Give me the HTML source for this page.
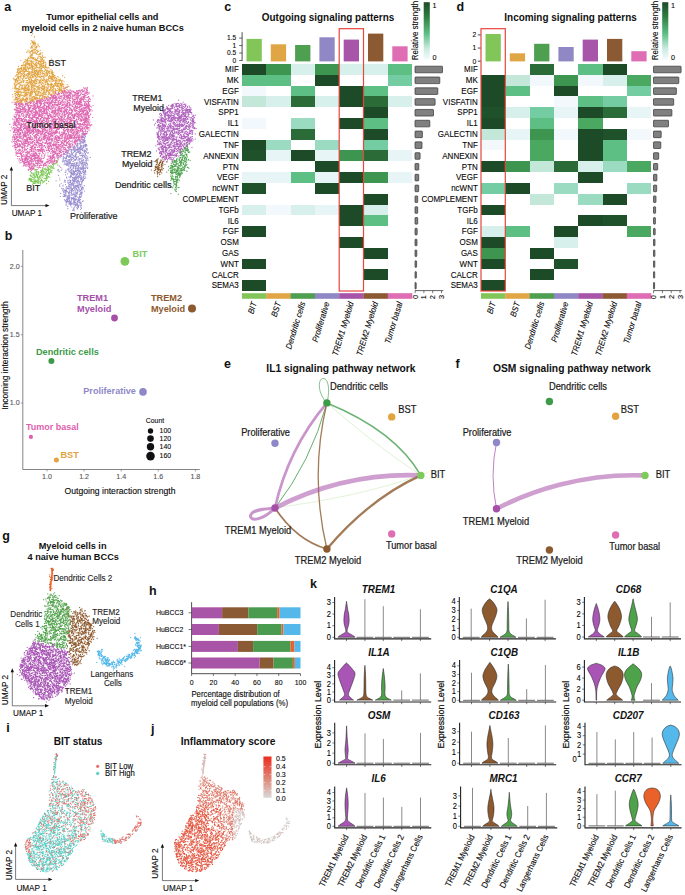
<!DOCTYPE html>
<html><head><meta charset="utf-8"><style>html,body{margin:0;padding:0;background:#fff;}svg{display:block;}text{font-family:"Liberation Sans",sans-serif;}</style></head>
<body><svg width="685" height="895" viewBox="0 0 685 895" font-family='"Liberation Sans", sans-serif'>
<rect width="685" height="895" fill="#fff"/>
<text x="4.2" y="11.2" font-size="12.5" font-weight="bold" fill="#111" transform="translate(4.2 11.2) scale(1 1.08) translate(-4.2 -11.2)">a</text>
<text x="102.3" y="20.5" font-size="9.2" font-weight="bold" text-anchor="middle" fill="#111" transform="translate(102.3 20.5) scale(1 1.08) translate(-102.3 -20.5)">Tumor epithelial cells and</text>
<text x="102.6" y="31.3" font-size="9.2" font-weight="bold" text-anchor="middle" fill="#111" transform="translate(102.6 31.3) scale(1 1.08) translate(-102.6 -31.3)">myeloid cells in 2 naive human BCCs</text>
<path d="M32.5 33.7h0m-.8 1.9h0m2.7 1h0m0 .5h0m-2.8 3.6h0m.4 1.6h0m.3-.2h0m.2-.2h0m.1 1h0m.2-1.6h0m.4 2.1h0m.1-2.3h0m.1 1.4h0m.3 .8h0m.5-1h0m.5-1.3h0m.6 1.5h0m-4.5 1.3h0m.8 2.2h0m.7-.3h0m.9-1.6h0m.5 .3h0m.1 0h0m.1 1.7h0m.2-.3h0m.4 0h0m.2-2.2h0m.6 .8h0m0-.5h0m0-.1h0m.2-.1h0m.2 1.3h0m1 1.4h0m.3 .1h0m1-2.3h0m.1 1.2h0m-7.4 2.5h0m.7-.8h0m.2 .9h0m.6-1.1h0m.2 1.1h0m1.6 1.2h0m1.1-1.5h0m0 .6h0m.3 1.2h0m.4-2.3h0m.3-.5h0m.4 .8h0m0 .4h0m.3-.8h0m.3-.1h0m2.3-.3h0m-12.6 5.7h0m.5-1.5h0m1.6 1.1h0m.1-1.9h0m0 1.4h0m1.7 .2h0m.2-.3h0m.5 .1h0m.1-.9h0m.9 .8h0m.2-1.4h0m.1 .4h0m.3 1.4h0m.2-1.6h0m.5-.3h0m.3-.1h0m.1 2.6h0m.1-2.4h0m.5 0h0m.4 1.7h0m.3 .3h0m.9-1.7h0m.3 0h0m.2 .2h0m.6 1.2h0m.5-1.6h0m.7 1.5h0m1.6-1.3h0m-10.4 2.5h0m.6 .3h0m.6 2.3h0m.2-1h0m.2 .3h0m.8-.9h0m.2 1.4h0m.1-2.1h0m0 .7h0m.5-.2h0m0-.3h0m1.5-.4h0m1.1 .2h0m.9 .6h0m.6 .7h0m.1-1.8h0m.2 0h0m1 2.2h0m.7-.3h0m.7-.8h0m.2 .7h0m.5-.3h0m.1-1.2h0m1.6 2.2h0m.2-2.2h0m-14 4.8h0m.1-.1h0m.1-.3h0m1.4-.8h0m.1-.6h0m.1 .9h0m.5 .3h0m0 .7h0m.6-.5h0m0 .2h0m.5 .7h0m0-2.2h0m.2 1.3h0m.2 .1h0m.6 .5h0m.8 .3h0m.2-.9h0m1.4 .8h0m2.4 .4h0m.3-.3h0m.2-.9h0m.9-.8h0m.2-.5h0m.9 2.1h0m.2-1.8h0m.5 .9h0m.2-.1h0m.4 .2h0m.5 .9h0m.4 .3h0m.2-2.3h0m.1 1.6h0m1.2-.4h0m1.3-.2h0m-24.4 3.4h0m4.6-1.2h0m.6 1.3h0m0-.2h0m0 .7h0m.4-.1h0m.5-.9h0m.2 .5h0m.2-1.3h0m.2 2.1h0m.2-1.5h0m.1-.9h0m.5 1.7h0m.1-2.1h0m1.2 1.9h0m.3-2h0m.8 2.4h0m.6-.7h0m.3 .7h0m0 .3h0m.8-.3h0m.1-2.4h0m.5 .3h0m.6 0h0m.3 2.5h0m0-2.6h0m.8 .7h0m.8 .7h0m.2 .4h0m.3-1.2h0m.1 1.4h0m.4-1h0m.6 .7h0m.1-1.4h0m.2 1.5h0m.4-2h0m.5 2.2h0m1 .1h0m.2 .3h0m1.1-1.6h0m.1 1.8h0m.6-.3h0m.1 .1h0m.1-.9h0m.4-.1h0m.2 1h0m0-2h0m.1 2.1h0m.5-1.9h0m.1 1.6h0m.1-1.7h0m.8 1.3h0m.4-.4h0m7.7-1h0m-28.4 3.7h0m.3-.1h0m.7-1.2h0m.2 .3h0m0-.4h0m1.1 1.7h0m.2 1.1h0m.1 .2h0m.3-1.7h0m.5 .8h0m.3 .4h0m.4-2.1h0m.1 .4h0m0 .2h0m.2 .5h0m0-.3h0m.2-.5h0m0 1.2h0m.6 .2h0m.4 .9h0m.6-.3h0m.1-.8h0m.7-1.4h0m.2 1.9h0m.7-1.9h0m.2 2.2h0m0-.4h0m.1-2h0m.2 1.2h0m.4-.8h0m.4 .7h0m.3 .1h0m.7 .6h0m0-.5h0m.4-.3h0m1.3 1.1h0m.4-.6h0m.4 1.2h0m.1-2h0m.3 .5h0m.1-.8h0m0 0h0m1.1 1.4h0m.2-.2h0m.2-.6h0m.6 .9h0m0-1.7h0m.4 1.8h0m.3 0h0m.1-2.2h0m.9 1.1h0m.4 1.6h0m.3-.8h0m.4 1h0m0-1.6h0m1.1 .7h0m.4 .1h0m.4-1.7h0m.2 .9h0m0 .2h0m.2 .1h0m.1 .1h0m.1-1.5h0m.5 .7h0m.8-.5h0m.6 .9h0m.1 1.5h0m-27.4 2h0m2.5 1h0m.4-1.8h0m.4 1.9h0m.3-2.4h0m.3 .8h0m.4 0h0m.1-.4h0m.1 .5h0m.6-1.2h0m.5 .3h0m.5 2.2h0m.1-1.5h0m.5-1.3h0m.1 .6h0m.2 .4h0m.2 1.4h0m.2-.5h0m.1-1h0m1.3-.9h0m.3 1.8h0m.2 .8h0m.1 .2h0m.5-2.8h0m.4 .5h0m.6 .2h0m.2 .5h0m.1 1.6h0m.1-1.5h0m.9-.1h0m.3-.3h0m.3 1.2h0m.1-1.2h0m.2 1.8h0m.4-2.2h0m.2 1.5h0m.3-1.1h0m0-.1h0m.1 1.9h0m.1-.9h0m0 .3h0m.5 .1h0m.8-.2h0m.1-1.9h0m.1 2.4h0m.2-2.5h0m.6 .8h0m.7 .4h0m.3-.4h0m.4 1.1h0m.2-1.7h0m.2 2.6h0m.1-1.7h0m.4 .1h0m2.1-1h0m.4 1.4h0m0-1.2h0m.1 2.2h0m.1-.3h0m0-.2h0m.5-.7h0m.9 .3h0m0 .4h0m.1-.9h0m.2-.3h0m.8 1.8h0m.3-1.4h0m.1 1.7h0m.2-2.7h0m.3 2.2h0m.2-1.6h0m.4 1h0m.1-.2h0m0 1.2h0m1-1.7h0m.2 .6h0m.1 .7h0m.1 .3h0m0-2.5h0m.2 2h0m0-1.7h0m.1 1.5h0m0 .6h0m.5 .2h0m.2 0h0m1.7-.1h0m-30.9 2h0m.3-.4h0m.7 1.3h0m.3-1.8h0m.2 2h0m.7-.7h0m.3-.9h0m.7-.5h0m.7 1.1h0m.1 .5h0m0-1.4h0m.2 .1h0m.1-.2h0m.3 1h0m.1 .7h0m1.1-2h0m.2 2.1h0m0-2h0m.2-.5h0m.1 1.3h0m.6-.4h0m.1-.2h0m.1 1.3h0m.3-1.3h0m.5 2h0m.1-.9h0m.1-.5h0m.2-.2h0m.1-1.2h0m.1 1.1h0m.7 .6h0m0 .4h0m.7-2.1h0m.1 .3h0m.1-.2h0m.8 .3h0m.1 1.1h0m.1 .2h0m0-.6h0m.2 .9h0m.7-1.2h0m.3-.1h0m0 0h0m.2-.4h0m.3 .7h0m.3-.8h0m1.2 1.8h0m.4-1.7h0m.2 1.6h0m.1-1.1h0m.6 0h0m0 1.3h0m1.2 .6h0m.2-1.6h0m0 .6h0m.3-.9h0m.7-.1h0m.2-.4h0m.9 2h0m.3-2.1h0m1 2.3h0m.1-2.5h0m.5 .2h0m.4-.2h0m.3 2.9h0m.3-.6h0m0-2h0m.9 2.3h0m.1-2h0m.8 .3h0m0 1.8h0m0-.5h0m0-.7h0m.2-1.2h0m.3 1.1h0m.2-.5h0m2.5 0h0m.8 1.1h0m.4-.3h0m.2 .8h0m.2-.3h0m.4-2.1h0m.8 2.2h0m.3-1.9h0m1.7 .2h0m1.9 1.2h0m-34 3.1h0m.5-1.3h0m.2 .2h0m.2 .8h0m.1-1.6h0m.1 2.5h0m.3-.3h0m0 .2h0m.9-.5h0m.1-.6h0m.5 .3h0m.1 .4h0m.4-.7h0m.1-.9h0m.1 2.2h0m.2 .2h0m.9-1.8h0m.2-.1h0m.4-.9h0m.5 .3h0m0 1.9h0m1-1.3h0m.1 .6h0m.6 .8h0m.2-1.6h0m.4 .1h0m1-.5h0m.5-.2h0m.2 .9h0m.6-.2h0m1.2 .8h0m.2-.9h0m0-.2h0m.6 1.6h0m0-.9h0m0 .4h0m.2 .7h0m.6 .5h0m.8-1.7h0m.3 .9h0m.7-1h0m.4 .2h0m0 1.2h0m.2-2.4h0m.4 1.7h0m.8-.3h0m0 0h0m.2-.4h0m0 .6h0m.4-.6h0m0-.5h0m.1 .7h0m.1-.3h0m0-1h0m.3 2.6h0m.2-2.1h0m.1 2.5h0m.2-1h0m.2-.1h0m0 1h0m0-2.8h0m.4 2.7h0m.3-1.9h0m.1-.2h0m.2-.1h0m.3 .6h0m0 1.3h0m.3-.1h0m.4-.2h0m.5-1.8h0m0 1.3h0m0 .2h0m.4 .3h0m.1-1.2h0m.2-.7h0m.8-.3h0m.1 1.4h0m.5-.7h0m.1 1.7h0m.1 .3h0m.1-.7h0m.5 .6h0m0-2.6h0m.2 .1h0m.7 .6h0m.4 .8h0m.1 1h0m.3-2.3h0m1.1 1.2h0m.8-.8h0m.1 0h0m.3 2.2h0m1.1-.9h0m.4 .8h0m0-1.5h0m.2-.7h0m.4 1.2h0m.3-1.5h0m.4 2.6h0m.3-2.1h0m.4 1.5h0m.1-1.6h0m.3 1h0m.1-.9h0m.6 1.9h0m.2-1.8h0m.1 1.9h0m.2-2.2h0m1.2 1.1h0m.3 1.3h0m.3-2.8h0m0 2.2h0m.1-1.2h0m0 1.1h0m0-1.7h0m.7 1.5h0m.1-.3h0m.2 .2h0m-37.9 3.6h0m.9 .1h0m.3-1h0m.2-.4h0m.1 .1h0m1-.1h0m0 1.6h0m.5-2.5h0m.5 2.5h0m.2-.5h0m.1-2h0m.5 .2h0m1.5 2.2h0m0-1h0m.1 1h0m.1 .1h0m.1-.4h0m.1-1.7h0m.1-.5h0m1.2 .6h0m.6 1h0m0 .1h0m.4-1.8h0m.1 2.8h0m.2-.8h0m.3 .5h0m.3-1.4h0m.1-.3h0m1.1 .6h0m.3 .3h0m.2-1.1h0m.3 .8h0m.8 1h0m0-.5h0m.3-1.9h0m.2-.1h0m0 1.4h0m.2-1.1h0m.2 .4h0m.2-.6h0m.2 1.6h0m0-1.6h0m.6 .4h0m.2 .7h0m.9 1.4h0m.3-2.1h0m.2 0h0m.3 .1h0m.2 1.3h0m.1-1.4h0m.6 2h0m.6-1.1h0m.1 1.3h0m.4-1.5h0m.4-.7h0m.5 .8h0m.2-1h0m.3 1.6h0m.1 .3h0m.2-1.4h0m.6 1.3h0m.1 .8h0m.9-1.7h0m.6 .2h0m.2 .4h0m0-1h0m.2 .9h0m.2 .9h0m.2-2.2h0m.1 .1h0m.2 .1h0m0-.3h0m.4 1h0m.2-.2h0m.4-.4h0m0 .6h0m.7 1.6h0m.8-1.6h0m.4 0h0m.9 1.4h0m.1 .1h0m.5-2.4h0m.1 2.4h0m.6 .1h0m0-2.6h0m.6-.2h0m.1 2.5h0m.3-.4h0m.4-1.1h0m.4 .1h0m.6 1.4h0m.1 .1h0m.9-.3h0m0-2h0m.4 1.1h0m.2 .4h0m.3-.5h0m.3-1h0m1.1 2.5h0m.6-1h0m.2-1.8h0m.2 .2h0m.7 2.6h0m.1-.4h0m1.1-2.2h0m.3 1.4h0m.3-1.3h0m0 .8h0m.1 1.3h0m.1-2.5h0m.1 2.7h0m.6-1.6h0m0 1.7h0m.2-2.1h0m.6 1.1h0m.1 1.2h0m.8-.9h0m7.6 .2h0m.1-.2h0m-49.3 2.7h0m.7 .7h0m1.8 .3h0m.6-.8h0m.2 .9h0m.9-1.9h0m.3 .9h0m.2 0h0m.2-1.1h0m0 1.3h0m.5-1.9h0m.1 1.6h0m.1-.2h0m.1-1.3h0m1.1-.3h0m.4 1.2h0m.1 .1h0m1.3 .8h0m.2 .3h0m.3 .5h0m.6-2.9h0m.3 .8h0m0 .9h0m1.1-1.5h0m.2 .1h0m.2-.1h0m.4 1.5h0m.7 .2h0m.4-.2h0m.8-.9h0m1 1h0m.1-1.7h0m.4 2.4h0m.1-1.2h0m.4-.3h0m.5 1.9h0m.2-2.8h0m.1 1.4h0m.3 0h0m.4-.8h0m.2 .9h0m.4 1.4h0m.3-1.4h0m1-.9h0m.5 .6h0m.1-.4h0m.2-.9h0m1.6 2.4h0m.1-2.1h0m.3 2.3h0m.4-2.5h0m.2 1.5h0m.8-.9h0m0 2.2h0m.8-.1h0m.2-.1h0m.5-2.3h0m.8-.1h0m.3 0h0m.8 .6h0m.5 1.7h0m.4-2.1h0m0-.3h0m.3 2.2h0m.9-2.4h0m.5 .2h0m.1 .1h0m.4 2h0m.2 0h0m.2-.3h0m.5-1.1h0m.4 1.6h0m1.6 .4h0m.2-.3h0m1.9-1.9h0m0 .3h0m.3 .4h0m0 1h0m.3-2.4h0m.8 1.5h0m.2 .5h0m.1-1.1h0m.1-.8h0m.4 1h0m.6 .8h0m.2-.6h0m.2-1.3h0m.1 .9h0m.2 .9h0m.4 .4h0m.1-2h0m.1 .5h0m.1 .1h0m.4 1.8h0m0-.6h0m.8-.8h0m1 1h0m.2-1.1h0m.2 1.7h0m.4-2h0m.9 1.5h0m.2-.7h0m.2 .7h0m.8-2.2h0m1.2 .9h0m.7 2h0m.9-.5h0m4.2-1.7h0m-50.3 2.6h0m.8-.2h0m.1 2.4h0m.1-.6h0m.1-.3h0m.2-.9h0m.1 2h0m.5-1.4h0m.1-.8h0m.2-.2h0m.6 2h0m.4-.6h0m0-1h0m.5 .7h0m.8-1.1h0m1.1 2.3h0m.1-2.2h0m0 .3h0m0-.5h0m.3 2.7h0m.9-.3h0m.2-1.2h0m1.3 .1h0m.6-.8h0m.2 2h0m.1-.8h0m.4-.2h0m.2-1.2h0m1.9 .5h0m.9 0h0m.3 1.5h0m.4-1.6h0m.6 1.8h0m.8-2.7h0m.2 1.8h0m.3 .8h0m.1-2.5h0m.1 1.2h0m.1 1.3h0m.7-.9h0m.4 1.1h0m.4-1.4h0m.1-1.3h0m0 .8h0m.1-.7h0m.2 2.2h0m.4-1.1h0m.6-.4h0m.4 .1h0m.3 1.2h0m0 .7h0m.6-1.5h0m.1-.2h0m.3 .8h0m.4 .5h0m.1-2.6h0m0 .7h0m.7 .6h0m.4-.5h0m.5 1.1h0m.4 .7h0m1.1-1.5h0m1.1-.5h0m.2 2.3h0m.1-.7h0m.6-.9h0m.3-.5h0m.5 .4h0m.3 1h0m1.3-1.3h0m0-.6h0m1.1 .8h0m.3 1.2h0m.2-2.2h0m0 1.1h0m1.2 1h0m.4-1.4h0m.1 1.8h0m.5-.5h0m.1-1.3h0m.5 1.1h0m.2 .5h0m.2-.7h0m.3-1.6h0m.6 .4h0m.7 .3h0m.2 .9h0m1 .6h0m1-1.9h0m0-.2h0m.1 .5h0m.8 1.3h0m.2-1.9h0m.8 1.6h0m.2-1.4h0m.5 .6h0m1.2 .4h0m.3 .5h0m.3-.2h0m.1-.5h0m.3 .4h0m.4 1h0m.3-1.7h0m.3 .3h0m.9 1h0m.2-1.9h0m.4 .2h0m.9 1.6h0m.1-1.4h0m0 .5h0m.9-.5h0m.7 .6h0m.3-.1h0m.2 .7h0m.1-.1h0m.1 1.1h0m0-.5h0m1-1.5h0m1.3 1.3h0m-49.9 1.7h0m.3 1.4h0m.1 .3h0m.4-.9h0m.1 1.2h0m.4-1.3h0m.8 1.4h0m.4-1.4h0m.2 .4h0m1-.5h0m0 .1h0m.4-1.1h0m.6 .7h0m0-.2h0m.1-.3h0m.2 .4h0m.7 .7h0m0-.4h0m.6-1.3h0m.2 2.1h0m.1 .7h0m1.1-2.6h0m.3 2.5h0m1-.3h0m2-.7h0m1-1.5h0m.4 2.3h0m.4 .5h0m.2-2.8h0m.3 1.7h0m.3-.4h0m.6 1.5h0m0-2.2h0m.1 1.9h0m1.6-1.8h0m.1 1.1h0m.2-1.1h0m.6-.8h0m.3 2.7h0m0-.7h0m.3-1.5h0m.1-.4h0m.3 2.1h0m.5-1.3h0m.2 1.4h0m.1 .3h0m.2-.5h0m0-1.7h0m.1-.1h0m.1 2.1h0m0-.6h0m1.3 .6h0m0-2h0m.3 1.8h0m.3-1.7h0m.1 1.1h0m.2-1.5h0m.9 .7h0m.7 .3h0m1.9-.8h0m.4 .9h0m.1 1.5h0m1.1-2.3h0m.1-.4h0m.7 1.8h0m.7 .7h0m.1-1.8h0m0-.5h0m.4-.3h0m.1 2.8h0m.8-1.6h0m1.7 1h0m0-1.7h0m.4 1.3h0m.4-1.7h0m1.2 1.4h0m.2-1.1h0m.2 .4h0m.3 1.1h0m.4 .3h0m.1-1.2h0m.3 .8h0m0 .1h0m.2 .3h0m0-.6h0m.3 .5h0m1.2 .3h0m.5-.8h0m.1-.3h0m.2 .6h0m.6-1.2h0m.3 1.1h0m.9 .1h0m1.8-.9h0m.2 0h0m.1 1.5h0m.1-1.1h0m.4 1.2h0m.1-1.1h0m0-1.3h0m.2 1.9h0m.3-1.3h0m.4 .2h0m.2 1.5h0m.5-1.6h0m.2 1.9h0m.4-.7h0m.1-1.6h0m0 .5h0m.2-.2h0m.1 1.5h0m.3-1.1h0m.2-.4h0m.4-.5h0m.1 .4h0m.1 .6h0m.3-.4h0m.4 1.9h0m.2-1.9h0m.4 .9h0m.3 1.1h0m.1-1.7h0m.3 1.1h0m0-.1h0m.7 .5h0m0-1.1h0m.3-.7h0m.2-.1h0m.3 1.4h0m1.1-.5h0m3.4 .5h0m-54.3 3.4h0m1.6-.1h0m.5-1.9h0m0 1.3h0m.1-1.2h0m.3 1.1h0m.2-1.4h0m.1 1.3h0m.5 .9h0m.5 .2h0m1.8 .1h0m.5-1.9h0m0 1.3h0m.4-1.6h0m0 .6h0m.4 .1h0m1.9-1.3h0m0-.1h0m0 .2h0m.1 1.9h0m.2-.2h0m0-.4h0m.2-.3h0m.5 1.6h0m1-.3h0m.6-1.2h0m.1-1.2h0m.3 2.5h0m.1-.7h0m.7 .7h0m0-2.1h0m.2 1.2h0m0 1h0m0-2.4h0m.4 0h0m0 2.6h0m.1-2.1h0m.6 1.9h0m.1-.1h0m.3 .1h0m0-.4h0m1 .2h0m0-1.4h0m.1 .9h0m0-1.6h0m.4 1h0m.2 1.3h0m.1-1.4h0m0 1.6h0m.2-1.9h0m.5-.4h0m1.4 1.7h0m.1-.5h0m.2-.8h0m.1 1.3h0m0-1.2h0m.1-.4h0m.4 1.9h0m.4-2.3h0m.1 1.9h0m0-1.9h0m.3 1.9h0m.1-.3h0m.4-1.6h0m.2 .4h0m.5 2.2h0m.7-.4h0m.1-1.9h0m0 .4h0m.1-.8h0m.2-.2h0m.5 .5h0m1.2 1.6h0m.1-.7h0m.1-.9h0m0 1.4h0m.9-.8h0m.4 .4h0m.1-.9h0m0 1.9h0m.5-1.5h0m.2 1.7h0m.5-.6h0m1.1-.4h0m.6 1.1h0m.3-.5h0m.4-1.2h0m.4 1.4h0m.1-1.3h0m.8-.7h0m.3 0h0m.2 2h0m.1-.1h0m.1-1h0m0-.6h0m.3-.5h0m0 2.1h0m.1 .4h0m.3-2h0m.1 .7h0m0-.8h0m.2 1.3h0m1.5-.4h0m.7 .5h0m.5-1.8h0m0 2.7h0m.8-.7h0m0-1.6h0m1.6-.1h0m.3 1.9h0m0-.5h0m.5 .4h0m.2-1.7h0m0 2.3h0m.3-2.9h0m.2 0h0m.4 .4h0m.2 1h0m0 .8h0m.3-.7h0m.5-.2h0m.1-.1h0m.3-1.1h0m.3 1.6h0m.1-.2h0m.3-1.2h0m.7 0h0m1.8 .4h0m.4-.5h0m.2 .9h0m.5-.8h0m.1 .2h0m.2-.4h0m.1 .9h0m0-.6h0m.8 .5h0m.1 1.3h0m.5-.5h0m.4 .6h0m.5-1.8h0m.9 1.2h0m.3-1.5h0m.2 1.2h0m1.3-.6h0m.1-.2h0m.3 .3h0m.4 .9h0m.3 .9h0m.7 .1h0m1-1h0m.7-.2h0m1.2-.6h0m1-.4h0m-54.2 5.2h0m.3 0h0m.1-2.7h0m.4 .2h0m.4-.2h0m.2 .5h0m.2 1.9h0m.3 .2h0m.5-2.2h0m.1-.4h0m.1-.1h0m.7 0h0m0 2h0m.3-1.7h0m.1 1.6h0m.1 .9h0m.4-2.4h0m.3 .4h0m.5-.1h0m.2 1.7h0m.1-1.5h0m.2 1.9h0m.4-.1h0m.6-1.5h0m.1-1.2h0m.5-.1h0m.3 .4h0m.2-.3h0m.8 .2h0m.8 1.4h0m.1-1.1h0m.1-.5h0m.3 2h0m.1-1h0m0-.5h0m.4 1.3h0m.7-1.7h0m.2 1.6h0m.1-.1h0m.2 .6h0m0 0h0m.5-.6h0m.2 0h0m.1-1.1h0m0 1h0m.1 .2h0m.2-.8h0m.1 .7h0m.4-.3h0m.4 .4h0m.3-.6h0m.2-.2h0m0 .1h0m.4 .7h0m.4-1.3h0m.1 .2h0m.2 .2h0m.2 .5h0m.9 1.1h0m.4 0h0m.2-1.6h0m.6-.4h0m.1 .7h0m0 1.1h0m.1 .2h0m.4 0h0m1.1 .3h0m.3-.2h0m0 .3h0m0-1.8h0m.2-.3h0m.1 1.1h0m.5-.6h0m.3-1.1h0m.2 2.6h0m.3-2.2h0m1 1h0m.1 1.4h0m0-1.2h0m.9-1.5h0m.1 2.2h0m.3-1.4h0m.3-.3h0m.1 2h0m.6 0h0m.1-.1h0m.1-2.6h0m.4 .7h0m.1 .2h0m.4-.5h0m1.5 1h0m.1 .4h0m.5-.3h0m.2-1.4h0m.1 .3h0m.7 .1h0m.3 .3h0m.2-.4h0m0 .3h0m.2 .7h0m0-.5h0m.1 1.6h0m.2-.4h0m.2-1.5h0m.3-.3h0m.2-.1h0m.2 2h0m1.1-1.6h0m.2 1.9h0m0-.6h0m.2-1.6h0m.4 .9h0m.2 1.1h0m.1 .4h0m.6-1.5h0m.3 .9h0m.6 .4h0m.2-.4h0m.6-1h0m0 .9h0m1-1.6h0m.3 .7h0m0 1.4h0m.1-2.3h0m.1 .1h0m.5 2.1h0m.3-.4h0m.7-1.1h0m.4 1.4h0m.6-.8h0m.2-1.6h0m.1 .3h0m.2-.2h0m1.3 1.7h0m0-1h0m.2-.4h0m.3 1.3h0m.8 .3h0m.2-.2h0m.9-1.7h0m.2 2h0m.8-1.3h0m.5 1h0m.2-.7h0m.1 .3h0m.1-1.3h0m.6 1.7h0m.1-.7h0m.3-.3h0m.1 .1h0m.1 1.7h0m.1-.5h0m.2-1.7h0m.7 1.5h0m.3-1.6h0m.1 2.5h0m.8-.3h0m.2-.6h0m.5-1.8h0m.2 0h0m.2 .4h0m1.2 2.1h0m.1-.6h0m1.2-1.1h0m3.1 .6h0m-55 3.6h0m.8-.3h0m0 .5h0m.8-1.5h0m.1 1.8h0m.3-1.7h0m.1-.6h0m.2 2.6h0m.4-2h0m.2-.7h0m.5 1.2h0m.1 1.5h0m.1-1h0m.1 .5h0m.4-1.3h0m.5-.3h0m1.3-.4h0m.2 2.4h0m.3-.7h0m.1-1.3h0m.1 .1h0m.7-.1h0m.8-.3h0m1 .8h0m.2-.7h0m.2-.5h0m0 .6h0m.3 .3h0m.3 1.6h0m.8-1.2h0m.1 .9h0m0-.4h0m.2-1.5h0m.1-.2h0m.2 2.7h0m.6-1h0m.2-1.2h0m.3 .4h0m0 1.9h0m.6-.2h0m.4-2.4h0m.3 .6h0m.2 1h0m1-1.5h0m.3 1.2h0m.2-.8h0m0 1.3h0m0-.3h0m.2 .4h0m.5-1.5h0m.1-.7h0m.1 1.2h0m.4 .4h0m.2 .1h0m0 .2h0m.4 .1h0m0-1.7h0m.1 .5h0m.2-.2h0m0 1.8h0m1.6-2h0m.4 .5h0m.3 .1h0m.4 .3h0m.3 1h0m.1-.8h0m.2 .7h0m.1 .5h0m.1-.3h0m.2-2.1h0m.4 2.3h0m0-2.5h0m1.1 1.3h0m.4 .2h0m.2-.8h0m.2 1h0m.2-1.7h0m1 .5h0m.3-.1h0m.2 .8h0m.7-.7h0m.3 1.9h0m.7-.3h0m.3-.5h0m0 .6h0m1-1.7h0m.2 1.1h0m.4-1.2h0m0 2.2h0m.4-1.9h0m0-.5h0m.7 1h0m.1 .5h0m0 .9h0m.1-.1h0m.7-1.5h0m.5-.4h0m0 2.1h0m2-.6h0m.4 .3h0m0-1.7h0m.4 .4h0m.3 0h0m.1-.3h0m0 .5h0m0 .1h0m.3 .9h0m0-1.7h0m.8 1.9h0m.9 0h0m1.1-2.1h0m.4 2.2h0m.2-1.1h0m0 .5h0m.3-1.9h0m1.4 .1h0m.2 .9h0m.2 1h0m.1-1.4h0m.3-.9h0m.3 1.7h0m0 .1h0m2.5-1.3h0m.5-.3h0m.4-.2h0m0 .4h0m1.5 .9h0m.1-.1h0m.9-1.1h0m1.4 .7h0m1.8 1.1h0m-52.5 1.2h0m.4 2.3h0m2.2-1.6h0m.1 .8h0m0-.3h0m1 1.6h0m.9-2.4h0m.3 .9h0m.1-1.1h0m.7 1.9h0m.2-2.1h0m.6 2.5h0m.3-2.5h0m.1 1.8h0m0-.9h0m.1 1.4h0m.1-1.3h0m0 .9h0m0-.2h0m.1-.3h0m.3 .8h0m.2-1.7h0m.7 .1h0m.9 .4h0m.8-.4h0m.9 .6h0m.2 .5h0m.5 .2h0m.4 0h0m0-1.3h0m.1-.4h0m.4 .9h0m.2-.6h0m.1-.1h0m.6 2.2h0m.2-1.5h0m.3-.6h0m.1 .5h0m.6-.8h0m.5 2.1h0m1.5-1.6h0m.5 .2h0m0-.2h0m.1 1.3h0m.1-2.1h0m.1 1.4h0m.6-.2h0m.4-.2h0m.1-.9h0m.4 1.4h0m.7 1.2h0m.4-.4h0m1-.5h0m.9 .5h0m.3 0h0m.2-1h0m.6-1.2h0m.1 .2h0m0 .2h0m.3 2.3h0m.2-2.1h0m.5 1.8h0m0-2.5h0m.2 0h0m.3 .6h0m.2-.1h0m0 .3h0m.1-.4h0m.3-.3h0m.3 .6h0m.2 0h0m1.1-.1h0m.1 1.9h0m.3-1h0m.6-.5h0m.1 .6h0m.1-1.1h0m.1-.1h0m1.1 .7h0m1.1-.4h0m.1 1.7h0m.2-1.7h0m.4 1.7h0m.6 .6h0m.2-1.1h0m.5 .5h0m.4 0h0m.4-.8h0m1 .9h0m.8-1h0m.8 .9h0m.3-2.2h0m1.9 .6h0m6.1-.7h0m-42.7 5.5h0m.8-.3h0m.5-1h0m.4-1.1h0m.2 .1h0m.1 1.2h0m.1 .9h0m.6-.7h0m.2-1.7h0m.1 .2h0m.2 1.2h0m0 .3h0m.2 .1h0m.5 .3h0m.1 .8h0m.2-1.6h0m0-.2h0m.2-.1h0m1 0h0m.7 1.3h0m.5-.2h0m.4-.7h0m.2 1.5h0m0-1.4h0m1-.9h0m.2 1.4h0m0 .8h0m.4-2.3h0m.1-.5h0m.3 1.7h0m.2-.8h0m.1 1.7h0m.2-1.2h0m0 .1h0m.4 .5h0m0-.2h0m.1 .7h0m1-.1h0m.1-1.1h0m.6 .8h0m0-.2h0m.3 .9h0m.1-2.1h0m.1 .7h0m.3-.4h0m.7 1.2h0m.3-.3h0m.1-.4h0m1.5-.9h0m.1 1.8h0m.5-1.7h0m.4 .5h0m.1-.6h0m.2 2.2h0m.2-.1h0m.1 0h0m.6-.3h0m.1 .2h0m.1-1.3h0m.2-.3h0m0-.8h0m.2 .1h0m.1 1.5h0m0-1.1h0m0 .1h0m.2 1.5h0m.6-.2h0m.7 .4h0m.1-2.5h0m.2 .2h0m.1 1.2h0m0-.6h0m.1 .9h0m.5-.3h0m.1-.5h0m.6 1.2h0m0-1.4h0m.6 .6h0m.3-.8h0m.5 .4h0m.3 .3h0m.3-1h0m.1 1h0m.5-.4h0m.8 .7h0m.7-.9h0m.1 .9h0m1.4-.3h0m.4 .3h0m.1-1h0m.5-.2h0m.6 2.2h0m.3-1.8h0m2.1-.4h0m.1 .1h0m1.4-.4h0m1.3 1.7h0m-33.6 3.1h0m1.6-.3h0m1.2 .2h0m.3-.6h0m.1-.2h0m.2-.7h0m.1 2.1h0m.8-1.6h0m.4 .1h0m.5-.8h0m0 .5h0m.4 1.3h0m.6-1.4h0m.1 1.6h0m.1-1.4h0m.4 1.7h0m.1-.2h0m.2-.3h0m.1-.2h0m.1-.3h0m.5-1.1h0m.2 .4h0m.6 1.9h0m1.9-1.1h0m.2-.8h0m.4-.5h0m.6 2.3h0m.3-1.5h0m.2-.5h0m.1-.2h0m.5 .4h0m.8 1h0m.9 .3h0m.2 .5h0m1-1.2h0m1 .4h0m.1-1.1h0m1.1-.4h0m1.1 .6h0m0-.1h0m.9 .1h0m2 .9h0m.5-1.6h0m1 .5h0m.6 .2h0m-22.5 3.1h0m1.1 .8h0m.2 .3h0m4.9-1h0m6.9-.6h0m-10.1 3.1h0" stroke="#E2A544" stroke-width="1.24" stroke-linecap="round" fill="none"/>
<path d="M65.2 88h0m2-.6h0m16.6 .3h0m2.1 .2h0m1.4-.6h0m-25.8 2.7h0m2.6 0h0m.1 1.1h0m.2 .3h0m.3-.5h0m1.4 .6h0m1.8-1.3h0m.9 .8h0m1.7-.8h0m1.1 1.1h0m.4-.5h0m1.2 .5h0m.3-.3h0m3.2-.5h0m.8 .6h0m.6-.2h0m.5-.3h0m1.1-.4h0m.4 .3h0m0 .8h0m1.1-1.4h0m.8 .5h0m.6-.7h0m.7 1.3h0m.7 0h0m.3-.6h0m0-1.9h0m.7 .4h0m1.2 2.3h0m0-.1h0m.3-1.7h0m.3 .4h0m.5-1.1h0m.1 2h0m-32.9 3.4h0m.2-.3h0m.4-1.9h0m0 0h0m.8 1.1h0m1.7 1h0m.5 .4h0m.2-1.7h0m.3 .8h0m.2 .7h0m.7-.6h0m2-.1h0m.7-.5h0m0-1.3h0m.2 .5h0m.3 .2h0m0-.2h0m.1 .7h0m.1-1h0m.8 1.8h0m.1 .6h0m.3-2.3h0m.6 0h0m.3 .7h0m.9-.7h0m.6 .9h0m.7-.9h0m0 1.3h0m.4-.8h0m1-.5h0m.2 0h0m.1 2.4h0m.2-1.4h0m.2-1h0m.5 2h0m0-1.9h0m.3 .4h0m.1 1.3h0m0-.8h0m.1 .1h0m0-.7h0m.7 1.3h0m.1-1.2h0m.7 1.4h0m1.2-2.1h0m.9 .3h0m.3 .5h0m.5 .3h0m0-.4h0m.1-.5h0m.5 1.1h0m.5-.8h0m.1 .4h0m.4 .9h0m.2-2.1h0m.4 2.4h0m.2-.5h0m.2 .9h0m.2-.5h0m0-.6h0m.1 .5h0m.1-.4h0m.2-1h0m.1 .9h0m.7 .1h0m.4-1.1h0m1.4 2.1h0m.4-2.1h0m.2 1.5h0m.2-.7h0m1.1 1.3h0m.1 0h0m0-2.6h0m.5 .1h0m.4 2.5h0m0-2.7h0m1.3 2.3h0m.4-1.7h0m0 .7h0m.9 .4h0m.4 .2h0m.1-1.3h0m.7-.1h0m0 .7h0m.3 .1h0m.3-.3h0m1 1.2h0m.4-1.1h0m-72.8 4.7h0m26.2-1.3h0m5.5 .8h0m1.4 .6h0m1.7-1.8h0m.4-.8h0m.4 1.5h0m.2 .1h0m0 .9h0m.4-.1h0m.3-1.6h0m.1 .5h0m.2 1.1h0m.4-1.7h0m.2 .9h0m.5-1.1h0m.5 2h0m.6-.7h0m.1-1.1h0m.2 1.1h0m.4-.3h0m.3 .5h0m.2 .2h0m0-.2h0m1-2h0m.1-.1h0m.5 1.2h0m.1 1.4h0m1.2-.6h0m0-1.8h0m.4 1.8h0m.6-.8h0m0 0h0m.1 .5h0m.8-.7h0m.6 .7h0m1-1.2h0m.3 .2h0m.3 2h0m.5-2.9h0m.2 1.3h0m.1 .4h0m.6 1.2h0m.1-2.4h0m0 1.3h0m.4-1.6h0m1 2.2h0m0-1.2h0m.1 .8h0m.1-1.2h0m.1 .6h0m0-.5h0m.1-.6h0m.2-.1h0m.5 .7h0m.1 .9h0m.4 .1h0m0 .7h0m.2-.9h0m.3-1.2h0m.2 2.3h0m.1-2h0m.2 .1h0m.6-.7h0m.3 2.5h0m.1-1.6h0m.1-.6h0m.1 .9h0m.5 .4h0m1.6-.6h0m.3 .6h0m.2-1.6h0m.4 1.3h0m0-1.1h0m0 1h0m1.1-1h0m.2 .9h0m.3-.1h0m.1-1.3h0m.1 3h0m.2-2.7h0m0-.1h0m.8 2.1h0m.5-1.8h0m.2 .3h0m.4 1h0m.5-.5h0m.1 1.7h0m.7-.1h0m0-1.2h0m.2-1.4h0m.6 1h0m.5-.2h0m.2-.1h0m.6-.9h0m.6 2.5h0m.9-.2h0m0 .2h0m1-.3h0m.5 .3h0m.1-.5h0m.1-1.6h0m.2 1.6h0m.6-1.4h0m0 2.2h0m.1-2.2h0m.3 1h0m.9-.8h0m1.4-.8h0m.2 2.8h0m.9-.8h0m.3 .1h0m.1 0h0m4.2-.8h0m-65.7 2.4h0m9.6 1.6h0m.5 .5h0m.4 .1h0m0-.2h0m.7 0h0m1.3 0h0m.4-.9h0m.8 .8h0m1.1-.7h0m.6 .1h0m.1-.5h0m.8 1.2h0m1.1-1.8h0m.4 1.1h0m.1 .9h0m.3-.1h0m.9-2.1h0m.2 0h0m.1 .9h0m.8 1.3h0m.1-1.7h0m1 .4h0m1-.9h0m.3-.2h0m.2 1.5h0m.2-2h0m.1 1.5h0m.1 0h0m.8-1.2h0m0 .1h0m.5 2.3h0m.5-1.5h0m.6 1.3h0m.2-1.4h0m0 1h0m.4-1.2h0m.5-.3h0m0 .1h0m.1-.8h0m.4 .1h0m.4 2.8h0m.2-1.7h0m.4-.8h0m.3 1.5h0m.4-.4h0m.1-.2h0m.1-1.2h0m.1 2.7h0m0-.5h0m.6-.8h0m.8-.6h0m1.1-.7h0m.1 2.4h0m.6-1.6h0m.3 1.6h0m.4-1.6h0m.8-.5h0m.7 1.8h0m0-1.9h0m.8 2.4h0m.6-1.1h0m.7-1.1h0m.3 .8h0m.1-.4h0m0-.5h0m.1-.2h0m1 1.9h0m.8 .2h0m.4-2.1h0m.7 1h0m.2-.3h0m.2-.8h0m.1 1.3h0m.9-1h0m.4 .1h0m.1 2.1h0m.1-.5h0m.5-.9h0m1-.6h0m1.3-.3h0m.4 1.2h0m.3-.8h0m.1 1.6h0m.7 .3h0m.2-.4h0m.2-.1h0m.1-.2h0m0 .1h0m.1-.5h0m.9 .5h0m.5-.5h0m.7-.9h0m.5-.3h0m.1 .6h0m.2 .9h0m.1-1.4h0m.1 2h0m0-1h0m.8-.9h0m1.2 1h0m.2-.2h0m0 .5h0m.9 .8h0m.1-2.2h0m.1 .8h0m.4 1.6h0m.5-.4h0m.2-1.5h0m0 .9h0m.3-.3h0m.5 .5h0m0-.8h0m.6 .5h0m.2 .9h0m.2-2h0m.8 .8h0m.3-.2h0m0-1.3h0m1.2 2h0m.2-2h0m1.5 .1h0m1.1 2.2h0m.3-.8h0m0-.9h0m.2 .7h0m.5-.1h0m.7 .8h0m-78.3 2.8h0m2.9 .6h0m.6 .2h0m.8-1.3h0m2 1.5h0m.5-.5h0m1 .6h0m1.5-2.3h0m.3 2h0m3.8 .2h0m1.3-1.7h0m.4 1.9h0m.1-.4h0m2.1-.9h0m.6 .4h0m.6 .8h0m.1-.4h0m.1-1.5h0m.2 1.6h0m.1 0h0m.1-.8h0m.1 .4h0m1.2-1.9h0m.3 .7h0m.5 1.8h0m0-.8h0m1.3-.3h0m1.7 1.2h0m.2-2.1h0m.2 1.3h0m.2 .6h0m.5-1.3h0m.2-.2h0m0 1.5h0m.1-1.6h0m1.1 1.2h0m0-1.7h0m.1-.1h0m.4 .1h0m0 1.8h0m.1-2.3h0m.1 1.7h0m.4 .9h0m.2-1.6h0m.2 1.1h0m.2-1.6h0m.6 1.3h0m.4-1.3h0m.2 1.9h0m.3-1.9h0m.9 .4h0m.4 1.9h0m1.1-1.1h0m0-1.2h0m1.1 1.5h0m.2-1.8h0m0 2.2h0m.5 .1h0m.5-.9h0m.4 1.1h0m.3 .1h0m.2-1.4h0m.2 1.4h0m.1-.9h0m.2-1.8h0m.6 2h0m.1-1.9h0m.4-.2h0m0 .8h0m.2 1.9h0m.1-.6h0m.8 .1h0m.7-.6h0m.2-1.3h0m0 2.2h0m.5-2h0m.1 2h0m.2-.7h0m.1-1.2h0m.7 0h0m.2 .8h0m.4-.2h0m.7 .5h0m.2 .6h0m0-.4h0m.8-1.7h0m.2 1.7h0m.2-.6h0m.4-1.3h0m.3 2.1h0m1.6-.2h0m0-1.8h0m.6 1h0m.4 .4h0m0 .6h0m0-.2h0m.9-1.9h0m.7 2.5h0m0-.7h0m.6 .1h0m.1-1h0m0 .4h0m.9-.1h0m.4-.6h0m.1-.6h0m.7 1.8h0m.5-.5h0m1.3-.5h0m.1 1.3h0m1.6 .5h0m.1 .1h0m.5-1.6h0m.1 1.6h0m0-2.4h0m.3 .2h0m.2 1.8h0m.3-2.1h0m.2 1.8h0m.9-.3h0m.4 1.1h0m.2-.5h0m.2-2.2h0m.5 .2h0m1.7 2h0m.1-.1h0m0-1.4h0m.2 .6h0m.5-.2h0m1.1-.9h0m.1 2.3h0m.3-1.5h0m.5-.5h0m0 1.6h0m.7 .3h0m.2-.5h0m.5-1.3h0m.3 .5h0m0-.3h0m.2 1.3h0m.1-1.1h0m.3 1.3h0m.2-1.8h0m.9 .8h0m0 .4h0m.2 1h0m.5-2.3h0m.3 .9h0m.1-.4h0m.1 1.4h0m.1-.8h0m.1 .6h0m.1-2.2h0m.5 1h0m.5 1h0m.2-.5h0m0-1h0m.7 1.8h0m1.9-1.4h0m.8 .2h0m.3 .3h0m.7 .3h0m.4-.6h0m.2-.4h0m.5-.3h0m.8 .3h0m.5-.4h0m.1 0h0m0 1.8h0m.3-.1h0m0-1.9h0m.4 2.7h0m.2-2.1h0m0 .3h0m1.1-.2h0m-75.5 3.1h0m1.2-.1h0m.2-.6h0m.4-.2h0m.1 2.1h0m.2-1.2h0m1.5-.4h0m.5 .3h0m.3 1.8h0m.1-1.2h0m0-1.1h0m.7 1.9h0m.5-1.7h0m.4 2.2h0m.2 0h0m.2-1.4h0m.2-1.3h0m0 .9h0m1.4-.7h0m0 .8h0m0 1.1h0m.1-.5h0m.1-.6h0m.2 0h0m.4 .3h0m1.2 1.3h0m.2 .1h0m.4-2h0m.1-.3h0m.2 2.2h0m.1-1.6h0m.1-.2h0m.5-.3h0m.1 .1h0m.1-.6h0m.5 2h0m.4-1.7h0m.4 1h0m.5 1.1h0m.1-.3h0m.8-.6h0m.9-.1h0m.8 .4h0m.9 .1h0m1.1 1h0m.1-2.7h0m.1 1.8h0m.8-1.3h0m.1 .4h0m.2 1.6h0m.5-1h0m.1-.9h0m.5-.9h0m.1 1.9h0m1.3-1.2h0m.2 2h0m.4-.7h0m.5-.2h0m0-1h0m.1 2.2h0m.1-.4h0m1 .3h0m1-.5h0m.3-1.8h0m.2 .9h0m0-.9h0m.2 .1h0m.1 1.5h0m.1-2h0m.6 .5h0m1.2 2.1h0m1 0h0m.1-1.1h0m.2-1.6h0m.1 1.7h0m0-.7h0m.1 .4h0m.1-.9h0m.1-.2h0m.1 1h0m.6 .7h0m.8-.4h0m.7 1.3h0m.6-.3h0m.7-2.2h0m.6 .8h0m0 1.4h0m.1-.6h0m1-1.7h0m0 0h0m.1 1.3h0m.1-.8h0m.9-.6h0m.2 2.3h0m.2-.3h0m.8 .6h0m.5-2h0m.2 1h0m.5-.3h0m.7-.2h0m.1 .2h0m.4-.6h0m.2 .4h0m.5-1.1h0m.3 .4h0m.6 1h0m.3-.2h0m.4 .2h0m.2-.5h0m.3 .5h0m.2 .7h0m.1-1.6h0m.2 .9h0m.7-.2h0m0-1.4h0m.3 .4h0m.6 .5h0m.2 1.9h0m.1-1.9h0m.2-.1h0m.2 1.9h0m.1-2.2h0m.1 0h0m0-.5h0m0 .9h0m.3-.3h0m.7-.6h0m.8 1.9h0m.2-.2h0m.2-1h0m.7-.5h0m.1 1.9h0m.8-1h0m.8-.8h0m.3 2.4h0m.1-.4h0m.8-1.2h0m.3 .9h0m.2 .7h0m.4-1h0m.1-.3h0m.2-.6h0m0 0h0m.4-.6h0m.1 1.8h0m.1-.2h0m.2 1h0m1.2-2.4h0m.2 1.1h0m.1 .5h0m.2-1.1h0m.3-.3h0m.1 .6h0m.8 .4h0m.2 .3h0m.3-.5h0m.9 0h0m.1 1.4h0m.6 .1h0m.1-.4h0m.3-2.1h0m.3 .3h0m.3-.4h0m.4-.1h0m.8 1.2h0m.2 .3h0m.1 .4h0m.1 .7h0m.7-2.6h0m.2 .7h0m.1-.8h0m.5 .7h0m.5 1.8h0m.2-.4h0m.1-2.1h0m.7 .9h0m.5-.8h0m.2 1.1h0m.6-1h0m.4-.4h0m.1 1.1h0m0 0h0m.5 1.2h0m.2-1.3h0m.4 .9h0m0-.8h0m.7 0h0m.4 .8h0m1.6 0h0m.3-.9h0m0 1.1h0m.1-1.9h0m.1 2h0m.1-.8h0m0 .5h0m.3-.1h0m.1-1.6h0m.9 2.3h0m0-1.1h0m.4-.7h0m.3-.7h0m.4 2.7h0m.1-1h0m.5-.6h0m.1 1h0m.2 .9h0m.1-1.7h0m.1 1.1h0m0-.7h0m.2-1.6h0m.1 2.1h0m.1-1.5h0m.2 2.2h0m0-.4h0m.1-.4h0m.5-.3h0m.3-.4h0m.5 1.5h0m2.9-.9h0m-78 3.6h0m.3 .3h0m.5-2.5h0m.6 .9h0m.4 1.5h0m.1-1.7h0m.1 1.2h0m.5-.7h0m.1-.3h0m.9 1h0m.2-.8h0m.1 .6h0m.4-2h0m.5 2.4h0m.1-1h0m.3 .2h0m.2 1.2h0m1.5-2.5h0m.5 1.9h0m.1-1.3h0m.1 1.6h0m.1 .3h0m.1-1.1h0m.1 .7h0m.1-1.8h0m.1 .1h0m.2 1.2h0m.6 0h0m.2 .7h0m.3-1.8h0m.1 1.8h0m.2-2h0m0 1.6h0m.9-.3h0m.6 .9h0m1.8-2.9h0m0 .4h0m.2 2.3h0m.3-1h0m.2-1.2h0m.1 1.4h0m.2-.8h0m.4 1.5h0m.5-.8h0m.1-.9h0m.5-.2h0m.1 0h0m.2 .8h0m.3-1.3h0m1.3 1.9h0m.8-.7h0m.2 .4h0m.4 .6h0m0-.3h0m.3-.9h0m.2-.4h0m.1 2h0m.8-1.1h0m0-1.7h0m.2 2.3h0m.1-2.3h0m.5 1h0m.1 .7h0m.1 .5h0m1-1h0m.3-.6h0m.8 1.2h0m.1-1.1h0m.2 1.3h0m.5 .9h0m.2-1.4h0m0 1.4h0m.3-2.7h0m.4 .6h0m.1 .3h0m.1 .3h0m.4 1.4h0m.5-2.1h0m.1 2.1h0m.4 0h0m.1-.2h0m.3-1.5h0m.8 .7h0m.1-.6h0m.5 1.4h0m.1-.9h0m.4 .1h0m.2 .4h0m.2-.6h0m.2-1.1h0m.2 2h0m.2 .4h0m.9-.5h0m.3-1h0m.3-.8h0m.3 .3h0m0 1.6h0m.2-.4h0m.6-1.6h0m.3 0h0m.1 2.4h0m.4 0h0m.3-1.5h0m.3-1.3h0m.3 1.7h0m0-.9h0m0 0h0m.3 .6h0m0-1.1h0m.1 1.4h0m.9 .8h0m.3-1.1h0m.1 1.2h0m.5-1.2h0m.6-1.1h0m.4 1.6h0m.5-.9h0m.2 .4h0m.2-.1h0m.5-1.2h0m.5 .3h0m.5-.1h0m.1 2h0m.5-.3h0m.6-1.4h0m1.9 1.8h0m.2-1.1h0m.3 1.2h0m.2-.8h0m.1-1.7h0m.4 .6h0m0 1.2h0m.1 .5h0m.1-1.9h0m.5-.4h0m0 2.2h0m.5-.7h0m.5 .2h0m.6 .3h0m.1 .2h0m.2-1.7h0m.2 1h0m.1 0h0m.5-.6h0m.6 .4h0m.6 .4h0m.3 .1h0m.2-.7h0m.1 1.5h0m.4-1.9h0m0-.4h0m.2-.2h0m.2 .1h0m.6 2.2h0m.3-.6h0m.1 1.1h0m0-2.8h0m0 1.6h0m.6 1.2h0m.8-2.1h0m0 1.9h0m.6-1.6h0m1.1-.9h0m.6 1.6h0m0-1.1h0m.1 1.4h0m.1-.4h0m.2-.3h0m.8 .2h0m2.8 0h0m.2-.1h0m.1 .8h0m.2-1.9h0m.1 .7h0m.3-.2h0m.5 1.7h0m.5-1.6h0m.4-.8h0m.2 .6h0m.3 1h0m.4-1.9h0m.3 1.8h0m.4-.6h0m0 .4h0m.8-.8h0m.5 .1h0m.3 2.1h0m.1-.4h0m.2-2.6h0m.1 1.1h0m.2-.5h0m.2-.1h0m.6-.3h0m.5 2h0m.1-2h0m.2 2.8h0m.2-.6h0m.5-.1h0m.5 .1h0m.2-1.8h0m.9 .2h0m.1 .9h0m.2-.4h0m.1 .6h0m.2-.2h0m.2-.4h0m.2 .3h0m.2 .4h0m.5-.9h0m.2 1.3h0m.2-2h0m.3 .7h0m0 .4h0m.9-.7h0m.7 1.1h0m.5 0h0m0-1.3h0m.2-.4h0m.1 .9h0m0 .5h0m.3 .1h0m.2 .9h0m0-1.4h0m.2 1.4h0m.1-.3h0m1.5 .6h0m.6-2.4h0m-77.1 2.7h0m1.5 .8h0m.2 0h0m.1 1h0m.4-1.5h0m.4 2.4h0m.2-2.6h0m.2 .7h0m.2 .6h0m.5 1.2h0m.2-1h0m.1-.7h0m.3 1.9h0m.3-1.6h0m.2 1.2h0m.3-.2h0m.3 .2h0m.3-1.3h0m.2 1.4h0m.2-.7h0m.1 .9h0m.2-2.1h0m.2-.7h0m.1 2.1h0m.1-1.8h0m.5-.3h0m.4 2h0m.5-.6h0m1-.9h0m.1 1.8h0m.4 .4h0m0-.7h0m.4 .4h0m.4 .1h0m0-2.4h0m.1 1h0m.5 .7h0m.3-1.3h0m0-.1h0m.1 1h0m.6-1.2h0m.5 2.3h0m.4-.9h0m.6-1.6h0m0 0h0m.4 .8h0m0 1.7h0m.2-2.3h0m.1 1.2h0m.3-.4h0m.7-1.1h0m0 1.8h0m.2 .3h0m.3-1.1h0m.2 .5h0m0 0h0m.1 0h0m.6 .7h0m.6-1.5h0m.2 1h0m.1 .8h0m.9-1.5h0m.1-1h0m.3 1.6h0m.1 1.4h0m1.6-.8h0m.5-1.8h0m.2 .5h0m.3 .9h0m.2 .4h0m.2-.6h0m.3 1.3h0m.2-1.1h0m.7 .8h0m1-1.4h0m.5-.5h0m.1 1h0m.1-1.1h0m0 1.7h0m.5-1.1h0m.2-.1h0m.5 1h0m.2-1.1h0m.9 .1h0m0 .5h0m.1-.6h0m.9 1h0m.5-.5h0m0 0h0m.2 .9h0m.5-.9h0m.1 0h0m.1-1.5h0m.1 .5h0m.4 1.8h0m.2-.6h0m0-.9h0m.6-.3h0m.8 .3h0m.2-.5h0m.1 1.5h0m0-.2h0m.6 .8h0m.1 0h0m.7-1.8h0m.9 0h0m1.1 1.4h0m2.1-1.3h0m0 1.6h0m.2-.6h0m.1 .7h0m.2-1.7h0m.5 2h0m0-.2h0m.2-.6h0m.4-.6h0m.2-.4h0m.1 .5h0m.4-.6h0m.5 1.3h0m0 .8h0m.5-1.7h0m.4-.2h0m.1 1.8h0m0-2.4h0m.1 1.7h0m.4-1.6h0m1.1-.1h0m.1 .9h0m.2-.6h0m.6 1h0m.2-.9h0m.6-.3h0m.4 1h0m.4-1h0m.6 1.4h0m.2-.3h0m.1-1.1h0m.3 1.2h0m.6-1.2h0m.1 1.9h0m.1-.5h0m1-1.4h0m.6 1.7h0m.2 .5h0m.1-.8h0m.2-.1h0m.7 .9h0m0-1h0m.2-.9h0m1 .8h0m0-.9h0m0-.2h0m.2-.3h0m.1 2.4h0m0-2.5h0m.1 2.4h0m.2-.4h0m.1-.5h0m.4-.8h0m.3 2h0m1.2-1h0m.8 1h0m.1-1.9h0m.3-.4h0m.3 0h0m.8-.2h0m.7 .7h0m0 1.9h0m.1-2.9h0m.1 .2h0m.3 1.3h0m.1 1h0m.1-.9h0m0-.6h0m.4 1.3h0m0-1.1h0m0-.6h0m.1-.1h0m.3 2h0m1-2.3h0m.7 .9h0m.4 .7h0m0-.4h0m.7 .3h0m.3-1h0m.7 .2h0m.3 0h0m.1 1.7h0m1-.8h0m.9 .8h0m.1-2.5h0m.2 2.1h0m.1 .8h0m0-.5h0m.5-1.5h0m.6-.4h0m0 1.3h0m.1-1.9h0m.6 1.9h0m.5-1.5h0m.7 1.7h0m0 .6h0m0-1.7h0m.1 1.3h0m0-1.3h0m.3 .6h0m.5 .3h0m0-1.2h0m.2 2.2h0m.2-.7h0m0-1.8h0m.3-.3h0m.5 .9h0m0 .4h0m.3-.6h0m.9 .4h0m.5-.7h0m.3-.2h0m.1 1.4h0m1 .8h0m0-.5h0m.1-.3h0m0-.4h0m.6 1.7h0m.5-3h0m.1 0h0m.3 1.1h0m.4 .1h0m0 1h0m.3-.8h0m0-1.1h0m.2 1h0m.1-.3h0m1.9 .4h0m-77 3.4h0m.6-1.6h0m.9 2.1h0m.1 0h0m.2-1.8h0m.5 0h0m.2 1.6h0m.4-1.4h0m.8-.7h0m.3 2.2h0m.4 .4h0m.1-2.1h0m1.1-.4h0m.7 2.4h0m0-.5h0m.4-1h0m.4 .2h0m.4 0h0m.1-.7h0m.9 1.2h0m1.8 .7h0m.6-1.8h0m0 .1h0m.3-.2h0m.3 1.7h0m.8 .2h0m.1-.9h0m.3-1.2h0m.7 2.5h0m.1-2h0m.4 2.1h0m.5-.4h0m.1-1.1h0m1.1 .8h0m.2-1.9h0m.5 .4h0m.8 2h0m.2-.3h0m.3-1.4h0m.7 1.3h0m.7-.2h0m.4 .1h0m0-2.1h0m.1 2.1h0m.5 .2h0m0-1h0m.2-.6h0m.2-.5h0m.2 2.5h0m.1-1h0m.3-1.7h0m0 .5h0m.2 1.8h0m0 .4h0m.4-2.2h0m.3-.3h0m.3 .7h0m.5 .2h0m.1 .7h0m.1-1.9h0m.4 2.6h0m.2-1.1h0m.2 1.1h0m.1 .3h0m.1 .1h0m.4-1.1h0m0-.6h0m.2 .6h0m.2 .7h0m.1-2.2h0m.2 1.6h0m1 .4h0m.3-2h0m.2 1.6h0m.1 .5h0m0-2.4h0m.4 .5h0m.1 .4h0m.1-.1h0m.7 1.5h0m0-.5h0m.5-1.2h0m.6 .2h0m.3-.3h0m.7 .5h0m.5-.2h0m0-.5h0m.4 1h0m.1-.1h0m.3-1h0m.6 1.3h0m.1-1.2h0m0 1h0m0-1.2h0m.2 2.2h0m.3-2.1h0m.3 .2h0m.6 2.4h0m.7-1.5h0m.3 1.4h0m.2-2.2h0m.4 1.9h0m0-.2h0m.4-.2h0m.5 0h0m.3-1.9h0m.2 0h0m1.3 .2h0m.3 .3h0m.4 1.6h0m.6-2h0m.1 0h0m.2 0h0m0 1.1h0m.1-.5h0m.7 .3h0m.2 1.5h0m.5-.4h0m.7-1.5h0m.3 1.4h0m.2-1.4h0m0-.4h0m0 .2h0m0 1.1h0m.7-.2h0m.1-.8h0m.4-.6h0m.1 2.4h0m.4-2.3h0m.7 2.4h0m0-1.3h0m.2 .8h0m.1-.7h0m1-.9h0m.9 1.8h0m.6-1.8h0m.5 .8h0m.1 1.2h0m.1-.1h0m0-1.1h0m1.4 1.6h0m.1-1.1h0m.1-1.1h0m.9 1.5h0m.3-.2h0m.6-.8h0m.8-.9h0m.7 2.6h0m0-2.7h0m.1 1h0m.1 1.8h0m.5-1.1h0m.1 1h0m.6-1.4h0m.1-.1h0m.1 .3h0m.4-1.2h0m.1 .3h0m.2-.4h0m0 1.3h0m.2-.1h0m.6-.5h0m.3-.3h0m.5 .9h0m.2 1.2h0m.4-1.1h0m.3 .6h0m.3 0h0m1.1-.7h0m.3-.2h0m0 .2h0m.2 .7h0m.1 0h0m.5-.9h0m.2 1.3h0m.3 0h0m.4-2.4h0m.1 .4h0m0 .6h0m.2-.5h0m.6-.2h0m.1 .5h0m.2 .9h0m.7-.2h0m.4-1.1h0m.2 1.8h0m.5-1.4h0m.3 1.2h0m1-.8h0m0 .5h0m0 .4h0m.4-.8h0m0 1.1h0m.3-1.1h0m.2-.3h0m.1-.7h0m.3 .6h0m.5 .3h0m.1-.4h0m.4 .2h0m.7-.1h0m.3 .7h0m.3 .4h0m0-.7h0m.5 .2h0m.1-.4h0m.7-1.2h0m.2 1.2h0m.1 1.1h0m0-.7h0m.2-1h0m.4 .9h0m.1 .3h0m.2-1.9h0m.4 .2h0m0 .2h0m.1 0h0m.2-.3h0m.2 1.7h0m0-.3h0m0-.6h0m.1 .3h0m.4-1.3h0m.1 2.6h0m0-1.2h0m.4-.7h0m.7 2h0m1.5-1.1h0m0 .6h0m0-.8h0m-76.6 1.9h0m.5 1.1h0m.4-.5h0m.2 .9h0m.4 .2h0m.1-.3h0m.1-.5h0m.2 .3h0m0 .6h0m.4-1.5h0m1.8 2h0m.1 .1h0m.3-2.7h0m.1 2.4h0m.1-1.2h0m.1 1.4h0m.1-1h0m.2-1.5h0m.1 2.6h0m.6-2h0m.2 2.1h0m.2-2.1h0m.9 1.7h0m1.8-1.7h0m.1-.4h0m.2 .4h0m.7-.7h0m.2 2.4h0m.4-.5h0m.7-.4h0m.1-.3h0m.6-.5h0m.5 0h0m0 1h0m.4-1.5h0m1.6 1.7h0m.4-1.6h0m.2 .9h0m.3-1.1h0m0 2.3h0m.4-2.1h0m.3 1.6h0m0 .7h0m.8-.5h0m.7 .5h0m.5-.1h0m.1-.5h0m.4-2h0m.2 .5h0m0 1.9h0m.1-.6h0m.1 0h0m.2-.9h0m0 .7h0m.2 .5h0m0-.3h0m.3 0h0m.5-1.3h0m.3 .1h0m0 1h0m.5-1h0m.4-.2h0m.3 1.6h0m.3 .5h0m.2-.7h0m.5 .8h0m.3-.9h0m.5 1.1h0m.5-.3h0m.1-.7h0m.1 1h0m.2-1.9h0m.4-.3h0m.2 1.9h0m.7-1.8h0m.2-.2h0m.2-.6h0m.1 1h0m.7-.2h0m.7 1h0m.3-1h0m.6 1h0m0-1.8h0m.1 .1h0m0 1.8h0m.3-.2h0m.7 1.2h0m.7-1.3h0m.6 0h0m.2-1.5h0m.3 2.3h0m.8 .1h0m.7 0h0m.6-2.3h0m.4 2.8h0m0-2.6h0m.1 1.5h0m.7-.8h0m.1 1.6h0m.1-.6h0m0-1.5h0m.7 2.3h0m.7-2.9h0m.1 .4h0m.1-.1h0m.2 1.3h0m.4-.6h0m.6 .1h0m.2 .6h0m.1-1.7h0m0 2.7h0m.2-2h0m.2 1.2h0m1.2-.3h0m.2-.8h0m.9 .1h0m.3 1.7h0m.3-.3h0m.4-1.3h0m1.6 0h0m0-1h0m1.2 1.8h0m0-.5h0m.3 1h0m.3-.3h0m.1 .5h0m1.1-1.2h0m.3-.8h0m.7 1h0m.2 1.4h0m.1-1.2h0m.2-.1h0m.2-1.1h0m.5 .9h0m.3 .9h0m1.2 .6h0m.1-2.6h0m.2 .5h0m.5 1.3h0m.8-1.4h0m2 1.5h0m.2-1.6h0m.1-.3h0m0 1.3h0m.4 1.3h0m.2-1.9h0m.1-1h0m.1 1.4h0m.8 .5h0m.5 1.1h0m.3-.3h0m.2-1.4h0m.2 .7h0m1.1 .7h0m0-2.6h0m1.2 .4h0m0 .7h0m0 1.1h0m.5 .2h0m0-1.3h0m.1 .7h0m.7-1.9h0m0 .8h0m.2 1.8h0m0-.8h0m.1 1.2h0m0-2.7h0m0 1.3h0m.2-1.6h0m.1 .7h0m.2-.5h0m1.6 .6h0m.4 0h0m.2 0h0m.4 .1h0m.2 .6h0m.1-.9h0m.2-.1h0m.2 1.3h0m.3 .4h0m.4 .1h0m.2 .3h0m.1-1.9h0m.5 1.7h0m.5 .4h0m.5-1.9h0m.8 1.4h0m.1-1.9h0m.1 2.1h0m.3-1.4h0m.3 .4h0m.1 .2h0m0-.4h0m.5 1.4h0m.8-2h0m.7 1.7h0m.2-1.9h0m.4 1.2h0m.2 1.2h0m.8-.7h0m.1-1.5h0m.2 1.8h0m.2-.2h0m.2-1.9h0m.5 2.6h0m.9-1.7h0m.1 1.5h0m.1-.8h0m.1-1.5h0m.6 .5h0m.1 .9h0m3.5 .1h0m-79.9 1.4h0m1.3 1.9h0m.1-1.3h0m1.7-.7h0m.3 1.9h0m.2 .8h0m.2-1.8h0m.3-1h0m0 1.6h0m.3-1.1h0m.1-.5h0m.2 .9h0m.4 1.7h0m0-.8h0m1 0h0m.1 1h0m.1-2.6h0m.2 .9h0m1.2 1h0m.3-2.1h0m.1 .2h0m.4 2.2h0m.2-1.3h0m0 .6h0m.1-1.7h0m.5 2.5h0m.5-1.7h0m0 .5h0m.1-.3h0m.1-.2h0m.1 1.6h0m.4-2.2h0m.2-.1h0m.9 1.3h0m.3 1.4h0m0-.7h0m.1-1.3h0m.5 .1h0m.3-.6h0m.1 .4h0m.3 1.8h0m.1-1.4h0m0 .8h0m.1 .2h0m.1 .2h0m.4-1.2h0m.6 1.4h0m.4 .2h0m.6-.5h0m.5 .4h0m.1-1.6h0m0 1.7h0m.5-.9h0m.1 .8h0m.4-1.3h0m.5 .5h0m.1-.7h0m.4 1.6h0m.3-.8h0m.3-.3h0m.1-1.7h0m.5 .9h0m.3-.5h0m0 2.2h0m.8-1.5h0m.1 .1h0m.3 .2h0m.1 1.3h0m.4-1h0m.6 .4h0m1.1 .2h0m.4-1.6h0m.3-.3h0m0 1.2h0m.2-1.1h0m.1 2h0m.3-.8h0m.1 .7h0m.1-.5h0m.2 .6h0m1.4-1.5h0m.6 .8h0m.1 1h0m.1-.6h0m.6-.7h0m.2-1.4h0m.1 .9h0m.1-.9h0m.5 0h0m0 2.8h0m.3-.7h0m.2 .2h0m.8 0h0m.2-1h0m.2 0h0m0 .2h0m.7 .4h0m0-.5h0m.2-1.3h0m.4 1.9h0m.2-1.9h0m.2 1.9h0m.4-1.9h0m.6 2.7h0m.6-1.5h0m.1 .1h0m0-1.4h0m.2 2.7h0m0-1.5h0m.3-.8h0m.2 2.3h0m.4-2.6h0m.1 .4h0m.5 1.5h0m.2-1h0m0 .2h0m.5 1.4h0m.4-.1h0m1.2-.6h0m1.2 .5h0m.1-.3h0m.4-1.5h0m.1 1.6h0m.8 0h0m.1-.9h0m.2-1.4h0m.2 .4h0m.2 2.3h0m.2-1.9h0m0-.1h0m.5 1.7h0m.2-1.9h0m.2-.3h0m.2 2h0m.3-1.2h0m.1 0h0m.2 .8h0m.1-.5h0m.1 1h0m.2 .6h0m.2-2.6h0m0 1.5h0m.3-.3h0m.4-.6h0m.4 .1h0m.4-.7h0m.6 2.5h0m.7-.2h0m.1-2h0m.2-.7h0m.3 1h0m.1 .4h0m.7-1.1h0m.3 1.5h0m.1-1.3h0m.3 .4h0m.1 1.3h0m.1-.7h0m.6-.6h0m.3 1.5h0m.4-1h0m.8 1h0m.3-1.9h0m.2 2.4h0m.1-.1h0m0-2h0m.4 .2h0m.4 1.9h0m.5-1.5h0m.8 1.2h0m.2-2h0m.2-.1h0m.3 2.2h0m.3-2.7h0m.3 .3h0m.4 1.5h0m.7-1.4h0m.8 .8h0m.8 1.5h0m.2-1.8h0m.1 .4h0m.2 .3h0m.1-.4h0m.3 .7h0m.4 1h0m.3-2.4h0m.1 1.7h0m.6-.5h0m.6-.1h0m.4 .2h0m.3-1.7h0m.7 1.9h0m1.1-.1h0m.3 .4h0m.6-.7h0m0-.2h0m.3-.5h0m.2-.5h0m.1 2.5h0m0-2.4h0m.7 2.3h0m.2-.3h0m0 .1h0m.5-1.6h0m.3-.6h0m1.3 1.4h0m.5-.7h0m.3 1.5h0m.4-1.4h0m.1 1.6h0m.1-.9h0m.1 .6h0m.3 0h0m.3-1.4h0m.2 1h0m.8-1.9h0m.4 1.6h0m.2-.9h0m.2 .1h0m.4-.3h0m.1 1.9h0m.5 .1h0m.1-1.1h0m.4-.2h0m.1 .4h0m.2-1h0m.1 .8h0m.2 1.2h0m.2-2.4h0m.6 .2h0m0 1.4h0m.1-.8h0m.5 1.7h0m.3-.3h0m0 0h0m.2-1.9h0m.1 2.3h0m.5-1.5h0m1-.1h0m-79.6 4.5h0m3.4-1.5h0m.6 1.1h0m.6-.6h0m.1 .9h0m.1-2.8h0m.1 1.3h0m.1-.6h0m.5 .3h0m.1 1.8h0m.1-1h0m0-1.2h0m1 1h0m.3-1.5h0m.6 .9h0m.9 1.3h0m.1 .3h0m.2-1.8h0m.4 .6h0m.2 1h0m0 .6h0m.3-1.9h0m1.3 .4h0m.2 .8h0m.1-.4h0m.2 1.1h0m.1-.8h0m.5 .4h0m.1 .3h0m.4-2.8h0m0 0h0m.1 2.7h0m.5-2.5h0m.5 1.8h0m.2-1.6h0m0 0h0m.1 2.4h0m.3-2.7h0m.1 .1h0m.3 2.4h0m.6-.5h0m.5-.5h0m.2 .2h0m.2 .3h0m.8-2.1h0m.9 1.4h0m.4-1.5h0m.6 .5h0m.1 2.1h0m.3-1h0m1.3 .3h0m.2-1.2h0m.4 .4h0m1.8-.6h0m.4-.2h0m.1 2.4h0m.2-.6h0m0-1.9h0m.3-.1h0m.4 0h0m.3 .4h0m.1 .9h0m.2 1.2h0m.2-2.4h0m.4 .8h0m.5-.9h0m.3 2.2h0m.2-.7h0m.4-1.3h0m.2 .1h0m.1-.1h0m.2 .8h0m.6-.5h0m.8-.1h0m.2 1.8h0m1 .1h0m.7-1.2h0m.4 1.3h0m.2 .2h0m.2-.2h0m.1-1.5h0m.2 1.2h0m.2-1.7h0m.6-.1h0m.4 1.4h0m0-.1h0m.7-.9h0m.1 .5h0m.6 0h0m.3-.2h0m.7 1.8h0m1.2-2.8h0m0 2.5h0m.1-2.2h0m.8 2.2h0m.3-1.4h0m.4 .4h0m.2-.8h0m1.2 1h0m0 0h0m.8 .3h0m1.1 .7h0m.1-.2h0m.1-2.1h0m.5 2.3h0m.6 .1h0m.1-1.3h0m.2-1.6h0m.4 .9h0m.1-.8h0m.1 1.6h0m.5-.5h0m.2 .8h0m.2 .5h0m.1-2h0m.5 2h0m0-2.2h0m.8 .6h0m0 .3h0m1.1 1.8h0m.2-.7h0m.6-.4h0m.1 .4h0m.2-1.6h0m.5 1.8h0m.1-2.2h0m0 2.2h0m.5-.5h0m.1-1.6h0m.1 1.2h0m.3 .2h0m.1 1h0m1.2-2.4h0m.2 .7h0m.5 .5h0m1.3-1.2h0m.2 0h0m.4 .1h0m.5 .2h0m.1 .6h0m.1-.1h0m.2 1.6h0m.1-2.3h0m.5 2.5h0m.1-1.3h0m1.2 .8h0m.3 .4h0m0-2.3h0m.2-.2h0m.4 1.6h0m.1-.1h0m.1 .5h0m.2-1.7h0m.4 1.6h0m.7-1.2h0m.2 .7h0m.1-1.2h0m.1 .9h0m.1-.8h0m0-.1h0m.1 .6h0m0 .3h0m0 .9h0m.3-2.2h0m.6 1.4h0m.6-1.2h0m.2 .2h0m0-.5h0m.2 2.2h0m2.3-1.7h0m.1 .9h0m.1 .3h0m.9 .6h0m.6 .4h0m1.5-2h0m.5 1.5h0m0-1.1h0m.4 .9h0m.4 .6h0m.4-.6h0m0 .9h0m1.2-1h0m.2 .4h0m.6-.3h0m.1 0h0m1.3 .7h0m.8-.6h0m.6-1.2h0m.6 0h0m0 1.7h0m.7-1.1h0m.2-1h0m.1 1.8h0m.4 .5h0m.1-2.1h0m.6 2.2h0m.2-2.4h0m.2-.2h0m.4 .2h0m.1 .4h0m.1 .6h0m.1-1h0m.3 1.9h0m1.1-2.2h0m.3 .9h0m0 .6h0m.4-.3h0m.3 1.3h0m.6-2.3h0m-78.7 5h0m2.1-1.7h0m1.5-.1h0m1.1 .7h0m.2-.7h0m.3 .8h0m.2-.4h0m0 .4h0m0-.4h0m.4 1.4h0m.1-2.1h0m0 2h0m.8 .3h0m.3 .1h0m.5-2.4h0m1.3 .4h0m0-.2h0m.1 2.2h0m.2-1.6h0m.1 1.2h0m0-1.2h0m.3 0h0m.6-.1h0m0 1.6h0m.3-1.1h0m.5-1.4h0m.5 2.4h0m.9-1.1h0m.2 .4h0m.1-.5h0m0-.4h0m.2-.8h0m0 .1h0m.1 .9h0m0-1.2h0m.2 2.6h0m1.1-1.9h0m.1 .7h0m.1-1h0m.1 1.6h0m.9 .4h0m.2-.9h0m.8-1h0m.2 1.9h0m.3-1.8h0m.7 1.2h0m0-.5h0m.3 1.6h0m.4-.3h0m.1-.7h0m1.4 .4h0m.3 .4h0m.7-2.2h0m0 .2h0m.1-.6h0m1.3 1.2h0m.4-.4h0m0 1.4h0m.5 0h0m.3-1.1h0m0-.5h0m0 2.1h0m.2-2.7h0m.5 .3h0m1.8 .4h0m.5 .1h0m0 1.7h0m.2-2.3h0m.1 1.8h0m.3-.1h0m.9 .1h0m0-.6h0m.2 .9h0m0-.6h0m0-1.4h0m.3 2.2h0m.5 .3h0m.1-.4h0m.4-.7h0m.4 .7h0m.4-1.5h0m.3-.5h0m.2 1.4h0m0-1.4h0m1.2 1.9h0m.7 0h0m.2-1.7h0m.1 1.6h0m.3-.9h0m1.1 1.6h0m.3-.3h0m.9 .2h0m.8-2h0m0 1.4h0m.4 0h0m.2-1.5h0m.2 .7h0m.2-1.4h0m.4 .1h0m.3 .7h0m.6 1h0m.1-1.9h0m.3 2.5h0m.4 0h0m0-.8h0m.2 1.1h0m.5-.8h0m.2-.2h0m.3 .7h0m0-2h0m.3 .1h0m0-.6h0m.3 0h0m.3 .6h0m.4 2.1h0m.4-2.4h0m.3 1h0m0-1.1h0m.5 .8h0m0 1.4h0m.6 .4h0m0-1.8h0m.2 1h0m.4-1.1h0m.2-.8h0m.3 .4h0m2 2.1h0m0-2.3h0m.3 1.9h0m.5-1.7h0m0 .1h0m.1-.2h0m.2 1.9h0m.6-1.7h0m.2 1.7h0m0 .4h0m.5-2.6h0m.7 2.9h0m.1-.9h0m.3 .2h0m.1-.7h0m.4 .2h0m.4-1.1h0m.5 2.1h0m0 0h0m1.3-2.6h0m.1 .9h0m.4-.1h0m.6-.6h0m1.3 .3h0m.6-.2h0m.3 1.5h0m.1-.4h0m.1 .8h0m0-1.5h0m.6 1.2h0m.2 .4h0m.4 .4h0m0-.3h0m.7-.9h0m.6-.8h0m.1 1.4h0m.3-1.8h0m1.5 2.3h0m.2-.2h0m.3-.2h0m.7-.6h0m0-1.2h0m.5 .8h0m.4 .4h0m.1 .2h0m.5-.6h0m.4 1.4h0m.1-1.4h0m.2 .5h0m.2 .7h0m0 0h0m.5 .1h0m.1-2.4h0m.7 2.4h0m1.3 .2h0m.1 0h0m.2-1.1h0m.9 1.1h0m0-2.3h0m.1 0h0m.2 .8h0m.1 1.2h0m.4-2.2h0m.7-.1h0m.1 1.7h0m.8 .4h0m.4-2.3h0m.2 2.3h0m.4-2.1h0m.6 0h0m.2 .8h0m.3 1.9h0m.9-1.6h0m.1 1.1h0m.2-.6h0m.6 .7h0m.6-1h0m.2-1.2h0m.3 .9h0m.1-1h0m0 1.7h0m.3 .8h0m.8-2.3h0m.4 .1h0m.5-.5h0m.6 1.2h0m.5-.1h0m.7-1h0m.9 .2h0m-79.8 4.1h0m.9-.9h0m.7-.5h0m.5 .4h0m0-.2h0m0 1.9h0m.8 0h0m.2-.9h0m.1-.7h0m.1 2.1h0m.9-.2h0m.2-1.3h0m.8 1.1h0m0-2h0m.1 1.8h0m.2 .5h0m.4-.5h0m.9-.7h0m.1 .4h0m0 .9h0m0-1.4h0m.1 .5h0m.2 .2h0m.1-.6h0m.4-1.2h0m0 1.7h0m.1-.5h0m.6-.9h0m.1 .6h0m.4-.7h0m.1 2.5h0m0-1.1h0m.6 .1h0m1.7-.8h0m.1 0h0m.2 .8h0m.4 .7h0m.1-1.7h0m.4-.4h0m.5 .3h0m.3-.6h0m.4 .7h0m.1 .1h0m.3 1.6h0m.1-.6h0m.1-1.3h0m.1 2.1h0m.3-1h0m.1 .7h0m.1 .4h0m0-2.7h0m.1 1.1h0m.1 .2h0m.1-1.1h0m.7 .9h0m.2 1.1h0m.6 .2h0m.2-2.1h0m.2 1h0m0-.5h0m.2-.8h0m0 .3h0m.6 1.8h0m0 .4h0m.1-1.4h0m.1-.7h0m.5 .6h0m.5 1.4h0m1-.6h0m.2 .4h0m.4-1.3h0m.6-.3h0m.1 2h0m.1-1.2h0m.1 1.3h0m.1-.7h0m.9-.6h0m0-1.5h0m.6 1.2h0m.2-1h0m.1 2.6h0m.1-2h0m.2 .7h0m.1 1.2h0m0-1.2h0m1.1 1.2h0m.1-.6h0m.4-1.9h0m.1-.1h0m.3 2.6h0m.3-1h0m0 .5h0m.6-.1h0m2.2-1.2h0m.7 .2h0m.4 1.1h0m0-1h0m.1 .8h0m.6 .1h0m.2-1h0m.7 .6h0m.4 .8h0m.3-1.9h0m.2 1h0m.3-.3h0m.1 .2h0m.4 .6h0m.3-.6h0m.1-1.6h0m.1 2.9h0m.9-2.6h0m.4-.1h0m.4 2.1h0m1.5-.2h0m.1-1.4h0m.2 1.4h0m.7-1.3h0m.5-.5h0m.2 1.4h0m0-.7h0m.9-.4h0m0 .2h0m.1 1h0m.1 .3h0m0 .2h0m.3 .2h0m.7-2h0m.4 0h0m.1 .4h0m.3 0h0m.2-.5h0m.2 .7h0m.8 .1h0m.1-1.1h0m.6 .2h0m.8 .3h0m0 2h0m.3-.7h0m.2-1.4h0m0-.4h0m.5 1.3h0m.1 .5h0m.4-.9h0m.3 0h0m0 1.1h0m1-.6h0m.1-1h0m.1 .2h0m2.1 .1h0m.5-.8h0m.9 0h0m.2 1.8h0m.4 .5h0m.1 .5h0m.2-.3h0m.2-2h0m.1-.1h0m.1 .8h0m.8-1.1h0m.9 2.1h0m.8-.3h0m.5-.2h0m.1 .9h0m.5-1.6h0m0 .7h0m.5 .7h0m0-.8h0m.6 .6h0m1.5 .6h0m.2-.6h0m.1-.4h0m.4-.5h0m.2-1.2h0m0 .7h0m.4 1.9h0m.1-1.7h0m.1 1.7h0m0-.7h0m.3-.6h0m.3 1.5h0m.2-.9h0m.1-1.9h0m.4 2h0m.1 .6h0m.2-.2h0m1.1-1.1h0m.7 .2h0m.2 .2h0m.1 0h0m0 .8h0m.8-.9h0m.2-1.1h0m.1-.5h0m.1 1.3h0m0 .4h0m.1-.2h0m.2 .9h0m.6 .1h0m.4-2.3h0m.5 2.3h0m.4-1.8h0m.4 .2h0m.8 .2h0m.1 1.5h0m.3-1.2h0m0 .4h0m.4-.3h0m.4 .4h0m.4-1.2h0m0 .1h0m.1 1.9h0m0-.3h0m.6-1.1h0m.2-.7h0m.1 2.1h0m.2-1.5h0m.3 0h0m1.2-.4h0m.1-.1h0m.3 1.1h0m1.4-1.2h0m.1-.5h0m.1 .4h0m.3 .7h0m.3-1h0m0 .4h0m.2 .7h0m.7 .3h0m.3-1.4h0m.1-.2h0m.8 2.7h0m.5-2.4h0m-79.5 2.7h0m3 1.9h0m.3-1h0m.5 .6h0m0-.7h0m.1-.5h0m0 1.7h0m.7-2h0m.2 .3h0m.6 1.7h0m0-.1h0m.9-.2h0m.5-.7h0m.1-.9h0m.2 2.3h0m.6-2.3h0m.1 0h0m.2 .7h0m.4-.7h0m.1 .9h0m0 .8h0m.2-1.2h0m.1 2.1h0m.1-1.3h0m1.1-1.5h0m.1 2.2h0m.3 .7h0m1.3-2.2h0m0 1.4h0m.1-1.4h0m.1 1.4h0m.1 .3h0m.1-1.4h0m.1-.6h0m.3 1.7h0m.1 .4h0m0-.1h0m1.3-.2h0m.6-1.4h0m.4 .7h0m0-.9h0m.1 .2h0m.1 1.6h0m0-.8h0m.2 1.3h0m.5-.2h0m0 0h0m.5-.4h0m.2 0h0m.2-1.3h0m.2 1.7h0m.1-1.5h0m.1 1.2h0m.4-1.9h0m.4 1.3h0m.4-1.7h0m.1 .6h0m.2 .7h0m.3-1.3h0m.2 0h0m.3 2.8h0m0-1.4h0m0-.7h0m.1 .5h0m.2 .6h0m.1-1.7h0m.3 2.3h0m.4-.6h0m.9-1.2h0m0 1.4h0m.6-1.8h0m0 .6h0m.2-.1h0m.6 .5h0m0 1.6h0m.4-2.4h0m0 .8h0m.2 1.4h0m0 0h0m.2-.1h0m.3-.6h0m.1-.7h0m1.4 .4h0m.1-1.2h0m.6 1.1h0m.4-.6h0m.2 1.8h0m0-1.4h0m.1 1.5h0m.9-1.3h0m.1-1.3h0m.3 1h0m0 1h0m.1 .6h0m.5-2h0m.1-.8h0m.4 .3h0m0 2.3h0m.2-2.4h0m.2 2.4h0m.1-.7h0m.1-.9h0m.6-.2h0m.2 .8h0m0-1h0m1.1 .4h0m.1 1.7h0m.3-2.5h0m0 .7h0m0-.5h0m.1 .9h0m.3-1.4h0m0 1.9h0m.3-.5h0m.7-.4h0m1 1.7h0m.3-2.1h0m.2 1.3h0m1-.1h0m.2-1.5h0m.3 1.8h0m.1-1.4h0m.6-.7h0m.1 2.7h0m0-2.1h0m.3 1.8h0m.9-.4h0m.4 .5h0m0-2.1h0m.2 .5h0m.6 .2h0m.6 1.7h0m.1-.1h0m.1-2h0m.6 1.5h0m0-.2h0m.1-1.7h0m.9 1.1h0m0 1.5h0m.8-.6h0m.2 .4h0m.2-1.3h0m.3-1.3h0m.6 2h0m.3-.2h0m.3-.7h0m.1 .9h0m.3-1h0m0 .9h0m0-1.4h0m.1 0h0m.2-.4h0m.1 2.7h0m.3-1.2h0m.1-.5h0m.2 1.1h0m.1-.5h0m.4-1.2h0m.4 .8h0m.6 1h0m1.3 .6h0m.2-1.6h0m0 1.2h0m2.3-1.1h0m.1 .8h0m.1-.8h0m1.3 .7h0m.2-1.7h0m0 2.3h0m.6-2.7h0m0 1.8h0m.3 .9h0m.1-2.6h0m.2 1.5h0m.1 .7h0m0-1h0m.1-.4h0m.5-.9h0m1 2.9h0m.9-1.9h0m.3-1.1h0m.3 .3h0m.2-.1h0m.1 1.8h0m.1 .5h0m0-.8h0m.2 .6h0m1.3-1.6h0m.1 .1h0m.3 .8h0m0-1.4h0m.2 1.3h0m.9 .5h0m.2-.8h0m.3 .4h0m.4 1.2h0m.5-2.3h0m.8 1.6h0m.1-.4h0m0 1.1h0m.8-2.3h0m0 .1h0m.1 1.1h0m.2-.2h0m1.1 .1h0m.1 .1h0m.3-.9h0m0 2h0m.1-.1h0m.6-1.3h0m.4 0h0m.1-.9h0m0 2.2h0m.1-.9h0m.2-.8h0m.4 1.9h0m.6-2.8h0m.1 .6h0m.3 1.5h0m.6-1.7h0m.9-.1h0m.4 .6h0m1.1 1.9h0m.2-2.1h0m.7 0h0m.1 1.6h0m0-.6h0m.8 1h0m.3-1.8h0m1.4 .1h0m.1-.1h0m0-.8h0m1 2.8h0m.6-1.7h0m.2-.4h0m.1 .5h0m-73.9 3h0m.1 1.2h0m1.1-1.5h0m.7-.5h0m.1 1.7h0m.3-1.5h0m.3 1.9h0m1 .2h0m.1-2.2h0m.4 .7h0m.5 .1h0m.6-.2h0m.4 1h0m.1 .3h0m.1-1.9h0m0 .3h0m.1-.7h0m.2 .3h0m.1 2.1h0m.1-.4h0m.4-1.5h0m0-.7h0m.9 1.4h0m1.6 .8h0m.2 .1h0m.1-.8h0m.4-.9h0m0 .9h0m.1 .8h0m.3 .1h0m.2-1h0m.1-.6h0m0 .9h0m0 1h0m.3-2.2h0m.1 1.9h0m.3-1.2h0m.2-1h0m.1 2h0m.2-.8h0m.1 .4h0m.2-.7h0m0 1.7h0m.6-.8h0m1-2.1h0m.1 1.1h0m.4 .6h0m.6 .1h0m.4-.9h0m0 .1h0m.1 .2h0m1.4 .9h0m.5-2h0m1.6 1h0m1.1 1.2h0m1.2 .1h0m.5-1.2h0m.2 .5h0m.1 .4h0m.8-1.2h0m.1 1.8h0m.7-1.7h0m.2 .7h0m.1 0h0m.6-1.2h0m.1-.3h0m.6 2h0m1.8-1.5h0m.4 1.1h0m.1 .7h0m.1-1.6h0m.3-.7h0m1-.2h0m.4 1h0m0 1.5h0m1.2-1.1h0m0-1h0m.2 2.1h0m.6-.6h0m0 .2h0m.2-1.9h0m0 .9h0m.3 1.8h0m.3-.7h0m.7-.5h0m.4 .7h0m0-.3h0m1.4-2h0m0 2.5h0m0-2.2h0m.1 1.2h0m.7-.9h0m.4-.5h0m.4 2.6h0m0-1.7h0m.7 1.4h0m0-1.3h0m.1 1.1h0m.1-2h0m.3 2.4h0m.1-.4h0m.4-.2h0m.2-.5h0m0-.5h0m.2-.8h0m.2 2.3h0m.2-1.3h0m.4 1h0m.1 .4h0m.2-.7h0m1.1-1.1h0m.7-.9h0m.1 .3h0m.1 2.7h0m.1-.1h0m.6-.3h0m.7-.6h0m1.1 .7h0m.3-.1h0m.7 .4h0m1.2-1.5h0m.8 .5h0m.1-.7h0m.1 1h0m.2-1.3h0m.1-.4h0m.9 1.9h0m0-1.5h0m.1 1.2h0m.1 .8h0m.4-.6h0m.2-.5h0m.1-1.5h0m.2 .5h0m.3-.5h0m.6-.2h0m1 2.8h0m.1-.9h0m.1-.9h0m.2-.7h0m.1 .3h0m.1 2h0m.3-1.7h0m.2 1.6h0m.6-2.5h0m.4 1.4h0m1 .6h0m.2-.7h0m.1-1h0m1.1 .7h0m.2 1h0m.2 .5h0m.7-.1h0m.1-1.4h0m.1 .8h0m.7-.7h0m.1 1.1h0m1-.3h0m.4-2h0m.1 .7h0m.2-.7h0m.3 1.3h0m0-.3h0m.7 1.3h0m.1 .3h0m.2-.5h0m.1 .6h0m.3-2.4h0m.4 .4h0m0 .1h0m.4 1.1h0m.6-.6h0m.4-1.2h0m.9 2h0m0-1.6h0m.8 1.9h0m.8-1.5h0m0 .8h0m0 .6h0m0-1.2h0m.8 1.4h0m1.1-1.1h0m.5 1h0m.9-1.7h0m.5 2h0m.2-2.7h0m.2 .4h0m0 .4h0m0-.9h0m.2 1.4h0m.6-.1h0m.3-1.2h0m.2 1.1h0m.5 .2h0m.2-1.3h0m.2 0h0m.1 1.1h0m.7-1.1h0m.6 0h0m-74.3 3.2h0m.1 1.1h0m1.2-.4h0m.2-.6h0m.3-.1h0m.3 .3h0m0 1.6h0m.1-.7h0m.6 1.2h0m.5-.5h0m.2-.2h0m.1-1.4h0m.3-.4h0m.4 1.1h0m.2-.5h0m0 .5h0m.1 1.7h0m.5-2.3h0m.6 2.1h0m.3-2.2h0m.2-.2h0m.7 1.3h0m.5-.8h0m0 .4h0m.1-.9h0m.1-.2h0m.2 0h0m.7-.1h0m0 1.5h0m.1 .4h0m1.4 .4h0m.2-.9h0m.2-.6h0m.3 .7h0m.3-.1h0m.1-1.4h0m.7-.1h0m.8 2.8h0m.1-2.4h0m.9-.2h0m.3 2.7h0m.1-1.6h0m.4 .7h0m.4-.2h0m.1 .7h0m0-.1h0m.3-1.5h0m.3-.6h0m.5 .5h0m.4 .7h0m.4 1.2h0m.1-2.1h0m0 1.2h0m.4-.2h0m0 .1h0m.3 .1h0m.1-1.1h0m.1 1.7h0m0-2.1h0m.7 0h0m.9 2.6h0m0-.7h0m.1-1.1h0m.9 1.4h0m1.3-2.4h0m.2 .7h0m.2 1.5h0m.1-.2h0m.2-1.9h0m.9 1.2h0m0-.5h0m.3-.2h0m.1 .6h0m0 1.4h0m.7-1.7h0m1.2 1.4h0m.5-.2h0m.5-.6h0m0-.8h0m.2 .1h0m.1 1.6h0m.2-1.8h0m.4-.2h0m1.4 1h0m.1 .4h0m.2 .7h0m.2-1h0m1.2-1h0m.2 2.3h0m.3-.6h0m0-.9h0m.2-.1h0m0 .3h0m0-1.4h0m.5 1.6h0m.3-1.5h0m.2 1h0m.1 0h0m.1-.3h0m.1-.6h0m.3 1.8h0m1.2-1.1h0m.2 .1h0m.2 1.1h0m.1 .2h0m.2-1.7h0m0 1.6h0m.2-1h0m.4 1.2h0m.1-.5h0m.1 .1h0m.5-1.5h0m.2 1.5h0m.2-.1h0m.1-.3h0m.1-.2h0m.1-.5h0m.2 1.8h0m.1-.3h0m.3-2.4h0m.2 2.5h0m.8-1h0m.2 1.3h0m.9-1.1h0m1.6-.5h0m1.1 .2h0m.2 .5h0m.1 .1h0m.4-1.4h0m.3 2.1h0m.1-1.3h0m.1 .4h0m0-1.3h0m.1 .2h0m.3 .3h0m.2 .5h0m1.1-.2h0m0-.7h0m.2 .5h0m.2-.8h0m.2 .9h0m.1-.6h0m.1 1.1h0m.2 .4h0m.2-.7h0m.1 1.2h0m.2-1.6h0m.2 .4h0m0-1.3h0m.3 1.5h0m0-1.1h0m.8 1.6h0m.4-.1h0m.9-1.6h0m0 1.6h0m.3-.8h0m0-1h0m1.9 .5h0m.2 .6h0m.5 .6h0m.1-.8h0m.5-.3h0m.5 1.1h0m.1 .6h0m.3-.8h0m.1 1h0m.7-1.8h0m.2-.9h0m.1 1.5h0m.1 .6h0m.1-1.8h0m.1-.4h0m.1 2.6h0m.4-1.2h0m.4 1h0m.4-.8h0m.1-1.1h0m.1 .9h0m.3-.2h0m.1-.7h0m.2 .2h0m.3 .5h0m0-.5h0m0 1.1h0m.2-.9h0m.1-.9h0m.5 .1h0m.1 1.9h0m.4-1.1h0m.1 1h0m.1-.8h0m.3-.6h0m.6 .1h0m.4 1.4h0m.1 .3h0m.5-1h0m.7-.6h0m.1 .8h0m.1-1h0m.2 .1h0m.3 .9h0m.3-.9h0m.2 .3h0m.5 1.5h0m.5-.8h0m.1-1.4h0m.1 .8h0m.9-.4h0m.5 .4h0m.1 1.8h0m.3-1.3h0m.3-1.3h0m0 1.5h0m0 .9h0m.6-1.5h0m.1 1.5h0m0-1.7h0m.7 .2h0m1-1.1h0m.3 1.2h0m.1 .4h0m.3-.9h0m.3-.3h0m.3 .1h0m0 .4h0m.8-.1h0m.2-.4h0m-71.6 4.8h0m.4 .2h0m.4-2.2h0m1 1.8h0m.5-2.1h0m.3 1.4h0m.6 .6h0m.1-1.9h0m.9 1.8h0m.7 .7h0m0-1.1h0m.2 1.3h0m.1-1.8h0m.5 0h0m.7-.7h0m.1 1h0m.1 .5h0m.1-.7h0m1 .9h0m.4-.1h0m0-.8h0m.2 .9h0m.1-.7h0m.7 .6h0m.9 .8h0m.2-2.3h0m.1 .1h0m1.1 1h0m.1-.1h0m.1 1.1h0m.8-2.4h0m.3 2h0m.1-1.9h0m0 .1h0m.5 .5h0m.1 1.7h0m.1-.3h0m.1-.4h0m0-1.5h0m.4 2.3h0m.2-.8h0m0-.7h0m0 .6h0m.6-1.2h0m.3 1.8h0m.2-1.3h0m.4-.8h0m0 1.9h0m.2-.8h0m.4 1.5h0m.5-.1h0m.2-.2h0m.1-2.5h0m.9 1.8h0m.1 .7h0m.3-2.3h0m.5 2.5h0m.5-.1h0m.1-2.4h0m.3 0h0m.3 .3h0m.7 1.4h0m.9 .3h0m.1-.6h0m0 0h0m.8 1.4h0m.2-2.1h0m1.4 1.5h0m.2 .3h0m.1-2h0m.7 2.2h0m.1-1.2h0m.3 1.3h0m.1-.5h0m0-1.1h0m.3-1h0m.1 .7h0m.6-1.1h0m.1 2.6h0m.1-2.5h0m.6 1.1h0m.3 0h0m.8 .4h0m.3-.9h0m.5 .1h0m.1 .1h0m.1-.5h0m.6-.3h0m.8 1.5h0m1.7-1.2h0m1.3 2.5h0m.3-1.8h0m0 0h0m.1 1.3h0m.1-1.3h0m.2 1.5h0m.1-2h0m.2 1.4h0m.1-.1h0m.2-1.6h0m1.2-.1h0m.1 .4h0m.6 .6h0m.1 .3h0m.5-1.2h0m.6 2.7h0m.9-.7h0m.2-2.1h0m.2 .9h0m.1-.9h0m.8 1.2h0m.3-1.3h0m1.1 1.5h0m.6-1.5h0m.1 1.4h0m.7 .8h0m.9-.5h0m.6-.9h0m0-.6h0m.1-.2h0m.7 .4h0m.1 1.1h0m.6-.4h0m0 1.7h0m.4-1.7h0m1.4-.3h0m1 1.3h0m.5 .7h0m.2-.6h0m.4 .3h0m.3-1.7h0m.6 1.4h0m.7-1.6h0m.7 1.1h0m.1-1.2h0m0-.2h0m0 .1h0m.1 1h0m0 .6h0m.1-1.6h0m.4 1.2h0m.3-.7h0m.4 .6h0m.1 .4h0m.3-1.2h0m0 1.7h0m.1-1.8h0m.7 2h0m.2-.2h0m1.3-.5h0m0 0h0m.2-.5h0m.4-1.4h0m.1 .7h0m.6 .5h0m.9 .5h0m1.3 0h0m.1-.4h0m.1 0h0m.2 .2h0m1.8 .2h0m.1-1.5h0m.2 2.4h0m0-.5h0m.8-1.3h0m.1 1h0m.3 .5h0m.1-1.9h0m.1 2h0m.1-1.4h0m0-.2h0m.7 1h0m.2 .3h0m.3-1.9h0m.1 1.3h0m.3-1.4h0m.3 .4h0m.1-.1h0m.1 0h0m.2-.3h0m1 1.2h0m.3-.2h0m.4 .4h0m0-1.4h0m.8 1.2h0m.4-1.3h0m0 2h0m-67 3.8h0m.4-2.5h0m.2 .2h0m.1 .3h0m.5 .9h0m.1 0h0m.3-.4h0m0 .6h0m.1 .7h0m.3-2.4h0m.7 1.7h0m.7 .7h0m.1-1.4h0m.2-.5h0m1.4 .4h0m0 .7h0m.1 .2h0m.3 .8h0m.4-.1h0m.2-.2h0m.5-.8h0m.6-1.3h0m.3 .3h0m.2-.1h0m.2 .9h0m.3-.3h0m.1 1.1h0m1.1-1h0m.1 .6h0m.2-1.3h0m.5 1h0m.2-1.1h0m.7 .1h0m.2 .5h0m1.1-.3h0m1.2-.4h0m.2 2h0m0-.9h0m.3-1.4h0m.4 1.9h0m.3-.8h0m.2 .6h0m.2-.4h0m.3 .1h0m0 .4h0m.5 1h0m.7-2.2h0m.1-.5h0m.7 .4h0m.6 .1h0m.3-.7h0m.3 2.6h0m.4-.4h0m1.2-.5h0m.2-1h0m.6 .5h0m.1 1.2h0m.5-.7h0m.4 .8h0m.2-.3h0m.6-1.1h0m.6-1.2h0m.9 .3h0m0-.1h0m.2 .2h0m.1 1h0m.1 .6h0m.1 .8h0m.2-1.9h0m.5 0h0m.6 1.8h0m.3 .1h0m.1-1.9h0m.5 .5h0m0 1.3h0m.2-1.9h0m.5 1.9h0m0-.9h0m.3 .5h0m.2-2.1h0m1.4-.1h0m.6 2.8h0m.3-1.8h0m.6-.7h0m0 .2h0m.5 .2h0m.5-.4h0m.7 1.7h0m.4-1.2h0m.5-.7h0m.1 1.3h0m0-.8h0m1-.1h0m.2 0h0m.1 .9h0m.3-1.3h0m.3 2.5h0m.1 .2h0m.1-2.3h0m.4 1.1h0m.1-1.4h0m.6 .4h0m1 1.4h0m.7-.1h0m.5-.3h0m.1 .3h0m.2-1.7h0m.3 1.6h0m0-1.4h0m.1 2.4h0m.8-.8h0m.3 .5h0m.1-1h0m.1 .9h0m.5-.4h0m0-.9h0m.3-1.2h0m.4 1.5h0m.3 .4h0m.6-1.7h0m1 1.7h0m.3-1.8h0m.3 2.7h0m.6 .1h0m.1-.1h0m.2-.3h0m0-.3h0m.5 .1h0m.1 .1h0m.6-1.3h0m.4 .4h0m.1-.9h0m.3 .2h0m.2 2h0m0 .1h0m0-2.3h0m.7-.4h0m.4 2.3h0m.1-1.7h0m.2 .8h0m.5 .9h0m.1-.6h0m.2-1.8h0m.5 2.7h0m1.2-.7h0m.2-1.1h0m.1 1.8h0m.2-2.7h0m.1 2.8h0m.8-2.3h0m.1 .2h0m.3-.6h0m.7 1.5h0m.3 .4h0m.4-1.5h0m0 1.5h0m.6-.5h0m.4 .6h0m.8-1.4h0m1.1 1.5h0m.2 0h0m0-.2h0m.2-.6h0m.2 1h0m.2-2.3h0m1.4 .2h0m.6-.1h0m.1 1.2h0m.2-.7h0m0 .9h0m1.5 0h0m.6-.3h0m2.3-.7h0m.3 .1h0m-67.2 2.9h0m1.9-.7h0m0 2.2h0m.2-.8h0m.1-.6h0m.6 1.1h0m.5 .4h0m.2-.3h0m.8-1h0m.2 .6h0m.7-.9h0m.6 .7h0m0-.5h0m.1-.8h0m.4 1h0m.2 .2h0m.5-.3h0m.6-.6h0m.8 .6h0m.3 .8h0m.8 .7h0m0-.8h0m.5-.4h0m0 0h0m1 .8h0m.1-1.9h0m.1 2.2h0m.5-1.1h0m.4-1.2h0m0 2.9h0m.3-2.8h0m.9 .6h0m1.5 2.1h0m0-2.8h0m.1 1h0m2.3 .9h0m.4-.1h0m.7-1.3h0m.2 1.6h0m.7-.8h0m.2-.7h0m.2 .6h0m.2 1.4h0m.4-1.7h0m.4-.7h0m.9 2.1h0m.1-.9h0m.4 1.5h0m.3-1.7h0m.1 .5h0m.3 .2h0m1.3-2h0m.4 1.8h0m.1-.3h0m1.6-.8h0m0 .7h0m.2 .4h0m.6-1.4h0m1.2 2.4h0m0-1.2h0m.3 .3h0m.5-1.5h0m.3 0h0m.1-.3h0m.1 .1h0m.5 1.6h0m.4-1.2h0m.4-.1h0m1.4 .2h0m.4 1.2h0m1.7-1.4h0m.6 1.3h0m.3-.6h0m.1 1.4h0m0-.9h0m.2-1h0m.2-.7h0m.8 2.8h0m0-1.3h0m.2-.7h0m.4 .5h0m.8-1h0m.2 .8h0m.2 1.9h0m.3-2.5h0m.3 1.1h0m.2-1.5h0m.3 2.9h0m.1-.1h0m.9-2.7h0m.1 0h0m.4 1.3h0m.2 1.4h0m.6 .1h0m.1-3h0m.6 .4h0m.7 1.2h0m.4 .7h0m0-2h0m.6 1.4h0m0-.4h0m.6-.7h0m.1 1.5h0m.4-.1h0m0-.3h0m.3 1.2h0m.1-2.2h0m.5 2h0m.2-2.1h0m.5 2h0m.3-2.1h0m.8 .8h0m.8 .1h0m0-.1h0m.1 1.2h0m.5-2.4h0m.2 1.5h0m.5-1.2h0m.2 .2h0m.4 1.2h0m1.2 .1h0m.4 .1h0m.7-1.8h0m.9 0h0m1 1.9h0m.5-.9h0m.5 .3h0m.1 1.1h0m.3 .2h0m0-1.3h0m.1 .1h0m.1-.4h0m.2-.9h0m.4 1.6h0m.6 .1h0m.1-.8h0m0-.7h0m.3 .8h0m1.1-1.3h0m.9 1.5h0m.7 1h0m.9-2.1h0m3.4 2.5h0m-62.5 1.2h0m.5 .3h0m.1-.7h0m1.6 1.3h0m1.4 .4h0m0-1.2h0m1 .7h0m0-1.2h0m.1 .8h0m.9 0h0m1.4-1.1h0m.2 1.8h0m1.7-.8h0m.1-.3h0m.7 1h0m.4-1.1h0m1.1 .2h0m.4 .3h0m.2 1.3h0m.4-2.8h0m1.7 3h0m.6-1.8h0m.1 .2h0m.8-.2h0m.3 1.3h0m.4-2.3h0m.1 1.1h0m.1 1.5h0m.1-.6h0m.1-1.6h0m.4 .6h0m1 1.5h0m.3-2.2h0m.5 .9h0m1.2-.8h0m.2 .7h0m.7 .3h0m1 1h0m.1-1.5h0m.7-.1h0m0 .1h0m.5 .6h0m.2 0h0m.3-.9h0m.1 1.7h0m.7-.2h0m0-.8h0m0 .1h0m.3-.7h0m.7 .9h0m.4-1.4h0m0 1.1h0m.7-.6h0m0 .6h0m.1 .9h0m0-2.2h0m.1 2.8h0m.3-1.3h0m.1-1.1h0m.3 1.8h0m.2-1.7h0m.9 0h0m.1 1.8h0m.2-.9h0m.4 .9h0m.1 .3h0m1.5-2.5h0m.3 1.7h0m.3 .2h0m.4-.3h0m1.2-.9h0m.1 .8h0m0-1.5h0m.5 0h0m.2-.2h0m.1 2.2h0m.3-.3h0m.1 .8h0m0 .2h0m1.1-2h0m0 .3h0m.5-.9h0m.7 .5h0m.5 1.1h0m.4 0h0m.2 .3h0m.8 .6h0m.2-2.9h0m.3 1.6h0m.6-1.2h0m.7 2.4h0m.1-.2h0m.4-2h0m.3 0h0m.2 1.7h0m0-1.1h0m1.1-.9h0m.1 2h0m1-.9h0m.4-.3h0m.5 1.6h0m.4 .2h0m.1-1.3h0m.2-1.3h0m.7 1h0m.4 .7h0m1.3 .9h0m.3-1.7h0m.7-1.1h0m.7 1h0m.9-.9h0m.1 .7h0m.2 1.6h0m.1-.5h0m.5-.7h0m.4 1.1h0m.1-.8h0m1 .2h0m.9-.2h0m.5-.4h0m5.7-.9h0m-58.9 3.6h0m.2 1.1h0m0-1.9h0m.6 2h0m.3-.4h0m.1 .6h0m.1-.9h0m.3 0h0m0 .1h0m1.1 .5h0m.1-1.7h0m.3 1.4h0m.3 .4h0m.6 .1h0m.1-.7h0m.5 .9h0m.1-1.1h0m.1 1.5h0m.2 0h0m.1-2.6h0m.1 0h0m.1 1.7h0m.6 .3h0m.9-1.3h0m.2-.5h0m.7 .1h0m.2-.5h0m1.8 2.5h0m0-1.6h0m.6 .1h0m.8-.6h0m.3 1.3h0m.5 .9h0m.1-2.2h0m.2 1.3h0m.5-.7h0m.1-.4h0m.4 .4h0m.2-.6h0m.4 1.8h0m.4 .7h0m.7-2.7h0m.6-.2h0m.3 2h0m0 .4h0m.2 .1h0m.9-2.2h0m.2 2.5h0m.2-1.2h0m.8 1.1h0m.2-2.6h0m0 2.8h0m.6-.9h0m0-.2h0m.4-1.3h0m.1 1.7h0m.2-1.2h0m0 .1h0m.8 1.4h0m.1-.5h0m.1 .5h0m0-1h0m1.8-1.5h0m.4 1.7h0m0-.2h0m.4 .2h0m.7 .3h0m.6-1.8h0m2.1 .5h0m.1 .7h0m1 .6h0m2.1-.5h0m2.2-.3h0m2.5 .5h0m1.2-1.6h0m.3 1.9h0m.3-1.7h0m.1 1h0m1 1.6h0m.2-2.7h0m.1 1h0m.1-.8h0m.4-.4h0m.6 .4h0m.1 1.8h0m.2-1.2h0m.6 .3h0m.2 .9h0m.1-.3h0m0-.9h0m1.3 1.9h0m0-1h0m.2 .3h0m0 .5h0m.7-1h0m.9-1.5h0m0 1.7h0m.4-.2h0m.4 .8h0m.4-1.5h0m.3-.9h0m.8 .9h0m.2 1.6h0m1.1-2.4h0m.5 2.7h0m.2-2.8h0m.2 1.6h0m.3 .2h0m1.2-1.7h0m.2 .5h0m.6 .3h0m.8-.3h0m1.8-.2h0m.5 1.6h0m-53.1 1.4h0m.3 .1h0m1.3 1.3h0m1.3 0h0m.4 .1h0m2-1.8h0m.1 0h0m.1 .8h0m.1 1.6h0m.1-1.1h0m.2 .5h0m.9-.6h0m0 .8h0m1-2h0m.2 1.4h0m1.1 0h0m0-.2h0m.3 1h0m.9-1h0m.2-1.2h0m.2 .6h0m.1 2h0m.3-.9h0m.3 .2h0m.1-1.4h0m.2 1.7h0m.2-.5h0m.5 .1h0m.2 0h0m.7 .5h0m0 .1h0m.3-.9h0m1.2-.8h0m.1 .5h0m0 1.4h0m.1-1.4h0m.7-.2h0m.4 1.2h0m.7-1.5h0m.1 .9h0m.5-.4h0m0-.8h0m.1 1.2h0m.2 .2h0m.1-1h0m.5 .5h0m.3-.3h0m.1-.8h0m.2 2.1h0m.2-1.1h0m0-.6h0m.2 1.5h0m.5 .7h0m.4-.2h0m0-2.4h0m0 1.1h0m1-1.5h0m.1 2.8h0m.1-2h0m0 2h0m.6-1.4h0m.3 .1h0m.3 .9h0m.2-1.4h0m0 1.6h0m.1-.8h0m.5-1.5h0m0 1.2h0m2.4 .2h0m.2-1.3h0m2.2 1.2h0m.1 1.3h0m.4-1.9h0m.3-.8h0m3 .5h0m.4 1.5h0m1.3-.6h0m.4 .1h0m.2 .3h0m.5-.6h0m0 .1h0m.2 1.2h0m.7-.2h0m.6-.5h0m.1-1.2h0m0 1.7h0m.3-1.6h0m.3 1h0m.6-.8h0m.2-.9h0m.4 2.3h0m.2-.5h0m.1-1.9h0m2.3 .2h0m.1 1.3h0m0 .9h0m.6-1.7h0m.2 1.8h0m.5-1.7h0m.1 2.1h0m.2-2.3h0m.1 1.9h0m.2 .1h0m0-.3h0m1-1h0m.8-.6h0m.2 .2h0m.9-.3h0m-43.9 3.4h0m1.6 .6h0m.1-.3h0m1.2 1.6h0m.4-1.1h0m.1 .9h0m.2-2.3h0m.6 .3h0m.3 .3h0m.2 .4h0m0 .2h0m.2 .6h0m1.2-.6h0m.1-.4h0m.9-.7h0m0 1.2h0m.1 .9h0m.2-1.1h0m.4 1.4h0m.2-2.3h0m0-.6h0m0 2.1h0m.1-1.8h0m0 0h0m.4 2.2h0m.1-1h0m.3-.6h0m.7 .3h0m.1 .8h0m.4-.7h0m.2-.1h0m.4 .4h0m0-.3h0m.6-1.3h0m.3 0h0m.5 2.8h0m.3-1.7h0m.4 1.6h0m.2-1.9h0m.4 2h0m0-.5h0m.2-2h0m.1 1.5h0m.2-1.1h0m.7 .7h0m.4 .5h0m.9-1.2h0m.5-.5h0m.3 1.3h0m.1 .7h0m.3-1.1h0m.1 1.7h0m.5-2.1h0m.3 .5h0m.8-.3h0m.4 1.9h0m0-.1h0m.3-.4h0m.5-1.4h0m.2-.5h0m.1 2.1h0m.6-.2h0m.4-.4h0m.1-1.3h0m0 2.1h0m.4-1.7h0m.6-1h0m.3 2.2h0m.5 .3h0m.2-.8h0m0-.9h0m1.1-.1h0m1.4 .2h0m3.5 1h0m.8 .5h0m.2-1.2h0m1 1.2h0m.8-1.4h0m.1-.8h0m.1 .1h0m.1-.2h0m.3 .9h0m.1-1.1h0m.1 2.6h0m.1 .2h0m.3-1h0m.6-.4h0m.3 1.4h0m0-2.5h0m.1-.3h0m.4 1.3h0m.4-.8h0m.5-.3h0m.1 .1h0m.7 2.4h0m.2-.9h0m.1-1.5h0m.6 2.6h0m.5-2.4h0m1.9 .6h0m1.1 .4h0m-39.6 1.9h0m1 1.9h0m1.2-.3h0m1.3-2h0m.1 1.2h0m.4-.5h0m.5 .4h0m.2 1.2h0m0-.5h0m0 .5h0m.2 0h0m0-1h0m.2 1h0m0-1.6h0m.5 1.2h0m.4-1.8h0m.6 1.8h0m.7-.6h0m.2 .5h0m.1 .5h0m.6-.8h0m.1-1.1h0m.1-.4h0m.2 1.1h0m.6-.1h0m0 1.2h0m.5-1.3h0m.1 .8h0m.1-.3h0m0 1.1h0m.4 .4h0m.4-1.6h0m1-.7h0m.2 1.9h0m.1-1.6h0m.2-.6h0m0 .6h0m.6 1.2h0m.3 .7h0m.2-2.2h0m.7-.5h0m.1 .5h0m0 .2h0m.3 0h0m1.9-.3h0m.2 2.2h0m.3-2.3h0m.1 1.2h0m.5 1.2h0m.8-.5h0m.1 .5h0m.3-2.6h0m.1 1h0m.1 1.7h0m.4-1.6h0m.1 .2h0m.5 .6h0m0-1.7h0m.2 2h0m.2-2.3h0m.1 2.7h0m.2 0h0m.2-2.2h0m.3-.2h0m.4 1.1h0m.1-.8h0m.3-.5h0m.7 .5h0m.2 1.1h0m.2-.9h0m.1 0h0m.1-.2h0m.2 1.7h0m.1-.1h0m.2-.4h0m.3-1.3h0m1.6 1.9h0m.8 .4h0m.3-.3h0m.5-.7h0m.6-.7h0m.3-.1h0m.5 1.4h0m.1-1.2h0m0-.1h0m.7-.1h0m0-.4h0m.4 1.8h0m.7 .3h0m.1-.4h0m.1-2.2h0m.5 .5h0m.7 1.1h0m0-1.6h0m.1 2h0m.5-1.4h0m.4 1.7h0m.7-1.9h0m.3 1.3h0m.1-1.1h0m.1 1.7h0m.2 .1h0m.1 .1h0m.2 .1h0m.4-2.4h0m.2 1.1h0m.1-1.5h0m.2 1.1h0m.5-.8h0m.1 2.6h0m.9-1.3h0m.4-1h0m.2-.4h0m.3 1.7h0m.2-.3h0m.4-.7h0m-34.1 4.5h0m.6-2.4h0m.2 .7h0m.1 1h0m.8-1.5h0m.4 1.6h0m.2-.2h0m.4 1.2h0m.1-1.7h0m0 1.7h0m1-1.5h0m.7 .4h0m.4-1.5h0m.1 2.7h0m.4-2.1h0m.3-.1h0m.3 .6h0m.1-1.2h0m.2 2.5h0m.2-2.2h0m.1 1.1h0m.2 .5h0m.5-1.4h0m.1 .2h0m1-.6h0m.1 2.1h0m.2 .4h0m0-.3h0m.2-1.9h0m1 1.7h0m.3-2h0m.1 .8h0m.8 1.3h0m.2-1.2h0m.4 1.9h0m0 0h0m.7-1.1h0m1.5 .4h0m0-1h0m.1 .2h0m.1 .6h0m.4-1.4h0m.2 0h0m1.3 1.3h0m0 .2h0m.7-.5h0m.6 .1h0m.2-1.5h0m.3 .2h0m.6 1.5h0m1.5-.2h0m.2-.1h0m.1-.8h0m.5 .9h0m.4-1.7h0m.3 0h0m.4 .8h0m.1 .6h0m.1 .6h0m.8-.3h0m.3-.4h0m1.7 .3h0m2.6 .6h0m2.9-2h0m-25.2 5.6h0m.8-2.5h0m.3 .5h0m.4 .9h0m0 .9h0m0-1.5h0m.1 1.7h0m0-.9h0m.5 .8h0m.1-1h0m.3 .2h0m.4-1.6h0m.1 1h0m.2 .4h0m0-.4h0m.5 .3h0m.2 1.1h0m.4-2.7h0m.3 1.5h0m.2-.3h0m0 .9h0m.1-1.6h0m.1 2h0m.3-.6h0m.4-.4h0m3-.6h0m1.4 .4h0m.7-1.1h0m.1 .5h0m1.4 .3h0m1.9 .2h0m1.1-1h0m3.6 .1h0m13.5 .4h0m-32.4 2.9h0m2.8 .2h0m.5-.5h0m4.2 .3h0m1.2-.5h0m3.8 1h0m7.3-.9h0m-16.3 3.8h0" stroke="#DE68B2" stroke-width="1.24" stroke-linecap="round" fill="none"/>
<path d="M85.7 132.9h0m-3.5 3.4h0m.4-1.3h0m.1-1.3h0m.1 .8h0m1.6 .9h0m-2.3 3.7h0m.2 .1h0m.7 .1h0m.4-1.9h0m.5-.6h0m.3 .4h0m0 1.7h0m.5-.5h0m0-.8h0m.8-1h0m-9.3 4.8h0m3.1-.7h0m1.7 1h0m.8 0h0m0 .2h0m.8-2h0m0 2.5h0m0-2.9h0m.5 3h0m.1-1.8h0m0-.4h0m.1 2h0m.1-.4h0m.4-1.5h0m.1 1.5h0m.3-2.2h0m.4 1.8h0m0-.4h0m.1-.6h0m.2 1.8h0m.4-1.3h0m.1-.2h0m-8.3 2.4h0m.6 1.9h0m.2-1.3h0m.3 0h0m1.6 0h0m.5 .8h0m.4 .9h0m0-2.6h0m1.3 .2h0m1.4 .7h0m1.3 1h0m.4-.2h0m0 .1h0m0 .1h0m.1 .4h0m.1-1.1h0m.3 1.3h0m.1-1h0m.5 1h0m.1-.2h0m.3-.7h0m-18 3.6h0m3.3-1.1h0m1.4 1.5h0m.2-1.3h0m0-.2h0m.1 .6h0m.3-.9h0m.5 .2h0m.5 1.6h0m0-2h0m.3 1.4h0m.1-.3h0m1.3-2.1h0m.2 1.1h0m.1-1h0m.8 2.1h0m0-1.8h0m.2 1.5h0m.5 .6h0m.5 .5h0m.5-.1h0m.2-.9h0m.6-1.2h0m0 1.5h0m.3 .2h0m.3-1.9h0m.3 2.1h0m0-.9h0m.1-.8h0m0-.2h0m.1-.5h0m0 .4h0m.1 2.1h0m.4-2.6h0m.6 2.5h0m.6-.6h0m.2-1.4h0m0-.4h0m.1 .6h0m.1 1.3h0m.5-2h0m.3 1.3h0m1.2-.6h0m.5 1.8h0m.1-2.6h0m.4 0h0m.5 .3h0m-23.3 5.5h0m4.8-.7h0m.2-.3h0m1.7-1.2h0m.7 .4h0m.4 1.1h0m.1-1.2h0m.3 1.1h0m.3-1.1h0m1.1 .5h0m.1-1.5h0m.2 .2h0m.3 .2h0m.4 .8h0m.2 1.2h0m.1 .2h0m.3-.2h0m.2 .4h0m0 .1h0m.3-.4h0m.4-1.1h0m.2 .6h0m.5-1.2h0m.4 .2h0m.3 .7h0m.1-.1h0m.4-.5h0m.3 .3h0m.1 1.3h0m.1-1h0m.2-1h0m.8 .1h0m.3-.3h0m.4 1.7h0m.2-.3h0m.2 1.1h0m.2-1.9h0m.4 0h0m0 .1h0m.3-.5h0m1.1 .2h0m.2 .5h0m0 .7h0m.2-.6h0m1 0h0m.8 .2h0m.3 1.1h0m.8-1h0m.5 1h0m.5-1.7h0m.5-1h0m.5 1.2h0m-22.9 3.8h0m0 .8h0m.6 0h0m1.3-.3h0m.7-.2h0m.2-1.9h0m.1 .9h0m.6-.8h0m.1-.3h0m1.7 2.2h0m.1-.5h0m1-1.8h0m.6 1.5h0m.1-.9h0m.8 1.5h0m.7-1h0m.8-.9h0m1.4 2.1h0m.5-.8h0m.2 .8h0m.1 .5h0m.5-2.2h0m1-.1h0m0-.3h0m.8 0h0m0 .4h0m.1-.1h0m.4-.5h0m.3 1.6h0m.7 .1h0m0-.2h0m.2 .2h0m.1-1.1h0m0 1.3h0m.4-.7h0m1.1 .1h0m1.2 .7h0m1-2h0m.5 .9h0m.7 1.4h0m.3-.7h0m.4-1.6h0m.8 .6h0m1.2 1.2h0m.3-1.1h0m-28.2 3.9h0m1.3 .1h0m2-.1h0m.3-.2h0m1.4 1.2h0m1.4-.4h0m.1-1.1h0m.2 .2h0m.9-.7h0m.1 1h0m.1-.8h0m.1 .7h0m.2 0h0m.1-.4h0m.1 1.3h0m.7 0h0m.4-.6h0m0-1h0m.5 1.6h0m.4-2.1h0m.2 1.5h0m.2-.5h0m.5 1.2h0m.2-2.3h0m.5-.1h0m.1 2.5h0m.7-2.4h0m0 2.6h0m.2-.4h0m.9-1.5h0m.3 1.3h0m.1-.1h0m1.1-.5h0m0-.8h0m.1 1.2h0m.3-1.5h0m.3 1.2h0m.2 1h0m.6 .1h0m1.2-.3h0m.1-.3h0m0-.4h0m1.6-1.5h0m.7 .6h0m1.2-.3h0m0 0h0m.6 .4h0m.2 .8h0m.3-.2h0m.4-1.4h0m.3 .5h0m.6 2h0m.6-1h0m.2-.8h0m.3 1.1h0m.3-2.1h0m1.2 1.2h0m1.1 1.1h0m2.6 .5h0m-30.2 .3h0m3 1.9h0m.1-.8h0m0-1h0m.5 .3h0m.3 .4h0m1.4 .2h0m.5 1.5h0m.5-2.4h0m.1 .9h0m1.5 1.2h0m.1-.2h0m1.1 .7h0m.1-.7h0m.3-.1h0m1.3 .1h0m.1-1.3h0m.4 .8h0m0 .2h0m1.5-.1h0m.4-1.2h0m.4 .3h0m.8 2.1h0m.3-1.2h0m.2 .2h0m.6 .1h0m0 .7h0m.5-.9h0m.3-.7h0m1.5 1.1h0m.2 .3h0m.8-1.4h0m.1 1.3h0m.4-.1h0m.1-1.2h0m.4-.4h0m.7 .7h0m1.2-.1h0m.2-1h0m.3 .1h0m1.2 1.5h0m.2 .4h0m.1 0h0m1.9-1.4h0m0-.3h0m.2-.7h0m.2 .5h0m.1 2h0m.1-1.1h0m1.2-.3h0m.4 .3h0m.1 1.6h0m-25.3 .4h0m.1 1.1h0m.4-.6h0m0-.8h0m1.4 1.4h0m.1-.9h0m0 .8h0m.3 1.5h0m0-2.8h0m1.1 .2h0m.6 1.1h0m.5-.9h0m.1 .6h0m0 1.3h0m1.1 0h0m.3-1.7h0m.1-.1h0m.2 1.2h0m.1-1.4h0m.4 1.9h0m.1-.1h0m.2-.6h0m.4 .4h0m.2 .1h0m.2-1.4h0m.8-.7h0m1.4 2.8h0m.1-1.8h0m.5-.3h0m1 1.9h0m.1 .2h0m1.6-.8h0m0 .6h0m.4 .3h0m.7-1.2h0m0 1.3h0m0-1.3h0m1.4 .8h0m.8-1.3h0m.4 1.5h0m.5-1.2h0m.3-.2h0m.4 1h0m.4-2h0m.1 0h0m.2 .3h0m.2 2.2h0m.3-2.8h0m.1 1.5h0m.5 1h0m.1-.1h0m.1-2.1h0m.7 1.9h0m.2-.7h0m.1 .4h0m.2 .6h0m0-.1h0m.8 .4h0m0-.8h0m.6-1.8h0m.6 .1h0m0 1.2h0m.2 1.3h0m.2-.4h0m-21.2 1h0m.7 .9h0m0-.4h0m.3 .6h0m.5 .5h0m0-1.8h0m.3 .3h0m.4-.3h0m.1 1.1h0m1.1-.2h0m.1 .8h0m.4-1.6h0m.4-.1h0m.7-.1h0m.2 2h0m.4-.3h0m.5-1.5h0m.1 1.9h0m0-.7h0m.1-1.4h0m.4 2.2h0m.2-2.1h0m.4 1.4h0m.2 .3h0m.1 .3h0m.3-1.9h0m.1 2.5h0m.2-.9h0m.3-1.3h0m.4 1.4h0m.1-1.3h0m.4 1.9h0m.9-.5h0m.3-1h0m.2-.8h0m0 2.3h0m.3-1.3h0m.1 1.2h0m.4-.9h0m.2-.1h0m.2 .3h0m.9 .7h0m.2-1h0m.8 .1h0m.2 .1h0m1.6-1.5h0m.3-.2h0m.1 1.6h0m.6-1h0m.3-.3h0m.6 1.9h0m.3 .6h0m0-1.8h0m.5 1h0m.8-1.2h0m.4 .4h0m.5-.1h0m.3 .5h0m0 1.1h0m.2 0h0m1.3-2.4h0m.1 1.1h0m-19.8 4.2h0m.6 .1h0m.3-.4h0m.3-2.1h0m.9 2.1h0m.5-.7h0m.1-.9h0m.2 .4h0m.6-.6h0m.6 2h0m1.2-.9h0m.3-.3h0m.1 .7h0m.5-1.5h0m1.4 1h0m.1 .8h0m.1-2.3h0m.2 1.9h0m.2-1.2h0m0 .2h0m1.2 1h0m0 .6h0m.8-1.2h0m.3 1.4h0m.2 .3h0m.2-2.9h0m.1 2h0m.2-1.2h0m.1 .2h0m0 0h0m.4 .5h0m.8 1.2h0m.2-1.4h0m.2 .4h0m.5-1.3h0m.3 2.3h0m.3-.8h0m.1 .7h0m.3 .1h0m.1-2h0m.1 1.1h0m0-.2h0m0 .1h0m.1 .7h0m.5-2.4h0m.1 .2h0m.4 1.4h0m.1 .7h0m.3-1.9h0m.5 1.5h0m.5-.6h0m.6 1.1h0m.3-.7h0m.6-.8h0m1.4 .9h0m.2-1.3h0m-21.9 3.1h0m2.3-.1h0m.4 .9h0m1 .2h0m1.3-.1h0m0-.4h0m0 1.2h0m0-1.9h0m.6-.2h0m.1 2.3h0m.1-2.4h0m.6 .3h0m.7 1.4h0m.2-.2h0m.2-.9h0m.3 1h0m0 .8h0m.7 0h0m.6-.9h0m.5 .3h0m0-.7h0m.1-.7h0m.3 1.3h0m.1 .2h0m.7-1h0m0 .6h0m.9-.8h0m.8 1.1h0m.2 .5h0m.2-1.6h0m0 .9h0m.2 .5h0m.2-.5h0m.2-.2h0m.3-.4h0m.2 .5h0m.3 .4h0m.3 .4h0m.1-.7h0m.2 1.2h0m1.6-1.3h0m.1 .1h0m.4 .2h0m.5 1h0m.1-2.5h0m0 .3h0m.3 2h0m.3-1.5h0m.2 1.7h0m.4-1.5h0m.1 .3h0m.3 1.2h0m.5-1.9h0m.1 1.1h0m-18 2.1h0m2.4-1.2h0m.6 2.8h0m0-2.8h0m.1 2.8h0m.2-2.4h0m.2-.1h0m0-.3h0m.1 1.8h0m.1-.9h0m.1-.5h0m.2-.2h0m.7 .3h0m0 1.5h0m.4-.8h0m.1 .8h0m.4-.7h0m.1 1.2h0m.2-1.9h0m0 .5h0m.1 .6h0m.1 .4h0m.6-.2h0m.2-1.7h0m.2 .3h0m.2 .4h0m1 .5h0m.2 .3h0m.4 .1h0m.6-.7h0m.1-.1h0m.1-.9h0m.1 1.6h0m1.3-.5h0m.2-.5h0m.4-.2h0m.4 2.1h0m0-.5h0m.2-.8h0m.8 1.4h0m.2-2.4h0m.3 .5h0m.7-.4h0m1.7 1h0m0 1h0m.4-.2h0m.1-2h0m.6 .5h0m.9 1.2h0m-16.8 2.3h0m1.1 .3h0m.1 .6h0m.5-1.3h0m.4 .4h0m.2-.3h0m.3-.4h0m.9 1.2h0m.4 .3h0m1.2-.2h0m.8 0h0m.3 .2h0m.2-1.7h0m0 .2h0m.7 1.3h0m.1-1.3h0m.2 1.8h0m.3-2.4h0m.3 1.6h0m.3 .3h0m.5-.9h0m.3 1.8h0m0-2.3h0m0 .8h0m.4 1h0m.2-1.9h0m.3 .5h0m.4 1h0m.3-1.3h0m1 2h0m.1-1.1h0m.1 .5h0m.2-.7h0m0 1.6h0m.1-.4h0m.1-2.2h0m.1 2.2h0m.6-1h0m.9 1.1h0m.1 0h0m.6-1.8h0m.2 1.2h0m.8 .9h0m.5-2.2h0m.8 1.7h0m-17.9 2.5h0m1.5-.5h0m.9 .7h0m.2 .3h0m0 .5h0m.1-1h0m.1 .1h0m1.4 .3h0m.3-1.7h0m.6 1.1h0m.2 .5h0m.1-2h0m.1 2.6h0m0 .2h0m.5-2.6h0m.3 1.8h0m.2-.7h0m.2-1.3h0m.1 .5h0m0 1.4h0m0-1.5h0m.2 .7h0m.1-.9h0m.4 1.8h0m0 .2h0m.5-1.6h0m0-.2h0m0 2h0m.3-2.5h0m.4 .5h0m.2 2.1h0m.7 .1h0m.2-.6h0m.5-1.7h0m.2 1.4h0m1.9 .7h0m.4-2.1h0m.2 .7h0m.8-.5h0m.2 1.8h0m.2-.2h0m.3-.5h0m.2-.5h0m0 .4h0m.1 .5h0m.2 .4h0m.5-1h0m.2-1.1h0m-15.9 3.1h0m.5 1.2h0m.7-1.2h0m.4 .5h0m.5 1.6h0m.6-2.3h0m.1 .8h0m.7 1.1h0m.7-.7h0m.1 .8h0m.5-.4h0m.3-1h0m.7 1.4h0m.5-1.1h0m.5-1.3h0m0 1.6h0m.5-.1h0m1.6-1.2h0m.1 .7h0m.3-.1h0m.1 1.3h0m.3-1.2h0m1.3-.7h0m.1 1.8h0m.2 .7h0m.1-.5h0m.1-2.2h0m.1 .2h0m0 .9h0m.5 1.5h0m.1 .1h0m1.6-2.1h0m.3 1.7h0m0-.5h0m.4-1.6h0m-16.6 2.8h0m.8 2h0m.5 .3h0m1.7-.3h0m.2-1.4h0m.1-.1h0m.3-.5h0m.4 .2h0m.1 1.6h0m.4-1.7h0m.8 .4h0m.2 1.6h0m.1-.9h0m.9-1h0m.2-.2h0m.7 1h0m.7 1.3h0m0-1.9h0m.1 .2h0m.2-.2h0m.6 1.9h0m.2 .3h0m.1-.9h0m.2-.5h0m.1 0h0m.6-.2h0m0 1.6h0m.3-1.8h0m.1 1.5h0m.6-1.2h0m.6 1h0m.2-1.7h0m.3 .7h0m.2 .5h0m0 1.2h0m.1-.6h0m0 .3h0m.3-1.8h0m.6-.2h0m.3-.3h0m.6 2.2h0m.3-.7h0m.1-.1h0m.4-1.5h0m.1 .2h0m1 2.5h0m.1-1.3h0m.6 1.3h0m1.7-1.7h0m-22.5 2.7h0m1.5 .2h0m1.4 1.7h0m.2-.5h0m.2 .3h0m.3 .3h0m.2-2.4h0m.8 2.3h0m.1-.5h0m.3-1h0m.7-.3h0m0-.5h0m.9 .4h0m.4 0h0m.3 1.3h0m0-1.7h0m.9-.1h0m.6 2.2h0m.2-2.5h0m0 .5h0m.1 .2h0m.6 1.6h0m0-1.6h0m.4 .1h0m.1 1.3h0m.1-.2h0m.1-.8h0m.2 .3h0m.1 .9h0m.7-1.4h0m.5-.6h0m.3 2.6h0m.7-2.5h0m0 1.5h0m.3-1.6h0m.1 .1h0m.9 1.8h0m.1-1.3h0m.4 .1h0m.1 0h0m.5 1.1h0m.3 .3h0m.5 .2h0m.4-.2h0m.3-2h0m.2-.4h0m.1 .8h0m.6 1.4h0m.4 .1h0m1.3-.9h0m.4-.8h0m.2 1.7h0m.6-1.1h0m.7-1.2h0m.2 1.3h0m-22.6 4.5h0m1.9-2.9h0m1 1.6h0m.3 .2h0m.3-1.7h0m1 1.7h0m0-.5h0m0-.5h0m.1 1.6h0m.2-1.1h0m0 1.1h0m.3 .5h0m.4-2.2h0m.4-.6h0m.3 1.5h0m.5-.5h0m1 1.1h0m.1 0h0m.2 .6h0m.5-.1h0m.1-1.6h0m.2-.5h0m.1 1.3h0m1.3-1.9h0m0 0h0m.1 1.7h0m.6 1h0m.1-2.2h0m.1 .7h0m1.4-.8h0m.9 1.7h0m1.2-1.4h0m.5 1.5h0m.2 .4h0m.2 .4h0m.4 0h0m.4-1.6h0m.1 1.2h0m.2-.6h0m.4 0h0m0-1.7h0m1.4 .8h0m1.1-.7h0m.3 2h0m0-2.3h0m.1 0h0m.6 1.6h0m0 .6h0m.6-.8h0m.2-.1h0m.2 .7h0m2.3-1.6h0m-24.1 5.5h0m2.7-.2h0m.6-2.2h0m.3 2h0m.5-.1h0m.1-.8h0m.1-.6h0m.5 1.8h0m0-1.4h0m.7-1.1h0m.1 1.5h0m1.8 .4h0m0-.3h0m.6 .1h0m.6-.5h0m.1-1.1h0m.1 .8h0m0 .3h0m.1 .7h0m1.7-1.6h0m.1 1.4h0m.1-1.5h0m1.2 .8h0m.5-.8h0m.8 .5h0m.1-.8h0m.2 1.1h0m.5-.4h0m.1 .4h0m.1-.3h0m.1 .5h0m.1 1h0m.3-.3h0m.3-1.9h0m.6-.2h0m.1 1.6h0m0 1.1h0m.2-1.1h0m1-1.4h0m1.9 .9h0m.2-.7h0m.2 2.1h0m.8-2.4h0m.6 .9h0m.3 1.1h0m.6-2.1h0m-17 3h0m1.5 2.7h0m.4-2.6h0m.1 2.4h0m.3-1.3h0m.3-1h0m.2 1.2h0m.5 1.1h0m.3-1.6h0m.3-.8h0m.1 1.9h0m.2-.9h0m.1 1h0m.1-1.7h0m.2-.1h0m0 1.2h0m.1-1.3h0m.2 .2h0m0 .2h0m1.5 1h0m0-.3h0m.3-.3h0m.2 1.4h0m.2-.7h0m.1-.6h0m.8 .3h0m.3 .3h0m.5-1.4h0m0 1.2h0m.1 .7h0m.9-.5h0m.3-1.7h0m0 2.7h0m.1-1.6h0m.9 1.5h0m.3-.4h0m1-1.8h0m1.1 2.1h0m.1-1.4h0m.3 .3h0m.1 .2h0m.3-1.5h0m.2 2.4h0m.1-1.9h0m.5 0h0m.3 .3h0m.6-.9h0m-16.5 3h0m.7 1.1h0m.5-.2h0m.4 .3h0m.1 1.2h0m.7-1.3h0m0 1.4h0m.1-.5h0m.5-2h0m.4 1.4h0m0-.4h0m.4 1.4h0m0-.3h0m.1-.3h0m.1 .3h0m.9-.8h0m.1-.6h0m.3-.3h0m0 2.3h0m.1-.7h0m.4 .5h0m.6-.8h0m.4-.3h0m.1-1.3h0m1.9 .1h0m.4 1.4h0m.4 .6h0m0-1.8h0m.3 1.9h0m.3-1.3h0m.1 1.4h0m0-.2h0m.4 .5h0m.1-2.8h0m.3 .4h0m.1 2.2h0m0-2.7h0m1.4 .6h0m.2-.2h0m.1 1.6h0m.8-.4h0m.1-.4h0m.3-.4h0m.2-.1h0m.1 2h0m0-.1h0m.6-.3h0m.1-1.3h0m1-.9h0m.1 2.4h0m1.9-.5h0m.6-.7h0m-17.3 4.1h0m.5-2h0m0 1.9h0m2.5-.8h0m.3-.7h0m.4 .7h0m.5-1.4h0m.1 1h0m.1 1h0m.5-1.9h0m.1 1.4h0m.6-.8h0m.1 .8h0m.2-.6h0m.2-.7h0m.3 1.1h0m0-.4h0m1.4 0h0m0-.9h0m.2 2.3h0m0-2.3h0m.1 2h0m.1-.2h0m.9-1.5h0m0 1.3h0m.5 0h0m0 1.3h0m.3-.3h0m.8-1h0m.2-.2h0m.1 .3h0m0-.8h0m.2 1.6h0m0-2.6h0m.1 1.1h0m.3-.8h0m0 2.4h0m.1 .1h0m.3 0h0m.1-.5h0m1.2-2.1h0m.1 2.3h0m.8-2h0m.1 2.1h0m.2-2.1h0m0 .2h0m.7 0h0m.1 .7h0m-13.5 2.5h0m3-.7h0m1.1 1.3h0m2.1 1h0m.4-.4h0m.7-1.1h0m1.8 1.2h0m.2-2h0m.1 2.3h0m.7-1.3h0m.5 0h0m.2 .9h0m0-1.4h0m2 .6h0m.6 .3h0m.3-1.6h0m.1 2.8h0m-13.7 .4h0m4.7 1.4h0m.6 .1h0m.5-1.3h0m.3 .2h0m.3 1.5h0m3.3-2h0m.1 .3h0m3.1 .4h0m.6 3.3h0" stroke="#9A8FD0" stroke-width="1.24" stroke-linecap="round" fill="none"/>
<path d="M59.4 166.2h0m4.7-1.5h0m-2.1 4.4h0m-4.1 1h0m.5-.5h0m.5 2.1h0m.4-.6h0m1.9-.8h0m3.9 2h0m.9-.4h0m-7.6 3.5h0m7.2-.6h0m-5.8 3.2h0m6.7-.8h0m.4 .8h0m-10.8 2.8h0m3.8-.8h0m4.7 .2h0m.6 .4h0m-4 2.9h0m3.1-1.6h0m1.2 .1h0m-5.7 2.8h0m0 1.4h0m3.1-.1h0m.2-1h0m-.1 4.2h0m.3 2h0" stroke="#9A8FD0" stroke-width="1.20" stroke-linecap="round" fill="none"/>
<path d="M57.9 160h0m.1-.2h0m-1.4 3.2h0m.2-2.3h0m.2 2.4h0m-21.8 2.6h0m14.4 .5h0m.4-.2h0m1.7 .2h0m.9-1.8h0m.8 1.3h0m.3-1.5h0m.6-.3h0m.8 0h0m2.7 1.3h0m-22.9 4.2h0m2.2-.1h0m5.9-.6h0m1.3 .2h0m.2 0h0m.5 .4h0m.7-1.1h0m.8 1.1h0m1.3-1.3h0m.2-.4h0m.2 1.5h0m.1-2.2h0m.3 1.7h0m.3 .4h0m.4 .2h0m1-1.5h0m.7 1.1h0m.4-2.1h0m.6 1h0m.6 0h0m.5 .8h0m.2-1.6h0m.7 1.8h0m-23.4 2.9h0m.6 .8h0m3.8-1.6h0m.8-1.2h0m.1 2.8h0m.2 0h0m.7-1h0m.5 .8h0m1-.7h0m.6 .7h0m1.6-.1h0m.9-.4h0m.3-1.7h0m.4 .7h0m.2-1.1h0m0 1.3h0m.5 1h0m.1-1.5h0m.8 .9h0m.3-.1h0m1.9-1.2h0m0 2.1h0m.4-1.1h0m.2 1h0m1.1-1.6h0m.1 0h0m.2-.8h0m.5 2.4h0m0-1.7h0m.2-.4h0m.1 1.7h0m.1 .9h0m1.2-.3h0m.1-2.3h0m.1 2.5h0m.6-1.3h0m.1 .1h0m.5-.1h0m.1-.1h0m.5-.7h0m5.6-.3h0m-27.4 5.2h0m.1 0h0m.7 .1h0m1.2-2.2h0m.8 2.1h0m.3-.8h0m.7-1h0m.1 1.5h0m0-2h0m.1 1.4h0m1.7 .2h0m.1-1.4h0m.7 .8h0m.2 1h0m1.4-1.3h0m.1 .8h0m.2-.2h0m.2-1.5h0m1.6 2.4h0m0 .3h0m.8-2.5h0m.2 1.4h0m.2-.3h0m.1-.1h0m.3 1.5h0m.3-.6h0m0-2h0m.6 1.6h0m.2 .1h0m.8-.6h0m0-1h0m.3-.3h0m.1 1.5h0m1.2-1h0m.1 0h0m1.2 .9h0m.2 1.1h0m.1-1.8h0m.4 1.3h0m.7-1.1h0m.7-.2h0m.2-.6h0m.3 1.6h0m0 0h0m.2-.2h0m2.2-1.5h0m-22.1 5.7h0m.4 0h0m.4-2.3h0m1.1 .6h0m.7 .6h0m.7 .2h0m1.3-1.3h0m0 1.1h0m.1-1.2h0m0 1h0m1-.8h0m.3 1.1h0m.8-1.8h0m.5 1.6h0m.3-.7h0m.2 1.2h0m0-1h0m.1-.9h0m.7 1.4h0m.4 .9h0m.7-.2h0m.2-1.7h0m0 .5h0m.1 .8h0m.3-1.5h0m.3 .2h0m.2 2h0m1.3-2h0m.6 1.4h0m.8-1.7h0m.8 2.5h0m1.2-2.8h0m.5 .2h0m.1 2.8h0m.1-.5h0m0 .3h0m.1-2.3h0m.4 1.5h0m.2-.5h0m.1-.9h0m.2 0h0m.5-.5h0m.3 1.7h0m.6-1h0m.7 .6h0m.3 .3h0m-20.4 3h0m.2-1.7h0m.1 1.2h0m.8-.5h0m.2 1.6h0m.1-1.2h0m.7 1.5h0m0-.4h0m.1-1.8h0m.3 1.3h0m.1-1.4h0m.2 2.6h0m.1-1.9h0m.4 2h0m.8-2.2h0m.1 1.8h0m.8-2.4h0m.5 1.9h0m.4 .6h0m.1-2.1h0m.1 .1h0m.4 1.4h0m.4 .5h0m.1 .3h0m.2-.1h0m.1-1h0m1.1 1.2h0m.3-1.4h0m.2 .3h0m.2-1.6h0m.1 .4h0m0-.1h0m.3 1.7h0m.3 .4h0m.6-1.6h0m1 1.5h0m.6-.3h0m.4-.4h0m.1-1.4h0m.1 .8h0m.2-.3h0m.5 .9h0m.3 .6h0m1.3 .4h0m1.3-2.9h0m0 1.9h0m.8-1.5h0m.7 1.4h0m.2-1.4h0m.4-.3h0m1.3 2.8h0m-15.9 2.9h0m.5-1.9h0m.2 .9h0m.4 .3h0m.6-1.7h0m.1 0h0m.1-.2h0m0 1.7h0m.9-1.4h0m.3 1.2h0m1.2-1h0m.6-.4h0m.5 1.1h0m.1-.3h0m.2 .8h0m.9-1.5h0m.9 1.6h0m.2-1.5h0m.2 2h0m.1-1.2h0m2 0h0m.6-.6h0m1.2-.6h0m2.2 2.1h0m-9 2.9h0" stroke="#78C850" stroke-width="1.24" stroke-linecap="round" fill="none"/>
<path d="M178.7 100.2h0m-3.7 3.1h0m2.7 0h0m.7 .2h0m1.8-.2h0m3-1.2h0m-16.4 4.2h0m1.9-.9h0m2.1 .8h0m.5-.8h0m.1 1.1h0m.3 0h0m.4-1.9h0m.1 1.7h0m.3-2h0m0 1.3h0m.2-.4h0m.3-1h0m.1 1.9h0m.1-1.3h0m0 0h0m.5 1h0m2.1-1.4h0m0 .7h0m.7 1.2h0m.1-1.1h0m0-.9h0m0-.4h0m.1-.4h0m1.1 2.9h0m.4-1.2h0m.8 1h0m.4 0h0m.2-1.5h0m0 1.8h0m.5-1h0m0 0h0m.3 0h0m.8-.4h0m.3-.2h0m.3-1.3h0m0 1.1h0m.1-.8h0m.1 2.5h0m.3-.5h0m1.5-1.5h0m1.1 .1h0m.2-.6h0m.2 2h0m.1 .1h0m.2 .4h0m.2-.8h0m.2-.4h0m3.1 .6h0m-27 2.6h0m1.7-.9h0m1.5 1.7h0m1.3-.5h0m.1-.8h0m.8 .3h0m.1 1.2h0m0-2.1h0m.3 1.3h0m.2 .7h0m.3-.3h0m.3-.3h0m1.2-.1h0m0 .3h0m.2 .6h0m.4-1h0m1 .3h0m.1-.8h0m.8-.6h0m.3 .3h0m.1 .7h0m1.7-.8h0m.2 1.5h0m.5-2.6h0m.8 2.9h0m.4-2.7h0m.4-.1h0m.5 .4h0m.1 1.5h0m.6 .3h0m.1 .5h0m.6-.3h0m.5-2h0m.3 .3h0m.8 .3h0m1.2-.4h0m.1 1.8h0m.3 .1h0m.2-1.2h0m.3-.4h0m.5 1.4h0m.6-2.2h0m.1 1.9h0m.7-1.6h0m.6 .5h0m1.2 .9h0m0 .2h0m.1 0h0m1 .6h0m.2-1.7h0m.2-1h0m1.5 2.8h0m.1-.1h0m.2-2.1h0m1.2 .8h0m.3 .2h0m.2 1.4h0m-30.6 .7h0m2.5 1.7h0m.1-.6h0m.8-.8h0m.1 .9h0m.6-1.6h0m.1 2.2h0m.2-2.3h0m0 0h0m.5 1h0m.7 1.6h0m1.2-.4h0m.3-.6h0m0 .2h0m.9-1.4h0m.1 1.4h0m.5-1.5h0m.3 2.4h0m0-2.2h0m.3 .4h0m.3 .9h0m.6-.3h0m.1-.9h0m.2 1.4h0m.1 .5h0m.3 .2h0m.4-.2h0m0 .2h0m1-.9h0m1.7 .4h0m.7-1.7h0m.1 .3h0m.2 1h0m.3 .5h0m0-1.9h0m.6 .6h0m.2-.9h0m.3 1.5h0m0-.8h0m.1 .5h0m.2-.9h0m0 .8h0m.1-1.1h0m.7 1.7h0m.5 .3h0m.2 .4h0m.6-2.1h0m0 .2h0m.1 .5h0m.2 1.6h0m.1-1h0m.5-1h0m1.2 2.1h0m.6-.6h0m.2-1.8h0m.4 .3h0m0 .1h0m.2 .7h0m1 1.1h0m.1-1.8h0m1-.7h0m.1-.1h0m.4 .1h0m.2 .9h0m0 1.3h0m.4-.3h0m.4-1.9h0m0 .8h0m.2-.5h0m.3 2.4h0m.2-1.7h0m.4 .5h0m.1-.4h0m.1-.8h0m.2 2.3h0m.1-2.8h0m.2 .7h0m.1-.7h0m.5 2h0m.2-1.9h0m.3 2h0m.3-.7h0m.1-.3h0m.2-.1h0m.1-.9h0m.2 .8h0m0 1.1h0m.3-.7h0m.4-.9h0m.2 2.3h0m.7 .2h0m-32.2 1.7h0m.9-.8h0m.3 2.1h0m.8-1.3h0m.1 .3h0m.4 .8h0m1.5-2.6h0m0 .6h0m0 0h0m.6 1.5h0m.2-.1h0m0 .3h0m.4-1.7h0m.1 1.6h0m.1-1h0m.3-.3h0m.1-.6h0m.2 .8h0m.1 .5h0m.1 1h0m.2-2.2h0m.4-.1h0m.6 .9h0m0 1.5h0m.5-2.5h0m.1-.3h0m.1 2.7h0m.1-.2h0m.5-.5h0m.7-.6h0m.2 1.4h0m1.1-1.7h0m.9 1.2h0m.1-.4h0m0 .8h0m.1-.8h0m.2-1.6h0m.6 .1h0m.4-.1h0m.5 2.6h0m.8-2.2h0m.3 1.9h0m.1-1.2h0m.4 .1h0m1.2-1.5h0m.1 1.4h0m.1-.4h0m.2 .1h0m.5 .5h0m.5-.1h0m.1-.6h0m0-.4h0m.3 2h0m.3-1.6h0m.5 1.6h0m.2-1.5h0m.2 1.6h0m.1-2h0m.1 2.1h0m0-2.7h0m.1 1.4h0m.1 .6h0m2.1 .1h0m.8-.3h0m.5-1.4h0m.5 .7h0m.1-.3h0m.1-.9h0m.4 2.1h0m.2-.1h0m.3-1.2h0m.5 1.7h0m0-2.2h0m.5 .3h0m0 2.3h0m.6-2.1h0m0 1.3h0m.2-.6h0m.8-1.4h0m.7 0h0m.6 .4h0m.1 1.6h0m.3-.6h0m.1 .6h0m.1-1.8h0m.4 1.8h0m1-2h0m1.3 .2h0m.5 1.4h0m1.7 1.1h0m1.6-.1h0m-36 1.8h0m1.8 .3h0m.1 .6h0m.1-1.7h0m.7 2.2h0m.6-.9h0m0 .4h0m1.4 .2h0m.7-1.7h0m.1-.4h0m.3 1.7h0m.1-.2h0m.2-1.1h0m.2 .6h0m1.1 1.5h0m1.2-2.4h0m.2-.3h0m.1 2.1h0m0-2.4h0m.2 .6h0m.3 1.2h0m.3-1.4h0m0 1.3h0m.1 .3h0m0-1.7h0m.2 1.7h0m.3 0h0m.2-.4h0m0 .7h0m.2-2.3h0m.5 .7h0m.4 .2h0m.5 1.3h0m.4 .8h0m.5-1.1h0m.1-1.7h0m.7 1.8h0m.1 .6h0m.4-.5h0m0-2h0m.3 1.3h0m.1-.2h0m.1 0h0m.1-.5h0m.6 1.9h0m.3-1.1h0m.2 0h0m.3 .9h0m.3 .3h0m.1-.1h0m.6-.1h0m.3-.4h0m.2 .1h0m.4-2.1h0m.6 2.5h0m.4-.6h0m.1-.5h0m.3 1.5h0m.1-1.8h0m.1-.3h0m.1 1.2h0m.2-1.1h0m.1 .1h0m.1 .2h0m0-.7h0m0 .7h0m0 .4h0m.1 1.1h0m.1-1.4h0m.1 1.4h0m.5-.1h0m0 0h0m.2-2h0m.3-.7h0m.1 1.8h0m.1-1.8h0m.1 1.9h0m.1 .7h0m0-2.1h0m.5 1h0m.1-1.2h0m.3 .7h0m.5-.7h0m1 1.1h0m.4 1.5h0m.1-2.8h0m.4 .8h0m.7 0h0m.2-.1h0m.2 2h0m.2-1.9h0m.2 .6h0m.2 .4h0m.1-.9h0m.1 .6h0m.4 .2h0m.8-1h0m.6-.4h0m.8 1.1h0m.1 .6h0m1.8 0h0m.5-.3h0m1.2-.7h0m.1-.5h0m1.1 1.9h0m0-1.2h0m.7 .8h0m-41.1 2.3h0m4.2 .8h0m.1-.8h0m.4-.4h0m.6 .2h0m.2 .7h0m1-.4h0m.4 0h0m.5-.9h0m.1 2.4h0m.2-.8h0m.1-1.8h0m.1 .4h0m.7 .6h0m.1 1h0m.2-.6h0m.1-.1h0m.2 1.1h0m.1-.8h0m.4 .8h0m.2-2.4h0m.8 1.3h0m.1 .5h0m0-.9h0m.1-.1h0m.1 .2h0m.1-.2h0m.1 .1h0m.5-.1h0m.3 1.2h0m0 .3h0m.2-2h0m.1 0h0m.3 .3h0m.2-.1h0m.1 .1h0m0-.7h0m1.2 1.9h0m.5-1.9h0m.2 2.3h0m0-1h0m0-.1h0m.3-.9h0m.6-.2h0m.2 2.1h0m0-.2h0m.6-.1h0m0 .5h0m.4 0h0m.5-1.6h0m.1-1.1h0m.2 1.5h0m.1 .7h0m.1-.8h0m.1-.2h0m0 1.5h0m.1-.4h0m.2-2.3h0m.2 .3h0m.3 .8h0m.1 .8h0m0-1.3h0m.7 1.2h0m.3-1.2h0m.3-.3h0m.2 .1h0m1 .6h0m.2-.8h0m0 2h0m.1-.8h0m.7 .8h0m1.4-.4h0m.1-1.7h0m.5 .5h0m0 .7h0m.5-.4h0m.2-.8h0m.1 1.7h0m0-.7h0m.5 .2h0m.3 1.3h0m.7-2.4h0m.1 2.3h0m.3-1h0m0 .8h0m.2-.1h0m.5 0h0m.2-1.7h0m0 1h0m1.2-1.2h0m.2 1.2h0m.2 1.2h0m.2-2.2h0m.2 2.2h0m0-2.4h0m.1 .6h0m.5 .8h0m.1-1.3h0m0 0h0m.1 .6h0m0 1.6h0m.5-.8h0m.1-1.6h0m.4 1.8h0m.1-.5h0m.3-.9h0m.3 .3h0m0 2.1h0m.7-.3h0m.5-2.7h0m.1 1h0m.3-1h0m.6 .6h0m2.1-.1h0m.3 1.1h0m1.4-1.5h0m0 1.9h0m0 .8h0m.2-2.2h0m.2 2.3h0m0-2h0m.5 .6h0m.1 .4h0m0-1.8h0m.1 1h0m.1 1.6h0m.2-1.9h0m.3 1.4h0m.4 .3h0m-38.6 2.3h0m1.6-1.6h0m.7 .8h0m.7 1.8h0m.5-2.7h0m.6 1h0m.8 .3h0m.1 .6h0m1.2-1.9h0m.2 1.7h0m.2-.1h0m.1-.3h0m.3 1.5h0m.2-.2h0m1 0h0m.4-2.6h0m.1 .6h0m1.2 .5h0m.2-.1h0m.4 1.5h0m.1-2.3h0m.3 2.2h0m.1 0h0m2.1 .3h0m.6-.5h0m.7-2.1h0m.8 2.5h0m0-.8h0m.5-1.6h0m.1 .1h0m1.6 .9h0m.4-.9h0m.1 1.9h0m.2-.1h0m.4 .6h0m.1-1.7h0m.2 .6h0m.2 1.3h0m.1-2.2h0m1.1 1.4h0m1-1.6h0m.6-.2h0m.4 2.3h0m.5 0h0m.9-2.5h0m.4 2.5h0m.3-.7h0m.4-1.1h0m.3-.4h0m1 2h0m.1 0h0m.8-2h0m.1 2.2h0m1-2.2h0m.7 1.9h0m.4-1.6h0m.3 1.8h0m.9-1.8h0m.5 1h0m.5-1.7h0m.7 1.9h0m.1-.6h0m.9-.5h0m.2-.8h0m1.4 1.7h0m.1 1.1h0m.3-.9h0m0-1h0m1.3 .5h0m.2 .7h0m.4 .2h0m.6-1.9h0m.1 .8h0m.6 1.4h0m.2-2.2h0m.6 .9h0m.7-.2h0m-40.6 2.2h0m3.3 .5h0m.2-.4h0m.1 .9h0m.1-.4h0m.6 .8h0m.3-1.6h0m.1 2.3h0m0-1.2h0m.6 .9h0m.3-.6h0m.1 .2h0m.3 0h0m.4-.7h0m.3 1.9h0m.1-1.5h0m.9 .2h0m.1 1.3h0m.1-2h0m.9 .8h0m.2 .1h0m0-.8h0m.6-1.1h0m.1 1.2h0m0-.4h0m.1-.7h0m.3 1.6h0m.2-.8h0m0 .5h0m.4-.3h0m.2 .1h0m.3 1h0m.1-.5h0m.2 .8h0m1.6-.8h0m.5 1.3h0m.7-1.3h0m.9-.8h0m.1 .9h0m.2 .2h0m.4-.4h0m.1 .2h0m0 1.2h0m.6-1.1h0m0-1.4h0m.1 .5h0m1.3 .8h0m.4 0h0m.4 .7h0m0-.6h0m1.6 .6h0m0-1.6h0m.5 .7h0m.4-.9h0m1.1 1.2h0m0-1.8h0m0 1.1h0m.1-.5h0m.2 1.2h0m.3-.4h0m.4 .1h0m.2-1.3h0m.5 1.4h0m0 .2h0m.8-1.8h0m.1 1.3h0m.2 1.1h0m.1-1.1h0m0 1.4h0m.2-.1h0m.2-1.9h0m.5-.7h0m.6 .1h0m.1 1.2h0m0 .5h0m0-.4h0m.5 .4h0m.1-1.1h0m.4 .8h0m.6-.7h0m.8 .7h0m.2-1.3h0m.4-.2h0m.9 2.7h0m.4-1.1h0m.3 .7h0m.1-.3h0m0-.4h0m.1-.7h0m.3 .6h0m0 .1h0m0 .9h0m.4-1.8h0m.2 1.1h0m.2-.3h0m1.2 .3h0m.3-1.8h0m.2 1.1h0m.8 .7h0m.1-1.1h0m.5 1.6h0m1.4-1.1h0m.5 1.4h0m.2-2h0m.9 1.3h0m.2-.6h0m-36.6 2h0m.4-.1h0m1.4 .1h0m.3 1.1h0m.8-.9h0m0 1.2h0m.1 .4h0m.1-.1h0m0 .3h0m1.3-1.2h0m.1 .4h0m.8 .5h0m.1-.1h0m.1 .3h0m0-2h0m0 1.4h0m.1-.1h0m.2-1.3h0m.4 .8h0m.5 1.8h0m.4-2h0m.2-.7h0m.1 1.5h0m1.9-.4h0m.8-.5h0m.3-.2h0m.1 2.4h0m.2-1.2h0m.1-.1h0m.8-1.6h0m0 1.1h0m.2 1.7h0m1.2-1.4h0m.1-1.4h0m0 1.2h0m.9-1.1h0m.1 2.6h0m.6-2.2h0m.4 .6h0m.5 .1h0m.6-1.2h0m0 2.2h0m.1-1h0m0-1.1h0m0 2.1h0m.3-.4h0m0-1h0m.7 1.8h0m0-.6h0m.3 .1h0m.2-1h0m.9 .6h0m.4-.9h0m.4 .4h0m.2 0h0m.2 .8h0m.2-1.5h0m0 0h0m.1-.3h0m.3 .2h0m.2 1.6h0m.4-.9h0m0 1.3h0m.9-1.4h0m.4 1.8h0m.3-1.8h0m2.1 1.1h0m.1-.3h0m.1 .6h0m.3 0h0m1.3-.3h0m0-.7h0m.1-1h0m.8 1.7h0m.2-1.7h0m.4 .8h0m.1 .7h0m.1-1.4h0m1.3 .3h0m1 1.1h0m.4-.1h0m.7-1.8h0m.3 1.4h0m.5-1.1h0m.2 .2h0m.1 2h0m1.2 0h0m0 .2h0m.2 0h0m.3 .1h0m1.4 .1h0m0-2.5h0m.1 0h0m.7 .1h0m.2-.1h0m.7-.5h0m.1 1.2h0m.2-.5h0m1.3 .3h0m-39.4 4.3h0m.6 .3h0m1.1-.9h0m.1-.3h0m.1 .2h0m.1-.9h0m.4-.1h0m1.3-.5h0m.2 1.2h0m0 .9h0m.6-.9h0m.4-1h0m.1 .1h0m.5-.1h0m.8 .7h0m.2 1.8h0m1.1-1.1h0m.2 .4h0m.1-1.6h0m.2 .7h0m.2 .7h0m.1-.3h0m.9-.8h0m.3 1.4h0m.1-.4h0m.2-1.2h0m1.4 .8h0m0-.4h0m1-1h0m.3 .6h0m.4-.2h0m.1 .3h0m.1-.2h0m0 0h0m.5 2.1h0m0-.5h0m.8-1.5h0m.3 .3h0m.1 .5h0m.2 .1h0m.1-.1h0m.3-.6h0m.1-.7h0m0 .2h0m.1 2h0m.1-.5h0m1.1 1.1h0m.6-1.8h0m.3 .9h0m.8-.5h0m.9 .2h0m.2 .7h0m.1-1.1h0m1 .2h0m.5 .6h0m.1-.6h0m.4 .6h0m.4-1.3h0m0-.6h0m.2 .7h0m.6 1.5h0m.4-2.4h0m.4 2.2h0m.6-1.7h0m.5 1.2h0m.1-1.2h0m.2 .1h0m.7-.6h0m.1 1h0m0-.7h0m.1 .6h0m0 .2h0m0 1.1h0m1.8-.7h0m.3 1.2h0m.4-1.4h0m.5-.5h0m.8-.1h0m.5 1.5h0m.8-.7h0m1.5 .1h0m.4 1h0m0-1.9h0m0 2.2h0m.3-.3h0m.5-1.5h0m1.2 .2h0m.2 .9h0m0-1.9h0m.6 1.2h0m-35.6 2.4h0m.5 1.3h0m.4 .3h0m.1-2.3h0m0 1h0m.2-.8h0m0 1.8h0m.1-1.4h0m.6 2.1h0m1.3-.8h0m.3-1.5h0m0 .4h0m.9 1.8h0m.3-2.6h0m.5 2.3h0m.8-1.4h0m.4-.2h0m.4 .6h0m.2-.7h0m.3 .9h0m.2-1.3h0m.1 1.2h0m1.1 .2h0m.1 .6h0m.1 .6h0m.3-1.1h0m0-1.6h0m0 1.3h0m.5-1.1h0m.2 1.1h0m0-.8h0m.7 0h0m1.8 .5h0m.3-.9h0m0 1.7h0m.2-1.1h0m.1-.3h0m.6-.3h0m.1 0h0m.1 2.3h0m.3-.8h0m.7-.4h0m0-.3h0m0 1.2h0m.2-.7h0m0 .9h0m.7-2.2h0m.1 1.8h0m.1-1.7h0m.2 2h0m.1 .4h0m.5-1.3h0m.2 0h0m.3 .7h0m.7-2.1h0m2.7-.1h0m.4 1.1h0m0-.3h0m.2-.2h0m.3 .2h0m.8-.9h0m.4 2.4h0m.6-1.1h0m.5-.3h0m.2 .5h0m.3 .8h0m1.7 .7h0m.2-1.7h0m0-.4h0m.5 1.8h0m.3-.5h0m.4-2h0m.2 2.5h0m1.2-2.4h0m.1 2.5h0m.4-2.4h0m0 2.4h0m.3 .2h0m.1-2.1h0m.4 1.9h0m.4-2.1h0m.3 1h0m.3-.2h0m.2 .9h0m.1-.4h0m.1-1.7h0m.4 .3h0m.1-.5h0m1.5 0h0m1.5 .8h0m.1 0h0m0-.3h0m.1-.4h0m3 .2h0m-37.9 3.5h0m.1-.4h0m.4 .2h0m.3-.4h0m.2 1.3h0m0-.1h0m.4-.6h0m.1 1.6h0m.2-.4h0m.4-1.9h0m.7 2.1h0m.7-1.3h0m1 1.4h0m0-1.1h0m.7-.6h0m.3 1h0m.2-1.6h0m.3 1.2h0m.1-1h0m.7 .8h0m.1 .7h0m.1-1.6h0m.1 .7h0m0-.6h0m.5 2.7h0m0-1.8h0m.5-1.1h0m0 2.2h0m.7-2.1h0m.1 1.5h0m.4 0h0m.1 .7h0m.1-1h0m.1-.5h0m.2 .3h0m0 .5h0m.1 .6h0m.2-.8h0m.2 .8h0m.1-.7h0m.3 .7h0m.1-1.6h0m.6 1.8h0m0-2.3h0m.2 1.6h0m.2 0h0m.2 .6h0m.4-1.5h0m.2-.5h0m.3 1.6h0m.6 .9h0m.7-1.7h0m.6 1.4h0m.1-.4h0m.2-1.9h0m.9 2.2h0m.1-1.1h0m.4 1.5h0m.4-2.7h0m.1 2.1h0m.5 .6h0m.8-2.4h0m.5 2h0m.1-1h0m.7-1.1h0m0-.4h0m0 0h0m2.1 1.3h0m.3-.3h0m.1-.1h0m1.2 .6h0m.3-.9h0m.1 1.4h0m.3-.9h0m.1 .2h0m.5-1.1h0m0 2.4h0m.6-.4h0m.2-.6h0m.9 .6h0m.5-1.5h0m.8 .5h0m0 .6h0m.1-1.1h0m.1 .5h0m0-.7h0m.4 .7h0m1.3-.7h0m.3-.3h0m0-.1h0m.1 2.3h0m.6 .3h0m.1-1.4h0m.3 .6h0m.4-.6h0m.2 .9h0m.2 0h0m.3 .5h0m.4-.7h0m.2-.6h0m.1 .7h0m0-.7h0m.4-.3h0m.5-.9h0m.9 1.5h0m.4 .1h0m.1-1.7h0m3 2.4h0m-37.8 1.9h0m0 .5h0m.2 .4h0m1.4 .6h0m0-2.5h0m.8-.3h0m.3 1.8h0m1.6-1.8h0m.4 1.1h0m.7-.3h0m0 1.6h0m.3-1.9h0m.1 2.2h0m.3-2.7h0m.4 2.1h0m.6-.9h0m.1-.6h0m0 1.4h0m.3-.8h0m0-.1h0m.2-.8h0m.1 .9h0m.6-.6h0m1-.6h0m.1 1h0m.3-.2h0m.3-.6h0m0 .3h0m.1 2.2h0m.1-2.3h0m.3 2.1h0m.8-1.2h0m2.2 .9h0m.4 .3h0m.6-1h0m0-.7h0m.1-.7h0m.2 .9h0m.2 0h0m1 0h0m0-1h0m.2 2.6h0m.1-2.2h0m1.7-.2h0m.6 1.7h0m.2-1.9h0m.1 2.9h0m.1-1h0m0-1.1h0m.3-.3h0m.7 1.6h0m.4-1.6h0m.1 .9h0m.8-.6h0m.3 1.5h0m.2 .2h0m.6-1.3h0m0-.7h0m.6 1.1h0m1.5 .9h0m.2-1.1h0m1.2-.3h0m.5-.5h0m.1 .6h0m.3 0h0m.1 .2h0m.5 .2h0m1-.8h0m.1-.4h0m.2 2.5h0m.2-2.9h0m.1 .6h0m.1-.3h0m.3 0h0m.2 2.4h0m.1-1.4h0m.5-.3h0m0 1.4h0m.7-1.2h0m.2-.9h0m.5 .3h0m0 1.8h0m.2-.6h0m0 .5h0m.6-1.7h0m0 1.9h0m.3-2.1h0m.2 1.9h0m.4-2h0m.1 1h0m.1-1.1h0m.2 0h0m.7 1.1h0m1-1.1h0m-35.8 4.3h0m.6 .6h0m.8-.8h0m.1-1.4h0m.2 1h0m.2 0h0m.3 1.2h0m.4 0h0m.2-1h0m.5 .2h0m.3-1.3h0m.5 1.2h0m.3 .9h0m.6 .6h0m.7 .1h0m.1-2.6h0m.3 .9h0m.8 0h0m.4 0h0m.1-.2h0m.5 .2h0m.2 .7h0m.3 0h0m.7-1.2h0m.1-.2h0m.3-.4h0m0 0h0m.6 .2h0m.1 2.7h0m.2-2.9h0m.2 .3h0m.2 1.8h0m.1-1.9h0m.4 2.2h0m.9-.2h0m.2-.7h0m1 .1h0m.2-1.3h0m0-.3h0m0 1.7h0m.1 .5h0m.1-.1h0m.6-1.9h0m1.1 .5h0m1.1 1.8h0m.2-.1h0m.2-.7h0m.1-1.7h0m.1 1.5h0m.1-1.1h0m.5-.4h0m.7 2.1h0m.3 0h0m.1-.4h0m0-1.5h0m.3 .4h0m.7 .5h0m0 1.4h0m0-2h0m.1 1.4h0m.2 .1h0m.1-1.3h0m.5 1.3h0m.1-.2h0m.3-.1h0m.1-.2h0m.6-.2h0m.5 1h0m.7 .1h0m0-2.1h0m.1 .9h0m.1-.9h0m.1 1.3h0m0-.9h0m.4 .9h0m.2-1.3h0m.2 1h0m.7 1.6h0m.3-.4h0m.3-.4h0m1.1-1.2h0m.2 .6h0m.5 0h0m.2-.5h0m.1-.5h0m.1 1.5h0m1.1 .7h0m.4-2.8h0m.2 0h0m.1 .6h0m0 .6h0m.5 1.3h0m.5-.2h0m1.1-1.5h0m.7 .2h0m0 .5h0m-33.7 1.8h0m2.2 2.3h0m.9 .4h0m1-1.1h0m.1 0h0m1.1-1h0m.1 1.5h0m.6-1.2h0m.1 .6h0m.5-1.2h0m.5 .6h0m.1 1.6h0m.6-.7h0m.6-.1h0m0-1.2h0m.1-.2h0m.6 1h0m.1-.2h0m0 .5h0m.3-.6h0m0-.2h0m.2 .2h0m0 1.4h0m.2-2.6h0m.7 2h0m.3 .1h0m.3 .8h0m.1-.5h0m1.2-.7h0m.1-1.7h0m.3 0h0m.4 .7h0m.1 1h0m.3-.2h0m0-.2h0m.3 .5h0m.3-1.6h0m.7 1.2h0m.6 .1h0m.1 .6h0m1.2-2.1h0m.2 1.3h0m.3-.6h0m.5-.1h0m.4 .2h0m.1 1.8h0m.3-2.2h0m.4 .3h0m.1 1.2h0m.7 .5h0m.1-1.9h0m1.1 .1h0m1 .2h0m.3 .7h0m.1 1.2h0m.6-.6h0m0-1.1h0m.5 0h0m.3-.8h0m.2 .3h0m.3-.3h0m.6 1.1h0m.5-.5h0m.3 1.7h0m1.6-1.7h0m.3 .5h0m.3-1.2h0m.4 1.9h0m.3 .9h0m.4-.9h0m.1-.3h0m.8 .6h0m.4-2.3h0m0 0h0m.1 .7h0m.3-.3h0m.6 .7h0m.1-.7h0m4.6 1.6h0m-35.5 3.3h0m2.4-1.2h0m.4 .4h0m.3-.5h0m1.7 1.7h0m.4-1.7h0m.3-1.1h0m.1 .4h0m.4 2.1h0m.1-1.6h0m.1 1.7h0m0 .2h0m.5-1.1h0m.2 .8h0m.4-1.7h0m1.5 1.1h0m.3-.5h0m.2-.5h0m.2 1.8h0m.6-1.4h0m.1 .2h0m.1 .3h0m.1 .1h0m.3-1.1h0m1.6-.8h0m.2 2h0m.6-.4h0m.8-.6h0m1.1 .1h0m.3 .8h0m.3 .6h0m.2-.2h0m.1-.3h0m.3 .5h0m.2-1.7h0m.2 1.1h0m1 .6h0m.1-1.7h0m.3 .9h0m.2 .9h0m.4-2.6h0m0 1.5h0m1.3-.5h0m.1-.4h0m.2 2.3h0m.1 0h0m.5-.6h0m.4-2.2h0m.1 1.7h0m.2-1.6h0m.9 2.6h0m0-1.7h0m.1 1.5h0m0-2.1h0m.9 .9h0m.3-.5h0m.1-.6h0m.1 2.3h0m.1-1.4h0m.3 1.3h0m.3-2.3h0m.2-.2h0m.5 .3h0m.6 .2h0m.4 .9h0m1.9-1.4h0m1.5 .1h0m-26.7 5h0m.2-1.2h0m.6-.8h0m.4 1.8h0m0-.4h0m.1 .2h0m.5-.2h0m.1-.5h0m0-.3h0m.1 .6h0m.1 1.2h0m.2-2.2h0m0 1.2h0m.1 .4h0m.3 .9h0m.9-2.6h0m.2-.2h0m.3 .8h0m.3 1.5h0m.1-1.8h0m1.1 1.1h0m0-1.4h0m.4 2.3h0m.5-2.3h0m.3-.1h0m.5 .8h0m.4 2h0m.2-1.4h0m.6 .9h0m.6-.4h0m.2-.4h0m.1 .7h0m.1-2.2h0m.1 2.7h0m.5-.9h0m.3 .3h0m.1 .6h0m.3-1.8h0m.1 .9h0m.2 .1h0m.2 0h0m0 0h0m.1-1.5h0m.1-.4h0m0 .8h0m.3-.6h0m.7 1.9h0m.4-.5h0m.2-.4h0m.4-.5h0m.1-.8h0m.2 1.2h0m.7-.3h0m.2-.9h0m.8 0h0m.9 2h0m.7 .8h0m.3-2.6h0m.6 1.7h0m1.5-1.3h0m.1-.1h0m1 .5h0m.1 .5h0m.2 .1h0m.1 .4h0m.1-.1h0m.1-.9h0m.2-.6h0m.2 .8h0m1-1h0m-21.8 4.7h0m.2-1h0m.4-.1h0m.4-.8h0m1.6 1.6h0m.2 .9h0m0-.1h0m.4 .4h0m0-.1h0m.3-.8h0m.1 0h0m.2 .5h0m.8-.6h0m.1-.1h0m0 .2h0m.7-1.2h0m.9 .5h0m.2 1.3h0m1.1-1.4h0m.7-.2h0m.3 1.2h0m.1-.5h0m.1-1.3h0m.2 2.5h0m.2-.2h0m.3-1.9h0m0-.6h0m.1 1h0m.3 1.5h0m.1-2h0m.1 2.4h0m.3-2.9h0m.1 .1h0m.1 .8h0m.9-.9h0m.2 1h0m.1-.4h0m.6-.2h0m.7 .4h0m.9-.7h0m.3 .2h0m.2 2.2h0m.2-1.7h0m.4 .2h0m.1-.5h0m.5 .3h0m.3 1.1h0m.2-.8h0m.5-.3h0m1.7 .7h0m.4-.2h0m-17.1 1.8h0m.6 0h0m.1 .4h0m1.3-.4h0m.6 1.2h0m.4 1.1h0m.6-.6h0m0-1.6h0m.1-.1h0m.7 .8h0m.1-.9h0m0 .1h0m.8 1.8h0m.2 .5h0m.7-2h0m0 .6h0m.9-.1h0m.9 .6h0m1.1-.9h0m.1 1.2h0m.9 .9h0m0-2.8h0m.5 2.2h0m1-1.5h0m0 1.7h0m6.5-2.1h0m-17 3.7h0m.7-.3h0m3.1 .8h0m6.2 .8h0" stroke="#B062BE" stroke-width="1.24" stroke-linecap="round" fill="none"/>
<path d="M166.5 156.1h0m-10.5 4.3h0m.4-.3h0m.6-.5h0m.2 .4h0m.8-1h0m.1-.4h0m2.9 1.3h0m.3 .4h0m1.7-.5h0m-8.9 1.7h0m1.5-.3h0m.8 .9h0m.8-1.3h0m.1 2.3h0m.3-1.3h0m.1 1.2h0m1.9 .4h0m.1-.9h0m.5-1.5h0m.1 1.3h0m.1 .3h0m.1-.8h0m.1 .5h0m.7-.3h0m.8 1.5h0m0-.5h0m.4-.3h0m.1-.9h0m.1 1.6h0m.2-1.5h0m4-.2h0m-11.6 4.7h0m.8-1.6h0m.3-.2h0m.1-.3h0m1.3 .5h0m1 1.1h0m0-1.3h0m.2-.3h0m.6 1h0m1.6-.5h0m.1 .3h0m0-.4h0m.1 1.8h0m.3-2.3h0m.2 1.7h0m.4-.8h0m.8-.1h0m1.9-.5h0m-9.9 3.6h0m.3-1.4h0m.2 2.6h0m0-2h0m.3 0h0m.4-.5h0m.4 .9h0m.1-.9h0m.1 1h0m.2 1.4h0m.1-1.3h0m.2 .8h0m0-.6h0m.3 1.4h0m0-2.9h0m.1 2.3h0m.3 .2h0m.1-1.3h0m.2-.7h0m.2 2.3h0m0-2.5h0m.2 1.8h0m.5 .5h0m.5-1.6h0m1.4-1.1h0m.2 3h0m.4-.6h0m.1-1.2h0m.1-.5h0m1.5 1.3h0m-12.1 1.5h0m2.9 .7h0m.8-.3h0m2 1h0m.2 .4h0m.2-.6h0m.9-.7h0m.3 2h0m.9-.4h0m.2-2h0m.6 1.8h0m.1-.8h0m.1-1.5h0m0 1.8h0m.2-1.2h0m1.9-.2h0m4.1 2h0m-12.2 .9h0m2.6-.1h0m.2 .7h0m.1 1.3h0m.5-1.8h0m1.7 1.2h0m.1 .4h0m1.9-1.7h0m-4 3.7h0" stroke="#8B5A2B" stroke-width="1.24" stroke-linecap="round" fill="none"/>
<path d="M186.5 143.8h0m1.2 .7h0m-2.3 2.5h0m1.6-.6h0m.4 1.6h0m.6-.2h0m-7.7 3.3h0m1.3 .2h0m1.1-1.4h0m.5 1.5h0m.7-.6h0m.2-1.6h0m0 1.7h0m1.1-2.4h0m.1 0h0m.1 1.3h0m.3 .8h0m.2-.3h0m.5-.5h0m.4 .8h0m0-1h0m.2 .1h0m.3-1.1h0m0 2h0m.1-1.2h0m.6 1.9h0m.1-.9h0m.4-.5h0m-8.8 2.7h0m1.1 .2h0m.1 1.6h0m1.3-.6h0m.3-.3h0m.6-1.7h0m1.8 .6h0m.3 .1h0m0 1.5h0m.3-1.9h0m.7 2.2h0m.2-.2h0m0 .1h0m.5 .1h0m1.4-2h0m.6 .1h0m.8-.5h0m-9.3 3.5h0m1.4-.7h0m0 2.4h0m.1-1.8h0m.3 .1h0m.8 .9h0m.5-.9h0m.7 1.6h0m0-.4h0m.1-1.4h0m1.3 1.9h0m.9-1.4h0m0-.5h0m.3 0h0m.6 1.7h0m-13 3.5h0m2.2-.7h0m.1-.8h0m1.2-.8h0m.3 1.9h0m1.2-.8h0m.2 1.2h0m0-.4h0m.4-2.1h0m.5-.2h0m1 1.6h0m.2 1h0m.3-1.5h0m.3 .9h0m.1-.8h0m.3-1.3h0m.3 2.7h0m1 0h0m.1-2.3h0m.4 .8h0m.1 1.2h0m.1-1.6h0m.9-.5h0m.1-.2h0m.2 2.2h0m.1-2.2h0m.4 1.5h0m0-.9h0m.4 1.8h0m1.5 0h0m.3-.7h0m-16.6 2.5h0m.4 .4h0m.5-1h0m1.4-.1h0m0 .9h0m.5-.5h0m.2 .9h0m.7-1.8h0m.1 1.1h0m.6-1.2h0m.4 1.9h0m0 .6h0m.3-1.7h0m2.3 1.2h0m.1-.3h0m.5-1.1h0m.1 .5h0m.1-.4h0m.1 1.4h0m.6-.1h0m0-.5h0m.3-1.2h0m.1-.4h0m.1 2.4h0m.3-1.3h0m.2 1.1h0m.1-.2h0m1.2 .7h0m.7-.6h0m.3-1h0m1.1-.3h0m.5 1.7h0m0-1.6h0m.4 1.2h0m.2-.6h0m3.8-1.5h0m-19.3 4.9h0m.4-1.8h0m.5 1.7h0m.8 1h0m.2-.4h0m.4-2.3h0m.3 .8h0m.7 1.9h0m.5-1.2h0m.1-.6h0m.3 .8h0m.1 1.1h0m0-2.1h0m0 .1h0m.3 1.5h0m.7-2.3h0m.1 1.5h0m.1-1h0m.5 2.4h0m1-2.2h0m0-.8h0m.3 .3h0m.5 1.6h0m1 .2h0m.4 0h0m.2-.4h0m.2-1.2h0m.3-.2h0m.4 .9h0m.2 .4h0m.8 1.1h0m1.1-2.3h0m.3 .5h0m.1-.5h0m.6 2.4h0m.2-.5h0m.5-.6h0m.7-1.1h0m.2 1.6h0m.2-.7h0m.9-.4h0m-18.3 2.1h0m1.2 2h0m.7-.5h0m.1-1h0m.6 0h0m.1 1.6h0m.4-2.2h0m.4 .5h0m.7 2h0m0-1.2h0m.1 1.2h0m.1-2h0m0-.2h0m.9-.2h0m.9 1.8h0m.6 .5h0m1.6-1h0m.5 .3h0m.1-.6h0m0 .1h0m.2-.3h0m.2-.8h0m0 2.7h0m.5-.8h0m0-1.3h0m.3 .2h0m.9 1.2h0m.3-2.1h0m.6 2.2h0m.9-.4h0m.2 .8h0m.1 .2h0m.3 0h0m.6-1.7h0m.2 .3h0m.8 1.4h0m.2 0h0m0-2.3h0m0 .5h0m.4 .8h0m.6-1.8h0m.3 .4h0m.1 0h0m1.9 .4h0m.6-.1h0m1 .9h0m-20.5 2h0m2.2 2.2h0m0-.5h0m.2-1.5h0m.5 .7h0m.3 1.3h0m.1-1.9h0m.7-.4h0m.1 2.1h0m0-2.2h0m.2 1.1h0m.9-1.4h0m.1 2.6h0m.5-.2h0m.4-1.4h0m.2-.9h0m0-.1h0m.9 2.7h0m.2-1.3h0m.3 .6h0m.2-1.7h0m.3 2.1h0m.1-1.6h0m.3 1h0m0 0h0m.1-.6h0m.1-1.2h0m.4 .3h0m.1 1.6h0m.2-1.2h0m1.1 .7h0m.9-.8h0m.2 1.8h0m.2-2h0m.2 1.8h0m.8-1.5h0m.5-.3h0m0 1.8h0m.7-1.5h0m1.1-.7h0m.3 .6h0m.7 0h0m2 .9h0m.4-.2h0m-16.1 3h0m.6-.5h0m.1-.8h0m.4 .3h0m.7 .7h0m.1-.3h0m2-.8h0m.9 .9h0m.3 1.1h0m.7-.1h0m.3-1.3h0m.8 .8h0m.1 1.3h0m0-1.4h0m.1-.7h0m.4 1.1h0m.1-1.6h0m.4 .9h0m0 1.4h0m.1 .1h0m.1-.6h0m.3-1.4h0m.1 1.3h0m.1 1.1h0m.4-.4h0m.5-.4h0m0-1.1h0m1 .4h0m0-1.2h0m.3 .1h0m.3 .5h0m-11.8 2.7h0m1 1.5h0m.3 .2h0m0 .6h0m.1-2.2h0m0 1.9h0m.5-2.6h0m.3 2.8h0m.4-2h0m0 1.9h0m2.4-1.9h0m.2 .2h0m0 1.2h0m.4 .2h0m.4-1.3h0m.7 .1h0m.5-.8h0m0 1.9h0m.1-.2h0m2-.3h0m.1-1h0m0-.4h0m.2 .9h0m.2-1h0m-9.3 4.5h0m.4-1.4h0m.2-.1h0m.4 .5h0m.7-.5h0m.7 2h0m.1-1.4h0m.4 .5h0m.1-.5h0m.8 2.1h0m.4-2.5h0m.2 .6h0m.4 1.9h0m.3-1.7h0m.6 .7h0m.1-.8h0m.1 .6h0m.4-1.1h0m.4 1.4h0m.1-.9h0m1.2-.6h0m.3 1.5h0m-5.3 1.3h0m0 .4h0m.1 1.1h0m0-1.6h0m.2 2.3h0m.4-2.5h0m1.3 2.1h0m.4-1.9h0m.1 .5h0m0 2h0m.2-1.2h0m0-1.6h0m.1 1.7h0m1.1-1h0m-6.1 4.7h0m1.8-1.1h0m1.7-1.1h0m.8 1.7h0m.4-1h0m.2 .8h0m.3-1.1h0m2.2 2.2h0m-6.4 .4h0m2.1 1.5h0m.8-1.5h0m.6 1.7h0m.1-1.5h0m0-.1h0m1.8-.1h0m-2.9 2.9h0m.4 .4h0m.8 .6h0m-5.5 2h0m7.4 .6h0" stroke="#4EA450" stroke-width="1.24" stroke-linecap="round" fill="none"/>
<text x="48.5" y="66.2" font-size="9" fill="#1a1a1a" transform="translate(48.5 66.2) scale(1 1.08) translate(-48.5 -66.2)" stroke="#1a1a1a" stroke-width="0.2">BST</text>
<text x="26.3" y="127.6" font-size="8.9" fill="#1a1a1a" transform="translate(26.3 127.6) scale(1 1.08) translate(-26.3 -127.6)" stroke="#1a1a1a" stroke-width="0.2">Tumor basal</text>
<text x="26.3" y="191.5" font-size="9" fill="#1a1a1a" transform="translate(26.3 191.5) scale(1 1.08) translate(-26.3 -191.5)" stroke="#1a1a1a" stroke-width="0.2">BIT</text>
<text x="70.0" y="219.2" font-size="9" fill="#1a1a1a" transform="translate(70.0 219.2) scale(1 1.08) translate(-70.0 -219.2)" stroke="#1a1a1a" stroke-width="0.2">Proliferative</text>
<text x="147.3" y="101.0" font-size="8.9" text-anchor="middle" fill="#1a1a1a" transform="translate(147.3 101.0) scale(1 1.08) translate(-147.3 -101.0)" stroke="#1a1a1a" stroke-width="0.2">TREM1</text>
<text x="148.6" y="111.2" font-size="8.9" text-anchor="middle" fill="#1a1a1a" transform="translate(148.6 111.2) scale(1 1.08) translate(-148.6 -111.2)" stroke="#1a1a1a" stroke-width="0.2">Myeloid</text>
<text x="136.3" y="157.0" font-size="8.9" text-anchor="middle" fill="#1a1a1a" transform="translate(136.3 157.0) scale(1 1.08) translate(-136.3 -157.0)" stroke="#1a1a1a" stroke-width="0.2">TREM2</text>
<text x="137.2" y="167.2" font-size="8.9" text-anchor="middle" fill="#1a1a1a" transform="translate(137.2 167.2) scale(1 1.08) translate(-137.2 -167.2)" stroke="#1a1a1a" stroke-width="0.2">Myeloid</text>
<text x="114.9" y="187.7" font-size="9.1" fill="#1a1a1a" transform="translate(114.9 187.7) scale(1 1.08) translate(-114.9 -187.7)" stroke="#1a1a1a" stroke-width="0.2">Dendritic cells</text>
<path d="M11.4 205.6V169.5M11.4 205.6H46.5" stroke="#222" stroke-width="0.6" fill="none"/>
<path d="M9.7 170.5L11.4 166.5L13.1 170.5Z M45.5 203.9L49.5 205.6L45.5 207.3Z" fill="#111"/>
<text x="11.7" y="216.5" font-size="8.2" transform="translate(11.7 216.5) scale(1 1.08) translate(-11.7 -216.5)" stroke="#222" stroke-width="0.1">UMAP 1</text>
<text x="7.2" y="189.8" font-size="8.2" text-anchor="middle" transform="rotate(-90 7.2 189.8) translate(7.2 189.8) scale(1 1.08) translate(-7.2 -189.8)" stroke="#222" stroke-width="0.1">UMAP 2</text>
<text x="4.8" y="240.2" font-size="12.5" font-weight="bold" fill="#111" transform="translate(4.8 240.2) scale(1 1.08) translate(-4.8 -240.2)">b</text>
<path d="M22.8 250V469.5H199.8" stroke="#666" stroke-width="0.8" fill="none"/>
<line x1="47.00" y1="469.50" x2="47.00" y2="471.50" stroke="#666" stroke-width="0.6"/>
<text x="47.0" y="479.3" font-size="7.1" text-anchor="middle" fill="#555" transform="translate(47.0 479.3) scale(1 1.08) translate(-47.0 -479.3)" stroke="#555" stroke-width="0.1">1.0</text>
<line x1="84.10" y1="469.50" x2="84.10" y2="471.50" stroke="#666" stroke-width="0.6"/>
<text x="84.1" y="479.3" font-size="7.1" text-anchor="middle" fill="#555" transform="translate(84.1 479.3) scale(1 1.08) translate(-84.1 -479.3)" stroke="#555" stroke-width="0.1">1.2</text>
<line x1="121.20" y1="469.50" x2="121.20" y2="471.50" stroke="#666" stroke-width="0.6"/>
<text x="121.2" y="479.3" font-size="7.1" text-anchor="middle" fill="#555" transform="translate(121.2 479.3) scale(1 1.08) translate(-121.2 -479.3)" stroke="#555" stroke-width="0.1">1.4</text>
<line x1="158.30" y1="469.50" x2="158.30" y2="471.50" stroke="#666" stroke-width="0.6"/>
<text x="158.3" y="479.3" font-size="7.1" text-anchor="middle" fill="#555" transform="translate(158.3 479.3) scale(1 1.08) translate(-158.3 -479.3)" stroke="#555" stroke-width="0.1">1.6</text>
<line x1="195.40" y1="469.50" x2="195.40" y2="471.50" stroke="#666" stroke-width="0.6"/>
<text x="195.4" y="479.3" font-size="7.1" text-anchor="middle" fill="#555" transform="translate(195.4 479.3) scale(1 1.08) translate(-195.4 -479.3)" stroke="#555" stroke-width="0.1">1.8</text>
<line x1="20.80" y1="403.00" x2="22.80" y2="403.00" stroke="#666" stroke-width="0.6"/>
<text x="19.6" y="405.5" font-size="7.1" text-anchor="end" fill="#555" transform="translate(19.6 405.5) scale(1 1.08) translate(-19.6 -405.5)" stroke="#555" stroke-width="0.1">1.0</text>
<line x1="20.80" y1="334.70" x2="22.80" y2="334.70" stroke="#666" stroke-width="0.6"/>
<text x="19.6" y="337.2" font-size="7.1" text-anchor="end" fill="#555" transform="translate(19.6 337.2) scale(1 1.08) translate(-19.6 -337.2)" stroke="#555" stroke-width="0.1">1.5</text>
<line x1="20.80" y1="266.40" x2="22.80" y2="266.40" stroke="#666" stroke-width="0.6"/>
<text x="19.6" y="268.9" font-size="7.1" text-anchor="end" fill="#555" transform="translate(19.6 268.9) scale(1 1.08) translate(-19.6 -268.9)" stroke="#555" stroke-width="0.1">2.0</text>
<text x="120.0" y="493.6" font-size="8.65" text-anchor="middle" transform="translate(120.0 493.6) scale(1 1.08) translate(-120.0 -493.6)" stroke="#222" stroke-width="0.1">Outgoing interaction strength</text>
<text x="8.3" y="355.6" font-size="8.45" text-anchor="middle" transform="rotate(-90 8.3 355.6) translate(8.3 355.6) scale(1 1.08) translate(-8.3 -355.6)" stroke="#222" stroke-width="0.1">Incoming interaction strength</text>
<circle cx="124.9" cy="261.3" r="4.4" fill="#7DC95A"/>
<circle cx="114.5" cy="318" r="3.4" fill="#A550A8"/>
<circle cx="192" cy="308.6" r="4.0" fill="#8C5A2E"/>
<circle cx="51.4" cy="361" r="3.0" fill="#3E9A48"/>
<circle cx="143" cy="391.9" r="3.8" fill="#8F88C8"/>
<circle cx="30.9" cy="436.9" r="2.1" fill="#DE5FAE"/>
<circle cx="56.4" cy="460" r="2.5" fill="#E3A33E"/>
<text x="132.6" y="256.8" font-size="9.2" font-weight="bold" fill="#7DC95A" transform="translate(132.6 256.8) scale(1 1.08) translate(-132.6 -256.8)">BIT</text>
<text x="92.5" y="301.2" font-size="9.2" font-weight="bold" text-anchor="middle" fill="#A550A8" transform="translate(92.5 301.2) scale(1 1.08) translate(-92.5 -301.2)">TREM1</text>
<text x="94.2" y="311.7" font-size="9.2" font-weight="bold" text-anchor="middle" fill="#A550A8" transform="translate(94.2 311.7) scale(1 1.08) translate(-94.2 -311.7)">Myeloid</text>
<text x="166.5" y="300.8" font-size="9.2" font-weight="bold" text-anchor="middle" fill="#8C5A2E" transform="translate(166.5 300.8) scale(1 1.08) translate(-166.5 -300.8)">TREM2</text>
<text x="168.0" y="311.7" font-size="9.2" font-weight="bold" text-anchor="middle" fill="#8C5A2E" transform="translate(168.0 311.7) scale(1 1.08) translate(-168.0 -311.7)">Myeloid</text>
<text x="36.0" y="354.7" font-size="9.2" font-weight="bold" fill="#3E9A48" transform="translate(36.0 354.7) scale(1 1.08) translate(-36.0 -354.7)">Dendritic cells</text>
<text x="83.3" y="394.2" font-size="9.1" font-weight="bold" fill="#8F88C8" transform="translate(83.3 394.2) scale(1 1.08) translate(-83.3 -394.2)">Proliferative</text>
<text x="26.0" y="430.5" font-size="9.0" font-weight="bold" fill="#DE5FAE" transform="translate(26.0 430.5) scale(1 1.08) translate(-26.0 -430.5)">Tumor basal</text>
<text x="60.4" y="458.0" font-size="9.2" font-weight="bold" fill="#E3A33E" transform="translate(60.4 458.0) scale(1 1.08) translate(-60.4 -458.0)">BST</text>
<text x="145.8" y="422.6" font-size="6.9" transform="translate(145.8 422.6) scale(1 1.08) translate(-145.8 -422.6)" stroke="#222" stroke-width="0.1">Count</text>
<circle cx="150.5" cy="431" r="2.7" fill="#111"/>
<text x="159.6" y="433.4" font-size="6.9" transform="translate(159.6 433.4) scale(1 1.08) translate(-159.6 -433.4)" stroke="#222" stroke-width="0.1">100</text>
<circle cx="150.5" cy="438.6" r="3.3" fill="#111"/>
<text x="159.6" y="441.0" font-size="6.9" transform="translate(159.6 441.0) scale(1 1.08) translate(-159.6 -441.0)" stroke="#222" stroke-width="0.1">120</text>
<circle cx="150.5" cy="446.8" r="3.7" fill="#111"/>
<text x="159.6" y="449.2" font-size="6.9" transform="translate(159.6 449.2) scale(1 1.08) translate(-159.6 -449.2)" stroke="#222" stroke-width="0.1">140</text>
<circle cx="150.5" cy="456.1" r="4.3" fill="#111"/>
<text x="159.6" y="458.5" font-size="6.9" transform="translate(159.6 458.5) scale(1 1.08) translate(-159.6 -458.5)" stroke="#222" stroke-width="0.1">160</text>
<text x="224.2" y="11.0" font-size="12.5" font-weight="bold" fill="#111" transform="translate(224.2 11.0) scale(1 1.08) translate(-224.2 -11.0)">c</text>
<text x="261.8" y="21.4" font-size="9.95" font-weight="bold" fill="#111" transform="translate(261.8 21.4) scale(1 1.08) translate(-261.8 -21.4)">Outgoing signaling patterns</text>
<rect x="242.00" y="64.00" width="24.30" height="10.81" fill="#1D4B27" shape-rendering="crispEdges"/>
<rect x="266.30" y="64.00" width="24.30" height="10.81" fill="#3D9550" shape-rendering="crispEdges"/>
<rect x="290.60" y="64.00" width="24.30" height="10.81" fill="#D8F0EB" shape-rendering="crispEdges"/>
<rect x="314.90" y="64.00" width="24.30" height="10.81" fill="#3D9550" shape-rendering="crispEdges"/>
<rect x="339.20" y="64.00" width="24.30" height="10.81" fill="#D8F0EB" shape-rendering="crispEdges"/>
<rect x="363.50" y="64.00" width="24.30" height="10.81" fill="#D8F0EB" shape-rendering="crispEdges"/>
<rect x="387.80" y="64.00" width="24.30" height="10.81" fill="#5EBF85" shape-rendering="crispEdges"/>
<rect x="242.00" y="74.81" width="24.30" height="10.81" fill="#5EBF85" shape-rendering="crispEdges"/>
<rect x="266.30" y="74.81" width="24.30" height="10.81" fill="#5EBF85" shape-rendering="crispEdges"/>
<rect x="314.90" y="74.81" width="24.30" height="10.81" fill="#1D4B27" shape-rendering="crispEdges"/>
<rect x="387.80" y="74.81" width="24.30" height="10.81" fill="#74CDA2" shape-rendering="crispEdges"/>
<rect x="242.00" y="85.62" width="24.30" height="10.81" fill="#F2F8FC" shape-rendering="crispEdges"/>
<rect x="290.60" y="85.62" width="24.30" height="10.81" fill="#5EBF85" shape-rendering="crispEdges"/>
<rect x="339.20" y="85.62" width="24.30" height="10.81" fill="#1D4B27" shape-rendering="crispEdges"/>
<rect x="363.50" y="85.62" width="24.30" height="10.81" fill="#5EBF85" shape-rendering="crispEdges"/>
<rect x="242.00" y="96.43" width="24.30" height="10.81" fill="#C3E8DA" shape-rendering="crispEdges"/>
<rect x="266.30" y="96.43" width="24.30" height="10.81" fill="#D8F0EB" shape-rendering="crispEdges"/>
<rect x="290.60" y="96.43" width="24.30" height="10.81" fill="#2B6B38" shape-rendering="crispEdges"/>
<rect x="314.90" y="96.43" width="24.30" height="10.81" fill="#D8F0EB" shape-rendering="crispEdges"/>
<rect x="339.20" y="96.43" width="24.30" height="10.81" fill="#1D4B27" shape-rendering="crispEdges"/>
<rect x="363.50" y="96.43" width="24.30" height="10.81" fill="#2B6B38" shape-rendering="crispEdges"/>
<rect x="387.80" y="96.43" width="24.30" height="10.81" fill="#D8F0EB" shape-rendering="crispEdges"/>
<rect x="363.50" y="107.24" width="24.30" height="10.81" fill="#1D4B27" shape-rendering="crispEdges"/>
<rect x="242.00" y="118.05" width="24.30" height="10.81" fill="#F2F8FC" shape-rendering="crispEdges"/>
<rect x="290.60" y="118.05" width="24.30" height="10.81" fill="#9ADBC2" shape-rendering="crispEdges"/>
<rect x="339.20" y="118.05" width="24.30" height="10.81" fill="#1D4B27" shape-rendering="crispEdges"/>
<rect x="363.50" y="118.05" width="24.30" height="10.81" fill="#5EBF85" shape-rendering="crispEdges"/>
<rect x="290.60" y="128.86" width="24.30" height="10.81" fill="#2B6B38" shape-rendering="crispEdges"/>
<rect x="363.50" y="128.86" width="24.30" height="10.81" fill="#1D4B27" shape-rendering="crispEdges"/>
<rect x="242.00" y="139.67" width="24.30" height="10.81" fill="#1D4B27" shape-rendering="crispEdges"/>
<rect x="266.30" y="139.67" width="24.30" height="10.81" fill="#9ADBC2" shape-rendering="crispEdges"/>
<rect x="314.90" y="139.67" width="24.30" height="10.81" fill="#9ADBC2" shape-rendering="crispEdges"/>
<rect x="363.50" y="139.67" width="24.30" height="10.81" fill="#74CDA2" shape-rendering="crispEdges"/>
<rect x="242.00" y="150.48" width="24.30" height="10.81" fill="#1F522B" shape-rendering="crispEdges"/>
<rect x="266.30" y="150.48" width="24.30" height="10.81" fill="#E8F5F6" shape-rendering="crispEdges"/>
<rect x="290.60" y="150.48" width="24.30" height="10.81" fill="#1D4B27" shape-rendering="crispEdges"/>
<rect x="314.90" y="150.48" width="24.30" height="10.81" fill="#E8F5F6" shape-rendering="crispEdges"/>
<rect x="339.20" y="150.48" width="24.30" height="10.81" fill="#3D9550" shape-rendering="crispEdges"/>
<rect x="363.50" y="150.48" width="24.30" height="10.81" fill="#2B6B38" shape-rendering="crispEdges"/>
<rect x="387.80" y="150.48" width="24.30" height="10.81" fill="#E8F5F6" shape-rendering="crispEdges"/>
<rect x="314.90" y="161.29" width="24.30" height="10.81" fill="#1D4B27" shape-rendering="crispEdges"/>
<rect x="242.00" y="172.10" width="24.30" height="10.81" fill="#E8F5F6" shape-rendering="crispEdges"/>
<rect x="266.30" y="172.10" width="24.30" height="10.81" fill="#E8F5F6" shape-rendering="crispEdges"/>
<rect x="290.60" y="172.10" width="24.30" height="10.81" fill="#5EBF85" shape-rendering="crispEdges"/>
<rect x="314.90" y="172.10" width="24.30" height="10.81" fill="#E8F5F6" shape-rendering="crispEdges"/>
<rect x="339.20" y="172.10" width="24.30" height="10.81" fill="#1D4B27" shape-rendering="crispEdges"/>
<rect x="363.50" y="172.10" width="24.30" height="10.81" fill="#3D9550" shape-rendering="crispEdges"/>
<rect x="387.80" y="172.10" width="24.30" height="10.81" fill="#E8F5F6" shape-rendering="crispEdges"/>
<rect x="242.00" y="182.90" width="24.30" height="10.81" fill="#1F522B" shape-rendering="crispEdges"/>
<rect x="314.90" y="182.90" width="24.30" height="10.81" fill="#1D4B27" shape-rendering="crispEdges"/>
<rect x="363.50" y="193.71" width="24.30" height="10.81" fill="#1D4B27" shape-rendering="crispEdges"/>
<rect x="242.00" y="204.52" width="24.30" height="10.81" fill="#D8F0EB" shape-rendering="crispEdges"/>
<rect x="266.30" y="204.52" width="24.30" height="10.81" fill="#F2F8FC" shape-rendering="crispEdges"/>
<rect x="290.60" y="204.52" width="24.30" height="10.81" fill="#D8F0EB" shape-rendering="crispEdges"/>
<rect x="314.90" y="204.52" width="24.30" height="10.81" fill="#E8F5F6" shape-rendering="crispEdges"/>
<rect x="339.20" y="204.52" width="24.30" height="10.81" fill="#1D4B27" shape-rendering="crispEdges"/>
<rect x="363.50" y="204.52" width="24.30" height="10.81" fill="#D8F0EB" shape-rendering="crispEdges"/>
<rect x="339.20" y="215.33" width="24.30" height="10.81" fill="#1D4B27" shape-rendering="crispEdges"/>
<rect x="363.50" y="215.33" width="24.30" height="10.81" fill="#5EBF85" shape-rendering="crispEdges"/>
<rect x="242.00" y="226.14" width="24.30" height="10.81" fill="#1D4B27" shape-rendering="crispEdges"/>
<rect x="339.20" y="236.95" width="24.30" height="10.81" fill="#1D4B27" shape-rendering="crispEdges"/>
<rect x="363.50" y="247.76" width="24.30" height="10.81" fill="#1D4B27" shape-rendering="crispEdges"/>
<rect x="242.00" y="258.57" width="24.30" height="10.81" fill="#1D4B27" shape-rendering="crispEdges"/>
<rect x="363.50" y="269.38" width="24.30" height="10.81" fill="#1D4B27" shape-rendering="crispEdges"/>
<rect x="242.00" y="280.19" width="24.30" height="10.81" fill="#1D4B27" shape-rendering="crispEdges"/>
<text x="238.8" y="72.3" font-size="8" text-anchor="end" transform="translate(238.8 72.3) scale(1 1.08) translate(-238.8 -72.3)" stroke="#222" stroke-width="0.1">MIF</text>
<text x="238.8" y="83.1" font-size="8" text-anchor="end" transform="translate(238.8 83.1) scale(1 1.08) translate(-238.8 -83.1)" stroke="#222" stroke-width="0.1">MK</text>
<text x="238.8" y="93.9" font-size="8" text-anchor="end" transform="translate(238.8 93.9) scale(1 1.08) translate(-238.8 -93.9)" stroke="#222" stroke-width="0.1">EGF</text>
<text x="238.8" y="104.7" font-size="8" text-anchor="end" transform="translate(238.8 104.7) scale(1 1.08) translate(-238.8 -104.7)" stroke="#222" stroke-width="0.1">VISFATIN</text>
<text x="238.8" y="115.5" font-size="8" text-anchor="end" transform="translate(238.8 115.5) scale(1 1.08) translate(-238.8 -115.5)" stroke="#222" stroke-width="0.1">SPP1</text>
<text x="238.8" y="126.4" font-size="8" text-anchor="end" transform="translate(238.8 126.4) scale(1 1.08) translate(-238.8 -126.4)" stroke="#222" stroke-width="0.1">IL1</text>
<text x="238.8" y="137.2" font-size="8" text-anchor="end" transform="translate(238.8 137.2) scale(1 1.08) translate(-238.8 -137.2)" stroke="#222" stroke-width="0.1">GALECTIN</text>
<text x="238.8" y="148.0" font-size="8" text-anchor="end" transform="translate(238.8 148.0) scale(1 1.08) translate(-238.8 -148.0)" stroke="#222" stroke-width="0.1">TNF</text>
<text x="238.8" y="158.8" font-size="8" text-anchor="end" transform="translate(238.8 158.8) scale(1 1.08) translate(-238.8 -158.8)" stroke="#222" stroke-width="0.1">ANNEXIN</text>
<text x="238.8" y="169.6" font-size="8" text-anchor="end" transform="translate(238.8 169.6) scale(1 1.08) translate(-238.8 -169.6)" stroke="#222" stroke-width="0.1">PTN</text>
<text x="238.8" y="180.4" font-size="8" text-anchor="end" transform="translate(238.8 180.4) scale(1 1.08) translate(-238.8 -180.4)" stroke="#222" stroke-width="0.1">VEGF</text>
<text x="238.8" y="191.2" font-size="8" text-anchor="end" transform="translate(238.8 191.2) scale(1 1.08) translate(-238.8 -191.2)" stroke="#222" stroke-width="0.1">ncWNT</text>
<text x="238.8" y="202.0" font-size="8" text-anchor="end" transform="translate(238.8 202.0) scale(1 1.08) translate(-238.8 -202.0)" stroke="#222" stroke-width="0.1">COMPLEMENT</text>
<text x="238.8" y="212.8" font-size="8" text-anchor="end" transform="translate(238.8 212.8) scale(1 1.08) translate(-238.8 -212.8)" stroke="#222" stroke-width="0.1">TGFb</text>
<text x="238.8" y="223.6" font-size="8" text-anchor="end" transform="translate(238.8 223.6) scale(1 1.08) translate(-238.8 -223.6)" stroke="#222" stroke-width="0.1">IL6</text>
<text x="238.8" y="234.4" font-size="8" text-anchor="end" transform="translate(238.8 234.4) scale(1 1.08) translate(-238.8 -234.4)" stroke="#222" stroke-width="0.1">FGF</text>
<text x="238.8" y="245.3" font-size="8" text-anchor="end" transform="translate(238.8 245.3) scale(1 1.08) translate(-238.8 -245.3)" stroke="#222" stroke-width="0.1">OSM</text>
<text x="238.8" y="256.1" font-size="8" text-anchor="end" transform="translate(238.8 256.1) scale(1 1.08) translate(-238.8 -256.1)" stroke="#222" stroke-width="0.1">GAS</text>
<text x="238.8" y="266.9" font-size="8" text-anchor="end" transform="translate(238.8 266.9) scale(1 1.08) translate(-238.8 -266.9)" stroke="#222" stroke-width="0.1">WNT</text>
<text x="238.8" y="277.7" font-size="8" text-anchor="end" transform="translate(238.8 277.7) scale(1 1.08) translate(-238.8 -277.7)" stroke="#222" stroke-width="0.1">CALCR</text>
<text x="238.8" y="288.5" font-size="8" text-anchor="end" transform="translate(238.8 288.5) scale(1 1.08) translate(-238.8 -288.5)" stroke="#222" stroke-width="0.1">SEMA3</text>
<rect x="242.00" y="293.20" width="24.50" height="5.60" fill="#82C65A"/>
<rect x="266.30" y="293.20" width="24.50" height="5.60" fill="#E0A545"/>
<rect x="290.60" y="293.20" width="24.50" height="5.60" fill="#4E9F50"/>
<rect x="314.90" y="293.20" width="24.50" height="5.60" fill="#9088C4"/>
<rect x="339.20" y="293.20" width="24.50" height="5.60" fill="#A655A8"/>
<rect x="363.50" y="293.20" width="24.50" height="5.60" fill="#8C5A32"/>
<rect x="387.80" y="293.20" width="24.50" height="5.60" fill="#DE6DB4"/>
<text x="256.8" y="302.8" font-size="7.9" font-style="italic" text-anchor="end" transform="rotate(-73 256.8 302.8) translate(256.8 302.8) scale(1 1.08) translate(-256.8 -302.8)" stroke="#222" stroke-width="0.1">BIT</text>
<text x="281.1" y="302.8" font-size="7.9" font-style="italic" text-anchor="end" transform="rotate(-73 281.1 302.8) translate(281.1 302.8) scale(1 1.08) translate(-281.1 -302.8)" stroke="#222" stroke-width="0.1">BST</text>
<text x="305.4" y="302.8" font-size="7.9" font-style="italic" text-anchor="end" transform="rotate(-73 305.4 302.8) translate(305.4 302.8) scale(1 1.08) translate(-305.4 -302.8)" stroke="#222" stroke-width="0.1">Dendritic cells</text>
<text x="329.6" y="302.8" font-size="7.9" font-style="italic" text-anchor="end" transform="rotate(-73 329.6 302.8) translate(329.6 302.8) scale(1 1.08) translate(-329.6 -302.8)" stroke="#222" stroke-width="0.1">Proliferative</text>
<text x="353.9" y="302.8" font-size="7.9" font-style="italic" text-anchor="end" transform="rotate(-73 353.9 302.8) translate(353.9 302.8) scale(1 1.08) translate(-353.9 -302.8)" stroke="#222" stroke-width="0.1">TREM1 Myeloid</text>
<text x="378.2" y="302.8" font-size="7.9" font-style="italic" text-anchor="end" transform="rotate(-73 378.2 302.8) translate(378.2 302.8) scale(1 1.08) translate(-378.2 -302.8)" stroke="#222" stroke-width="0.1">TREM2 Myeloid</text>
<text x="402.6" y="302.8" font-size="7.9" font-style="italic" text-anchor="end" transform="rotate(-73 402.6 302.8) translate(402.6 302.8) scale(1 1.08) translate(-402.6 -302.8)" stroke="#222" stroke-width="0.1">Tumor basal</text>
<rect x="246.50" y="38.90" width="15.30" height="22.50" fill="#82C65A"/>
<rect x="270.80" y="44.30" width="15.30" height="17.10" fill="#E0A545"/>
<rect x="295.10" y="45.00" width="15.30" height="16.40" fill="#4E9F50"/>
<rect x="319.40" y="37.30" width="15.30" height="24.10" fill="#9088C4"/>
<rect x="343.70" y="39.60" width="15.30" height="21.80" fill="#A655A8"/>
<rect x="368.00" y="33.60" width="15.30" height="27.80" fill="#8C5A32"/>
<rect x="392.30" y="46.30" width="15.30" height="15.10" fill="#DE6DB4"/>
<rect x="415.00" y="66.20" width="27.50" height="6.61" fill="#808080" stroke="#333" stroke-width="0.7" rx="0.6"/>
<rect x="415.00" y="77.01" width="24.80" height="6.61" fill="#808080" stroke="#333" stroke-width="0.7" rx="0.6"/>
<rect x="415.00" y="87.82" width="22.80" height="6.61" fill="#808080" stroke="#333" stroke-width="0.7" rx="0.6"/>
<rect x="415.00" y="98.63" width="20.10" height="6.61" fill="#808080" stroke="#333" stroke-width="0.7" rx="0.6"/>
<rect x="415.00" y="109.44" width="18.50" height="6.61" fill="#808080" stroke="#333" stroke-width="0.7" rx="0.6"/>
<rect x="415.00" y="120.25" width="14.80" height="6.61" fill="#808080" stroke="#333" stroke-width="0.7" rx="0.6"/>
<rect x="415.00" y="131.06" width="7.40" height="6.61" fill="#808080" stroke="#333" stroke-width="0.7" rx="0.6"/>
<rect x="415.00" y="141.87" width="7.00" height="6.61" fill="#808080" stroke="#333" stroke-width="0.7" rx="0.6"/>
<rect x="415.00" y="152.68" width="5.10" height="6.61" fill="#808080" stroke="#333" stroke-width="0.7" rx="0.6"/>
<rect x="415.00" y="163.49" width="3.80" height="6.61" fill="#808080" stroke="#333" stroke-width="0.7" rx="0.6"/>
<rect x="415.00" y="174.30" width="3.70" height="6.61" fill="#808080" stroke="#333" stroke-width="0.7" rx="0.6"/>
<rect x="415.00" y="185.10" width="3.70" height="6.61" fill="#808080" stroke="#333" stroke-width="0.7" rx="0.6"/>
<rect x="415.00" y="195.91" width="2.70" height="6.61" fill="#808080" stroke="#333" stroke-width="0.7" rx="0.6"/>
<rect x="415.00" y="206.72" width="2.70" height="6.61" fill="#808080" stroke="#333" stroke-width="0.7" rx="0.6"/>
<rect x="415.00" y="217.53" width="2.70" height="6.61" fill="#808080" stroke="#333" stroke-width="0.7" rx="0.6"/>
<rect x="415.00" y="228.34" width="2.20" height="6.61" fill="#808080" stroke="#333" stroke-width="0.7" rx="0.6"/>
<rect x="415.00" y="239.15" width="2.00" height="6.61" fill="#808080" stroke="#333" stroke-width="0.7" rx="0.6"/>
<rect x="415.00" y="249.96" width="1.80" height="6.61" fill="#808080" stroke="#333" stroke-width="0.7" rx="0.6"/>
<rect x="415.00" y="260.77" width="1.60" height="6.61" fill="#808080" stroke="#333" stroke-width="0.7" rx="0.6"/>
<rect x="415.00" y="271.58" width="1.40" height="6.61" fill="#808080" stroke="#333" stroke-width="0.7" rx="0.6"/>
<rect x="415.00" y="282.39" width="1.20" height="6.61" fill="#808080" stroke="#333" stroke-width="0.7" rx="0.6"/>
<line x1="415.00" y1="290.60" x2="443.30" y2="290.60" stroke="#222" stroke-width="0.7"/>
<line x1="415.10" y1="290.60" x2="415.10" y2="293.20" stroke="#222" stroke-width="0.6"/>
<text x="417.7" y="295.0" font-size="7.4" text-anchor="end" transform="rotate(-90 417.7 295.0) translate(417.7 295.0) scale(1 1.08) translate(-417.7 -295.0)" stroke="#222" stroke-width="0.1">0</text>
<line x1="423.90" y1="290.60" x2="423.90" y2="293.20" stroke="#222" stroke-width="0.6"/>
<text x="426.5" y="295.0" font-size="7.4" text-anchor="end" transform="rotate(-90 426.5 295.0) translate(426.5 295.0) scale(1 1.08) translate(-426.5 -295.0)" stroke="#222" stroke-width="0.1">1</text>
<line x1="432.70" y1="290.60" x2="432.70" y2="293.20" stroke="#222" stroke-width="0.6"/>
<text x="435.3" y="295.0" font-size="7.4" text-anchor="end" transform="rotate(-90 435.3 295.0) translate(435.3 295.0) scale(1 1.08) translate(-435.3 -295.0)" stroke="#222" stroke-width="0.1">2</text>
<line x1="441.50" y1="290.60" x2="441.50" y2="293.20" stroke="#222" stroke-width="0.6"/>
<text x="444.1" y="295.0" font-size="7.4" text-anchor="end" transform="rotate(-90 444.1 295.0) translate(444.1 295.0) scale(1 1.08) translate(-444.1 -295.0)" stroke="#222" stroke-width="0.1">3</text>
<rect x="339.20" y="28.7" width="24.30" height="262.30" fill="none" stroke="#E8453C" stroke-width="1.2"/>
<text x="456.5" y="11.0" font-size="12.5" font-weight="bold" fill="#111" transform="translate(456.5 11.0) scale(1 1.08) translate(-456.5 -11.0)">d</text>
<text x="504.3" y="21.4" font-size="9.95" font-weight="bold" fill="#111" transform="translate(504.3 21.4) scale(1 1.08) translate(-504.3 -21.4)">Incoming signaling patterns</text>
<rect x="529.60" y="64.00" width="24.30" height="10.81" fill="#2B6B38" shape-rendering="crispEdges"/>
<rect x="578.20" y="64.00" width="24.30" height="10.81" fill="#5EBF85" shape-rendering="crispEdges"/>
<rect x="602.50" y="64.00" width="24.30" height="10.81" fill="#1D4B27" shape-rendering="crispEdges"/>
<rect x="481.00" y="74.81" width="24.30" height="10.81" fill="#1D4B27" shape-rendering="crispEdges"/>
<rect x="505.30" y="74.81" width="24.30" height="10.81" fill="#C3E8DA" shape-rendering="crispEdges"/>
<rect x="529.60" y="74.81" width="24.30" height="10.81" fill="#F2F8FC" shape-rendering="crispEdges"/>
<rect x="553.90" y="74.81" width="24.30" height="10.81" fill="#3D9550" shape-rendering="crispEdges"/>
<rect x="578.20" y="74.81" width="24.30" height="10.81" fill="#F2F8FC" shape-rendering="crispEdges"/>
<rect x="602.50" y="74.81" width="24.30" height="10.81" fill="#D8F0EB" shape-rendering="crispEdges"/>
<rect x="626.80" y="74.81" width="24.30" height="10.81" fill="#4AA860" shape-rendering="crispEdges"/>
<rect x="481.00" y="85.62" width="24.30" height="10.81" fill="#1D4B27" shape-rendering="crispEdges"/>
<rect x="505.30" y="85.62" width="24.30" height="10.81" fill="#5EBF85" shape-rendering="crispEdges"/>
<rect x="553.90" y="85.62" width="24.30" height="10.81" fill="#1D4B27" shape-rendering="crispEdges"/>
<rect x="626.80" y="85.62" width="24.30" height="10.81" fill="#74CDA2" shape-rendering="crispEdges"/>
<rect x="481.00" y="96.43" width="24.30" height="10.81" fill="#1D4B27" shape-rendering="crispEdges"/>
<rect x="553.90" y="96.43" width="24.30" height="10.81" fill="#F2F8FC" shape-rendering="crispEdges"/>
<rect x="578.20" y="96.43" width="24.30" height="10.81" fill="#5EBF85" shape-rendering="crispEdges"/>
<rect x="602.50" y="96.43" width="24.30" height="10.81" fill="#74CDA2" shape-rendering="crispEdges"/>
<rect x="481.00" y="107.24" width="24.30" height="10.81" fill="#1F522B" shape-rendering="crispEdges"/>
<rect x="505.30" y="107.24" width="24.30" height="10.81" fill="#D8F0EB" shape-rendering="crispEdges"/>
<rect x="529.60" y="107.24" width="24.30" height="10.81" fill="#74CDA2" shape-rendering="crispEdges"/>
<rect x="553.90" y="107.24" width="24.30" height="10.81" fill="#E8F5F6" shape-rendering="crispEdges"/>
<rect x="578.20" y="107.24" width="24.30" height="10.81" fill="#1D4B27" shape-rendering="crispEdges"/>
<rect x="602.50" y="107.24" width="24.30" height="10.81" fill="#2B6B38" shape-rendering="crispEdges"/>
<rect x="626.80" y="107.24" width="24.30" height="10.81" fill="#E8F5F6" shape-rendering="crispEdges"/>
<rect x="481.00" y="118.05" width="24.30" height="10.81" fill="#1D4B27" shape-rendering="crispEdges"/>
<rect x="529.60" y="118.05" width="24.30" height="10.81" fill="#5EBF85" shape-rendering="crispEdges"/>
<rect x="578.20" y="118.05" width="24.30" height="10.81" fill="#4AA860" shape-rendering="crispEdges"/>
<rect x="481.00" y="128.86" width="24.30" height="10.81" fill="#C3E8DA" shape-rendering="crispEdges"/>
<rect x="505.30" y="128.86" width="24.30" height="10.81" fill="#E8F5F6" shape-rendering="crispEdges"/>
<rect x="529.60" y="128.86" width="24.30" height="10.81" fill="#3D9550" shape-rendering="crispEdges"/>
<rect x="553.90" y="128.86" width="24.30" height="10.81" fill="#F2F8FC" shape-rendering="crispEdges"/>
<rect x="578.20" y="128.86" width="24.30" height="10.81" fill="#1D4B27" shape-rendering="crispEdges"/>
<rect x="602.50" y="128.86" width="24.30" height="10.81" fill="#1F522B" shape-rendering="crispEdges"/>
<rect x="626.80" y="128.86" width="24.30" height="10.81" fill="#F2F8FC" shape-rendering="crispEdges"/>
<rect x="481.00" y="139.67" width="24.30" height="10.81" fill="#F2F8FC" shape-rendering="crispEdges"/>
<rect x="529.60" y="139.67" width="24.30" height="10.81" fill="#4AA860" shape-rendering="crispEdges"/>
<rect x="578.20" y="139.67" width="24.30" height="10.81" fill="#1D4B27" shape-rendering="crispEdges"/>
<rect x="602.50" y="139.67" width="24.30" height="10.81" fill="#5EBF85" shape-rendering="crispEdges"/>
<rect x="529.60" y="150.48" width="24.30" height="10.81" fill="#4AA860" shape-rendering="crispEdges"/>
<rect x="578.20" y="150.48" width="24.30" height="10.81" fill="#1D4B27" shape-rendering="crispEdges"/>
<rect x="602.50" y="150.48" width="24.30" height="10.81" fill="#5EBF85" shape-rendering="crispEdges"/>
<rect x="481.00" y="161.29" width="24.30" height="10.81" fill="#1D4B27" shape-rendering="crispEdges"/>
<rect x="505.30" y="161.29" width="24.30" height="10.81" fill="#3D9550" shape-rendering="crispEdges"/>
<rect x="529.60" y="161.29" width="24.30" height="10.81" fill="#C3E8DA" shape-rendering="crispEdges"/>
<rect x="553.90" y="161.29" width="24.30" height="10.81" fill="#2B6B38" shape-rendering="crispEdges"/>
<rect x="578.20" y="161.29" width="24.30" height="10.81" fill="#D8F0EB" shape-rendering="crispEdges"/>
<rect x="602.50" y="161.29" width="24.30" height="10.81" fill="#9ADBC2" shape-rendering="crispEdges"/>
<rect x="626.80" y="161.29" width="24.30" height="10.81" fill="#4AA860" shape-rendering="crispEdges"/>
<rect x="578.20" y="172.10" width="24.30" height="10.81" fill="#1D4B27" shape-rendering="crispEdges"/>
<rect x="481.00" y="182.90" width="24.30" height="10.81" fill="#74CDA2" shape-rendering="crispEdges"/>
<rect x="505.30" y="182.90" width="24.30" height="10.81" fill="#1D4B27" shape-rendering="crispEdges"/>
<rect x="553.90" y="182.90" width="24.30" height="10.81" fill="#9ADBC2" shape-rendering="crispEdges"/>
<rect x="626.80" y="182.90" width="24.30" height="10.81" fill="#9ADBC2" shape-rendering="crispEdges"/>
<rect x="529.60" y="193.71" width="24.30" height="10.81" fill="#C3E8DA" shape-rendering="crispEdges"/>
<rect x="578.20" y="193.71" width="24.30" height="10.81" fill="#9ADBC2" shape-rendering="crispEdges"/>
<rect x="602.50" y="193.71" width="24.30" height="10.81" fill="#1D4B27" shape-rendering="crispEdges"/>
<rect x="481.00" y="204.52" width="24.30" height="10.81" fill="#1D4B27" shape-rendering="crispEdges"/>
<rect x="578.20" y="215.33" width="24.30" height="10.81" fill="#1D4B27" shape-rendering="crispEdges"/>
<rect x="602.50" y="215.33" width="24.30" height="10.81" fill="#1F522B" shape-rendering="crispEdges"/>
<rect x="481.00" y="226.14" width="24.30" height="10.81" fill="#D8F0EB" shape-rendering="crispEdges"/>
<rect x="505.30" y="226.14" width="24.30" height="10.81" fill="#5EBF85" shape-rendering="crispEdges"/>
<rect x="553.90" y="226.14" width="24.30" height="10.81" fill="#1D4B27" shape-rendering="crispEdges"/>
<rect x="626.80" y="226.14" width="24.30" height="10.81" fill="#4AA860" shape-rendering="crispEdges"/>
<rect x="481.00" y="236.95" width="24.30" height="10.81" fill="#1D4B27" shape-rendering="crispEdges"/>
<rect x="553.90" y="236.95" width="24.30" height="10.81" fill="#D8F0EB" shape-rendering="crispEdges"/>
<rect x="481.00" y="247.76" width="24.30" height="10.81" fill="#3D9550" shape-rendering="crispEdges"/>
<rect x="529.60" y="247.76" width="24.30" height="10.81" fill="#1D4B27" shape-rendering="crispEdges"/>
<rect x="481.00" y="258.57" width="24.30" height="10.81" fill="#1D4B27" shape-rendering="crispEdges"/>
<rect x="553.90" y="258.57" width="24.30" height="10.81" fill="#1F522B" shape-rendering="crispEdges"/>
<rect x="529.60" y="269.38" width="24.30" height="10.81" fill="#1D4B27" shape-rendering="crispEdges"/>
<rect x="481.00" y="280.19" width="24.30" height="10.81" fill="#1D4B27" shape-rendering="crispEdges"/>
<text x="477.8" y="72.3" font-size="8" text-anchor="end" transform="translate(477.8 72.3) scale(1 1.08) translate(-477.8 -72.3)" stroke="#222" stroke-width="0.1">MIF</text>
<text x="477.8" y="83.1" font-size="8" text-anchor="end" transform="translate(477.8 83.1) scale(1 1.08) translate(-477.8 -83.1)" stroke="#222" stroke-width="0.1">MK</text>
<text x="477.8" y="93.9" font-size="8" text-anchor="end" transform="translate(477.8 93.9) scale(1 1.08) translate(-477.8 -93.9)" stroke="#222" stroke-width="0.1">EGF</text>
<text x="477.8" y="104.7" font-size="8" text-anchor="end" transform="translate(477.8 104.7) scale(1 1.08) translate(-477.8 -104.7)" stroke="#222" stroke-width="0.1">VISFATIN</text>
<text x="477.8" y="115.5" font-size="8" text-anchor="end" transform="translate(477.8 115.5) scale(1 1.08) translate(-477.8 -115.5)" stroke="#222" stroke-width="0.1">SPP1</text>
<text x="477.8" y="126.4" font-size="8" text-anchor="end" transform="translate(477.8 126.4) scale(1 1.08) translate(-477.8 -126.4)" stroke="#222" stroke-width="0.1">IL1</text>
<text x="477.8" y="137.2" font-size="8" text-anchor="end" transform="translate(477.8 137.2) scale(1 1.08) translate(-477.8 -137.2)" stroke="#222" stroke-width="0.1">GALECTIN</text>
<text x="477.8" y="148.0" font-size="8" text-anchor="end" transform="translate(477.8 148.0) scale(1 1.08) translate(-477.8 -148.0)" stroke="#222" stroke-width="0.1">TNF</text>
<text x="477.8" y="158.8" font-size="8" text-anchor="end" transform="translate(477.8 158.8) scale(1 1.08) translate(-477.8 -158.8)" stroke="#222" stroke-width="0.1">ANNEXIN</text>
<text x="477.8" y="169.6" font-size="8" text-anchor="end" transform="translate(477.8 169.6) scale(1 1.08) translate(-477.8 -169.6)" stroke="#222" stroke-width="0.1">PTN</text>
<text x="477.8" y="180.4" font-size="8" text-anchor="end" transform="translate(477.8 180.4) scale(1 1.08) translate(-477.8 -180.4)" stroke="#222" stroke-width="0.1">VEGF</text>
<text x="477.8" y="191.2" font-size="8" text-anchor="end" transform="translate(477.8 191.2) scale(1 1.08) translate(-477.8 -191.2)" stroke="#222" stroke-width="0.1">ncWNT</text>
<text x="477.8" y="202.0" font-size="8" text-anchor="end" transform="translate(477.8 202.0) scale(1 1.08) translate(-477.8 -202.0)" stroke="#222" stroke-width="0.1">COMPLEMENT</text>
<text x="477.8" y="212.8" font-size="8" text-anchor="end" transform="translate(477.8 212.8) scale(1 1.08) translate(-477.8 -212.8)" stroke="#222" stroke-width="0.1">TGFb</text>
<text x="477.8" y="223.6" font-size="8" text-anchor="end" transform="translate(477.8 223.6) scale(1 1.08) translate(-477.8 -223.6)" stroke="#222" stroke-width="0.1">IL6</text>
<text x="477.8" y="234.4" font-size="8" text-anchor="end" transform="translate(477.8 234.4) scale(1 1.08) translate(-477.8 -234.4)" stroke="#222" stroke-width="0.1">FGF</text>
<text x="477.8" y="245.3" font-size="8" text-anchor="end" transform="translate(477.8 245.3) scale(1 1.08) translate(-477.8 -245.3)" stroke="#222" stroke-width="0.1">OSM</text>
<text x="477.8" y="256.1" font-size="8" text-anchor="end" transform="translate(477.8 256.1) scale(1 1.08) translate(-477.8 -256.1)" stroke="#222" stroke-width="0.1">GAS</text>
<text x="477.8" y="266.9" font-size="8" text-anchor="end" transform="translate(477.8 266.9) scale(1 1.08) translate(-477.8 -266.9)" stroke="#222" stroke-width="0.1">WNT</text>
<text x="477.8" y="277.7" font-size="8" text-anchor="end" transform="translate(477.8 277.7) scale(1 1.08) translate(-477.8 -277.7)" stroke="#222" stroke-width="0.1">CALCR</text>
<text x="477.8" y="288.5" font-size="8" text-anchor="end" transform="translate(477.8 288.5) scale(1 1.08) translate(-477.8 -288.5)" stroke="#222" stroke-width="0.1">SEMA3</text>
<rect x="481.00" y="293.20" width="24.50" height="5.60" fill="#82C65A"/>
<rect x="505.30" y="293.20" width="24.50" height="5.60" fill="#E0A545"/>
<rect x="529.60" y="293.20" width="24.50" height="5.60" fill="#4E9F50"/>
<rect x="553.90" y="293.20" width="24.50" height="5.60" fill="#9088C4"/>
<rect x="578.20" y="293.20" width="24.50" height="5.60" fill="#A655A8"/>
<rect x="602.50" y="293.20" width="24.50" height="5.60" fill="#8C5A32"/>
<rect x="626.80" y="293.20" width="24.50" height="5.60" fill="#DE6DB4"/>
<text x="495.8" y="302.8" font-size="7.9" font-style="italic" text-anchor="end" transform="rotate(-73 495.8 302.8) translate(495.8 302.8) scale(1 1.08) translate(-495.8 -302.8)" stroke="#222" stroke-width="0.1">BIT</text>
<text x="520.1" y="302.8" font-size="7.9" font-style="italic" text-anchor="end" transform="rotate(-73 520.1 302.8) translate(520.1 302.8) scale(1 1.08) translate(-520.1 -302.8)" stroke="#222" stroke-width="0.1">BST</text>
<text x="544.4" y="302.8" font-size="7.9" font-style="italic" text-anchor="end" transform="rotate(-73 544.4 302.8) translate(544.4 302.8) scale(1 1.08) translate(-544.4 -302.8)" stroke="#222" stroke-width="0.1">Dendritic cells</text>
<text x="568.6" y="302.8" font-size="7.9" font-style="italic" text-anchor="end" transform="rotate(-73 568.6 302.8) translate(568.6 302.8) scale(1 1.08) translate(-568.6 -302.8)" stroke="#222" stroke-width="0.1">Proliferative</text>
<text x="593.0" y="302.8" font-size="7.9" font-style="italic" text-anchor="end" transform="rotate(-73 593.0 302.8) translate(593.0 302.8) scale(1 1.08) translate(-593.0 -302.8)" stroke="#222" stroke-width="0.1">TREM1 Myeloid</text>
<text x="617.2" y="302.8" font-size="7.9" font-style="italic" text-anchor="end" transform="rotate(-73 617.2 302.8) translate(617.2 302.8) scale(1 1.08) translate(-617.2 -302.8)" stroke="#222" stroke-width="0.1">TREM2 Myeloid</text>
<text x="641.5" y="302.8" font-size="7.9" font-style="italic" text-anchor="end" transform="rotate(-73 641.5 302.8) translate(641.5 302.8) scale(1 1.08) translate(-641.5 -302.8)" stroke="#222" stroke-width="0.1">Tumor basal</text>
<rect x="485.50" y="34.00" width="15.30" height="27.40" fill="#82C65A"/>
<rect x="509.80" y="53.30" width="15.30" height="8.10" fill="#E0A545"/>
<rect x="534.10" y="43.80" width="15.30" height="17.60" fill="#4E9F50"/>
<rect x="558.40" y="47.00" width="15.30" height="14.40" fill="#9088C4"/>
<rect x="582.70" y="39.60" width="15.30" height="21.80" fill="#A655A8"/>
<rect x="607.00" y="38.90" width="15.30" height="22.50" fill="#8C5A32"/>
<rect x="631.30" y="51.20" width="15.30" height="10.20" fill="#DE6DB4"/>
<rect x="653.50" y="66.20" width="27.60" height="6.61" fill="#808080" stroke="#333" stroke-width="0.7" rx="0.6"/>
<rect x="653.50" y="77.01" width="25.30" height="6.61" fill="#808080" stroke="#333" stroke-width="0.7" rx="0.6"/>
<rect x="653.50" y="87.82" width="22.90" height="6.61" fill="#808080" stroke="#333" stroke-width="0.7" rx="0.6"/>
<rect x="653.50" y="98.63" width="20.20" height="6.61" fill="#808080" stroke="#333" stroke-width="0.7" rx="0.6"/>
<rect x="653.50" y="109.44" width="18.40" height="6.61" fill="#808080" stroke="#333" stroke-width="0.7" rx="0.6"/>
<rect x="653.50" y="120.25" width="15.00" height="6.61" fill="#808080" stroke="#333" stroke-width="0.7" rx="0.6"/>
<rect x="653.50" y="131.06" width="7.70" height="6.61" fill="#808080" stroke="#333" stroke-width="0.7" rx="0.6"/>
<rect x="653.50" y="141.87" width="7.30" height="6.61" fill="#808080" stroke="#333" stroke-width="0.7" rx="0.6"/>
<rect x="653.50" y="152.68" width="5.20" height="6.61" fill="#808080" stroke="#333" stroke-width="0.7" rx="0.6"/>
<rect x="653.50" y="163.49" width="4.20" height="6.61" fill="#808080" stroke="#333" stroke-width="0.7" rx="0.6"/>
<rect x="653.50" y="174.30" width="3.40" height="6.61" fill="#808080" stroke="#333" stroke-width="0.7" rx="0.6"/>
<rect x="653.50" y="185.10" width="3.20" height="6.61" fill="#808080" stroke="#333" stroke-width="0.7" rx="0.6"/>
<rect x="653.50" y="195.91" width="2.50" height="6.61" fill="#808080" stroke="#333" stroke-width="0.7" rx="0.6"/>
<rect x="653.50" y="206.72" width="2.10" height="6.61" fill="#808080" stroke="#333" stroke-width="0.7" rx="0.6"/>
<rect x="653.50" y="217.53" width="1.90" height="6.61" fill="#808080" stroke="#333" stroke-width="0.7" rx="0.6"/>
<rect x="653.50" y="228.34" width="1.70" height="6.61" fill="#808080" stroke="#333" stroke-width="0.7" rx="0.6"/>
<rect x="653.50" y="239.15" width="1.50" height="6.61" fill="#808080" stroke="#333" stroke-width="0.7" rx="0.6"/>
<rect x="653.50" y="249.96" width="1.40" height="6.61" fill="#808080" stroke="#333" stroke-width="0.7" rx="0.6"/>
<rect x="653.50" y="260.77" width="1.30" height="6.61" fill="#808080" stroke="#333" stroke-width="0.7" rx="0.6"/>
<rect x="653.50" y="271.58" width="1.20" height="6.61" fill="#808080" stroke="#333" stroke-width="0.7" rx="0.6"/>
<rect x="653.50" y="282.39" width="1.10" height="6.61" fill="#808080" stroke="#333" stroke-width="0.7" rx="0.6"/>
<line x1="653.50" y1="290.60" x2="681.80" y2="290.60" stroke="#222" stroke-width="0.7"/>
<line x1="653.60" y1="290.60" x2="653.60" y2="293.20" stroke="#222" stroke-width="0.6"/>
<text x="656.2" y="295.0" font-size="7.4" text-anchor="end" transform="rotate(-90 656.2 295.0) translate(656.2 295.0) scale(1 1.08) translate(-656.2 -295.0)" stroke="#222" stroke-width="0.1">0</text>
<line x1="662.40" y1="290.60" x2="662.40" y2="293.20" stroke="#222" stroke-width="0.6"/>
<text x="665.0" y="295.0" font-size="7.4" text-anchor="end" transform="rotate(-90 665.0 295.0) translate(665.0 295.0) scale(1 1.08) translate(-665.0 -295.0)" stroke="#222" stroke-width="0.1">1</text>
<line x1="671.20" y1="290.60" x2="671.20" y2="293.20" stroke="#222" stroke-width="0.6"/>
<text x="673.8" y="295.0" font-size="7.4" text-anchor="end" transform="rotate(-90 673.8 295.0) translate(673.8 295.0) scale(1 1.08) translate(-673.8 -295.0)" stroke="#222" stroke-width="0.1">2</text>
<line x1="680.00" y1="290.60" x2="680.00" y2="293.20" stroke="#222" stroke-width="0.6"/>
<text x="682.6" y="295.0" font-size="7.4" text-anchor="end" transform="rotate(-90 682.6 295.0) translate(682.6 295.0) scale(1 1.08) translate(-682.6 -295.0)" stroke="#222" stroke-width="0.1">3</text>
<rect x="481.00" y="28.7" width="24.30" height="262.30" fill="none" stroke="#E8453C" stroke-width="1.2"/>
<path d="M242.1 32.2V60.9" stroke="#222" stroke-width="0.8"/>
<line x1="239.20" y1="38.11" x2="242.10" y2="38.11" stroke="#222" stroke-width="0.7"/>
<text x="236.2" y="40.4" font-size="6.6" text-anchor="end" transform="translate(236.2 40.4) scale(1 1.08) translate(-236.2 -40.4)" stroke="#222" stroke-width="0.1">1.5</text>
<line x1="239.20" y1="45.57" x2="242.10" y2="45.57" stroke="#222" stroke-width="0.7"/>
<text x="236.2" y="47.9" font-size="6.6" text-anchor="end" transform="translate(236.2 47.9) scale(1 1.08) translate(-236.2 -47.9)" stroke="#222" stroke-width="0.1">1</text>
<line x1="239.20" y1="53.03" x2="242.10" y2="53.03" stroke="#222" stroke-width="0.7"/>
<text x="236.2" y="55.3" font-size="6.6" text-anchor="end" transform="translate(236.2 55.3) scale(1 1.08) translate(-236.2 -55.3)" stroke="#222" stroke-width="0.1">0.5</text>
<line x1="239.20" y1="60.50" x2="242.10" y2="60.50" stroke="#222" stroke-width="0.7"/>
<text x="236.2" y="62.8" font-size="6.6" text-anchor="end" transform="translate(236.2 62.8) scale(1 1.08) translate(-236.2 -62.8)" stroke="#222" stroke-width="0.1">0</text>
<line x1="477.80" y1="34.90" x2="480.60" y2="34.90" stroke="#333" stroke-width="0.9"/>
<text x="476.3" y="37.3" font-size="6.7" text-anchor="end" transform="translate(476.3 37.3) scale(1 1.08) translate(-476.3 -37.3)" stroke="#222" stroke-width="0.1">2</text>
<line x1="477.80" y1="48.05" x2="480.60" y2="48.05" stroke="#333" stroke-width="0.9"/>
<text x="476.3" y="50.5" font-size="6.7" text-anchor="end" transform="translate(476.3 50.5) scale(1 1.08) translate(-476.3 -50.5)" stroke="#222" stroke-width="0.1">1</text>
<line x1="477.80" y1="61.20" x2="480.60" y2="61.20" stroke="#333" stroke-width="0.9"/>
<text x="476.3" y="63.6" font-size="6.7" text-anchor="end" transform="translate(476.3 63.6) scale(1 1.08) translate(-476.3 -63.6)" stroke="#222" stroke-width="0.1">0</text>
<defs><linearGradient id="gg" x1="0" y1="0" x2="0" y2="1"><stop offset="0" stop-color="#1D4B27"/><stop offset="0.25" stop-color="#2E7D40"/><stop offset="0.55" stop-color="#5EBF85"/><stop offset="0.8" stop-color="#C8EADF"/><stop offset="1" stop-color="#F7FBFF"/></linearGradient><linearGradient id="rg" x1="0" y1="0" x2="0" y2="1"><stop offset="0" stop-color="#EC2C20"/><stop offset="0.5" stop-color="#E08070"/><stop offset="1" stop-color="#D9D9D9"/></linearGradient></defs>
<rect x="423.70" y="2.20" width="6.10" height="57.60" fill="url(#gg)"/>
<text x="432.5" y="8.4" font-size="7.2" transform="translate(432.5 8.4) scale(1 1.08) translate(-432.5 -8.4)" stroke="#222" stroke-width="0.1">1</text>
<text x="432.5" y="59.6" font-size="7.2" transform="translate(432.5 59.6) scale(1 1.08) translate(-432.5 -59.6)" stroke="#222" stroke-width="0.1">0</text>
<text x="418.5" y="30.5" font-size="7.9" text-anchor="middle" transform="rotate(-90 418.5 30.5) translate(418.5 30.5) scale(1 1.08) translate(-418.5 -30.5)" stroke="#222" stroke-width="0.1">Relative strength</text>
<rect x="662.20" y="2.20" width="6.10" height="57.60" fill="url(#gg)"/>
<text x="671.0" y="8.4" font-size="7.2" transform="translate(671.0 8.4) scale(1 1.08) translate(-671.0 -8.4)" stroke="#222" stroke-width="0.1">1</text>
<text x="671.0" y="59.6" font-size="7.2" transform="translate(671.0 59.6) scale(1 1.08) translate(-671.0 -59.6)" stroke="#222" stroke-width="0.1">0</text>
<text x="658.1" y="30.5" font-size="7.9" text-anchor="middle" transform="rotate(-90 658.1 30.5) translate(658.1 30.5) scale(1 1.08) translate(-658.1 -30.5)" stroke="#222" stroke-width="0.1">Relative strength</text>
<text x="224.0" y="367.8" font-size="12.5" font-weight="bold" fill="#111" transform="translate(224.0 367.8) scale(1 1.08) translate(-224.0 -367.8)">e</text>
<text x="266.3" y="371.9" font-size="10.3" font-weight="bold" fill="#111" transform="translate(266.3 371.9) scale(1 1.08) translate(-266.3 -371.9)">IL1 signaling pathway network</text>
<text x="455.6" y="367.8" font-size="12.5" font-weight="bold" fill="#111" transform="translate(455.6 367.8) scale(1 1.08) translate(-455.6 -367.8)">f</text>
<text x="493.0" y="372.0" font-size="10.3" font-weight="bold" fill="#111" transform="translate(493.0 372.0) scale(1 1.08) translate(-493.0 -372.0)">OSM signaling pathway network</text>
<path d="M326.9 402.9 Q375 445 420.8 475.4" stroke="#7DC95A" stroke-width="0.5" stroke-opacity="0.5" fill="none" stroke-linecap="round"/>
<path d="M420.8 475.4 Q358 497 275 508" stroke="#7DC95A" stroke-width="0.5" stroke-opacity="0.45" fill="none" stroke-linecap="round"/>
<path d="M326.9 402.9 Q395.5 430.9 420.8 475.4" stroke="#3E9A48" stroke-width="1.6" stroke-opacity="0.75" fill="none" stroke-linecap="round"/>
<path d="M326.9 402.9 Q311 462 275 508" stroke="#3E9A48" stroke-width="1.0" stroke-opacity="0.8" fill="none" stroke-linecap="round"/>
<path d="M275 508 Q288 449 326.9 402.9" stroke="#A550A8" stroke-width="2.7" stroke-opacity="0.6" fill="none" stroke-linecap="round"/>
<path d="M326.9 402.9 Q309.5 476 326.9 549" stroke="#8C5A2E" stroke-width="1.3" stroke-opacity="0.8" fill="none" stroke-linecap="round"/>
<path d="M275 508 Q296 540 326.9 549" stroke="#8C5A2E" stroke-width="1.7" stroke-opacity="0.8" fill="none" stroke-linecap="round"/>
<path d="M420.8 475.4 Q369 499 326.9 549" stroke="#8C5A2E" stroke-width="2.3" stroke-opacity="0.8" fill="none" stroke-linecap="round"/>
<path d="M275 508 C310 490 360 473 420.8 475.4" stroke="#A550A8" stroke-width="4.6" stroke-opacity="0.55" fill="none" stroke-linecap="round"/>
<path d="M275 508 C266 509 252 509 250.5 515.5 C249.5 521.5 262 521 275 508" stroke="#A550A8" stroke-width="3.0" stroke-opacity="0.6" fill="none" stroke-linecap="round"/>
<path d="M326.9 402.9 C317 393 318 378.5 323 378.4 C329 378.3 330 392 326.9 402.9" stroke="#3E9A48" stroke-width="0.9" stroke-opacity="0.7" fill="none" stroke-linecap="round"/>
<path d="M420.8 475.4 C432 468 447 472 444 477 C441 481 430 479 420.8 475.4" stroke="#7DC95A" stroke-width="0.4" stroke-opacity="0.35" fill="none" stroke-linecap="round"/>
<path d="M496.5 442.5 Q489.5 475.6 496.5 508.7" stroke="#A550A8" stroke-width="0.9" stroke-opacity="0.8" fill="none" stroke-linecap="round"/>
<path d="M496.5 508.7 C531 491 583 473 645 475.4" stroke="#A550A8" stroke-width="4.6" stroke-opacity="0.55" fill="none" stroke-linecap="round"/>
<circle cx="326.9" cy="402.9" r="3.7" fill="#3E9A48"/>
<circle cx="549.4" cy="401.5" r="3.7" fill="#3E9A48"/>
<circle cx="391.7" cy="416.9" r="3.7" fill="#E3A33E"/>
<circle cx="615.6" cy="416.2" r="3.7" fill="#E3A33E"/>
<circle cx="275" cy="443.2" r="3.7" fill="#8F88C8"/>
<circle cx="496.5" cy="442.5" r="3.7" fill="#8F88C8"/>
<circle cx="420.8" cy="475.4" r="3.7" fill="#7DC95A"/>
<circle cx="645" cy="475.4" r="3.7" fill="#7DC95A"/>
<circle cx="275" cy="508" r="3.7" fill="#A550A8"/>
<circle cx="496.5" cy="508.7" r="3.7" fill="#A550A8"/>
<circle cx="391.7" cy="533.9" r="3.7" fill="#DE6DB4"/>
<circle cx="615.6" cy="535" r="3.7" fill="#DE6DB4"/>
<circle cx="326.9" cy="549" r="3.7" fill="#8C5A2E"/>
<circle cx="549.4" cy="550" r="3.7" fill="#8C5A2E"/>
<text x="329.9" y="390.3" font-size="9.35" fill="#1a1a1a" transform="translate(329.9 390.3) scale(1 1.08) translate(-329.9 -390.3)" stroke="#1a1a1a" stroke-width="0.2">Dendritic cells</text>
<text x="398.2" y="413.0" font-size="9.35" fill="#1a1a1a" transform="translate(398.2 413.0) scale(1 1.08) translate(-398.2 -413.0)" stroke="#1a1a1a" stroke-width="0.2">BST</text>
<text x="241.2" y="436.3" font-size="9.25" fill="#1a1a1a" transform="translate(241.2 436.3) scale(1 1.08) translate(-241.2 -436.3)" stroke="#1a1a1a" stroke-width="0.2">Proliferative</text>
<text x="430.8" y="478.4" font-size="9.35" fill="#1a1a1a" transform="translate(430.8 478.4) scale(1 1.08) translate(-430.8 -478.4)" stroke="#1a1a1a" stroke-width="0.2">BIT</text>
<text x="224.8" y="534.5" font-size="9.35" fill="#1a1a1a" transform="translate(224.8 534.5) scale(1 1.08) translate(-224.8 -534.5)" stroke="#1a1a1a" stroke-width="0.2">TREM1 Myeloid</text>
<text x="385.9" y="548.9" font-size="9.25" fill="#1a1a1a" transform="translate(385.9 548.9) scale(1 1.08) translate(-385.9 -548.9)" stroke="#1a1a1a" stroke-width="0.2">Tumor basal</text>
<text x="294.8" y="564.2" font-size="9.35" fill="#1a1a1a" transform="translate(294.8 564.2) scale(1 1.08) translate(-294.8 -564.2)" stroke="#1a1a1a" stroke-width="0.2">TREM2 Myeloid</text>
<text x="548.9" y="390.3" font-size="9.35" fill="#1a1a1a" transform="translate(548.9 390.3) scale(1 1.08) translate(-548.9 -390.3)" stroke="#1a1a1a" stroke-width="0.2">Dendritic cells</text>
<text x="620.7" y="413.0" font-size="9.35" fill="#1a1a1a" transform="translate(620.7 413.0) scale(1 1.08) translate(-620.7 -413.0)" stroke="#1a1a1a" stroke-width="0.2">BST</text>
<text x="462.7" y="436.3" font-size="9.25" fill="#1a1a1a" transform="translate(462.7 436.3) scale(1 1.08) translate(-462.7 -436.3)" stroke="#1a1a1a" stroke-width="0.2">Proliferative</text>
<text x="655.8" y="478.4" font-size="9.35" fill="#1a1a1a" transform="translate(655.8 478.4) scale(1 1.08) translate(-655.8 -478.4)" stroke="#1a1a1a" stroke-width="0.2">BIT</text>
<text x="462.7" y="524.7" font-size="9.35" fill="#1a1a1a" transform="translate(462.7 524.7) scale(1 1.08) translate(-462.7 -524.7)" stroke="#1a1a1a" stroke-width="0.2">TREM1 Myeloid</text>
<text x="609.2" y="549.6" font-size="9.25" fill="#1a1a1a" transform="translate(609.2 549.6) scale(1 1.08) translate(-609.2 -549.6)" stroke="#1a1a1a" stroke-width="0.2">Tumor basal</text>
<text x="516.3" y="564.2" font-size="9.35" fill="#1a1a1a" transform="translate(516.3 564.2) scale(1 1.08) translate(-516.3 -564.2)" stroke="#1a1a1a" stroke-width="0.2">TREM2 Myeloid</text>
<text x="2.3" y="540.0" font-size="12.5" font-weight="bold" fill="#111" transform="translate(2.3 540.0) scale(1 1.08) translate(-2.3 -540.0)">g</text>
<text x="72.6" y="548.9" font-size="9.2" font-weight="bold" text-anchor="middle" fill="#111" transform="translate(72.6 548.9) scale(1 1.08) translate(-72.6 -548.9)">Myeloid cells in</text>
<text x="73.2" y="560.1" font-size="9.2" font-weight="bold" text-anchor="middle" fill="#111" transform="translate(73.2 560.1) scale(1 1.08) translate(-73.2 -560.1)">4 naive human BCCs</text>
<path d="M52.4 568.6L52 575L50.9 583L50.3 590.5" stroke="#E8632A" stroke-width="1.6" fill="none" stroke-linecap="round"/>
<path d="M51 568.4h0m.8-.2h0m-.3 1.8h0m.2 .7h0m.1-1.7h0m.1 .3h0m.2 1.8h0m.6-1.5h0m.2 .8h0m.5-1.1h0m0 .8h0m-1.3 1.7h0m.7 1.9h0m-3.2 2.8h0m.2-1.6h0m.5 2.4h0m.4 .1h0m1.6 0h0m.9-1.6h0m-2.9 3.6h0m.9 .2h0m.4-1.1h0m.2-.8h0m.3 1.6h0m.2 .6h0m.1-1.2h0m-2.3 3h0m.1 1.3h0m.3-1h0m-1 2.4h0m.3-.4h0m.2 .8h0m.4-1h0m.1 2.5h0m.2-2.1h0m-.9 3.5h0m0-.8h0m.2 .9h0m.8-.9h0m0 2h0m1.3-.4h0" stroke="#E8632A" stroke-width="1.10" stroke-linecap="round" fill="none"/>
<path d="M47.8 593.9h0m2 1.2h0m.8-1.1h0m.3 1.5h0m.5-.7h0m2.1-.9h0m1.2-1.1h0m1 2.6h0m-8.2 2.9h0m.2-.6h0m.5 .3h0m.5-.7h0m.3-.7h0m.2 .2h0m0 1.4h0m.8-.7h0m.4-.3h0m2.3-.1h0m0-1.5h0m.3 2.2h0m.1 .7h0m.2-1.4h0m.4-.3h0m.1 .1h0m.7-1h0m.4 1.1h0m.5 .3h0m1.2-.2h0m.8 1.1h0m.7 .1h0m1.1-2.6h0m-15.5 4h0m2.2-.8h0m.3 2.1h0m3.1-1.9h0m.2 .3h0m.1 1.1h0m.4 .3h0m.7 .5h0m1-1.7h0m.4 .1h0m.3 .1h0m.7-.5h0m.1 1.8h0m.1-1.7h0m.2 .7h0m.3 .7h0m.6-.5h0m.8-.7h0m.7 1.1h0m.5-.9h0m.6 .2h0m.8 .4h0m.1 1h0m.6-1h0m.2 .8h0m1.7-1h0m1.3 .3h0m.4 .4h0m-14.3 2.2h0m.1 1.1h0m.1-1.2h0m.1 .5h0m.1-.6h0m0-1.1h0m.2 .6h0m1.5 .1h0m.3-.8h0m.4 .7h0m0-.7h0m.1 1.6h0m.1-1.5h0m.5 .6h0m.3-.8h0m.4 .6h0m.2 .2h0m.1-.8h0m.2 1.2h0m.4 .3h0m.1-.6h0m.8 1.6h0m.1-1.2h0m.1-1h0m.5 .8h0m2.3 .9h0m.1-.4h0m.1-.5h0m1-.5h0m.6 1.7h0m.2 .3h0m.7-2.6h0m0 2.6h0m.2-.6h0m0 .8h0m.2-1.7h0m1.3-.9h0m.7 2.3h0m.4-.3h0m0 .2h0m1.2-1h0m1.1 1.2h0m.1-1h0m.2 .7h0m.3 .1h0m.5 0h0m.5-.7h0m.2 1.1h0m.2-.5h0m.3 .3h0m-22.3 1.7h0m.8 .3h0m1.5 0h0m1.3-.3h0m.8 1.3h0m.7-1.8h0m.5-.3h0m1.5 .3h0m.1-.5h0m.1 .4h0m.7 1h0m0-1.8h0m.1 .9h0m.5-.2h0m.5 1.1h0m1.2-.4h0m.1 1.4h0m.3-2h0m.2 1.6h0m.9 .3h0m.3-.7h0m.2-1.2h0m.1 2h0m1.4-.9h0m.1-.6h0m1.7-.4h0m.2 1.4h0m.6 .3h0m0-2h0m.8 1.6h0m.2-.2h0m.8-1h0m.8-.7h0m0 1.8h0m1.3-1h0m.4-.5h0m1.1 .2h0m.4 1.7h0m.5 .2h0m0-.1h0m.2 .3h0m.1-.1h0m.1-.8h0m1.1 .2h0m0 .8h0m.4-.1h0m-22.3 1.6h0m1 .1h0m0 1.4h0m.9-2h0m.2 .6h0m1 .1h0m.4-1h0m.1 1.1h0m.5-1.7h0m.8 1.8h0m1 .2h0m.2 .5h0m1.2-2.1h0m1.7 1h0m1.3-1.3h0m0 2.2h0m.1-1.2h0m.1 .1h0m.4-.4h0m.4 1.3h0m.4 .6h0m1.5-.8h0m.8 .6h0m1-1.1h0m.3-1h0m0 .3h0m0 1.4h0m.3-.5h0m.4-.4h0m.3-.7h0m.1 1.3h0m.2 .7h0m.2 .1h0m.1-1.4h0m.9 1.4h0m.7-.9h0m1-1h0m0-.1h0m0 1.7h0m1.1-1.8h0m.2 1.2h0m.4-1.3h0m.3 .7h0m.5-.2h0m1.1 1.3h0m-25.3 2h0m.4-.2h0m.2-.1h0m.3 .1h0m1.5-.2h0m.1-.1h0m.2 2.1h0m.2-1.4h0m.6-.9h0m.1-.2h0m0 1.3h0m1.9-.8h0m0 1.1h0m1-.9h0m.1 .9h0m2-1.1h0m.3 1h0m.2-1h0m.2-.3h0m1 1.8h0m.9-1h0m0 1.6h0m.5-1.8h0m.1-1.1h0m.7 2.7h0m.2-1.2h0m.8 0h0m.7-.8h0m.1 .8h0m.5 .9h0m.8 .3h0m0-1.4h0m.1-.5h0m.4 .9h0m0-1.7h0m.6 .7h0m0 1.5h0m.5-1.6h0m.1-.2h0m.5 .9h0m1.1 0h0m.2 .3h0m.1 .5h0m1.1-1.9h0m.8 1h0m.3-.1h0m.3 .3h0m.4 1.3h0m.7-.5h0m.1-1.9h0m.2 .8h0m.1-.5h0m.7 2.2h0m0-1.8h0m.2-.9h0m.2 1.9h0m2.3-1h0m-26.5 4.9h0m.1-1.4h0m.9-1.5h0m.2 1.6h0m.3-.6h0m.7 1.5h0m.1 .3h0m.3-.2h0m.7-.3h0m.4-.4h0m.4-1h0m1.2-.7h0m.1 2.1h0m.3 .5h0m.3-2.3h0m.3 1.5h0m.3-.2h0m.3 .2h0m.2-.3h0m.5-1.1h0m.2 .1h0m.1 .5h0m0 0h0m.9-.2h0m.5-.6h0m.5 1.6h0m.1-1.7h0m.2-.3h0m.1 1.6h0m.3-1.3h0m1.2-.1h0m.1 2.6h0m0-.3h0m.4-2.2h0m.6 2h0m.1-1.1h0m.6 1.2h0m0 .2h0m.3-.8h0m.3 1h0m.1-2.1h0m.1-.7h0m.4 2.1h0m0-1.8h0m.3 .6h0m.1-.6h0m.2 .2h0m.2 .2h0m.7-.2h0m1.4 2.2h0m.1-.8h0m.2 .9h0m.1-.2h0m.5-1.3h0m.6 .6h0m.2-1.4h0m.3-.1h0m.1 1.8h0m.3-.3h0m.3-.8h0m.2-.5h0m0-.1h0m.5-.3h0m1.2 .9h0m.1 .1h0m.2-1.3h0m.6 2.9h0m.4-.7h0m0-1.9h0m0 .9h0m.4 1.7h0m.2-1.9h0m0 .9h0m.7 .7h0m-25.2 3.2h0m.3-1.1h0m1.4 .7h0m.2 .3h0m.6-2h0m.1 .9h0m1.2-1h0m.8 1.6h0m.7-1.8h0m0 1.3h0m1 .9h0m.2 .3h0m.9-2.4h0m.1 2.2h0m.2-2.5h0m.2 1.2h0m.4 1.2h0m.2-.7h0m.2 .4h0m.6-1.8h0m.6 1.3h0m1.4 .8h0m.2-1.8h0m1.1-.7h0m.2 2h0m.4-1.5h0m.2 1h0m.4 .2h0m.7-.1h0m0-.2h0m.2-1.1h0m1.2 2.5h0m.5-2.3h0m.4 1.7h0m.1 .6h0m.6-1.4h0m.2 .4h0m.1 .1h0m.1-1.9h0m.5 1.1h0m.7 1.2h0m1-2.2h0m.8 1.6h0m.2-1.3h0m.2 .6h0m.5-1h0m.1 1.2h0m.8 1.2h0m.3-.3h0m.7-1.1h0m0-.9h0m1.1 2.6h0m-23.8 2.1h0m.2-1.6h0m.4 2.4h0m0 .1h0m.5-2h0m.5 .3h0m.3 1.3h0m.5-1.1h0m.5 .2h0m0 .7h0m.2-.4h0m.1-.7h0m.4 .2h0m.3 1.2h0m.7-.7h0m.4-.1h0m.3-1.3h0m.2 .6h0m.7-.8h0m.4 2.4h0m.2-.8h0m.4-.7h0m.3-1h0m.2 1.8h0m.2-.4h0m.1-.7h0m.6 .5h0m.3 .9h0m.8-1.4h0m.2-.1h0m0 1.6h0m.4 .2h0m.1-.3h0m0 .6h0m0-2.1h0m.1 0h0m1-.1h0m.7 1.5h0m.3-.1h0m1.2-1.1h0m.2 .1h0m.3-.7h0m.4 .4h0m.5 1.5h0m.3-2h0m.1 .9h0m.5 1.3h0m1.1 .4h0m.7-1.2h0m0-1.2h0m.1 .1h0m0 1.6h0m0-.8h0m.3 .6h0m.2 .6h0m.1 .5h0m.8-2.1h0m.5-.6h0m.1 .8h0m0 1.4h0m0 .2h0m.5-2.1h0m.1 .4h0m.9-.3h0m.2 1.8h0m.7-1h0m.2 .6h0m.8-1.2h0m.3-.3h0m.8-.5h0m.5 1.8h0m-25.8 2h0m.3 2.1h0m1.2-2.6h0m.2 .5h0m.2 1.9h0m1.8-1.6h0m.2-1.1h0m.1 1.2h0m.2 .7h0m0 .4h0m.9-.2h0m.1-.6h0m.3-1.3h0m.5 1.6h0m.5-.1h0m.5-1h0m.2 .5h0m.1 .3h0m.1-.3h0m.1 1.5h0m.3-1.8h0m.1 1.6h0m.8-1.3h0m.1 0h0m.8-.6h0m.1 .7h0m.5 1.1h0m0-.9h0m.1 .7h0m.3-.3h0m.4-2h0m1 .9h0m0 1.3h0m.2 .5h0m.8-1h0m1.1-.9h0m.4 .3h0m.2 .5h0m.1-.2h0m.5-.1h0m.1-.4h0m.2 1.7h0m.5-2.3h0m.4 2.2h0m1-2h0m0-.1h0m.4 2.2h0m1.1-1.7h0m.4-.4h0m.2 .4h0m.6 1.4h0m.9-.5h0m.6 .4h0m0 .4h0m.1-1.2h0m.2-1h0m.8 1.1h0m.2 1.5h0m1.3-.7h0m.1-1.4h0m.1 .7h0m.4 .7h0m.6-1.7h0m.4 .2h0m-29.6 4.3h0m1.3-.9h0m.6-.3h0m.4-.1h0m.6 .5h0m.4-.2h0m.3 1.8h0m.4-1.5h0m.4 1.6h0m.5-2.9h0m.4 .3h0m.5 0h0m.1 2h0m.4-.6h0m2 .1h0m.1 .3h0m1-2h0m.1 .1h0m.3 1.6h0m1.1 .5h0m.5-.8h0m.3-.9h0m.1 2h0m.1 0h0m.2-2.2h0m.3 1.7h0m.3-.8h0m.6 1.1h0m.4-.9h0m.7 1h0m.5-1.5h0m.6 .5h0m.1 .1h0m1.7 .8h0m.1-1.2h0m.1 .4h0m1.1 0h0m.2 .3h0m0 .8h0m.4-1.9h0m.3-.3h0m.4 2.3h0m.3-2h0m.1 2.1h0m.3-2.3h0m.6 2.1h0m2.7-2.4h0m.1 .5h0m.5 .7h0m1.4 .9h0m.2 .2h0m.9-2.3h0m.4 .4h0m.4 1.9h0m.2-.6h0m-31 3.8h0m4.4-2.5h0m3.1 1.5h0m0-1.3h0m.5-.5h0m0 .5h0m.1 1.3h0m.6-1.7h0m.2 .5h0m0 2.2h0m.3-.9h0m3 .2h0m1 .2h0m.1-1.5h0m.7 1h0m.9-.5h0m.2 .1h0m.5 .1h0m.3-1.3h0m.2 .2h0m.1 1h0m.7 1.3h0m.3-1.8h0m0 1.5h0m.2-1.3h0m.1 1.1h0m.1-1.7h0m.2 1.2h0m.3-.5h0m.5 1.5h0m0-1.3h0m.1 .3h0m.6 .2h0m.6-1.2h0m.1 .6h0m.8 .5h0m.6-.8h0m1.2-.4h0m1.1 1.8h0m.1-2.1h0m.3 .1h0m.3 2.5h0m.3-2.7h0m.3 1.1h0m.5-1.3h0m.2 2.6h0m.5-1.5h0m.4-.9h0m.5 2h0m.6-.9h0m.3-1h0m1.1 2.2h0m.6 .2h0m.8-2.6h0m.2 1.2h0m1.5-.4h0m-30.8 4.6h0m.2-.9h0m.4 1h0m2 .2h0m1.5-2.9h0m.3 1.1h0m1.1 .1h0m.7-.6h0m0 1.5h0m0 .7h0m.1-1.7h0m.7 0h0m.2 1.3h0m1.1-.9h0m.1 .9h0m.6-1.9h0m1 2h0m.2-2.4h0m.6 1.7h0m.1-.6h0m.5 .3h0m.7 .3h0m1.8 1.2h0m.3-1.9h0m.2 1.2h0m.5-1.4h0m.2-.1h0m.4 1.5h0m.2-1.8h0m0 .2h0m.5 1.7h0m.1-2h0m.5 2.6h0m.4-.1h0m1-1h0m0-.1h0m2.2-1.6h0m.1 2.1h0m.6-.5h0m.3-.2h0m.6 1h0m.5-.9h0m.5 .6h0m1.2-.2h0m.3-2h0m.2 1.2h0m.2-.2h0m.4-.1h0m.2 .9h0m.4-.2h0m.7-1.2h0m.2 2h0m.2-1.5h0m0-.6h0m.8 2h0m.1-.2h0m.2-1.4h0m1.3 .1h0m.9-.3h0m-34 2.5h0m1.8 1.6h0m.3-1h0m.9 1.7h0m.7-.5h0m.3 .1h0m1-.7h0m.2-.7h0m.3 1.5h0m.5-1.8h0m.2 .6h0m.2 1.3h0m.8 .6h0m.6-2.5h0m.9 1.8h0m1 .1h0m.2-1.8h0m.2 .4h0m1.4 .1h0m.2 1.6h0m0-1.3h0m3.2 .6h0m.6 .6h0m1.3 .4h0m.1-1.5h0m.3 .2h0m.4 .1h0m.3-.5h0m.1 1.3h0m.7-1.3h0m.5 .4h0m.2-1.4h0m.3 2h0m.8-1.1h0m.1 .9h0m.2 .6h0m.8-2.1h0m.7 .5h0m.1-.6h0m1.4 .5h0m0 0h0m1.4 2.1h0m.3-.6h0m.5-.2h0m1.4 .9h0m.1-1.3h0m.4-.6h0m.1 1.3h0m.8-.3h0m.2-1.1h0m.2 1.2h0m.7-.3h0m-30.5 3.8h0m1.1-2.5h0m2 .8h0m0-.1h0m.1-.8h0m.6 .9h0m.2 1.2h0m.1 .8h0m.8-2.2h0m.1-.3h0m.2 .4h0m.3 1h0m.8-1.8h0m.3 1.3h0m.5-1h0m.1 2h0m.4-1.6h0m0 0h0m1.2 .3h0m.5 1.1h0m.3 .4h0m.2 .3h0m.2-2.7h0m.5 .9h0m0 1.2h0m.1-.6h0m0 .8h0m.8-1.6h0m0 1h0m0-1.6h0m1.6 1.3h0m0 1.2h0m0-1.5h0m.8 .6h0m.9 .6h0m.4-.8h0m.3-.2h0m0 1.4h0m.5-2.2h0m.3-.4h0m0 .3h0m.5 2h0m0-.6h0m.6-.9h0m.1-.6h0m.9 .1h0m.6-.1h0m.4 1.7h0m.4-2h0m0-.2h0m.2 2.4h0m.2-2.3h0m.4 1.6h0m.4-.3h0m1.9 .7h0m.3-1.6h0m1 1.5h0m.4 .9h0m.6-1.2h0m0-.7h0m.3-.3h0m.3-.3h0m.5 1.1h0m.2 .7h0m0-1.3h0m.3 .1h0m1.1 1.2h0m.9-.5h0m.2 .5h0m.2 .7h0m.2 .1h0m.1-2.9h0m.2 2.8h0m0-2.6h0m.7 1.6h0m.3 .8h0m0-2.7h0m.6 .9h0m.7 1.6h0m.1-.1h0m-29.2 1h0m1.6-.1h0m.6 .7h0m1.7-.5h0m.3 .4h0m1.6 .2h0m.2-.9h0m1.3 0h0m0 .9h0m.2 1.1h0m.2-.1h0m1.6-1.7h0m.1 1.5h0m.2 .8h0m1.6-.3h0m1.3-.1h0m.3 .6h0m.6-1.1h0m3.7 1.2h0m1.7-.5h0m.1-2.2h0m.2 2.4h0m.7-.4h0m0 .5h0m.2-.1h0m.6-2.3h0m.4 .2h0m.7 2.3h0m2.5-.8h0m.8-1h0m.7 1.1h0m.7-2h0m.6 0h0m.2 1.8h0m2.7-1.6h0m.1 .3h0m2.3 2h0m-33.4 1.7h0m4.1 .3h0m1.3-1.7h0m9.6 .1h0m.7 .4h0m.9 2.1h0m.2-1.9h0m.5 .9h0m.6-1.1h0m.1 1.3h0m1.3-.4h0m.5 1.3h0m.1-1.2h0m.5-.4h0m.2 1.6h0m.6-1.1h0m.2-.5h0m1.2-.3h0m.1 1.6h0m.3 .6h0m.6-.2h0m.1-1.4h0m.1-.5h0m1 .1h0m.3 .1h0m.9-.2h0m.1 1.7h0m0-2.3h0m.2 1.8h0m.1-.3h0m.2 .2h0m.4 .3h0m.3-.1h0m.1-2.1h0m.2 .1h0m1.8 1.6h0m.4-.6h0m.1-1h0m1 2h0m-10.8 1.9h0m.9-.9h0m.4 1.3h0m2-.3h0m1.1 1.3h0m.5-1.5h0m.1-.4h0m1.1 .1h0m.2 .5h0m1.2-.2h0m1.1-.6h0m1.4 1.4h0m3.4-.1h0" stroke="#52A34C" stroke-width="1.24" stroke-linecap="round" fill="none"/>
<path d="M66.4 609.1h0m3.5 .5h0m9.7-2h0m1 1.7h0m1.3-.1h0m0-.4h0m-9.1 4.5h0m.9-1.5h0m.6 1.1h0m0-1.3h0m1.3 .4h0m.1 1.2h0m0-2.4h0m.6 1.2h0m1.4 .6h0m.3 .3h0m1.4 .2h0m0 .2h0m.3-.5h0m.4-.7h0m.1-1.5h0m.5 2.5h0m.2-.1h0m.9-2.3h0m.2 .3h0m.2 .6h0m1.3 1.6h0m1.1-2.2h0m.6-.3h0m-18.2 4.2h0m3.6 1.1h0m.2 0h0m.4 .2h0m1.1-.1h0m1.4-.1h0m.6 .2h0m1-1.6h0m.8 1.4h0m.6-.4h0m.3 .9h0m0-2.3h0m.2 1.4h0m.3-1.7h0m.6 .7h0m2-.3h0m.7 .7h0m1-.2h0m.1 1.5h0m.1-1.4h0m.2 .4h0m.1-.9h0m.6 1.2h0m0-1.8h0m.8 2.2h0m.2 .2h0m1.1-2.6h0m0 .2h0m.3 1.8h0m.5-1.8h0m.4 2.4h0m.3-.9h0m1.5 1h0m1.3-.2h0m-20 .7h0m1.7 .9h0m.2-.9h0m.8 1.1h0m.2 .3h0m.9 1.2h0m.1-.6h0m.1-2h0m.2 1.6h0m0-1.7h0m.5 2h0m0-.6h0m.1 .5h0m.7 .6h0m1.7-.2h0m.2-.5h0m.3-1.4h0m.1 .6h0m.9 .5h0m.3 .3h0m.1-1.4h0m.1-.4h0m.7 2.8h0m1.2-2.4h0m.1 .3h0m.3 .9h0m.4 .1h0m.2 .2h0m.6-.2h0m.1 .5h0m.2-.1h0m1-2.1h0m.1 .2h0m.5 .8h0m.8 1.1h0m.2-.1h0m.3-.6h0m.4 .3h0m.6 .9h0m.3 0h0m.8-2.2h0m-17 5.3h0m.1-2.3h0m.8 1.2h0m.3-.2h0m.5 .8h0m.4-2.1h0m.1 .1h0m.1 1.4h0m1-.1h0m.4 0h0m0-.5h0m.1-.6h0m3.3 1.5h0m0-1.7h0m.2 2.3h0m.1-1.6h0m.1 .3h0m1.1-.3h0m.2 .9h0m.3-.7h0m.7 .3h0m0-1h0m0 1.9h0m.3-1.8h0m.6 2h0m.4-2.4h0m.6 .7h0m0-1h0m.3 2.3h0m.7-1.6h0m.3 .2h0m1.1 2.1h0m.2-.4h0m.1-1.8h0m.7 1.4h0m.6 .3h0m1 .2h0m.4-1.7h0m0 0h0m.2 1.7h0m.4-.2h0m.3-2.1h0m0 .7h0m.6 1.8h0m-18.5 2.1h0m2.1-1.5h0m.3 1.1h0m.3 1.3h0m.4-2.3h0m.8 2.1h0m.2-2.5h0m.8 2.6h0m.1-1.4h0m.1 .4h0m.3 .8h0m.1-.7h0m.2-.6h0m.3-1.2h0m1.7 .4h0m.2 1h0m.1-.8h0m.2 .6h0m2.4-.5h0m1 1.9h0m.2-.4h0m0 .6h0m.5-.5h0m.2-1.1h0m.1 1.3h0m1-1.3h0m.1-.4h0m.2-.2h0m.1 .6h0m.4 1.2h0m.1-.8h0m.6-1.6h0m.4 1h0m.5 .2h0m.3 1.1h0m.4-.3h0m.4-.3h0m.1-1.3h0m.4 1.7h0m.2 0h0m.2-1.5h0m0-.4h0m.1 .8h0m.1-.1h0m.1-.2h0m.1-.8h0m.5 .5h0m.4 .9h0m.1 1h0m.3-.6h0m.1-.8h0m.4 1.1h0m.7 .8h0m.2-.8h0m.4 .7h0m.2-1.8h0m-21.4 4.5h0m.8-2.1h0m.6 .1h0m.1 1.5h0m.2-1.4h0m0 1.3h0m.7 1h0m.8-1.2h0m.7-.7h0m.5-.1h0m.3 1.3h0m.4-1.1h0m.6 .8h0m.4-1.2h0m.1 .9h0m1.2 .9h0m.4-2.1h0m0-.4h0m.9 3h0m.8-1.9h0m.9 1.1h0m.2-1.6h0m.2-.2h0m.4 2h0m1.5 .5h0m.1-.1h0m.3-1.9h0m.7-.6h0m.8 2.3h0m.2-.2h0m.3-2h0m.1 .6h0m.1 .7h0m3-1.3h0m.3 1.5h0m.3 .9h0m.2 .1h0m.3-2h0m.3 1.1h0m.1-1.3h0m.1-.7h0m.6 2.3h0m.1-2.1h0m2.4 1h0m-25.7 4.5h0m1-.4h0m.7 .7h0m.1-.2h0m.2-.8h0m.4 .5h0m.7 0h0m.4-2.4h0m.3 2h0m.7 .7h0m.3 .1h0m0-1.7h0m0 1.5h0m1.2-1.5h0m.8 .5h0m.3-.7h0m.3 .5h0m.9 .4h0m.6-1.2h0m.3 .3h0m2.1 1.4h0m.2-1.5h0m.1 1.1h0m.3-1.8h0m1.2 1h0m.1-1h0m0 .9h0m.3-.9h0m.2 2.6h0m.9-.3h0m1.3-1.9h0m.2-.3h0m0 2.5h0m.8-.6h0m.2-1.9h0m0 2h0m.2-1.4h0m.5 .8h0m.4-1.4h0m0 1.6h0m.1-1.8h0m.7 1.2h0m.5-.5h0m.3-.6h0m.7 .3h0m.2 1.3h0m.7 0h0m.6-1.6h0m.3 .1h0m0 1.7h0m.5-1.4h0m1.6 2.3h0m.1-.5h0m0-2.2h0m1.3 1.6h0m.4 .7h0m.4-.4h0m-27 2.7h0m1.1 .5h0m.2-.2h0m2.5-.9h0m.1-.5h0m.5 1.2h0m.3-.8h0m1.2 .8h0m.2 .8h0m0-1h0m.1-.4h0m1.2-1.1h0m1.2 1.2h0m1.7-.5h0m.1 .6h0m.4-.3h0m.6 .7h0m.1 .3h0m.9-1.4h0m0 .4h0m.2-.6h0m.7 1.6h0m.6 .2h0m.2 .1h0m.6 .2h0m0-2.6h0m0 .7h0m.6 .8h0m.3 .9h0m.1-1.5h0m.1 .5h0m.5-.3h0m.4 1h0m.1-.4h0m.3-1.3h0m.8 .1h0m.1 .3h0m.2-.6h0m.2 1.8h0m.8-1.4h0m1.7 2h0m.2-2h0m0 .9h0m.2-1.1h0m2 2.3h0m.1-1.3h0m.4 1.2h0m.1-.1h0m.1-1.3h0m.8-1.2h0m.4 2.2h0m.2 .1h0m.1-1.8h0m.2 .8h0m1.6-.6h0m-26.7 3.6h0m.5 1.1h0m.2-1.9h0m.1 1.4h0m.6-.4h0m.2-1.6h0m0 .8h0m0 1.9h0m.7-.1h0m.3-.5h0m1.3-1.4h0m.8 .3h0m1.2 .8h0m1 .2h0m1.1 .4h0m.1-1.4h0m.9-.2h0m1.2-.1h0m.4-.7h0m.2 1.2h0m.2 1.6h0m.8 .1h0m.3-.4h0m.9-2.2h0m.3 0h0m2 2.2h0m1.2 .4h0m.4-1.2h0m.4 .6h0m.3-1.7h0m.4 1.3h0m2.5 .5h0m.2 0h0m.2-.1h0m.2-.6h0m.6-1.7h0m.5 2.7h0m.1-2.5h0m.1 .9h0m0 1.1h0m.9-.8h0m.2-1.3h0m.1 .9h0m.5 1.6h0m.7-.9h0m1.1 .6h0m-23.9 1.8h0m.2-1.1h0m0 1.5h0m0 1.5h0m.5-2h0m.9 .6h0m0-.3h0m.5-.2h0m0 1.7h0m.6-.9h0m1.4-1.6h0m.3 .2h0m.3 1.5h0m.4-1.5h0m.4-.2h0m.1 1.1h0m.8-1.2h0m0 .7h0m.3 .4h0m.9 1.6h0m.7-1.6h0m0 1.4h0m1.1-.3h0m.9-.4h0m.8 .2h0m.1 .1h0m.2-1.6h0m.4-.4h0m.1 1.4h0m.4-.9h0m.8 .4h0m.4 1h0m1.1-1.6h0m.8 .6h0m.1-1h0m.9 1.8h0m.7-1.8h0m.2 2.6h0m0-2.5h0m.3 1.2h0m.1-.8h0m.5 1.4h0m.2-1.1h0m.2 1h0m.1-.3h0m.2-.2h0m.1-.2h0m.6-.4h0m1.6 .8h0m.3 .5h0m1.2-1.6h0m.8 1.2h0m3.4-1h0m-28.3 2.4h0m.3 2.5h0m.4-.8h0m.5-1.7h0m.2 2.6h0m.2-1.1h0m.1 1.3h0m.5-.6h0m.4-.9h0m.3 .2h0m1-.8h0m.1 1.9h0m.1-1.7h0m0 .8h0m.8 .7h0m.2-2.6h0m.9 1.9h0m.8 .4h0m.5 .2h0m1.1-1.5h0m.7 .3h0m.4 .8h0m0 .5h0m.4-2.4h0m1.2 .3h0m.1 .6h0m.3 1.7h0m.2-1.1h0m.6-1.6h0m.3 2h0m.1-.8h0m0-.4h0m.5 .6h0m.6 .3h0m1.8 1.2h0m.5-.7h0m.1-.9h0m0-.7h0m2 1.4h0m.1 .2h0m.7-.5h0m.1 0h0m.2 1h0m.4-1h0m.2-1.1h0m.2-.2h0m.1 2.1h0m.3-2.1h0m1.4 .4h0m.1 0h0m.5 .8h0m-19.8 3h0m.1 1h0m1.1-.9h0m.9-.6h0m.1-.1h0m.4 .3h0m.1-.5h0m.2 .3h0m.1-1h0m.4 1.3h0m.2-1.2h0m.2 .1h0m.3 2.4h0m0-1.1h0m.2 1h0m.3-2.5h0m.3 2.1h0m.5-1.2h0m1 1h0m.2-.7h0m.5 .3h0m.1-1.5h0m.3 1.7h0m.5-1.4h0m.2-.4h0m.5 .3h0m1.5 1.8h0m1 .6h0m.1 0h0m.1-2.6h0m.1 2.2h0m.1-2.1h0m.3 2.1h0m.8-2.4h0m1.1 1.2h0m.9-.1h0m.5-.8h0m.9 .7h0m.9 1.4h0m.3-1.7h0m.3 .7h0m.2-.2h0m.3-1.1h0m-22.1 3.1h0m2.5 2.2h0m.2 .5h0m.7-1h0m.8 1h0m.2 .1h0m1-1h0m.2-.8h0m.3-.2h0m.1 1.5h0m1-1.8h0m.5 .3h0m.1-.1h0m1.3-.8h0m.1 2.3h0m0 .2h0m.9-.5h0m1.4 .5h0m.4-.7h0m.8-.8h0m1.8-.8h0m.1 1.1h0m.2-.5h0m.1 .6h0m.1 1.2h0m.2-2.5h0m.6 .6h0m.5-.5h0m.3 1.4h0m.8-1h0m.7 1.8h0m1.7 .1h0m.2-2.1h0m.7 1h0m-19.2 3.8h0m.8 .5h0m.1-1.2h0m.1-.4h0m.5-.1h0m1.5-1h0m0 .8h0m.8 .6h0m.7 .4h0m.2-1.9h0m.1 2h0m.1-.4h0m.4-.3h0m1.3-.9h0m.1 2.3h0m.2-2.1h0m0 1.6h0m.3-1.2h0m.6 .3h0m.1-.5h0m.4-.4h0m.8 1.3h0m.7-.2h0m.4 .9h0m.1-1.1h0m.5 .9h0m.2 .7h0m.6-.9h0m.6 .5h0m.7-.9h0m.2-1h0m0-.5h0m.1 .4h0m0 .6h0m.2-.3h0m.4-.4h0m.2-.4h0m.2 .1h0m.2 .1h0m.2 .3h0m.1 1.3h0m.3-.7h0m1.1 1.5h0m.1 .1h0m.2 0h0m.1-2.1h0m.1-.4h0m1.1 .8h0m.2 1.8h0m2.5-1.6h0m-20.3 3.8h0m.7 .1h0m.7-.8h0m.6-.1h0m2.3 1.7h0m.3-1.1h0m.9 .9h0m1.6-1.8h0m.3 1.5h0m.2-.6h0m1.6 .5h0m.2 .2h0m.1 .2h0m.7-.2h0m1 .5h0m.4-1.1h0m1.6-1.7h0m.4 1.5h0m1.4-1.4h0m2.1 0h0m.9 1.2h0m-16 2.1h0m1 1.4h0m.6-.9h0m0-.2h0m1-.3h0m.2 1.9h0m.1-2.1h0m.1 .1h0m.9 2.3h0m1-1.1h0m1.3 1.1h0m1-1.5h0m.4 .3h0m0 1.1h0m1.1-1.7h0m.8 .2h0m.1 0h0m1.1-.2h0m.1 .6h0m.1-1.1h0m.4 .3h0m.7 .3h0m.9-.8h0m.4-.1h0m-13.3 5.7h0m.5-.3h0m1-1.4h0m0 .4h0m.2-1h0m1.4 1.9h0m.1-1.4h0m.4 1.5h0m.1-1.5h0m.6 .6h0m0-.7h0m.6 0h0m.2 .1h0m.3 1.6h0m.2 .1h0m.9-2.6h0m.3 2.3h0m.2-.5h0m.2-.3h0m.2 .8h0m2.1-.3h0m.8-1.5h0m.3-.1h0m-9.2 2.9h0m.6 1.5h0m.4-.8h0m.6 0h0m.2 1.3h0m.4-1.5h0m.8-.5h0m.6 .3h0m0 .8h0m1-1.5h0m.1 .7h0m.3 2.1h0m.2-2.4h0m.3 1.9h0m1-.1h0m.1-.8h0m.8-1.1h0m.6 .1h0m.7 1.6h0m-8.7 1.2h0m2.3 .1h0m.9-.3h0m.3 0h0m.7 .6h0m.5-.5h0m.3 .3h0" stroke="#8E5A2E" stroke-width="1.24" stroke-linecap="round" fill="none"/>
<path d="M35.1 639.4h0m-2.5 4h0m.6-2.3h0m.5 2.2h0m0-.9h0m1.1 .5h0m.2-.2h0m.3 .6h0m.1-1.5h0m2.5 .3h0m.9-.2h0m.1 1.5h0m2.9-2.2h0m.4 2.1h0m-11.1 2.8h0m.9-.2h0m.6-1.1h0m1 1.6h0m.1-2.3h0m.1 1h0m0 .5h0m.2-1.8h0m.2 .7h0m0 .8h0m.3-1h0m.2 .2h0m.2 1.5h0m.7-2.3h0m.7 2.3h0m.9-2.3h0m.4 .4h0m.1-.5h0m.7 0h0m0 1.2h0m.7 0h0m0-.1h0m.3 .5h0m0-.9h0m.4 1.4h0m.6 .6h0m.3-2.4h0m.2 1.9h0m.3-1.8h0m.3 .9h0m.9 .9h0m.2-.6h0m.9-1.3h0m0-.2h0m.2 2.4h0m.1 .4h0m.2-.3h0m1.2 .1h0m.4-1.1h0m.2 .6h0m.3-1.2h0m1.6 1.8h0m.6-2.4h0m.3-.2h0m.9 2.4h0m.3 .3h0m2.2-1h0m.3-.3h0m.3-1h0m.3 2.2h0m.1-2h0m4.5-.3h0m-30.3 3.2h0m1.6 1.9h0m.5-.8h0m.8 .1h0m.1-.3h0m.5-.4h0m0 1.5h0m.7-1.4h0m.2 .5h0m.5-.6h0m.2 .9h0m0 .7h0m0-1.1h0m.1-.4h0m.3 .4h0m.5-.9h0m.7 .1h0m.3 .9h0m0 .2h0m.3-1.6h0m.2 1h0m.1 .6h0m.9-1.2h0m0 1.2h0m.1 .7h0m.1-2.6h0m.1 1.1h0m0 1.5h0m.1-2.2h0m.3 2.1h0m.5-.7h0m.4 .7h0m.1 .3h0m.5-1.8h0m.1-.6h0m.6 1.1h0m.6-.6h0m.4 1.2h0m.4-1.5h0m0-.5h0m.3 .6h0m.2 1.5h0m0-.6h0m1.7-1.4h0m.3 2.5h0m.1-2h0m.6-.6h0m1 .6h0m.1 .1h0m.1-.2h0m0 .8h0m1.1 0h0m0-1.6h0m.1 2.5h0m.6-2.4h0m.2 1.4h0m.8-1.5h0m.3 .9h0m.6-.3h0m.4-.3h0m.7 0h0m0 0h0m0 2.7h0m0-.1h0m0 0h0m.2-2.2h0m.1 .7h0m.3 1.5h0m1.1-.5h0m.1-2.4h0m.1 .5h0m0 2.1h0m1.2-2.5h0m.3 .2h0m.5 2.5h0m.1-1.5h0m.4-1.1h0m.6 2.2h0m.6 .1h0m2.1 .4h0m.1-.1h0m.5-.6h0m3.6-.2h0m2.8 .3h0m-39.6 3.7h0m1.5-1.7h0m.8-.3h0m.8 1.8h0m.3-.5h0m.2-.9h0m1.3 .9h0m.3 .1h0m.2-1h0m.3-.8h0m0-.1h0m.1-.2h0m.1 .7h0m.3 .4h0m.6 1.3h0m0-1.6h0m.1 1.2h0m.5-1.1h0m.7-.4h0m0 1.6h0m.1 0h0m.6 .4h0m.8-1.8h0m.3 .6h0m.8-.3h0m.2 .7h0m.3 .6h0m.1-2h0m.2 1.5h0m.2-.1h0m.7-.2h0m.1-1.7h0m.3 2.8h0m.8 0h0m.7-.1h0m1-2.2h0m1-.1h0m.2 .2h0m.1 2.3h0m0-.6h0m.1-1.3h0m.1 1.4h0m.4 .1h0m.3-1.2h0m.5-.4h0m.1 .8h0m0-1.4h0m.6-.1h0m.1 1h0m0 1.2h0m.7 .3h0m0-1.8h0m.2 .3h0m.1 1.3h0m.6-.8h0m0-1h0m.4 .2h0m.8 1.6h0m.1-.7h0m.3-1.3h0m.3 .9h0m.3-1h0m.1 1.8h0m.3-1.7h0m.1 2.3h0m1.1-1.4h0m.3-.8h0m.5-.2h0m.9 1.9h0m.6-1.5h0m.5-.2h0m.4 .8h0m.5-.3h0m0 1.3h0m.6 .2h0m.1-.1h0m.2-.8h0m.1-1.4h0m.4 2h0m1.6-1.3h0m0 .1h0m.2-.9h0m.1 .5h0m0 .8h0m.8 .3h0m.5-1.8h0m.1 .9h0m.7 1.5h0m.6 0h0m.1-2.4h0m.4-.1h0m.1 1.7h0m.7-.1h0m.1 .4h0m.5 .4h0m.6-.3h0m.1 .1h0m.5 .3h0m.1-2.2h0m.2 1.2h0m.8 .2h0m0-.9h0m.5 1.6h0m.9 .3h0m.9-.5h0m.2-1.6h0m.4 .9h0m1.8 .6h0m.9 .1h0m-43.8 2.4h0m.4-1.5h0m.5 2.9h0m1.9-.4h0m.1-1.7h0m.2 1h0m.6-1.7h0m0 .1h0m.6 1.3h0m.1 .6h0m.3-.2h0m0-.6h0m.2-.1h0m.4-.4h0m.3 .5h0m.1 .3h0m1-1h0m.3 1.8h0m0-2.3h0m.1 2.3h0m.2-.2h0m.2-2.2h0m.8 2.2h0m.3-2h0m.1-.2h0m.2 0h0m.4 .1h0m0 .7h0m0 1.6h0m.1-.2h0m0-1.1h0m.6-.5h0m0 .4h0m.4-.7h0m0 2.6h0m.2-.9h0m.3-.6h0m.6 .6h0m.5-1h0m.1 1.1h0m.4-1.4h0m.7 1.1h0m.4-.9h0m.1 .6h0m.1-1.3h0m.6 0h0m.7 .2h0m0 1.6h0m.6-1.3h0m1.6 .7h0m.4-1.1h0m.1 1.6h0m.3 .4h0m.5-1h0m.9-.4h0m.1-.3h0m.2-.3h0m.1 1.2h0m0-.8h0m.5 .2h0m.5 1.2h0m.5 .3h0m.2-1.8h0m.2 1.5h0m.4 .6h0m0 .1h0m.3-1.3h0m.2 .6h0m.4-1h0m.7 1.7h0m.2-.9h0m.2-.4h0m.1-.5h0m0-.5h0m0 .1h0m0 .1h0m.1-.7h0m.1 0h0m.2 .7h0m.1-.7h0m0 1.9h0m.2 .4h0m.1-1h0m.5 .3h0m.2 .6h0m.4-1.6h0m.1 1.9h0m.5-2.4h0m1.3 2.1h0m0-.7h0m.8 .2h0m.1 1.1h0m.8 0h0m.3-.2h0m.8-.6h0m0 .7h0m.4-.1h0m.1-1h0m0 1.1h0m.1-.9h0m.1-.2h0m0-1.1h0m0-.3h0m.5 .1h0m1.1 2.2h0m.2-2.5h0m.8 2h0m.2-1.7h0m.2 .2h0m0 .5h0m1.2-.5h0m.1 .3h0m.2 1.7h0m.1-1.4h0m.2-.6h0m.3 2.3h0m1.5-1.4h0m.1-1.5h0m.1 1.6h0m.9 .2h0m.6-1.7h0m.2 2.2h0m.4-.9h0m.2-1h0m0 1.6h0m.1-.4h0m.4-.8h0m.1 1.5h0m.1-.2h0m.1-1.3h0m.6 2.1h0m0-1.1h0m.1 .2h0m.1-1.2h0m.2-.5h0m.1 .3h0m.9-.4h0m-46.6 5.4h0m2.1 .2h0m.6-.1h0m1.2-.1h0m.2-.7h0m0-.3h0m.5 .6h0m1.3-1.1h0m.6-.1h0m.3 1.1h0m.2-1.2h0m.6 1.2h0m.1 .3h0m.2-.8h0m.2-.3h0m.6 .3h0m.1 1.3h0m.5 0h0m0-2.7h0m.3 .5h0m.3 .8h0m.2 .6h0m2.6-.2h0m.7-1.8h0m.3 2.8h0m.4-1h0m.2 .9h0m0-.2h0m.2-.7h0m0-.3h0m.5 .8h0m0 .1h0m.2-1.1h0m.5-.4h0m0 1.7h0m.6-2.4h0m.8 .2h0m.1 1.1h0m.5-.7h0m.1-.3h0m.2 .4h0m.1 2h0m.2-2.8h0m0 .3h0m0 2.4h0m.4-1.8h0m.1 1.8h0m0-1.4h0m.1 .1h0m.7-.2h0m.2 .2h0m0 .5h0m.3-1.3h0m.1 1.4h0m.9-.1h0m.3-1.8h0m.1 2.5h0m.7-.3h0m.3-.4h0m.4-.3h0m0 .8h0m1.7-.4h0m.5 .8h0m.4-1.2h0m.6-.1h0m.4 .3h0m.1-1.2h0m.8 1.5h0m.5 .6h0m.5-2.5h0m.2 .6h0m0 1.1h0m.7-1.2h0m.6 1.8h0m1.2-1.6h0m0 .8h0m0-1h0m.2 .2h0m.4-.3h0m.3-.5h0m.5 .6h0m.2-.5h0m.8-.2h0m.5 2.3h0m.7 .3h0m.4-1.1h0m0-1.2h0m1-.3h0m1.4 2.6h0m.1-.2h0m.3-1.7h0m.8-.6h0m.4 1.6h0m0-.3h0m.2-1.1h0m0 2.5h0m.1-2.2h0m.1 .4h0m.2 .5h0m.2 .4h0m.3-1.9h0m.4 1.5h0m.1 .6h0m.2 .6h0m1.1-2.6h0m.1 .4h0m.2 .9h0m.2 .1h0m.3 0h0m0 .9h0m.1-2.3h0m.3 .1h0m.4 .2h0m.3 1.1h0m.1-.2h0m.8 .5h0m0 .2h0m2.5-.3h0m1.1 .2h0m-47.8 3h0m.7-.6h0m.4 .7h0m.3-1.6h0m.2 1h0m0 .2h0m.6-.8h0m0 1.3h0m.2-.3h0m.1-.5h0m.3 .2h0m.6-.5h0m.4 .2h0m1.5-.9h0m.1 .7h0m0 1.5h0m.2-1.7h0m.7 2h0m0-.7h0m.2-2.1h0m1 2.2h0m0-1.3h0m.1 1h0m.1-1h0m.2 .2h0m.4 .2h0m1.1-.8h0m.4-.1h0m.2 2h0m.1-.5h0m.5-.1h0m.1 .5h0m.7 0h0m.3-.3h0m.1-.4h0m.8-1.6h0m0 1.4h0m0 1h0m.1 .1h0m.2-2.3h0m.3 .3h0m.3 1.3h0m0-.5h0m.5-.4h0m.9 1.6h0m.7-1.7h0m0-.1h0m.5 1.1h0m.5-.1h0m.2-1.1h0m.1 1.9h0m.1-1.6h0m.5 1.2h0m.4 0h0m.1-1h0m.2 0h0m.1 .9h0m2.8-1h0m.5-1.1h0m.2 2.1h0m.1-1.4h0m.3-.3h0m.7 .9h0m.1 .9h0m.1-.1h0m0-1.5h0m.2 1.4h0m0 .6h0m.4-1.3h0m.1-.8h0m0 2h0m.2-2.6h0m0 .2h0m.4 1.1h0m.4-1.1h0m.1 2h0m.1 .2h0m.9-1.3h0m1-.7h0m0 .2h0m1.1 .6h0m.3 1h0m.8-.2h0m.2-.9h0m.4-.5h0m.3 2.2h0m.2-.2h0m.2-.9h0m.1-.6h0m.1-.1h0m.7-.7h0m.3 1.2h0m.2 .7h0m.3-1.8h0m.1 .8h0m.2 .9h0m.4 .3h0m.6 .5h0m0 0h0m.1-.5h0m.3-2.2h0m.1 2.5h0m.2-2.4h0m.2 2.2h0m.1-.7h0m.3-1.5h0m.4 2.5h0m.4-1.2h0m.1-.2h0m.8-.4h0m.1-.9h0m.2 1.7h0m.2 .3h0m0-1.1h0m.3 1.3h0m0-.2h0m.3-1.5h0m1.1 2.2h0m.4-.6h0m.4-.8h0m.6 .7h0m.5-1.5h0m.1 1.6h0m1.4-1.6h0m.1 2.2h0m.4-1.1h0m.4-.3h0m1.3-1.2h0m.1 1.3h0m.6 1.2h0m.2-2.6h0m.2 2.6h0m0-.7h0m.5-1.9h0m.5 .8h0m.1 1.3h0m.7 .5h0m.1 .2h0m1.8-2.8h0m2.5 2.7h0m-53 2.8h0m1.2 .3h0m.3-2.4h0m.4 2.4h0m.1-2h0m.3-.6h0m.7 1.4h0m.2-1.6h0m.2 .1h0m.5 .4h0m.1 1.9h0m.3-.5h0m.2-1.8h0m.6 1.1h0m.3 .2h0m.5 .4h0m1.5-1.6h0m1-.2h0m.2 2.5h0m.4-.5h0m.1 .6h0m0-.7h0m.7-.2h0m.4-.4h0m0-.7h0m.2 2.1h0m.1-1h0m.4 .8h0m1.5-1.5h0m.8 .3h0m.9 .6h0m0-1.6h0m.6 2.2h0m.4 .1h0m.2-2.4h0m1.1 1.2h0m.9 1.4h0m.5-2.2h0m.4 .1h0m0 1.3h0m1.2-.8h0m0-.3h0m.6 1.4h0m.1-1.8h0m.1-.1h0m.2 .6h0m.3 .3h0m.1-1.3h0m.1 2.2h0m.1 .3h0m.2-.6h0m1.5-.6h0m.8 1.4h0m.1-.3h0m0-.2h0m.1-1.7h0m.2-.6h0m.6 1.5h0m.4-.4h0m.2 1.2h0m.1-.4h0m.2-.3h0m.6-.2h0m.1 .9h0m.3-.2h0m.2-2h0m0 1.8h0m0-1.7h0m.1 1.2h0m.4-.5h0m0 1.3h0m.3 .1h0m.8 .6h0m.4-1.1h0m.5-1.2h0m0 1.9h0m.3-1h0m0 .9h0m.3-.1h0m.4-1.3h0m.8-.6h0m0 1h0m0 1.4h0m0-.3h0m.4-1.6h0m.3 .8h0m.5-.4h0m.5 .4h0m.3-.7h0m.2-.2h0m.5 1.2h0m0-1.2h0m.4 2.1h0m.1-.8h0m.1-1.8h0m.6 .8h0m.6 1.6h0m.1-2.6h0m.3 2.1h0m1.4-1.6h0m.7 1.6h0m1.1-1h0m.2-.7h0m.1 .4h0m.3-.4h0m.1 2.4h0m.6-2.6h0m.2 1.8h0m.1-1.8h0m.1 2.1h0m.6-2.2h0m.1 .1h0m.3 1.9h0m.7-.6h0m1.1 .7h0m.1-.8h0m0 1.4h0m.1-1.7h0m.1 1.4h0m.5-1.3h0m.1 .6h0m.6-.1h0m.7-1.2h0m.6-.4h0m.1 1.4h0m.1 1.2h0m1.6 .2h0m.1-.2h0m.2-2.4h0m.5 1.1h0m.3-.3h0m.2-.3h0m.3 1.8h0m-50 2.1h0m0 0h0m.4-1.1h0m.3 1.8h0m.6-1.4h0m.5 1.3h0m.1 .4h0m.2-2.1h0m.2 1h0m.3 .1h0m.1 1h0m.3-1.9h0m0 .8h0m.1 .4h0m.7-1.4h0m0 .1h0m.4-.2h0m.5 2h0m.6 .3h0m0-.5h0m0-2.3h0m.8 2.9h0m.2-2.2h0m.2 2h0m.4-1.4h0m.1-1.1h0m0 .7h0m.1 .1h0m.1 1.3h0m.1 0h0m0 .3h0m.4 0h0m.4-.8h0m.5-.6h0m.5 1.3h0m.9 .4h0m.6-2.8h0m.1 1.5h0m.1 1.2h0m0-.6h0m.6 .4h0m.3-.2h0m.2-1.2h0m.1 1.1h0m.4-2.2h0m.1 2.6h0m.4-2.7h0m.1 2h0m0-1.6h0m.2 .3h0m0 2.1h0m.6-.4h0m.7-1.7h0m.3 1.8h0m.3-1.6h0m.4 1.5h0m.6-1.5h0m.6 1h0m.5-1.5h0m.7 2.4h0m.3-1.1h0m.1-1.4h0m.8 1.3h0m0-.9h0m.1 .7h0m1.8 .3h0m.7 .8h0m.1-.2h0m.1-2.2h0m.4 .5h0m.2 2.2h0m.6-1.5h0m.3 0h0m.2 .9h0m.2-1.4h0m1.3 2h0m2.1-2h0m.1-.6h0m.3-.3h0m.4 2.2h0m.4-.7h0m.2 .5h0m.6 .5h0m.2-1.9h0m.2 1.2h0m.7-1.5h0m.1-.2h0m.2 1.9h0m0 .7h0m.1-.2h0m.4 0h0m.1-1.5h0m0 1.7h0m1.2-1.3h0m0-.7h0m.1-.1h0m.1-.1h0m.1 .2h0m.1 2h0m.1-.6h0m0-.4h0m.1 1.2h0m.2-1h0m.2-.1h0m.3-.7h0m.3 1.3h0m0-1.8h0m0-.5h0m.5 2.5h0m0-.8h0m0 .7h0m0-1.1h0m0 1h0m.2-1.7h0m.4 1.7h0m.1-1.9h0m.8 2.4h0m.2-1h0m.6 0h0m1.4-.5h0m.3 .6h0m.1-.1h0m.6 .4h0m.1-2.1h0m.1 1.5h0m.1 .6h0m.9-1.4h0m.9 .9h0m.4 .1h0m.6-.6h0m.9-.2h0m.1 .9h0m.3 .5h0m.1-2.2h0m.2 .7h0m.5 .2h0m0 .8h0m.2-.2h0m1.1-.2h0m.3 1.4h0m.3-1h0m.7-1.7h0m.6 .5h0m.2-.7h0m.2-.1h0m.6 .3h0m.6 1.6h0m.3 .4h0m.1-1.9h0m.3-.4h0m.7 2h0m.2 .7h0m-51.2 2.5h0m1.2-1.3h0m.2-.5h0m.3-.2h0m.7 1.8h0m.7 .6h0m.7-.8h0m.3 0h0m.4 .8h0m.2-.1h0m.3-1.5h0m.9 1.7h0m.7-.5h0m.2-.5h0m.3-.3h0m.4 0h0m.3 1.5h0m.3-2.3h0m.2 2.3h0m.1-1.9h0m.3 1.2h0m.1-1.2h0m0 1.5h0m.1-1.4h0m.3 1.2h0m.1-1.8h0m0 2.2h0m.1 .3h0m.4-1.5h0m0-.6h0m.3 1.8h0m.3-2.3h0m.3 .9h0m.7 .8h0m.5-1.2h0m.1-.8h0m.3 2.8h0m1.4-.7h0m.2 .7h0m.5-1.8h0m.5 1.8h0m.2-2.3h0m.3 .1h0m1 .2h0m.3-.1h0m.2 .2h0m.1 .2h0m.3-.8h0m.1 2.2h0m.2 0h0m0-2.5h0m.6 1.8h0m.1-1h0m.1 1.7h0m.4-1.9h0m0 1h0m.3 .7h0m.3-1.4h0m.1-.8h0m.8 1.9h0m.6-1.1h0m.3-.2h0m.4 1.6h0m.2 .4h0m.1-1.6h0m.3 .7h0m.6 1h0m.2-2.3h0m0 2.1h0m.3 .1h0m.5-.4h0m.2-1.1h0m.4 1.1h0m0-2.2h0m.1 2.6h0m.7-.4h0m0-1.2h0m.2-.5h0m.7 2h0m.5-1.3h0m.1 .2h0m.1 .7h0m1 .6h0m.3-.6h0m.3 .5h0m0 0h0m.1-2.5h0m.5 .8h0m.2-.8h0m.7 .8h0m.2 .9h0m.5-.3h0m.7-1.3h0m.1 2h0m.2-.7h0m1.1-1.2h0m.2-.1h0m.5 2.5h0m.1-2.7h0m.3 .6h0m.1 .4h0m.3 1.5h0m0-2h0m.3-.2h0m.2 2.1h0m.2-.3h0m.1-2.1h0m.2 2.3h0m.3-.1h0m.3 .5h0m0-2.3h0m.1-.1h0m.2 .3h0m.2 1h0m.2-.4h0m.4 1h0m.8-1.2h0m.2-.8h0m.8 2h0m0-2.3h0m1 1.3h0m.7 1.5h0m.8-1.2h0m.1 .3h0m.2-1.6h0m0 1.5h0m.4 .4h0m.6-.1h0m.3-1.4h0m.4 0h0m.1 .4h0m.2 1.4h0m1.1 .1h0m.9-2.1h0m.1 2.3h0m.2-.2h0m.1-2.1h0m.2 1.9h0m.1 .3h0m.2-2.2h0m.4 .7h0m.7 1h0m0-1.8h0m.1 1.1h0m0-.6h0m.1 .4h0m.3-1.3h0m0 2.9h0m.2-2.1h0m.1 .6h0m.2-.2h0m.7-.7h0m0 1.5h0m.5 0h0m.1-2h0m.4 2.2h0m.2-2h0m.6 .5h0m.3 .5h0m.2 .9h0m.4-.2h0m-51.3 3h0m.2-2h0m.2 .6h0m1.1 2.1h0m.5 .2h0m.3-2.4h0m0 1.4h0m.5-1.1h0m.1 .6h0m.5-.8h0m.9 .9h0m.1 .1h0m.2 1.2h0m0-2.1h0m.3 1.8h0m.6-2h0m.6 .7h0m.1 .9h0m.3-2h0m1.1 2h0m.1-.3h0m.1 .9h0m.2-.3h0m.1-.8h0m.6-.3h0m.1 1.2h0m.2-1h0m.6 1.1h0m.6-2.2h0m.9 2.5h0m.3-.3h0m1.3-.8h0m1.3-.3h0m.8-.1h0m.1-.3h0m.5 1.2h0m.5-.9h0m.8 .4h0m.2-1.7h0m.1 2.8h0m.5 0h0m.2-1.6h0m.2 .1h0m.1-1.1h0m1.3 .9h0m.3 1.3h0m.5-2.3h0m.2-.2h0m.5 2.8h0m.1-2.5h0m.8 .4h0m.5 1.1h0m.2 1.1h0m.4-1.2h0m.2-1.4h0m0 1.8h0m0-1h0m.8-.4h0m.1-.4h0m.1 1.8h0m0 .9h0m.6-.5h0m.3-1.9h0m.3 1.6h0m.1-.8h0m.1 .3h0m.3 .8h0m.2-.9h0m.5 0h0m0-1.6h0m1.4 2.2h0m.8-1.9h0m0 .9h0m.9 1.6h0m.2-.2h0m.7-.6h0m.3 1h0m.3-.8h0m.1 0h0m.8-.7h0m.7 .9h0m.4-1.9h0m0-.5h0m.1 1.3h0m0-1.1h0m.1 2.3h0m.6-1.9h0m.3 .3h0m.2 .4h0m.4-.1h0m0-.7h0m.1-.1h0m.2 2.6h0m0-1.3h0m.1-1.4h0m.3 2.3h0m.4-2.3h0m1.2 2.5h0m.1-.2h0m.3 .4h0m.3-.9h0m.1 .6h0m2.1-.6h0m0-1h0m.3-.6h0m.4 .7h0m.5 .9h0m1 .4h0m.2-1.2h0m0 1.6h0m.1-1h0m1.3-.2h0m.1-.2h0m.3-.9h0m.8 1h0m.2 1.3h0m.6-1.4h0m.2 .6h0m.2-.8h0m.7-1.1h0m.6 2h0m.3-1.1h0m.2 1.6h0m.3-2h0m.9 .1h0m.5 .1h0m.1 2h0m.8-2.8h0m.9 1.4h0m2.8 1.2h0m-57 1.1h0m2.5 1.4h0m2-1.4h0m.2 .6h0m.7-1.1h0m.4 2h0m.4-2.2h0m0 1.4h0m.9 0h0m.1-1h0m.3 1.4h0m.4-.9h0m.1 .7h0m.3 .3h0m.1 .7h0m.2 .3h0m.1-1.7h0m0-.1h0m.3 1.7h0m.3-2.2h0m.2 .8h0m.8 .3h0m.6 .5h0m.9-.9h0m.3 .1h0m.2-.9h0m0 .8h0m.5 .2h0m0-.5h0m.1 .9h0m.1-.3h0m1.2 .2h0m.7-1.7h0m.6 2.4h0m.6 .1h0m.5-1.9h0m.7 .5h0m.5-.4h0m.2-.9h0m.2 2.4h0m.2-.9h0m.1-.4h0m.3 1.5h0m.6 .1h0m.3-2.7h0m.4 .5h0m.2 2.4h0m1.3-.2h0m.4-2.5h0m.1 2.1h0m1.4-1.3h0m.1 .2h0m.3 .3h0m0 .6h0m1.4 0h0m.2 .3h0m1.4-.6h0m.1 .3h0m.4 .2h0m.9-.5h0m0 .2h0m.9-1.5h0m0 .1h0m.2-.4h0m.3 .4h0m.2 1.6h0m.4 .1h0m.3-1h0m1.3 .4h0m0-.3h0m.4 .6h0m.4-1.1h0m.1 .8h0m.2-.8h0m.2 2.1h0m.3-2.4h0m.3 .8h0m.4 .3h0m.9 1h0m1.3-1.3h0m.3-1.1h0m0-.1h0m.4 1.9h0m1.1 .4h0m.2-1.8h0m.4-.7h0m.2 1.6h0m.1 1.3h0m.3-.6h0m.6-.3h0m.1-.2h0m.1 .8h0m.1-.7h0m.2-.3h0m.2 .3h0m1.6 .4h0m.1-.9h0m.3 .3h0m.1-.9h0m0-.1h0m.9 1.9h0m.1-.8h0m0 1.1h0m.3-.1h0m.2-2.3h0m.1 2.5h0m.6-2.8h0m.3 2.1h0m.1-.5h0m.3-1.1h0m.3 .5h0m.1 .3h0m.6 .6h0m.3-1.6h0m1 .6h0m.3 1.6h0m.1-1.2h0m.1 0h0m.1 1.1h0m.4-.9h0m.2 .8h0m.1-.5h0m0-.7h0m.1 .9h0m.1 .8h0m.1-3h0m0 1.5h0m1-.5h0m.4 .2h0m.5-.4h0m.3 .6h0m.7-.8h0m.1 1.4h0m.7 .3h0m.2-.7h0m.6-1h0m.5-.3h0m-50.6 5.2h0m2.1-1.1h0m.6-1.2h0m.9 .2h0m.4 2.2h0m.1-.9h0m.1-1.3h0m.4 1.8h0m0-.5h0m.2 .5h0m.1-.6h0m.1-1.5h0m.1 .3h0m.5-.2h0m.2 2.3h0m.2-1.9h0m0 1.5h0m.7 .4h0m.2-1.7h0m.2-.5h0m0 1.9h0m0-.8h0m.2 .7h0m.1-.7h0m.3 1.3h0m.3-2.3h0m.4 2.3h0m.7-2.7h0m.2 2h0m.4-.3h0m.4-.3h0m.1 1.6h0m.3-2.4h0m.1 1.2h0m1 .5h0m0-1.1h0m.5 0h0m.3 0h0m.1-1h0m0 1.3h0m.4-.3h0m.5 1.4h0m.5 .3h0m.2-2.2h0m.1 .1h0m.5 .8h0m.1-.9h0m.2-.7h0m.3 2.1h0m0 .8h0m.9-2.3h0m.8 2h0m.6-2.2h0m.4 0h0m0 2.4h0m.6-1.6h0m0-.5h0m.1 .6h0m.4-1h0m.3 1.5h0m0-.9h0m.6 1.8h0m.1-1.2h0m.7 .1h0m.2-.4h0m.4 .9h0m.8 .7h0m.9-.7h0m0 .3h0m.2-.1h0m.5-.2h0m.1-.9h0m.7 1.1h0m.3-1.4h0m.2 .1h0m.1 .1h0m.4 .7h0m.1-1h0m.2 1.1h0m.1-1.9h0m.3 2.1h0m.1 .4h0m.6-1.7h0m.5 .5h0m.4-1.1h0m.3 1.5h0m1.2 .2h0m.6-1.2h0m.7 .8h0m.2-1.1h0m.3 .8h0m0 .9h0m.4-.5h0m.5-.4h0m.8 .5h0m0-.1h0m.2-1.4h0m.4 1.3h0m.5-1.2h0m.1 .3h0m.3 1.6h0m.1-1.7h0m.2-.3h0m.1 2.5h0m0-1.9h0m.2 1.8h0m1.2 0h0m0-1.3h0m.1 .7h0m.2-1.5h0m1 1.7h0m0 .4h0m.2-2h0m.1 .5h0m.2 .1h0m0 1.4h0m.6-.6h0m.8-.5h0m.1 .7h0m.1-1.5h0m.2 .9h0m.2-1.1h0m.7 .9h0m.3-.7h0m0 .1h0m.6-.3h0m.4-.1h0m.3 2.5h0m.3-1.1h0m.3 .5h0m.2-.9h0m.3-.1h0m.2 .6h0m.5 .3h0m.7 .8h0m.2-.1h0m.6-.7h0m.6 .5h0m.2-1.3h0m.2 .3h0m.4 .5h0m.3-1.7h0m0 1.4h0m.2-1.8h0m1.3 2.8h0m0-1.6h0m-48.1 1.8h0m2.8 .9h0m2-.1h0m.1 1.4h0m.2-1.2h0m0 .9h0m.6 .5h0m.7-1.3h0m.5-.8h0m.2 .9h0m.1 .5h0m.1-1.2h0m.7 .7h0m0 .5h0m.1 .2h0m0-1.7h0m.9 1.4h0m.3-.9h0m.1 1.2h0m.1 .5h0m.6 .4h0m.5-.2h0m0-2.7h0m.1 2.3h0m.2-.4h0m.2 .8h0m1.1-.6h0m.1-1.2h0m.1 1.5h0m.5-.3h0m.2-1.5h0m.7 1.9h0m0-.9h0m.1 .6h0m.1 .4h0m.4-2.4h0m.3 1.5h0m.9 .2h0m.2 .4h0m.2-1.9h0m.1 .9h0m.4-.5h0m.6 1.1h0m.2-1h0m1.9 .5h0m.2 1.5h0m0-1.6h0m.3-.9h0m1.3 1.7h0m.7-1.3h0m.5 .6h0m.2 .4h0m.1 .1h0m.4-1.7h0m.2 1.9h0m.6-.8h0m0-.2h0m.4 1.3h0m.3-2.2h0m.9 .1h0m.5 0h0m.6-.2h0m1 1.2h0m.6 .6h0m0-.7h0m.4-.7h0m.3 .4h0m.4-.9h0m.3 1.9h0m.3 1h0m1.3-.4h0m.8-1.4h0m.5-.3h0m.1-.4h0m.2 1.6h0m.1-1.4h0m.7 1.9h0m.4-2.5h0m.2 1h0m.2 1h0m.3-.6h0m.2 .7h0m.4 .7h0m0-1.1h0m.9 .3h0m.3 .9h0m.6-2.4h0m.3 .8h0m.2 .6h0m.3-1.6h0m.2 1.6h0m.1-.8h0m.1 1.5h0m.3-1.1h0m.6-1.3h0m.2 1.3h0m.6 .1h0m.1-.5h0m.4 .7h0m.2-.8h0m.3 .9h0m.7-.7h0m.2 1.3h0m.2-.7h0m.1-1.4h0m.2 1.7h0m.3 .3h0m.8-.5h0m.2-1.7h0m.2 1.7h0m.2-.1h0m.3-1.7h0m.3 1.7h0m.2-.6h0m0 1.4h0m.3 .4h0m.1-.9h0m0-1.6h0m.5 0h0m.2 0h0m.6 .1h0m.3 .4h0m0 1h0m.6-.4h0m-41.3 2.8h0m1.9-1.2h0m0 .4h0m.2 0h0m.5 2.2h0m.1-2.1h0m0 1.8h0m.1-2.4h0m.2 .1h0m.3 1.5h0m.2-1.4h0m0-.1h0m.6 2.1h0m1.4 .1h0m0-1.1h0m.6-.6h0m0 .5h0m.3-.1h0m.4 1h0m.2 .6h0m0-1.3h0m.4 .1h0m.1 .4h0m0-.9h0m0 1.5h0m.1-.5h0m.1-.1h0m0-1.7h0m1.2 2.7h0m.1-.9h0m0-1.4h0m.6-.5h0m.4 2.7h0m.2-.1h0m.1-1.3h0m.2-.4h0m0-.3h0m.1 .4h0m.8 1.1h0m.3 .6h0m.2-.8h0m.6-1.1h0m0 .5h0m.1-1.2h0m.3 2.8h0m.1-2.5h0m.3 1.8h0m.1-.1h0m.4-2.1h0m.7 .5h0m.9 1.7h0m.2-1.9h0m0 1.6h0m.1 .7h0m.3-.4h0m.1-.6h0m.1 1h0m.5-2.6h0m.4 1.9h0m.3-.9h0m0-.7h0m1.5 1.1h0m.2 1.2h0m.2-1.7h0m.1-.8h0m.1 .3h0m.1 1.4h0m.1-.1h0m.1-.3h0m.1-.2h0m.2 1.5h0m.5-2.4h0m0 .9h0m.1-.9h0m1.8 1.6h0m0 .1h0m1.6-.5h0m0-1.1h0m.5 .7h0m.4 .3h0m.7 .9h0m.3-1.4h0m.8 .9h0m.2 1h0m1.3-1.8h0m0 1.6h0m.3-.1h0m.1-1.9h0m.3 .4h0m.9 1.8h0m.3-.4h0m.1-1.4h0m.3-.2h0m.1 1.7h0m.4-1.7h0m.4 .1h0m.1-.1h0m.1-.1h0m0 0h0m.2-.1h0m2.3-.5h0m1.2 1.4h0m.1-.3h0m.6 1.7h0m.1-2.9h0m.1 1.9h0m.1-.7h0m.3 .2h0m.6-.6h0m.3-.9h0m1.2 2.1h0m1.1-1.5h0m2.2 .8h0m-41.5 3.4h0m.7-1.1h0m.7 2.3h0m.2-2.4h0m.2-.1h0m.4 1.8h0m0 0h0m.7 .2h0m.3-.9h0m.1-.2h0m.2-.6h0m.3 2.1h0m1.3-2.9h0m.4 2.1h0m0-1.3h0m.1-.8h0m.6 .4h0m.2 1.2h0m0-1.6h0m2 1.2h0m0 .8h0m.1-.7h0m.1 .1h0m0-.4h0m0 1.7h0m.2-.2h0m.1-2.2h0m.8 .7h0m.2 .7h0m.9-1.1h0m0-.5h0m.5 1.4h0m0-.3h0m.6-.8h0m.3 .2h0m.5 .4h0m1.2 .1h0m.2-.1h0m.1 1.2h0m.6-.5h0m.6-1.5h0m.8 .5h0m0 .8h0m.2 1.1h0m.4 .3h0m.2 0h0m0-.4h0m.3-2.4h0m.9 .3h0m.4 2.3h0m.1-2.3h0m.4 1.2h0m.3-.4h0m.2 1h0m.1-.6h0m.4-.3h0m.3-1.2h0m.6 .8h0m.3 1.3h0m.3-1.5h0m0 1.9h0m.6-2.1h0m1.3-.2h0m.5 1h0m0 1h0m.3 .1h0m0-.9h0m.2-1.1h0m.5 1.8h0m.2 .6h0m0 0h0m.4-2.7h0m.6 1h0m1.1 .1h0m0 1h0m.4-1.6h0m.1 .6h0m.2 1.2h0m.2-2.1h0m0 .4h0m.6 1.1h0m.3 1.2h0m.3 0h0m.3-2.2h0m.3 .5h0m.1 1.3h0m.5-.1h0m.5-1.2h0m.1 1h0m.1-1.8h0m.3 1.1h0m.6-.1h0m.2 .6h0m0-.6h0m.4 0h0m.3 .2h0m.5 .3h0m.1 .9h0m.4-1.4h0m.9 .7h0m.3-2h0m1.4 .4h0m.5-.1h0m-35.2 3.4h0m.8-.9h0m.8 1h0m1.4 .8h0m.1-.4h0m1.3-.9h0m.3 2.4h0m.1-1.8h0m.1-.4h0m.2 .8h0m0-1.3h0m.6 1.5h0m.4-1.2h0m.2 .6h0m0 .6h0m.8-1.4h0m.1 1.5h0m.2 .9h0m.1-2.2h0m0 2.5h0m.1-2.2h0m0 .5h0m.5-.4h0m.3-.4h0m.6 0h0m.7 .4h0m.1-.4h0m0 1.3h0m.3 .7h0m0-.5h0m.2-.6h0m0-.3h0m.5-.5h0m.2 2.2h0m.1-2h0m.4 .9h0m.7-.3h0m1.6-1h0m.1 1.6h0m.3-1.3h0m.6 .1h0m0 .5h0m.1 1.7h0m.2-1.9h0m0 1.5h0m.8 .1h0m.3-1.6h0m.7 1.7h0m.4-1.8h0m0 1.6h0m.8-.8h0m.4 .1h0m.5-1.7h0m0 .6h0m.5 1.2h0m.2 .5h0m0-1.1h0m.1-.7h0m.3 1.4h0m.3 .6h0m.1-2.5h0m.8 1h0m.1-.4h0m.6 1.6h0m0 .3h0m.9-.2h0m.4-2.2h0m.3 1.3h0m.3-.6h0m.2 .1h0m0 1.2h0m0-1.2h0m1.3-.5h0m1.2 1.6h0m0-1h0m1-.5h0m.1 2.1h0m0-1h0m.7-1.6h0m0 1.9h0m.7-1.2h0m.4 .7h0m1.2-.2h0m.3 .7h0m.8-1.7h0m0 2.3h0m.2-2.3h0m3.6-.1h0m.6 1.5h0m-33.8 1.2h0m.8 1.3h0m1.7-.6h0m.1 1h0m.1 1h0m.2-1h0m.5 .4h0m.5 .8h0m.5-.3h0m.4-1.7h0m.3 .2h0m0 .6h0m.3 1.2h0m.1-1.6h0m.2 1.5h0m.1-.7h0m.2 .6h0m.5-1.8h0m.2 1.7h0m.4-1.8h0m0 1.9h0m.2-2.6h0m.1 .8h0m1.1 .3h0m.5 1.3h0m.4-.5h0m.6-.3h0m.5 1.1h0m.6-2h0m.4 1h0m.1 1h0m.2-1.7h0m.4-.2h0m0 .6h0m.1-1.2h0m.2 1.2h0m1.7-1.3h0m.6 .8h0m.5 2h0m.1-2.9h0m.1 2h0m.1-.4h0m.9-.4h0m.5 .8h0m.1 .7h0m.1-.8h0m.2-2h0m.6 .8h0m.2 1.3h0m.2-1.9h0m.4 2.3h0m0-2.3h0m.5 .8h0m.1-.1h0m.3-.2h0m0-.7h0m0 1.4h0m.9-1.4h0m.9 1.2h0m.2 .3h0m.1-1h0m.1 1.6h0m1.4-1.7h0m.3-.2h0m.3 2.5h0m.5-.2h0m.1-1.9h0m.9 1.2h0m.1 .6h0m.6-1.5h0m2.6-.4h0m-25.5 2.7h0m2-.1h0m.4-.1h0m.4 .5h0m.2 1.6h0m.2-.4h0m.1-1.7h0m.1 .4h0m.3 .9h0m.9 .8h0m.4 .2h0m.4-2.1h0m.5 2.5h0m0 0h0m.8-1.4h0m.2 .4h0m.3-1h0m0 1.6h0m.1-2h0m1 1.2h0m.4-1.4h0m.2 1.6h0m.1 1.3h0m.1-2.4h0m1.5 .9h0m.1-.8h0m0 .5h0m.3-.6h0m.5-.1h0m.4 1.9h0m.5-1.2h0m.5-.8h0m0 1.5h0m.4 .8h0m.1-2.2h0m.6 1.9h0m.5 .6h0m.1-1.6h0m.1 1.6h0m.8-2.5h0m.9 1h0m.2 1.4h0m2.9-1.1h0m1.4-1h0m-23.5 2.3h0m5 1.3h0m.6-.3h0m1.4-1h0m.5 0h0m.3 .7h0m.2 .6h0m.2-.8h0m.9 .8h0m.6-1.1h0m.1 .1h0m.5 1h0m.3 .8h0m.5-.8h0m.3-1h0m1.4-.2h0m.3 1.1h0m.5 .5h0m.1-.5h0m.3-.3h0m.3-1h0m1 2.8h0m.9-2.6h0m0 1.4h0m-3.5 2.7h0" stroke="#A855B5" stroke-width="1.24" stroke-linecap="round" fill="none"/>
<path d="M134.9 633.7h0m0 3.2h0m.6 .3h0m.1-.3h0m-4.9 .7h0m3.9 .8h0m.1-.5h0m.5-.3h0m.1 .2h0m.1 .9h0m.2 1.2h0m.3-.2h0m.6-1.5h0m0 1h0m.4 1h0m.4-.8h0m0-1.1h0m1.1 1.3h0m.2-.7h0m.3 .9h0m.1 .4h0m.2 .1h0m1.3-2.7h0m-4.2 5.6h0m.4-.6h0m.1-2h0m.1 2.9h0m.1-1h0m.6 .5h0m.1-.1h0m0-.8h0m.1-.1h0m.1 1h0m.1-.3h0m.6-2.1h0m.2 2h0m.1 .7h0m.2-.7h0m.1-.2h0m1-1.3h0m-4.6 3.6h0m.5 1h0m1.3-.1h0m.1-1.4h0m.4 1.9h0m0-.6h0m.7 .2h0m.3-1.5h0m.1-.2h0m.1 1.5h0m.3 0h0m.8 .9h0m.2-.9h0m.2 .5h0m.1 .2h0m.3-1.3h0m0 .2h0m.3 .7h0m-39.6 3.5h0m32.6 0h0m.6 .2h0m1.1-.5h0m1.4-2.4h0m.7 1.3h0m.2 1.5h0m.1-2.4h0m.5 1.4h0m.5-1.2h0m.4 1.2h0m.1-.5h0m.5 .4h0m.2-1.4h0m0 .9h0m-43.3 3.9h0m.7-.8h0m.5 0h0m0 1.1h0m1-1h0m0 .5h0m1.3-.4h0m.8-1.2h0m.5 1.4h0m.3-1.7h0m30.9 .8h0m1.6 1.2h0m0 .3h0m.1 0h0m0-.1h0m.2-1.7h0m.1 1.4h0m0-.8h0m.6-.2h0m.1 1.9h0m.1-1.3h0m.6-1.6h0m.1 2.8h0m.1-1.6h0m0-1.1h0m.1 1.9h0m.2-1h0m0 1.9h0m.3-2.6h0m.1 2.4h0m.2 .1h0m0-.3h0m.1-2.2h0m.3 .6h0m.5-.5h0m.2 1.3h0m.1-.5h0m.1-1.1h0m1.1 0h0m.4 1.4h0m.7-.7h0m-43.4 4h0m.3-.3h0m0 1.2h0m.1-2.7h0m.1 2.1h0m.1-1.2h0m.1-.8h0m.3 2.6h0m.5-.3h0m0-2h0m.3 1.4h0m.3-1.6h0m.5 .8h0m.4 1.6h0m.1-2h0m.1 1.9h0m0-.6h0m.3 .3h0m0-2.1h0m.2 2.3h0m.6 .6h0m25.8-.9h0m.9-.6h0m.4 1.4h0m.3-.7h0m1.9 .3h0m.3-1.8h0m0 .5h0m.4 .9h0m0-1.8h0m0 0h0m.6 2h0m.1-1.8h0m.3 .7h0m1 1.7h0m0-.5h0m.1-1.6h0m.1 .8h0m0-.5h0m.1-.4h0m.1 .9h0m.4-.4h0m1.4-.7h0m.4 .1h0m.1 .4h0m.7-.2h0m.1-.2h0m1.3 .3h0m-39.9 4.2h0m.1 .3h0m.2-2h0m.7 .3h0m.9 2.3h0m.5-1.9h0m.2-.5h0m.6-.5h0m.4 2.7h0m.4-1.2h0m.1-.7h0m0 1.7h0m.1 .2h0m.3-.3h0m.1-.3h0m.5-.7h0m.5-.6h0m0 1.1h0m.2 .7h0m.5 .3h0m0-2.1h0m1.7 1.4h0m.9-.1h0m0 .5h0m11.2 .1h0m3.7 0h0m.1 .2h0m.3-.3h0m.1-.5h0m.4 .1h0m.3 0h0m.3-1.5h0m1.7 2.2h0m.3-2.2h0m.1 2h0m.2-2.4h0m.6 .7h0m.1 1.7h0m.3-1.2h0m.5 0h0m.1-.1h0m.2-.8h0m.1-.4h0m.1 .6h0m0-.1h0m.2 1.3h0m.1-1.1h0m.7 .5h0m.3 .3h0m.2 1h0m.4-2.1h0m.1 2h0m.5-.5h0m.3-1h0m0 .1h0m.1-.6h0m.1 .9h0m1.1-1.4h0m1.5 1.9h0m.9-2h0m.2 .7h0m-35.5 2.8h0m1.6 1.1h0m.3 .9h0m.3-1.6h0m.5-.1h0m.1 1.3h0m.2-.2h0m0-.6h0m.1 .3h0m1.7-.4h0m.6-.2h0m0 .5h0m0 .6h0m.6 .2h0m.1-1.5h0m.1 .7h0m.1 1.2h0m.6-2h0m.3 .9h0m.1 1.2h0m.4-2.1h0m.3 .9h0m.3 .2h0m.2-.4h0m.2 1.4h0m.7-1.1h0m.2-.6h0m4 1.3h0m3.4-1h0m.4 1.1h0m.3-1.4h0m1.1 1.2h0m.7 .4h0m.4-1.5h0m.9 .9h0m.3-.9h0m.7 .9h0m.2 .4h0m0-1.9h0m.8-.5h0m.1 1.7h0m.9-1.3h0m.5 1.1h0m.5 .8h0m.6-1.1h0m.5-.5h0m0 .3h0m.1 .3h0m.2 .8h0m.1-.9h0m.5-1.3h0m.5 1.5h0m.1-1h0m.2-.3h0m.1 .5h0m.6-.3h0m0-.3h0m-31.4 3.7h0m4.8 .5h0m.9 .1h0m.3 1.4h0m.6-1.4h0m.3-1.4h0m.2 1.9h0m.2-.7h0m.4 .7h0m.3-.6h0m0 .8h0m0-1.1h0m.2 .1h0m.7 1.7h0m.1-.7h0m.2-2h0m.1 2.3h0m0-.6h0m.6-1.1h0m.2 1.5h0m.1-1.2h0m.2 1h0m.2-.5h0m0-.6h0m.2 .5h0m.4 .2h0m.1-.2h0m.2 .8h0m.5-.8h0m.4 .7h0m.5-.3h0m.1 1h0m1.1-.7h0m0 .8h0m.6-1.7h0m.3-.3h0m.2-.7h0m.2 2.6h0m.3-.5h0m.2-.6h0m0-.3h0m.1 1.3h0m.2-1.7h0m.7-.5h0m.8 .7h0m.3-.1h0m.1-.1h0m0 1.9h0m1.5-.7h0m1.4-2.3h0m.1 1.1h0m0 .5h0m.2-.3h0m0 .2h0m.1-.3h0m.1 1.1h0m0-.5h0m.3 .8h0m.3-1.9h0m.4-.6h0m.2 .8h0m.7 1.3h0m.2-1.1h0m.5 .7h0m.6-.7h0m.1-1.1h0m.3 1.1h0m3.5-.9h0m-18.7 3.5h0m.3 .7h0m.8 .3h0m.5-1.3h0m.7 1h0m.2-1.1h0m0 0h0m.1 0h0m.7 .5h0m1.7 1.6h0m1-.8h0m.6-.3h0m0 .9h0m.8 .3h0m.5-2.5h0m.4 2.5h0m.5 0h0m.4-.5h0m0-1.5h0m.5-.3h0m.1 1.2h0m.6-.7h0m.1 .4h0m1.9-.2h0m.6-.3h0m2.4-.5h0m2.6 2h0m-11.4 1.4h0m.3 1.8h0m.7-1.3h0m2.3-.7h0" stroke="#54B8EA" stroke-width="1.24" stroke-linecap="round" fill="none"/>
<text x="53.4" y="580.8" font-size="8.1" fill="#1a1a1a" transform="translate(53.4 580.8) scale(1 1.08) translate(-53.4 -580.8)" stroke="#1a1a1a" stroke-width="0.1">Dendritic Cells 2</text>
<text x="26.3" y="617.3" font-size="8.1" text-anchor="middle" fill="#1a1a1a" transform="translate(26.3 617.3) scale(1 1.08) translate(-26.3 -617.3)" stroke="#1a1a1a" stroke-width="0.1">Dendritic</text>
<text x="27.3" y="627.3" font-size="8.1" text-anchor="middle" fill="#1a1a1a" transform="translate(27.3 627.3) scale(1 1.08) translate(-27.3 -627.3)" stroke="#1a1a1a" stroke-width="0.1">Cells 1</text>
<text x="92.3" y="615.0" font-size="8.1" fill="#1a1a1a" transform="translate(92.3 615.0) scale(1 1.08) translate(-92.3 -615.0)" stroke="#1a1a1a" stroke-width="0.1">TREM2</text>
<text x="92.3" y="624.2" font-size="8.1" fill="#1a1a1a" transform="translate(92.3 624.2) scale(1 1.08) translate(-92.3 -624.2)" stroke="#1a1a1a" stroke-width="0.1">Myeloid</text>
<text x="90.6" y="677.0" font-size="8.1" fill="#1a1a1a" transform="translate(90.6 677.0) scale(1 1.08) translate(-90.6 -677.0)" stroke="#1a1a1a" stroke-width="0.1">Langerhans</text>
<text x="112.9" y="686.3" font-size="8.1" text-anchor="middle" fill="#1a1a1a" transform="translate(112.9 686.3) scale(1 1.08) translate(-112.9 -686.3)" stroke="#1a1a1a" stroke-width="0.1">Cells</text>
<text x="64.8" y="694.5" font-size="8.1" fill="#1a1a1a" transform="translate(64.8 694.5) scale(1 1.08) translate(-64.8 -694.5)" stroke="#1a1a1a" stroke-width="0.1">TREM1</text>
<text x="64.8" y="703.9" font-size="8.1" fill="#1a1a1a" transform="translate(64.8 703.9) scale(1 1.08) translate(-64.8 -703.9)" stroke="#1a1a1a" stroke-width="0.1">Myeloid</text>
<path d="M12.3 705.8V671.2M12.3 705.8H46.0" stroke="#222" stroke-width="0.6" fill="none"/>
<path d="M10.600000000000001 672.2L12.3 668.2L14.0 672.2Z M45.0 704.0999999999999L49.0 705.8L45.0 707.5Z" fill="#111"/>
<text x="13.0" y="716.2" font-size="8.2" transform="translate(13.0 716.2) scale(1 1.08) translate(-13.0 -716.2)" stroke="#222" stroke-width="0.1">UMAP 1</text>
<text x="8.3" y="690.0" font-size="8.2" text-anchor="middle" transform="rotate(-90 8.3 690.0) translate(8.3 690.0) scale(1 1.08) translate(-8.3 -690.0)" stroke="#222" stroke-width="0.1">UMAP 2</text>
<text x="149.0" y="595.2" font-size="12.5" font-weight="bold" fill="#111" transform="translate(149.0 595.2) scale(1 1.08) translate(-149.0 -595.2)">h</text>
<path d="M191.6 602.2V673.7H300.5" stroke="#222" stroke-width="0.8" fill="none"/>
<rect x="191.90" y="607.30" width="30.20" height="11.00" fill="#A855A8"/>
<rect x="222.10" y="607.30" width="26.20" height="11.00" fill="#8A5A35"/>
<rect x="248.30" y="607.30" width="28.90" height="11.00" fill="#4A9A50"/>
<rect x="277.20" y="607.30" width="2.40" height="11.00" fill="#E8602A"/>
<rect x="279.60" y="607.30" width="20.90" height="11.00" fill="#55B8EA"/>
<line x1="188.50" y1="612.80" x2="191.60" y2="612.80" stroke="#222" stroke-width="0.6"/>
<text x="155.9" y="615.3" font-size="6.95" transform="translate(155.9 615.3) scale(1 1.08) translate(-155.9 -615.3)" stroke="#222" stroke-width="0.1">HuBCC3</text>
<rect x="191.90" y="624.00" width="27.00" height="11.00" fill="#A855A8"/>
<rect x="218.90" y="624.00" width="38.30" height="11.00" fill="#8A5A35"/>
<rect x="257.20" y="624.00" width="24.30" height="11.00" fill="#4A9A50"/>
<rect x="281.50" y="624.00" width="1.90" height="11.00" fill="#E8602A"/>
<rect x="283.40" y="624.00" width="17.10" height="11.00" fill="#55B8EA"/>
<line x1="188.50" y1="629.50" x2="191.60" y2="629.50" stroke="#222" stroke-width="0.6"/>
<text x="155.9" y="632.0" font-size="6.95" transform="translate(155.9 632.0) scale(1 1.08) translate(-155.9 -632.0)" stroke="#222" stroke-width="0.1">HuBCC2</text>
<rect x="191.90" y="640.90" width="46.00" height="11.00" fill="#A855A8"/>
<rect x="237.90" y="640.90" width="15.20" height="11.00" fill="#8A5A35"/>
<rect x="253.10" y="640.90" width="37.50" height="11.00" fill="#4A9A50"/>
<rect x="290.60" y="640.90" width="3.80" height="11.00" fill="#E8602A"/>
<rect x="294.40" y="640.90" width="6.10" height="11.00" fill="#55B8EA"/>
<line x1="188.50" y1="646.40" x2="191.60" y2="646.40" stroke="#222" stroke-width="0.6"/>
<text x="155.9" y="648.9" font-size="6.95" transform="translate(155.9 648.9) scale(1 1.08) translate(-155.9 -648.9)" stroke="#222" stroke-width="0.1">HuBCC1*</text>
<rect x="191.90" y="657.50" width="67.80" height="11.00" fill="#A855A8"/>
<rect x="259.70" y="657.50" width="13.90" height="11.00" fill="#8A5A35"/>
<rect x="273.60" y="657.50" width="19.30" height="11.00" fill="#4A9A50"/>
<rect x="292.90" y="657.50" width="1.90" height="11.00" fill="#E8602A"/>
<rect x="294.80" y="657.50" width="5.70" height="11.00" fill="#55B8EA"/>
<line x1="188.50" y1="663.00" x2="191.60" y2="663.00" stroke="#222" stroke-width="0.6"/>
<text x="155.9" y="665.5" font-size="6.95" transform="translate(155.9 665.5) scale(1 1.08) translate(-155.9 -665.5)" stroke="#222" stroke-width="0.1">HuBCC6*</text>
<line x1="191.60" y1="673.70" x2="191.60" y2="676.00" stroke="#222" stroke-width="0.6"/>
<text x="191.6" y="684.6" font-size="6.9" text-anchor="middle" transform="translate(191.6 684.6) scale(1 1.08) translate(-191.6 -684.6)" stroke="#222" stroke-width="0.1">0</text>
<line x1="213.38" y1="673.70" x2="213.38" y2="676.00" stroke="#222" stroke-width="0.6"/>
<text x="213.4" y="684.6" font-size="6.9" text-anchor="middle" transform="translate(213.4 684.6) scale(1 1.08) translate(-213.4 -684.6)" stroke="#222" stroke-width="0.1">20</text>
<line x1="235.16" y1="673.70" x2="235.16" y2="676.00" stroke="#222" stroke-width="0.6"/>
<text x="235.2" y="684.6" font-size="6.9" text-anchor="middle" transform="translate(235.2 684.6) scale(1 1.08) translate(-235.2 -684.6)" stroke="#222" stroke-width="0.1">40</text>
<line x1="256.94" y1="673.70" x2="256.94" y2="676.00" stroke="#222" stroke-width="0.6"/>
<text x="256.9" y="684.6" font-size="6.9" text-anchor="middle" transform="translate(256.9 684.6) scale(1 1.08) translate(-256.9 -684.6)" stroke="#222" stroke-width="0.1">60</text>
<line x1="278.72" y1="673.70" x2="278.72" y2="676.00" stroke="#222" stroke-width="0.6"/>
<text x="278.7" y="684.6" font-size="6.9" text-anchor="middle" transform="translate(278.7 684.6) scale(1 1.08) translate(-278.7 -684.6)" stroke="#222" stroke-width="0.1">80</text>
<line x1="300.50" y1="673.70" x2="300.50" y2="676.00" stroke="#222" stroke-width="0.6"/>
<text x="300.5" y="684.6" font-size="6.9" text-anchor="middle" transform="translate(300.5 684.6) scale(1 1.08) translate(-300.5 -684.6)" stroke="#222" stroke-width="0.1">100</text>
<text x="191.4" y="697.3" font-size="7.8" transform="translate(191.4 697.3) scale(1 1.08) translate(-191.4 -697.3)" stroke="#222" stroke-width="0.1">Percentage distribution of</text>
<text x="191.0" y="705.6" font-size="7.8" transform="translate(191.0 705.6) scale(1 1.08) translate(-191.0 -705.6)" stroke="#222" stroke-width="0.1">myeloid cell populations (%)</text>
<path d="M56.6 753.9h0m-1.3 2.8h0m1.7-1.9h0m.5 1.2h0m-2.1 2.3h0m1.1 .9h0m-2.3 3.5h0m-.1 1.3h0m.8 .6h0m.9 .4h0m-2.1 3.7h0m0-1.6h0m1-.4h0m.1 1.3h0m.4-.4h0m.2 0h0m-1.6 2h0m1 2.4h0m-2.1 5.4h0m.5-.8h0m.3-.7h0m.2 1.1h0m1.6 .3h0m1.1-.3h0m2.4 1.3h0m-6.8 1.1h0m.2 .2h0m1-.4h0m.8 1.1h0m1.1-1.1h0m1.9 .3h0m.4 0h0m.4 1.7h0m.8-2.6h0m4.6 2.8h0m-11.9 1.5h0m1 .9h0m0-1.7h0m.4 1.5h0m1-.9h0m.2-.9h0m1.5 .6h0m.6-.2h0m.2 1.9h0m0-2.4h0m.4 1.1h0m.1 .1h0m.4-.8h0m3 1.3h0m2-1h0m1.2 .7h0m1 1.2h0m.9-1.7h0m.2 .6h0m.7 .7h0m.4-.3h0m.2 .1h0m-14.3 1.6h0m.4 1.3h0m.8-1.7h0m1.3 1.8h0m2-2h0m.4 1.5h0m1.5-.9h0m.1 .6h0m1.6 1h0m2.6-.9h0m2.5-.8h0m2.1 2.3h0m.4-1.9h0m3.4 1.4h0m-18 1.1h0m.1 2.2h0m.7-1.1h0m.7-1.4h0m.1 1h0m.6-1.2h0m.2 .7h0m.6 1.8h0m1.5-1.7h0m.1 .4h0m1.4 0h0m2.3 .8h0m1.5-1.3h0m1.8 .6h0m1.1 1.1h0m.8-2.2h0m.4 2.2h0m.6-.2h0m1.3-1.6h0m1.2 .9h0m1.4-.1h0m.3-.8h0m12 1.3h0m-34.5 1.6h0m1.8 1.3h0m3.5-.2h0m2.2 .7h0m.3-1.2h0m.8-.5h0m1.5 1.3h0m4.8-.7h0m1.4 .2h0m2 .9h0m4.1-1h0m0 1h0m.5-1.7h0m.9-.6h0m.3 .5h0m.3-.6h0m2.1 1h0m2.2-.8h0m3.5 .6h0m1.9 .1h0m1.8 1.3h0m-35.7 1.9h0m2.8-.7h0m.2 1.1h0m.5 .6h0m1.8-1.8h0m.4 2.5h0m.3-.7h0m.4 .5h0m.1 .4h0m.5-1.4h0m2.7-.1h0m.3-.1h0m.1-1.1h0m.2-.1h0m.8 2.4h0m.3-1.6h0m.1 1.2h0m.5-1.9h0m1.4 .8h0m1.2-.2h0m.8 .4h0m.1-.2h0m.2 1.7h0m.4-1h0m.2 .8h0m.2-.5h0m.6 .8h0m.4-1.4h0m.4-.5h0m1.9 .7h0m.9 .1h0m1.3-1.2h0m.5 1.3h0m.9-.1h0m.7-.6h0m.7-1h0m1.5 .2h0m.9 1.4h0m.7 .2h0m.5-.6h0m.1-.6h0m5.7 .7h0m.5 .3h0m.9-1.4h0m1.6 .6h0m.8 .1h0m.8-.2h0m1.4 1.3h0m-40.6 2.1h0m3.2 0h0m.1 .4h0m2.6-.9h0m1.8 1.3h0m.3 .9h0m.6-2.7h0m.9 2.3h0m2.2-2.3h0m.5 1.4h0m.8 .8h0m1.3-1.3h0m1.1-1h0m.4 .6h0m.9-.4h0m1-.1h0m1.1 2.7h0m.8-.8h0m1-.7h0m1.3 .1h0m.7-1.6h0m.4 1.9h0m1.8 .9h0m.7-2.3h0m0 .6h0m1 0h0m.7 1h0m1-.2h0m1.3-.5h0m5.3 1.2h0m.5 .2h0m1.3-.4h0m-34.9 2h0m1.3-.1h0m1.7 .7h0m1.3-.8h0m.2-.5h0m.1 1.5h0m.4 .1h0m1.5-.7h0m1.8-1.5h0m.2 1.4h0m.7 .5h0m1.2 .4h0m2.1-1.8h0m.3 1.6h0m.2 .7h0m.1-1.6h0m2.7-.5h0m1.2-.1h0m.5 .5h0m2.3 .3h0m1.8 1.1h0m.1 0h0m.2-1.3h0m.2 .5h0m1.1-.3h0m1.2 1.3h0m.9-2.2h0m.2-.5h0m0 .8h0m.5-.4h0m3.2 .7h0m1 .9h0m.2 .7h0m.8-2.2h0m.5 .2h0m.7 .4h0m.3 1.2h0m.3-.2h0m0-.9h0m.1 1.4h0m1.5-.8h0m5.2 0h0m1.6-.1h0m-43.3 3.8h0m.2 0h0m.4-1.4h0m.1 .8h0m1.2-1.3h0m.2 0h0m2.1 2.3h0m.1-1.8h0m2 1.3h0m0 0h0m1.8-1.7h0m.1 1.8h0m1.3-1.9h0m3.4 2.1h0m1.1-2.3h0m1 .8h0m3.2 .6h0m.1 .6h0m.6 .4h0m.3-1h0m.7 .4h0m1-1.5h0m2.7-.5h0m2.9 1.9h0m.5-2h0m.8 1.1h0m.5 .8h0m.2-.5h0m.1-.5h0m2.6 1.3h0m.3-.1h0m.3-.2h0m1.2 .8h0m0-2h0m2.2 .3h0m.5 1.5h0m2.3-1.6h0m5.1 1.7h0m.7 .1h0m0-2.6h0m.2 .2h0m.8 1.3h0m-44.9 2h0m1.2-.1h0m2-.2h0m.2 .6h0m.1 1h0m.8 .5h0m.2 .2h0m.5-.2h0m.7-2.6h0m.2 1.9h0m.1 .7h0m.9-2h0m1.9 .9h0m.4-.9h0m1 2.2h0m.3-.9h0m1.7 .7h0m.4-.6h0m.7-.3h0m4.1-1.3h0m1 .3h0m.1 1.8h0m.9-1.4h0m1.5 .4h0m.2-.5h0m2.5-.1h0m.2 .6h0m1.1 .1h0m.5-.1h0m1.7-.9h0m2.9 2.1h0m1.1 .2h0m.8-2.3h0m2.4 1.5h0m.5-.1h0m.6 .4h0m.2-2.4h0m2.4 1.2h0m2.4-.2h0m1.1-.2h0m.7-.1h0m4.1 .8h0m-48.2 3.7h0m.2-.4h0m.5 .1h0m.5 .1h0m2.4-1.9h0m.1 .2h0m0 1.6h0m.1 1h0m.3-.6h0m1.5-1.6h0m.3 2.2h0m1.4-.5h0m.2 0h0m.6-.8h0m0 .5h0m3.1 0h0m1.4-.4h0m.8-.4h0m.3 .8h0m0 .8h0m1.7 0h0m0-2h0m1.4 1.6h0m.4-.3h0m.2-.4h0m4.3-.5h0m1.2 1.1h0m2-.2h0m.3 .5h0m.4-2.3h0m1.9-.2h0m1 2.6h0m3.6-2.8h0m1.1 1h0m.2 1.3h0m.1-1.5h0m1 2h0m.3-1.3h0m.6 .3h0m2.3-1.7h0m.8 2.3h0m.4-1.1h0m2.7 .5h0m2.5 .3h0m.3-.1h0m.4 .7h0m1-1.6h0m-48.9 3.9h0m.5 .4h0m1-.3h0m.1 .7h0m1.8-2.6h0m.7 .5h0m.5 1.5h0m.1-.6h0m0 .9h0m1.7-1.2h0m2 .4h0m.8-.7h0m.4 1.3h0m.7-.2h0m.3-.6h0m.2 1.4h0m.2-2h0m.5 1.6h0m.9-1.4h0m.2 1.8h0m1.1-1.6h0m.1-.6h0m1.5 1.9h0m2.1-1.5h0m.2 1.3h0m.6-.6h0m1-.5h0m2.6 1.3h0m.1-2.2h0m.1 1.7h0m.8-.2h0m.5-.4h0m.3-.9h0m.4 .2h0m1.4 1h0m.4-.8h0m3.5-.9h0m1.3 1h0m.6-.2h0m.3 1.7h0m.1-.7h0m1.2 .7h0m.1-1.4h0m.6 1.4h0m.4-.4h0m.4-.1h0m.4-.2h0m1.9 .6h0m3.1-1.8h0m.1 1.4h0m1.5-1.8h0m1.1 2.5h0m1.8-1.5h0m2.6-.6h0m0 1.7h0m4-1.3h0m-52.7 4.8h0m.1-.3h0m.6-1.2h0m.4 .5h0m.6 1h0m.3-2.8h0m.7 1.9h0m.3-.1h0m.2-1.8h0m.4 1.7h0m.1-.6h0m1 .2h0m1.4 .1h0m.9-.5h0m0-.7h0m.2 2.4h0m.3 0h0m1.9-1h0m1.5-1.1h0m.4 .2h0m.4 .1h0m.1 1.6h0m.4-1.8h0m.1 0h0m1-.6h0m1.9 .2h0m2 1.3h0m1.4 .1h0m.1 .8h0m.5 0h0m4.1-2h0m.3 0h0m.9-.1h0m.3 2.4h0m2-.1h0m.1-1.3h0m.3 1.2h0m0-2.2h0m1.2 1.8h0m.4-.8h0m2-1.1h0m2.5 .4h0m4.4-.1h0m.4 1.9h0m1.7-2.4h0m.6 .1h0m5.7 2h0m.6-1.4h0m1.5-.5h0m1 .7h0m.4 .8h0m2.2 1h0m42.9-1.1h0m-96.7 3h0m.1 .2h0m1.7-.4h0m0 .9h0m.2-1.3h0m0 .7h0m1.2-.1h0m.1 0h0m.4 .7h0m.6-.3h0m.1-1.4h0m.1 1.9h0m.2-1.4h0m1.3 1.5h0m.3-1.5h0m.1 .2h0m1.1-1.2h0m.1 1.5h0m1.4-.8h0m1.3-.8h0m.3 1.3h0m.1 1h0m0 .4h0m.2-.5h0m.6 .4h0m.2-.2h0m.2-.3h0m.3-2h0m1.4 .5h0m.8-.6h0m.3 .2h0m.2 .8h0m.7 1.6h0m.6-.6h0m.6-.6h0m.2 1.1h0m.6-.5h0m.8-.6h0m.3 .7h0m.3 .5h0m1-1.9h0m4.7 1.9h0m.3-.6h0m2.1-.4h0m.4 1.2h0m1.4-.4h0m0-.3h0m3.4-.7h0m.4-.3h0m.7 .9h0m1.4-.6h0m.4 .1h0m2.8-.9h0m.2-.5h0m.8 1h0m.1 1h0m.9-1.9h0m0 .3h0m1.2 .9h0m.6 .8h0m1.4 0h0m1-1.4h0m1.2-.8h0m1.2 2.3h0m.9-2.1h0m.3 0h0m2.7 1.6h0m2.7-1.1h0m-54.2 3.5h0m.1 .9h0m.1 .6h0m.9-2.4h0m.8 1.3h0m.4-1.4h0m.8 .7h0m.9-.3h0m.3 1.8h0m.5-1.7h0m.2 1.1h0m.1-.6h0m.2 .4h0m0 1.1h0m.8-1.7h0m1.7 0h0m.3 .5h0m.8 1.3h0m3.1-1h0m.6-.6h0m.2 .8h0m.2-.9h0m.1-1h0m0 1.3h0m.7-.9h0m4.9 1.8h0m.8-2.3h0m.6 .5h0m.6 0h0m0 1.3h0m.6 .6h0m.8-2.1h0m.7 1.5h0m.9 .6h0m.2-1.4h0m.4 1.6h0m.2 .1h0m.6-.5h0m.7-2h0m.6 1.5h0m.6 .5h0m1.1-.3h0m.2-1.6h0m2.1 1.6h0m.3-1.4h0m.6 1.9h0m2.2-.5h0m0-1.9h0m.9 1h0m4.3 .9h0m2.7-1.2h0m1.4 .3h0m1.5-.2h0m0 1.6h0m1.8-.4h0m1.2-.8h0m1.2 .3h0m2.5-1.4h0m.4 .6h0m1.7 1.6h0m-54.7 3.1h0m.6 .4h0m.1-2.1h0m.5 .5h0m0 1.4h0m0-2.5h0m.5 .4h0m.4-.5h0m.6 2.3h0m.4-2.3h0m.9 .8h0m0 1.8h0m1.6-1.8h0m.2 .8h0m.5 .7h0m.2 .4h0m.8-.4h0m.6-2.4h0m.2 2h0m.1-1.6h0m.3 1.7h0m.5-.9h0m.3-.2h0m.1 1.7h0m.8-.5h0m.1-1.4h0m.7 1.7h0m.2-1.3h0m.6 .6h0m1.2 .3h0m.5-2h0m.5 .4h0m1.9 2.4h0m.7-2.3h0m.3 .4h0m.5-.8h0m.1 2.2h0m.7-2.2h0m.2 2.4h0m.8-1.8h0m1.8 2.1h0m.1-2.6h0m.5 1.6h0m3 .9h0m1.5-.3h0m.1-2.3h0m.1 1.5h0m1.9 .7h0m.8-2.3h0m1.2 .5h0m1.7 .4h0m.8 .5h0m1 .1h0m.1-1h0m2.3 1.9h0m.4-2.3h0m.3 .3h0m1.9 2.4h0m4-1h0m.6 .4h0m.2 0h0m.1-.4h0m.6-.7h0m.7 .5h0m0-.5h0m2.1-.1h0m.4 .3h0m0 1.5h0m.2-2h0m3.4 2.1h0m1-2.4h0m1.5-.4h0m49.2 1.3h0m.2 .5h0m-104.6 3h0m.4-.8h0m.4 1.4h0m1.8-1.3h0m.1 .1h0m.1 0h0m.5-.9h0m.4 1.7h0m.5 .6h0m.6-.5h0m3 .6h0m1-.9h0m1.5-1.7h0m.3 1.4h0m.3-.5h0m.8 .2h0m.9 .7h0m.4-.7h0m.7 1.2h0m.5-.2h0m.6-1.1h0m1.1 1.1h0m.4 .6h0m.7-2.3h0m.5 2.1h0m.2-2.7h0m.6 1.1h0m0 .6h0m0-1.7h0m.8 2.4h0m.5-1.1h0m0-.4h0m.7-.6h0m.5 1.7h0m.1-1.8h0m.2 1.5h0m.5-1.6h0m.3 2.7h0m.2-1.8h0m.2-.4h0m1.7 .4h0m1.4-.9h0m.8 1h0m1.1 .6h0m.2 1h0m.1-.4h0m.8 .4h0m.2-.6h0m2 .2h0m.5 .2h0m5.6 0h0m1.8-.4h0m0 0h0m.2-1.1h0m.4-.4h0m.7 .7h0m.4 0h0m.4 0h0m3.6 .6h0m.7 .9h0m.4-.9h0m.1-.7h0m.4-.8h0m.7 0h0m3.2 .9h0m1.7-.2h0m2.7 1.4h0m45.8-2.3h0m-101.1 4.4h0m.8 1.2h0m2.1-2.8h0m.3 .3h0m.4 .3h0m.1 1.8h0m0-2.2h0m.1 2.2h0m.3-1.8h0m.3 1.2h0m.1-1.6h0m.1 1.9h0m.1 .2h0m0-1.4h0m2.6 1h0m.2 .4h0m.8-2h0m.9 1.5h0m0 .9h0m.6-2.2h0m.2 .4h0m1 1.1h0m.7-1h0m.6 .1h0m1.6-.1h0m1.7 1.2h0m.2-1.8h0m.9 1.3h0m.2 .6h0m.3 .3h0m.7-2.2h0m.6 2.3h0m0-1.4h0m.4 1h0m.3-1h0m.7-.5h0m.5 1.9h0m.4-1.7h0m2 .2h0m.2 1.7h0m.5-2.4h0m.2 .4h0m.6-.9h0m.4 2.9h0m.4-2.7h0m2.4 0h0m.2 .7h0m.4-.3h0m.3 .1h0m.2 1.5h0m1.7-.2h0m2.4 .1h0m1.2-.7h0m1.1 .1h0m.2-1.1h0m1.1 1.5h0m1.1 .5h0m.2 .4h0m.6-1.4h0m.5-1.3h0m.5 1.4h0m.2-.9h0m.1 1.8h0m.6-1h0m.2-.9h0m.1 1.8h0m.2 0h0m.2-1.3h0m1.3-.1h0m1.3 1.2h0m2.4-2h0m1.2 .2h0m.7 0h0m1.3 0h0m1.6 .9h0m.2-.7h0m3.3-.5h0m12.1 1.8h0m.4-.8h0m34.5 0h0m1.4-.4h0m-104.7 3.1h0m1.3 2h0m0 0h0m.3-2.7h0m.8 2.8h0m.3-1.9h0m.6-.6h0m.8 1.5h0m.3-1.6h0m1 2.3h0m.2-2.3h0m.4 2h0m.8 .3h0m.4-1.8h0m.2 1.7h0m0 0h0m.1-.5h0m.1-.2h0m.2-1.3h0m.2 1.5h0m.3-.2h0m0-1h0m.1 .2h0m.4 0h0m.1 .9h0m.6 .4h0m0-1.5h0m.9 .1h0m.9 .1h0m.1 1.5h0m2.5-1.2h0m.5-.5h0m2.4 .6h0m.1 .4h0m1-.4h0m.1-.1h0m.3-.5h0m.1 1.2h0m.1 .8h0m1.3-2.3h0m.5 .2h0m.5 .2h0m.2 0h0m.6-.3h0m.3 2h0m.7-2.6h0m.5 1.5h0m.3 1.1h0m.5 0h0m.9-.1h0m.3-.9h0m0 .4h0m.2-1.1h0m1.1 .7h0m.8 0h0m1.2-.7h0m1.3 1h0m1.6-.3h0m4.1 1.3h0m.1-1.7h0m.3 .3h0m.8 1.2h0m1 .2h0m1.5-.9h0m.1 .8h0m.2-1.7h0m.1 1.6h0m.6 .1h0m.8-1.4h0m.9-.4h0m.4 .3h0m1.7 .2h0m.3 .6h0m1.7-1.6h0m4.3 1.3h0m.3 .3h0m.5-1h0m.6 .1h0m.8 .4h0m.1 .7h0m2.4 0h0m.9-.5h0m.1-.5h0m12.3 .3h0m1-.4h0m.2 1.5h0m.3 .3h0m.4-2.5h0m.4 1.9h0m.3 .5h0m0-1.1h0m.1-1h0m1.1 1.1h0m0 .7h0m.1-.6h0m25.4-.9h0m-100.1 4.7h0m.1-1h0m.7 .1h0m1.6 .5h0m.6 0h0m.4-1.1h0m.2-1.1h0m.1 .8h0m.1 1.2h0m.2 .1h0m.4-.4h0m.6-.5h0m1.4-.7h0m.2 2.2h0m.4-2.4h0m.2 1.7h0m1-1.1h0m.3-.6h0m.6 1.1h0m.7 .4h0m.5 .7h0m0-.1h0m2.2-2.3h0m.1 2h0m.7 .4h0m.5-1.9h0m.2-.3h0m1.6 .9h0m.5 .3h0m.7-1.4h0m2 .1h0m.4 1.3h0m.5-1.2h0m1.2-.2h0m.2 1h0m.2 1.3h0m1.4-.7h0m.6-1.4h0m.4-.2h0m.3 2.1h0m0-2.3h0m3.4 2.5h0m1.7-2h0m.5 1.3h0m0-.2h0m.1 .7h0m1.5 .3h0m.4-2.1h0m.3 2h0m1.2-1.9h0m.1-.1h0m.4 .8h0m.4 1.3h0m.1-2.7h0m0 1.6h0m.2 .4h0m0-1.7h0m.3 1.6h0m.1 .4h0m1.3 .5h0m.9-2.5h0m1.1 0h0m1.3 1.1h0m.6 1.1h0m1.8-.2h0m.5-.1h0m.1-1.2h0m.1 1.9h0m.3-1.2h0m.1-1.5h0m.7 .5h0m.4 1.8h0m.1-2.3h0m1.2 1.6h0m.5-.9h0m.7-.2h0m2.6 .6h0m.3-.1h0m1.4 1.3h0m1.5-.7h0m.3 .5h0m.9-1.9h0m.1 1.4h0m.2 .2h0m1.2-.3h0m.1 .2h0m16.7-1h0m.1-.1h0m.3 .8h0m.2 1.4h0m1.1-1.7h0m.3-.7h0m.8 .8h0m.4-.8h0m1.3 .5h0m2 1.7h0m1 .2h0m.7-.5h0m1.2 .5h0m17.7-.9h0m.8 0h0m-101.6 1.3h0m.9-.1h0m.2-.2h0m.6 .3h0m.3-.1h0m1.7 .8h0m1.3 .6h0m.6 0h0m.1-.1h0m.2 1.1h0m.1-1.3h0m1.1 .1h0m0 .2h0m.3 .5h0m.2-2h0m.4 1.6h0m1-1.8h0m.5 1.7h0m.2-1.4h0m.1 2.2h0m.2-1.8h0m0 .2h0m.5-.4h0m.2 2.3h0m0-.3h0m.2-.7h0m.2-1.4h0m.4 1.2h0m.1-1.4h0m.3 2.5h0m.7-1.6h0m.2 .9h0m0-1.9h0m.9 2.9h0m.7-.7h0m0-1.2h0m.2-.4h0m.8 1.2h0m0-1.6h0m.2 .8h0m1.4 .4h0m.1-.2h0m.5 1.6h0m.2-2.3h0m.4-.6h0m.5 2.6h0m.5-2.1h0m.4 1.4h0m1.1-1.3h0m.5 2.1h0m.5-2.5h0m.6 .9h0m.4 1.2h0m.3-1.4h0m.6 1.9h0m1.5-1h0m1.8-.3h0m.3 1.1h0m0-.8h0m.3 .7h0m.8 .5h0m.5-.4h0m.2-.5h0m.1-1.1h0m0-.6h0m.5 1.5h0m.6-.9h0m0-.3h0m.1 1.7h0m.8 .4h0m.2-1.9h0m.7 1.9h0m.6-1.2h0m.7-.5h0m.2 .1h0m.3-1h0m.1 2.3h0m.2-1.3h0m.2 1.6h0m.9-2.3h0m1.2 .5h0m.4 .1h0m.2 .7h0m.1 .8h0m0-2h0m.3-.2h0m.5 2.5h0m.3-1.4h0m.3-.4h0m.4 .6h0m.5 .5h0m.6-1.1h0m0 1h0m.1-1.3h0m.1 .4h0m.9 1.3h0m.4-1.2h0m.9-.5h0m2.5 .5h0m.7 .3h0m2 1.3h0m.1-.5h0m.4-2.4h0m.7 2.3h0m.6-.2h0m1.2 .1h0m.3 .7h0m1.2-1.6h0m1.1-1.1h0m.6 .6h0m2.7 .1h0m17.7 .1h0m.2-.6h0m.1 .7h0m.1-.3h0m.1-.1h0m1.1-.1h0m.6 1.2h0m.8-.7h0m.6 .9h0m.5-1.6h0m1.1 1.5h0m.1 .4h0m.4 .1h0m.5-2h0m.6 .9h0m.2-.8h0m.4 1.1h0m.1 .8h0m.8-1h0m.4 1.6h0m.9-.2h0m0-1.6h0m.1-.8h0m.2-.2h0m.2 .3h0m0 .9h0m.1 .9h0m.1 .2h0m.4-1.5h0m2.7 1.4h0m4.9-1.3h0m3.8 1.4h0m.2-1.7h0m-92.4 3.9h0m1.7-.9h0m.7-.7h0m1 2.6h0m.9-1.6h0m0-.2h0m.3-.8h0m1.8 1h0m1.1 .2h0m.4 .6h0m.5-.5h0m1.1 0h0m.3 0h0m.1 1.1h0m.8 .5h0m1-2h0m.1 1.7h0m.7-.8h0m.2 .8h0m.1-1.8h0m.6 1.2h0m.1 .6h0m.4-.4h0m.4-.4h0m.8 .3h0m.4-.6h0m.4-.8h0m1.6 1.5h0m0 .1h0m0-1.5h0m.3-.8h0m.2 2.2h0m.3-1.7h0m.5 1.5h0m.3-1h0m.9 .4h0m1.2 1.4h0m0-.3h0m.1-2.2h0m.1 1h0m.1 1.3h0m1.1-.8h0m1 .2h0m.2-1h0m.3 1.4h0m1.1 .1h0m.1-.3h0m.3-.9h0m1 1.1h0m.2-.8h0m.2 .5h0m0-1.4h0m.1 .5h0m.2-.1h0m.7 .8h0m0 .5h0m.7-1.6h0m.9 2.1h0m.2-1.3h0m.6-.9h0m.6-.5h0m.3 .1h0m.9 .1h0m.2 1.1h0m.1-1.2h0m.2 2.4h0m.9-2.5h0m.1 1.8h0m3.8 .6h0m.1-.9h0m.9-.2h0m.3-1.3h0m.1-.1h0m.4 1.6h0m1.6 .1h0m.3 .7h0m.1-.5h0m.6-1.7h0m0 .1h0m.2 2h0m.1 .1h0m1.2-2.4h0m2.3 .3h0m.1 .5h0m26.2-.9h0m1.6 .1h0m1.4-.1h0m.8 .5h0m1 .4h0m1.3-.5h0m1.1 .2h0m1.1 1.1h0m.4-1.3h0m.1 1.2h0m1.5-.2h0m2-1.3h0m3 .5h0m1.1 .9h0m-95.6 1.6h0m.7 2.2h0m3.3-2h0m1.6 .2h0m.1 1.6h0m.7-1.7h0m1.1 .1h0m.2 .7h0m.5-.1h0m.2 .1h0m.1 .3h0m1.1-1h0m.4 2.3h0m0-1.1h0m.4-.4h0m.3 .5h0m.4-1.5h0m.3-.3h0m.4 1.6h0m.2 .9h0m.4 .2h0m0-.8h0m.3-.1h0m.1 .1h0m.2-.3h0m.6 1.2h0m.1-.8h0m.3-.2h0m0-.3h0m.3-1.6h0m.2 1.9h0m1.1 .1h0m.2 0h0m.2 .8h0m.4-.5h0m.4-1h0m.2-.5h0m.6 .5h0m.1 .1h0m.9 1.5h0m.1-1.6h0m.7 1.2h0m.8-1.9h0m.3 1.5h0m.2 .3h0m0-1.3h0m.2-.3h0m1 .4h0m.1-.4h0m.1 1.8h0m2-1.5h0m.4 1.9h0m.1-.9h0m.3-.4h0m.2 .4h0m0-.3h0m1-1.5h0m.4 1.3h0m1.1-1.2h0m.3 2.1h0m0 .4h0m.3-2.8h0m.1 2.2h0m.3 .6h0m.4-1h0m.5-.2h0m.8 .1h0m.4-.4h0m.1-1.3h0m.1 .8h0m.2-.4h0m1.5 .3h0m.9 .5h0m.1-1.2h0m.2 .8h0m.7-.4h0m1.3 1.4h0m.1-.3h0m.1-.3h0m.1-1.2h0m1.6 1.6h0m1.9-.3h0m.8 .8h0m.7-.1h0m.8 .5h0m0 0h0m1.1 .3h0m.3-2h0m.4 1.4h0m.8-1.8h0m0-.5h0m.2 1.4h0m.2-1.3h0m.6 2.2h0m.3 0h0m.1-.6h0m.1 .6h0m.3-.4h0m0-.4h0m.3-1.2h0m1.8-.2h0m.3 .6h0m.1 .6h0m.3-1.3h0m.4 .3h0m.7 1.7h0m1.1-.9h0m.7-.7h0m-51.5 3.1h0m.4 1.3h0m3.6 .9h0m.1-.8h0m1.8-.4h0m.4 0h0m.3 .1h0m.3-.4h0m.6 1.3h0m.9-2.1h0m2.1 1.6h0m.3-1.8h0m.8 .6h0m.1 2h0m.2-.7h0m0-2h0m1 1.1h0m.1-.4h0m.4 .8h0m.2 1.2h0m.4-.4h0m0-1.5h0m.6-.4h0m1.1 1.3h0m.1 .6h0m.3 .2h0m.2 .2h0m1-1.2h0m.4 .2h0m0-1.2h0m1.9 .6h0m1.2 1.5h0m.3-1.5h0m.4 1.7h0m.3-2h0m1 .1h0m.4 .9h0m.9 .5h0m.5-2.3h0m.6 .8h0m.3-.6h0m1.1 2.5h0m.6 .2h0m.7-2.2h0m.6-.5h0m.4 2.2h0m1.7-.3h0m.7-1.1h0m.9 1.5h0m.2-2.3h0m.3 .3h0m.6 1.6h0m0 .5h0m0-1h0m.6 1h0m.4-.4h0m.8 0h0m.1-1h0m.7 1h0m.2-1h0m1.5 1h0m.1-1.4h0m.7 1.3h0m.1 .7h0m.2-2.3h0m.5 0h0m.1 .2h0m0 2h0m.2-.2h0m.2-2.6h0m.4 2.3h0m.7-1.2h0m1.4 .5h0m.2-.8h0m.2 .8h0m.3-1.1h0m.5 .5h0m.3-.5h0m.4 .6h0m.5-.1h0m.9-.4h0m.3 1.5h0m.2 .6h0m.9 0h0m.1-1.8h0m.2 1.6h0m1-2.5h0m-46.7 5.8h0m.6 0h0m2.4-1.8h0m.1 1.7h0m0-1.1h0m1.5 1.1h0m.3-2.2h0m1.2 .1h0m.3 0h0m0 .6h0m.2 1.3h0m0-.7h0m.6 1h0m.2-2h0m.1 2.2h0m0-1h0m2.6 .4h0m.1 .3h0m2-.7h0m1-.6h0m.2 .3h0m.1-.2h0m.1 0h0m.6 1.3h0m.2-.8h0m.3-.2h0m.8 1.1h0m0-1.7h0m.1 1.5h0m.2-1.1h0m.5 .4h0m.4-.7h0m2.1 .2h0m.3 0h0m.9 0h0m1.6-.8h0m.4 .6h0m0-.5h0m.4 .9h0m.3-1.2h0m0 2.3h0m.1-.9h0m.5 .8h0m.7-1.3h0m.6-1.2h0m.1 1.1h0m.4-1.1h0m.1 2h0m0 0h0m0-.2h0m1.3-.3h0m.3-1.2h0m.2 .3h0m.1-.7h0m0 1.1h0m.2 1.2h0m.7-1.4h0m.3 1.2h0m1.3-.5h0m.2-.4h0m.1 .9h0m.5-.6h0m1.4 .7h0m.4-2h0m.1-.3h0m.1 2.5h0m0-2.1h0m.2 .5h0m.1 1.1h0m.6-.9h0m.1 0h0m.1 1h0m.3 .6h0m.7-2.1h0m.5 1.3h0m0 0h0m.5-.7h0m.4 1.3h0m.3-.9h0m1 .6h0m0 .4h0m.2-1.8h0m0 1.4h0m.3-.6h0m.7-.2h0m.3-.5h0m.6 .4h0m.4 .6h0m1.6 .3h0m.1-.7h0m.9-1.5h0m.2 1.5h0m.5-.3h0m0 1.7h0m0-1.5h0m.6-.3h0m.2 1.2h0m.3 0h0m.4 .6h0m1.1-1.5h0m.1-1h0m-44.9 4.2h0m.1-1.1h0m0 .7h0m.9 .2h0m.1-.8h0m.3 1.2h0m.4 .4h0m0-2h0m.3 1.6h0m.5-1.1h0m.1-.5h0m.1 2.5h0m.1-1.3h0m.2 .3h0m.2-1.4h0m.4-.1h0m.1 .1h0m.8 1.4h0m.9-1.5h0m.6 1.4h0m.5 1.3h0m.8-2h0m1-.4h0m.3 .3h0m.2 .1h0m.3-.2h0m1.1 1.2h0m0 .3h0m.7-.1h0m.6-.7h0m.5-.1h0m.4-.3h0m2.1 .5h0m.2 .4h0m.2 .7h0m.1-1h0m.7-1.3h0m.6 1.2h0m.4 1.2h0m.9-1.7h0m.4-.5h0m1.4 0h0m.2 1.6h0m0-1.2h0m.5 1.1h0m.1 .2h0m0 0h0m1.5-2.1h0m1.2 .8h0m.2-.9h0m0 1h0m0 .7h0m.1-1.3h0m.3 1h0m.3 .2h0m.1 .7h0m0-1.8h0m.2 1.4h0m.8 .1h0m.1-.1h0m0 1.1h0m.2 0h0m1.7-1.8h0m.6 1.3h0m.4-2.3h0m.9 1h0m.9 1.2h0m.6 .5h0m0-2.8h0m1.2 2.5h0m0-.1h0m.2-1.2h0m.3 1.7h0m.2-2.7h0m0 1h0m.3-1.3h0m.1 .2h0m.5 1.7h0m.6-1.3h0m.2-.5h0m.2 2.7h0m.7-.3h0m.5-.3h0m.7-.4h0m1.6 .7h0m.2-2.1h0m.4 2.2h0m1.7-.6h0m.1-.1h0m.3-1.5h0m.3 1.5h0m0-1.6h0m.5 .1h0m.4 .5h0m.4 0h0m.3-.1h0m.2 .4h0m-41.8 2.2h0m0 1.7h0m.1-1.3h0m.4 1.1h0m.1-1.2h0m0 .7h0m.5 1.3h0m0-2.6h0m0 1h0m.2 1.4h0m.3 .1h0m0-.7h0m.1-.5h0m.1 .5h0m0-.1h0m.1-.2h0m1-.1h0m.5 1h0m.4-.3h0m.7-1.9h0m1.2 .7h0m0 .9h0m.2-1.4h0m.7 1.6h0m1-1.4h0m.9 0h0m.2 .2h0m1.1 1h0m.4-.9h0m1.2-.3h0m.5 2h0m.2 .2h0m.1-.4h0m0-.9h0m.9 .9h0m.6-.3h0m1-.3h0m.1 .8h0m.3-1.2h0m.3 1h0m.3-.5h0m.3-.1h0m1.3-1.7h0m.4-.1h0m.5 2.4h0m.2-1.4h0m.6 1.4h0m.4-1.7h0m.2 1.6h0m.1 0h0m.3-1.5h0m.7 1.5h0m.3-2h0m.1 .9h0m.7 1.6h0m.4-1.4h0m0 .6h0m.5-1.5h0m1.1 0h0m.4 1.1h0m.3-1.6h0m.5 1.1h0m1.6-.4h0m.8 1.3h0m.2-1.8h0m.6 1.7h0m.1-.1h0m5.5-.3h0m.4-1.1h0m.1 1.8h0m.2-.8h0m.5-.2h0m.4-.1h0m2.4 1.7h0m.1-2.2h0m.1 1.1h0m0-1.5h0m.9 .9h0m.3 1.7h0m.6-1.2h0m-38.8 1.3h0m.2 1.5h0m.4 .6h0m0 .6h0m.4 .2h0m.2-2.1h0m.2 1.9h0m.3-.2h0m.9-.4h0m.1-1.7h0m.1 1.7h0m.6-1.6h0m.3 .9h0m.2-.6h0m.4 .6h0m.1 .6h0m.2 .7h0m.1-.7h0m.5 0h0m.2-1.3h0m.7 1.6h0m.9-2.2h0m.2 .5h0m1.8 2.1h0m.4 .1h0m.9-1.6h0m.2-.4h0m.9-.4h0m.1 0h0m.5 2.2h0m.9-1.1h0m.9 .7h0m.1 .8h0m.5-2.6h0m.3 2.3h0m1.3-.6h0m0 .2h0m.6-.2h0m.1-1.7h0m.2 2.3h0m.1-1.1h0m.1 .3h0m.8-1.2h0m0-.5h0m.4 1.1h0m.1-.5h0m1.4-.5h0m.1 .7h0m.6 1.8h0m0-1.2h0m1 .9h0m.9-1.3h0m.6 1.3h0m1-.8h0m.6 .8h0m.1-2.3h0m.8 2.5h0m.1-.8h0m.4-1.5h0m.3 1.6h0m0 .9h0m0-.5h0m.5-2.4h0m.2 .6h0m.2 1.2h0m1.5-1.8h0m0 .2h0m.8 .6h0m.7 1.6h0m.1-2.3h0m.3 2.6h0m.2-.7h0m.6 0h0m.1-.5h0m.7 1.1h0m.1-1.9h0m0 0h0m.3 1.5h0m.3-2.1h0m1.6 1.2h0m.3 1h0m.3-.1h0m0-1.4h0m.1 1.1h0m.3-1.1h0m0 .8h0m.8 .2h0m1.2-.5h0m-35.3 3.7h0m.4-1.4h0m.1-.1h0m.5-.5h0m1.1 1.9h0m1 .9h0m.2-.5h0m.2-2h0m.3 2.2h0m.6 .2h0m.4-1.4h0m.8 .6h0m.6 .4h0m.6-.6h0m.3 .7h0m.4-.2h0m.2-2h0m.3 1.5h0m1.6 .1h0m.4-.5h0m.5 1.2h0m.3-1.6h0m.6-.2h0m.2 1.8h0m0-.9h0m.5 1.2h0m.7 0h0m.1-.5h0m.7-.3h0m.2-1.9h0m.7 1h0m.1 .3h0m.1 .3h0m.6 .1h0m.7-.1h0m.8 .3h0m.1 .8h0m.6-1.9h0m.9 .2h0m.1 0h0m.3-.7h0m.3 2h0m.1-.6h0m.4-.9h0m.1-.6h0m.7 1.8h0m.6-1h0m.8 .8h0m1.5-1.1h0m.3 1.7h0m.2-.6h0m.1-1.1h0m.4 .3h0m0-.3h0m.1 1.7h0m1.9-1.2h0m.6-1h0m0 .1h0m1.4-.1h0m0-.1h0m.7 1.4h0m.6-1h0m.6 .8h0m.1-.3h0m.6 1.7h0m1.1-1.3h0m0 .7h0m.1-.7h0m-31.5 1.6h0m.4 0h0m.9 .2h0m1.6 .4h0m1 1.3h0m.4 .4h0m.5-2.3h0m.3 2.5h0m.5-2h0m.5-.3h0m1-.2h0m2 2.4h0m.4-.1h0m.5 .2h0m.1-1.8h0m.3-.6h0m.1 .8h0m.5 1.8h0m.2-.4h0m.3-2.3h0m.5 2h0m2.7 0h0m.1-2h0m.2 2.7h0m.3-2.2h0m.1 1.7h0m1.3 .1h0m.4-1.6h0m.7 2.1h0m.5-.5h0m1.3 .3h0m.2 .2h0m1.2-.9h0m0-.6h0m.9-1.1h0m1.1 .8h0m1.2 1h0m.1 .2h0m0-1.7h0m.8 .4h0m.9 .7h0m0 .2h0m1.4-.2h0m2.1-1.5h0m-25.2 3h0m.3 .1h0m.5 .6h0m1.1-.5h0m1.1 .2h0m0-.1h0m1 2.4h0m.4-2.3h0m.2 .6h0m.6-1.1h0m.2 1.3h0m.6 .7h0m.3 .6h0m.2-1.9h0m.2 1.1h0m.5 .6h0m0-1.4h0m.4-.4h0m1.3 1.6h0m.5 0h0m.3-1.8h0m.2 1.1h0m.5 1h0m.1-2.4h0m.3 .9h0m.3-.8h0m.3 .6h0m.2-.8h0m1.5 .7h0m.1 1.2h0m.5-1h0m1.1 .1h0m1.6 1.2h0m.7-.8h0m1.1-1.5h0m.3 .7h0m1.5-.7h0m.1 1.2h0m.7-.1h0m-13.3 2h0m2 .4h0m2-.4h0" stroke="#5ACFC6" stroke-width="1.15" stroke-linecap="round"/>
<path d="M56.9 754.2h0m-.8 3.3h0m.5-.9h0m.2 0h0m.7-.7h0m-2.7 2.5h0m.6 1.3h0m1-.3h0m.1-.1h0m.3 .2h0m-2.8 3.1h0m1.7-2h0m-1.7 5.8h0m-.5 3.1h0m.9 2.3h0m-.7 4h0m.1 1.4h0m.3-.4h0m1.7 .4h0m.1-.5h0m-4 2.7h0m7.8 1.8h0m3.2-.1h0m-10.4 1.4h0m1.3-.9h0m3.9 2.2h0m2.2 .5h0m0-2.4h0m.7 2.3h0m4.5 .2h0m-14.7 1.6h0m1.5-1h0m.2 0h0m.7 1.8h0m.2-.2h0m1.2-.8h0m3.5 1.6h0m.4-2.6h0m1.7 .9h0m1.6 .7h0m2.6-.4h0m.2 0h0m.2-1.2h0m.2 0h0m2.2 .5h0m.2 2.1h0m1-2.6h0m-17.6 3.7h0m0 1.7h0m1.8-.7h0m2.4-.7h0m2.8 .6h0m.6-1.2h0m1.1 1.4h0m.3-.7h0m2.7 .6h0m.2-.3h0m.2 .3h0m.1 .1h0m.5-.4h0m.1 .5h0m1.9-1.3h0m2.6 .8h0m1.7 .1h0m.1-1.7h0m.9 2.8h0m2.1-1.8h0m9.8 .9h0m1 .8h0m-32.1 3h0m3.3-1.3h0m2.3-1h0m2.8 2.3h0m.5-2h0m.9 .4h0m.5-.9h0m.8 2.3h0m1.7-1.4h0m1.9 1.7h0m2.4-2.3h0m2 1.9h0m.4-.5h0m0-1.2h0m.8 1.3h0m3.9-.9h0m.5 .8h0m1.8-.3h0m.1 .6h0m1.2-1.4h0m.3 .8h0m1.8-1h0m.8 .2h0m.1 1.9h0m.7-.8h0m2.8-.2h0m.9-.3h0m-36.7 3.1h0m2.7 .5h0m.4-1.1h0m0-.5h0m3.3 .2h0m2.3 1.6h0m.1-2.2h0m2.5 1.4h0m1.6-.7h0m.1-.4h0m.2 .9h0m.7 .1h0m.6 .3h0m.7 1.2h0m.6-.7h0m1 .1h0m1.5-1.7h0m.4 2.1h0m0-.6h0m.1-1.4h0m.7 .7h0m1.1-1.4h0m1.6 .6h0m.3-.5h0m.5 2.4h0m4.7-1.5h0m2.6-.7h0m.6 .2h0m.2 .2h0m.5 1.8h0m.6-2.4h0m.2 1.6h0m.5 0h0m.6 1.2h0m2.5-.5h0m.5-1.5h0m0-.4h0m.7 .5h0m1.7-.4h0m.1 1.6h0m-38.1 1.4h0m2.6 .8h0m.9 1h0m2.4-.2h0m.4-1.7h0m1.6-.4h0m1.5 2.3h0m3.4-1h0m1.5-.4h0m3.5 1.2h0m2.7 .3h0m.2-1.2h0m3.4-.3h0m.2 1.8h0m1.4-1.5h0m0 .8h0m.2-.7h0m1.7 0h0m.4-.8h0m4.2 1h0m.3 1h0m1.4-2.6h0m.2 1.9h0m1 .2h0m.9 .2h0m.1 .3h0m1.6-.9h0m.7-.4h0m.5 .1h0m.8 .7h0m.4-.8h0m1.1 1h0m-42.5 1.4h0m2 .7h0m.4-1.2h0m1.2 1.2h0m2.7-1.2h0m.5 .8h0m1.8 2h0m.3-2.4h0m1 2.3h0m.2-1.2h0m3.2 .5h0m1.7 .8h0m.6-2.8h0m1.7 1.9h0m.4-1.8h0m0 1.7h0m1.3-2h0m.2 1.6h0m3.8 .8h0m1-.1h0m2.7-1.8h0m1.9 2.1h0m.1-2.1h0m1.7 2h0m2 .2h0m1.4-.5h0m1.4 .7h0m2.8-.1h0m.1-1.7h0m1 0h0m.4-.9h0m.3 1.2h0m2.7-.3h0m.2-.9h0m.8 1.4h0m-43.4 3.7h0m.4-.6h0m.7-.8h0m.6 1.6h0m1.3 .3h0m.5-1.2h0m3.2 .6h0m.2-2h0m.9 .7h0m1.2 2.1h0m.3-.9h0m.3-.2h0m2.9-1.6h0m1.3 .5h0m.4 .5h0m.7-1.3h0m.2 .9h0m.3 .4h0m.5 .2h0m.9-.7h0m0 .4h0m.1 .3h0m2-.1h0m2-.9h0m.4 .5h0m.6 1.3h0m3.4-.7h0m.9 .4h0m.2 0h0m2.3-.4h0m.2 1.4h0m.1-2h0m2.1 0h0m0 0h0m.6 .5h0m0 .4h0m2.1-1.5h0m0 1.7h0m1.2-1.2h0m.3 1.2h0m.8-1.7h0m.4 .5h0m1.6-.6h0m.1 1.5h0m1.5-1.4h0m1.4-.2h0m0 1.3h0m.3-1.4h0m1.3 .2h0m1.1 1.8h0m.1 .3h0m-36.3 3.3h0m.5-2.1h0m4.6-.2h0m7.6-.4h0m.7 1.5h0m1.7 .4h0m2.8 1h0m.1-1.8h0m.5-.2h0m1.6-.3h0m.4 1h0m.2 .7h0m2.4-.9h0m0-.6h0m.8 1h0m0 1.1h0m0-1h0m.8-.1h0m.5-1.2h0m1-.5h0m1.3 2.5h0m.2-1h0m.1 .2h0m.9-1.2h0m1.4 1.3h0m1.1 .1h0m.8 .5h0m5.1-.3h0m1.2-1.1h0m.1 .6h0m.4 1h0m-45.7 .4h0m.3 1.9h0m4.7-1.9h0m.6 2h0m5.2 .7h0m.7-1.4h0m.9-1h0m6.4-.2h0m1.3 1.5h0m8.3-.5h0m.5 1.8h0m1.2-.3h0m.7-1.6h0m1.5 .7h0m1.2 .5h0m1.3-.9h0m.2 1.2h0m.3-2.4h0m1.4 2.7h0m0-1h0m1.9-.5h0m1.7-1.1h0m.9-.2h0m1.7 1.1h0m.1 1.2h0m.3-2.1h0m.4 1.9h0m.6-.4h0m.7-.7h0m-50.5 3.5h0m7.4-1.2h0m.1 .2h0m.6 1.4h0m1.1-.7h0m2.1-.5h0m.1 .9h0m.3 1.2h0m.9-2.5h0m.2 1.5h0m.3-.8h0m4.2 .5h0m1.6-.2h0m1 .9h0m6-.3h0m3.4-.5h0m.4-.4h0m1.6 1.6h0m.2-.9h0m.8 0h0m3.6-1.8h0m.3 2.7h0m1.6-1h0m.1-.4h0m0 .5h0m.4 1h0m1.9-.2h0m1.6-2.3h0m.8 .4h0m1-.3h0m.4-.1h0m1.5 2.3h0m0-2.3h0m.8 2.7h0m.3-.4h0m.2-2.3h0m0 2.3h0m1.9-.6h0m.7 .4h0m.6-.9h0m-48.9 2.8h0m1.7-.7h0m.6 1.7h0m.3-.2h0m1.8-.5h0m2.6 .6h0m8.3 .7h0m2.6-.6h0m1 .1h0m2-1.2h0m7 .8h0m.7-.1h0m.8-1h0m1-.9h0m.6 1.7h0m1.4 .5h0m1.4 .1h0m4.9-2.2h0m.3 2.2h0m.1 .6h0m1.1-2.2h0m.2-.2h0m.1 .2h0m3.7-.5h0m.3 2.5h0m.7-.5h0m1.4 .3h0m1.1-1.4h0m.4-.6h0m.7 .5h0m.8-.3h0m41 .6h0m.4 .8h0m.1 .4h0m1.5-.5h0m-95.8 1.6h0m.7 1.5h0m3.8-1.8h0m3 1.2h0m.7-.1h0m.5-.8h0m1.2 1.1h0m1.6 .7h0m.8 .1h0m3.1-1h0m.3 1.1h0m.8-1.9h0m.1 1.2h0m0 0h0m8.3-1.2h0m.5 1.4h0m.2-.4h0m.5 0h0m.9-1.7h0m4.5 1.2h0m1.4 1.2h0m0-.2h0m.5 .3h0m1.1-.9h0m2.9 .5h0m.1 .4h0m.6 .2h0m1.2-.2h0m0-2.2h0m1.9 1.8h0m1.3-.2h0m1.2-.2h0m.5-.4h0m.5 1.2h0m2.1 0h0m.1-1.1h0m1.2-.1h0m0-.7h0m.9 0h0m.4 2.2h0m.2-2.7h0m.2 1.5h0m2.1-1.6h0m.1 1.9h0m44.8-.5h0m.6 .2h0m.7 .7h0m.3 .2h0m-100.7 2.4h0m.4-.1h0m5-1.5h0m1.9 .4h0m.9 1.7h0m.1-2h0m.9-.1h0m.8 1.6h0m3.8-.5h0m.6-.6h0m2.2 .4h0m0-.1h0m1-.2h0m.2 1.8h0m.9-1.8h0m2.7-.7h0m3.3 1.5h0m9.2-1.5h0m3.5 .6h0m.8 1h0m1.2 .9h0m.2 .1h0m.9-1.2h0m1 .3h0m.2-1.8h0m.3 .6h0m.8 1.7h0m.4 .6h0m.5-1h0m.7 .5h0m2 .4h0m.1-1.5h0m3.5-.5h0m1.1 1.9h0m1-1.6h0m.7-.9h0m.3 2.1h0m44.5-.8h0m.5 1.2h0m.4 .1h0m.2-1.1h0m.5 .8h0m.1 0h0m.7-.2h0m.3-.3h0m.5-.4h0m.3 .4h0m-99.7 1h0m.4 1.3h0m1.2 1.2h0m.6-1.7h0m.2 1.1h0m7.9-1.6h0m.2-.1h0m2.3 1.8h0m.4 .2h0m1.7-.1h0m5 .6h0m1.7-.8h0m2.2-1.3h0m1.9 .5h0m3.2 1.6h0m4-.3h0m.3 .3h0m.4-2.6h0m3 2.5h0m.9-.6h0m1-1.5h0m.4-.2h0m.2 2.4h0m7.4-1.9h0m.1-.5h0m.1 .9h0m.4-.1h0m1.2-.2h0m1.2-.8h0m44.7 2.1h0m.5 .7h0m.9-2.3h0m.3 1.6h0m1.6-.1h0m.3 .2h0m.8-.3h0m.2-1.6h0m.5 .8h0m.1-1.1h0m-102 5.8h0m2.8-1.2h0m.7-.7h0m3.2 .2h0m.9 .3h0m3.4-.8h0m1.8 .9h0m.8-.1h0m0-.5h0m1.3 .8h0m.2-.5h0m.4-.2h0m5.2 0h0m5.8-.7h0m2.6 1.6h0m4.8-1.3h0m.5-.6h0m7.8 2.5h0m.1-1.8h0m3.2 .8h0m1.2-.5h0m.7 1.2h0m3.6-1.6h0m44 1.2h0m.5-1.1h0m.4 1.2h0m.5-.8h0m.2-1h0m.7 .7h0m.2-.6h0m.9 2.2h0m.2-2.3h0m.8 .4h0m-102.7 4h0m3.3-1.5h0m3 .3h0m3.8-.5h0m4.3 1.1h0m.2-.6h0m1.2 .2h0m2.2 1.5h0m6.8 .8h0m2.6-1.6h0m.1 .3h0m1-.7h0m.5 .7h0m2.9-1.7h0m1.6 2.3h0m2-1.4h0m3.3 .4h0m1.3-.8h0m2.3 1.5h0m.8-.5h0m2.3 .1h0m.3-1.5h0m4.4 2.5h0m.1 .2h0m.2 0h0m.1-.5h0m1.9-1.7h0m1.8 .9h0m42.4 .2h0m.6-.8h0m.1-.7h0m2 .2h0m.2 1.1h0m0-.1h0m.1-1.2h0m.8 .1h0m.1 1.2h0m0 .3h0m-103.1 1.4h0m2.5 2.7h0m9.4-2.3h0m1.9 .5h0m1.8 .7h0m5.8-1.6h0m4.7 1.8h0m16-.2h0m.2 .8h0m.2-1.4h0m.1 1.6h0m2.9 0h0m1.7-.7h0m.1-1.6h0m.6 1.4h0m.2 .7h0m1.4-1h0m.4 .5h0m1.7 .2h0m2.5-1.2h0m.1 1h0m.2-.5h0m.2 1h0m.3-1.1h0m.1 .9h0m38.8-.4h0m1.1-.1h0m.1-.6h0m.4 .4h0m.4 .1h0m.9 .8h0m0-.8h0m2.3 .1h0m.8-.8h0m-93.7 4.3h0m1-1.1h0m.3 .5h0m.6 .8h0m2.3 .2h0m8.9-.1h0m1-2.2h0m2.6 1.1h0m1.3 .5h0m10.7-1.4h0m1.1 1.9h0m.3-2.5h0m1.1 1.4h0m.3 1.5h0m3.4-.8h0m.4-.1h0m.2-.3h0m1.8 .5h0m1.2 .4h0m.7-1.8h0m.6 .1h0m.7 .1h0m.5-.9h0m1.2 .7h0m.9-.6h0m.3 .5h0m1 .8h0m.8-.8h0m.4-.3h0m.5 2.3h0m.7-2.8h0m16.4 1.4h0m19.5 .6h0m1.1-.6h0m2.6 .6h0m.3-.4h0m.1 1.2h0m.1-1.2h0m.4 .5h0m.3 0h0m1.4-1.4h0m1.5 .8h0m.9-1.2h0m-104.1 4.4h0m.7-.4h0m.3 .6h0m1.5-.9h0m.1 .3h0m.3 .6h0m.1 .2h0m0-.1h0m1.3-1.2h0m10.5 2.2h0m.2-1h0m.2 .9h0m5.4-1.4h0m3.5 1.2h0m1.6 .1h0m11.5-1.5h0m1 1.6h0m.1-.1h0m3.1-2.6h0m2.6 1h0m.6 1.4h0m1.2-.6h0m1.5 .5h0m.4-1.9h0m.5-.1h0m3.7-.3h0m1.7 1h0m.5 .8h0m.2 .2h0m.5-.8h0m2.3-.3h0m.7-.1h0m18.6 1.5h0m6.8-.8h0m3.3-1.6h0m.7 1.8h0m.4-.9h0m.2 1.8h0m.3-.9h0m.8-.3h0m.3 1.1h0m1.3-.8h0m.9 1.1h0m.1-1.1h0m1.6-1.5h0m.1 1.9h0m.1-1.8h0m0 2.2h0m.5-.8h0m.9-1.2h0m.5-.4h0m.1 2.5h0m.6-1.8h0m0-.6h0m1 .7h0m.4 .1h0m.1 .1h0m1.2-1h0m.1 1.8h0m.6-1.5h0m.2 1h0m.3 .2h0m1.9-1.8h0m-102.4 4.3h0m.1 1.2h0m0 .4h0m.1-2.1h0m0-.2h0m.3-.6h0m1.4 .3h0m.6 .6h0m.5 0h0m0 .4h0m.2 1.2h0m.4-2h0m.2 1.5h0m.1-.5h0m.5 1h0m.2-1.6h0m6.1 1.1h0m.5-1.9h0m11.3 1.2h0m1.8 .4h0m4.1 0h0m2.5 1.1h0m5.1-2.3h0m2.5-.4h0m.5 2.2h0m6.9-2.2h0m1.2 .4h0m0 1.4h0m41.8-.3h0m.1-1h0m.1 .8h0m.4-.4h0m0 1h0m.2-.9h0m.7 .4h0m.4-1.1h0m1.2 .1h0m.5 .3h0m.9-.3h0m1.4-.3h0m.4 1.6h0m.3-1.2h0m-96.2 5h0m.3-1h0m1.1 .4h0m1-.7h0m.5-.6h0m0 2.1h0m.2-2.7h0m.7 2.3h0m.2-1.1h0m1.2 1h0m.5-.4h0m.1-.9h0m2.3 0h0m2.4 .4h0m3 .2h0m1.6-.5h0m6.2 .5h0m8 1.3h0m12.9-2.7h0m2.9 .8h0m-44.3 2.1h0m.2 2.2h0m.1-1.1h0m.3-.2h0m.4-.3h0m.9 .7h0m.1-.8h0m.1 1.6h0m1.1 .5h0m12.9-.7h0m10.5-1.9h0m4.4 .8h0m2.6 1.5h0m.5-2h0m1.6-.3h0m3.1 1.7h0m2.4-1.2h0m2.4 .4h0m.9 1.7h0m-44 1.1h0m1.6 .4h0m.6 .8h0m.1-1.8h0m.1 0h0m.1 .6h0m0 1.4h0m.3-1.4h0m1.8 .6h0m6.6 .3h0m1.5 .1h0m7.3-.9h0m1.4 .6h0m3.9 .9h0m.7-.7h0m3.9-.8h0m2.3 .8h0m6.7-.1h0m2.1 .3h0m1.4 0h0m1.4-.7h0m-40.1 2.2h0m.5 2.4h0m.4 .1h0m.4-.6h0m3.3-.1h0m7.4 .2h0m6-1.1h0m4.6 .2h0m7.5 1.3h0m.8-.6h0m-30.9 1.2h0m2.6 .6h0m7-.7h0m4.1 1.1h0m3.3 .4h0m2.5 .2h0m3.4 .2h0m1.3-1h0m3.9-.7h0m4.7 .7h0m.6 .6h0m3.4 .3h0m1.4-.5h0m-39.4 2.3h0m3.3 0h0m3.1 .8h0m4.3-.1h0m1-1.4h0m.1 1.4h0m.2 .6h0m9.5-.5h0m0-.1h0m.2 1.2h0m2.3-2.7h0m1.7 1.2h0m5.8 1.2h0m-26.7 1.2h0m.3-.2h0m.3 2.1h0m.4-.2h0m1.6-1.8h0m6.5 1.1h0m1.8 .9h0m4.5-1h0m.4 .7h0m4.4-1.2h0m.2-.1h0m1.8 0h0m3.6 1.7h0m2 .3h0m-25.1 .1h0m1.4 1.2h0m1.6-.3h0m1.6 1.5h0m2.4-.9h0m7.9 1.3h0m3.9-1h0m-17.8 2.2h0m3.8-.4h0m.4 .1h0m.9-.6h0m9.6 2.4h0" stroke="#E8706A" stroke-width="1.15" stroke-linecap="round"/>
<path d="M56.3 756L55.6 763L54.8 770L54.4 774" stroke="#5ACFC6" stroke-width="1.3" fill="none" stroke-linecap="round" stroke-opacity="0.8"/>
<path d="M56.2 754.2L57.3 755.5" stroke="#E8706A" stroke-width="1.6" fill="none" stroke-linecap="round"/>
<path d="M204.8 756L204.1 763L203.3 770L202.9 774" stroke="#D8B8B4" stroke-width="1.3" fill="none" stroke-linecap="round"/>
<text x="6.2" y="732.0" font-size="12.5" font-weight="bold" fill="#111" transform="translate(6.2 732.0) scale(1 1.08) translate(-6.2 -732.0)">i</text>
<text x="53.7" y="744.6" font-size="10.1" font-weight="bold" fill="#111" transform="translate(53.7 744.6) scale(1 1.08) translate(-53.7 -744.6)">BIT status</text>
<circle cx="97.7" cy="766.3" r="1.6" fill="#E8706A"/><circle cx="97.7" cy="773.4" r="1.6" fill="#5ACFC6"/>
<text x="105.0" y="769.2" font-size="7.7" transform="translate(105.0 769.2) scale(1 1.08) translate(-105.0 -769.2)" stroke="#222" stroke-width="0.1">BIT Low</text>
<text x="105.0" y="776.3" font-size="7.7" transform="translate(105.0 776.3) scale(1 1.08) translate(-105.0 -776.3)" stroke="#222" stroke-width="0.1">BIT High</text>
<path d="M15.6 879.4V845.5M15.6 879.4H49.5" stroke="#222" stroke-width="0.6" fill="none"/>
<path d="M13.9 846.5L15.6 842.5L17.3 846.5Z M48.5 877.6999999999999L52.5 879.4L48.5 881.1Z" fill="#111"/>
<text x="16.4" y="890.6" font-size="8.2" transform="translate(16.4 890.6) scale(1 1.08) translate(-16.4 -890.6)" stroke="#222" stroke-width="0.1">UMAP 1</text>
<text x="11.6" y="865.0" font-size="8.2" text-anchor="middle" transform="rotate(-90 11.6 865.0) translate(11.6 865.0) scale(1 1.08) translate(-11.6 -865.0)" stroke="#222" stroke-width="0.1">UMAP 2</text>
<path d="M205.9 754.6h0m-1.4 4.9h0m.6 .9h0m.1 0h0m-2.9 4.2h0m1 0h0m-.5 5.9h0m0-.5h0m.4 .1h0m31.6 39.7h0m1.2-.6h0m.1 .8h0m2.1 .1h0m.3-.5h0m.6 1.7h0m1-1.9h0m-5.9 3.7h0m.7-.2h0m1.6-.9h0m.6 2.4h0m1.1-1.7h0m.5 .2h0m.3 0h0m.3-.2h0m.6 1.3h0m.7-.1h0m.2-.1h0m.1-1.1h0m.5-.2h0m.8 0h0m.8-.1h0m.1 1.1h0m.4-.5h0m-8.5 3h0m.1 1.2h0m.6-.8h0m.9-.3h0m.8-.4h0m.2 .3h0m.5-.1h0m.6 .4h0m1.7 .3h0m2-1.6h0m.5 .1h0m.1 .2h0m.7 .9h0m.3-1.3h0m.1 1.2h0m-10.4 2.4h0m1.1 1.6h0m2.6-1.6h0m.9 1.1h0m.2-.2h0m.5-.1h0m1.5-.9h0m0 1.2h0m.2-1.4h0m1.3 .5h0m44.1-.6h0m.1-.4h0m.9 2.2h0m0-1.6h0m-52.9 3.6h0m.2 .6h0m.6 .9h0m0-1.4h0m0 .3h0m.6-1.4h0m1.6 .3h0m1.2 2.2h0m.7-1.3h0m.6 1.2h0m1.4 .1h0m45.4 0h0m0-.9h0m.1 .8h0m1-.8h0m0 .7h0m.3-1.6h0m.3-.1h0m1.1 .1h0m-55.7 3.2h0m.1-.2h0m1.3 1.3h0m3.1-.3h0m.1 .2h0m1 .5h0m.6-1.8h0m0 .7h0m44.4 .7h0m.6-.7h0m.2-.2h0m.1 .7h0m.4-.1h0m.7 .8h0m.6-.7h0m1.9 .6h0m-54.9 2.1h0m1-.9h0m3.7 1.7h0m.6-.5h0m43.5 .6h0m.2-1.1h0m.3-.3h0m.7 .2h0m.5 .3h0m4.1-1.8h0m.1-.1h0m-55 4.6h0m2.9-1.3h0m.3 1.5h0m12.5 .7h0m.4-1.7h0m.9 2.1h0m29-.6h0m1 .6h0m2.5 0h0m-48.8 1h0m.3 1.1h0m.1-1.8h0m.3 1.6h0m.6-1.2h0m1.8 .7h0m.2-.6h0m12.3 1.2h0m.3-1.8h0m.2 .5h0m.2-.3h0m.6 1h0m.2-.5h0m2.7 1.8h0m22.4-.9h0m.3 .2h0m.9-1h0m0 .9h0m1-1.6h0m.6 .5h0m.5-.2h0m.9-.4h0m-47 4.4h0m1.1 1.4h0m.6-.8h0m14.7-1.3h0m.7 1.4h0m.2-1.4h0m.3 1h0m.2-.7h0m.5 1.7h0m1.2-2.8h0m.2 1h0m.1 1.7h0m.3-2h0m.6 .8h0m2.1 .1h0m.3 .1h0m.4 .5h0m.8 .2h0m13.5-.6h0m1.4 .7h0m.5-1.4h0m.2 .2h0m.2 .3h0m.1 .1h0m.1 0h0m.3 .3h0m.4-1.2h0m2.7 .3h0m.1 1.2h0m1.3-1.2h0m.4-.9h0m.2 1h0m-27.9 3h0m1 1.7h0m.1-1.7h0m0 1.2h0m.7-1.1h0m.6-1h0m.2 .3h0m.7 .7h0m.3 1.6h0m1.2-.1h0m1.1-2.3h0m.1 .7h0m1.3 1.4h0m.1-1.7h0m.4-.9h0m.1 2.8h0m.4-.9h0m.2-1.7h0m1.2 2h0m.3 0h0m1-.1h0m.4-1.3h0m1.8 .2h0m0 1.2h0m.1 0h0m1.5 .5h0m.2-1.9h0m1.2 1.5h0m.5-2.1h0m.2 2.5h0m.1-1.9h0m.2-.4h0m.3 1h0m.6-.1h0m0-.7h0m.8 1.3h0m.1-.3h0m1.8-.4h0m1.5 .7h0m.1-1.7h0m.9 1.3h0m0-1.4h0m-20.8 3.7h0m1 .4h0m.2-1.2h0m1.6 .2h0m.3 .9h0m.6-.2h0m2.1-.3h0m1.1 .2h0m.2-.7h0m2.1 .2h0m.3 .5h0m.7 .4h0m.9-1h0m0 0h0m.1 1.3h0m1.5-.4h0m.7-.1h0m.2-.7h0m.1 1.4h0m.1-1.2h0" stroke="#D6D6D6" stroke-width="1.25" stroke-linecap="round"/>
<path d="M203.9 753.9h0m.9 2.1h0m.5 1.1h0m-1.7 .5h0m2.1 .8h0m-3.1 5h0m.7-.6h0m.4-.5h0m.2 .1h0m1 .3h0m-2 2.2h0m.3-.6h0m.5 1.1h0m.3-.9h0m-2.1 3.6h0m.1 1.6h0m.3 .9h0m.8 1.7h0m31.3 37.6h0m.9 1.5h0m2.5-1h0m2.3 .6h0m.5-1.2h0m.3 1.4h0m0-1.9h0m1.2-.3h0m.3 .8h0m0 1h0m2-1.2h0m-7.9 2.9h0m.3-.7h0m2-.2h0m.3 1.5h0m3.4 .3h0m.6-.4h0m.1-1.3h0m.4 1.4h0m-8.6 3.7h0m.3-.9h0m1.1 1.3h0m.4-2.5h0m1.3 1.5h0m.8 1h0m.6-1.6h0m.8-.7h0m2.6-.1h0m0-.1h0m1.4 2.5h0m.3-2.5h0m-11 5.5h0m2.3-.6h0m.1 .8h0m1-1.5h0m1.1-.3h0m.4 1.5h0m.9 .3h0m.3-1h0m.5 1.1h0m2.5-.9h0m.1-.5h0m43.8 .5h0m-52 1.3h0m.9 2.1h0m.4-1.3h0m0 1h0m3.6-2h0m.2 1.1h0m1.7 1.7h0m47.9-.3h0m-55.3 2.7h0m.1-1.5h0m.3 1.9h0m2.1-.5h0m.9 0h0m3-1.4h0m46.2 1.6h0m1.6-2.4h0m-54.2 2.9h0m2.1 .8h0m2.2 1h0m1-1.1h0m42.8 2.1h0m4 .1h0m.5-1.4h0m-52.4 3.9h0m1.7-.8h0m.5-.2h0m1.7 .1h0m11.1 .4h0m33.9-1.4h0m-49.1 3.8h0m.2 .7h0m1.2-1.4h0m.7 2.2h0m13.8-.8h0m.2-1.5h0m.7 .4h0m26 1h0m.4-.2h0m.6-.6h0m.9 .6h0m1.5-1.1h0m.4 1.6h0m.8-2h0m1.4 .2h0m-49.1 3.8h0m1.1 1.5h0m.9-2.7h0m.2 .4h0m15 1.7h0m.2 .1h0m2.1 .4h0m3.4-1h0m12.6 1h0m4.5-.2h0m.6-2h0m.8 1.2h0m.2 .5h0m2.9-.5h0m1.1-1.1h0m-27.9 4.8h0m.2-1.6h0m1.1 .1h0m4.3-.4h0m.4 1.6h0m.8 1h0m.4-2.1h0m1.1-.8h0m5.6 .9h0m2.9-.9h0m3.8 2.3h0m.6-.7h0m-11 3.1h0m2-.5h0m0-1.2h0m4.1 .5h0m.3 .7h0m.8-.7h0m1.2 .1h0" stroke="#D9BBB6" stroke-width="1.25" stroke-linecap="round"/>
<path d="M205.3 754.4h0m-.7 .2h0m0 3.4h0m-1.6 2.5h0m1.1 .8h0m-1.5 16.7h0m1.5-.3h0m3.4 .3h0m-4.3 2.1h0m.8 .1h0m2.5 .8h0m-4 1.8h0m4.5 .7h0m7.8 .7h0m-14.3 3.3h0m.8-.3h0m9.1-1.7h0m4 .9h0m4.1-.3h0m-19.5 3.6h0m5.1 .5h0m6-2.1h0m3.4 1.8h0m1-.2h0m1.2-1.2h0m.7 .7h0m.4-1.6h0m.7 .4h0m.7 2.1h0m.1-1.1h0m2.8-1h0m.7 .5h0m11.9 1.8h0m-30.4 .7h0m1.9 1.6h0m0-1.1h0m1.5 .3h0m2-.6h0m.1 .6h0m6.1 1.1h0m.9-1.5h0m.9 1.9h0m.3-.7h0m3.8-1.3h0m2.7 1.1h0m1.6 .8h0m2.7 .2h0m4.8-2.6h0m-33 4.5h0m1.6 .6h0m1.2 .2h0m.3-1.5h0m1.9 .7h0m2.2 .2h0m.2 .7h0m1.1-.5h0m.1-1h0m.8 1.1h0m3-1.2h0m4.2 .7h0m.6 .9h0m2.3-.5h0m.4-2.1h0m1.7-.1h0m.7 2.8h0m4-.9h0m7.4-.1h0m3.5-1.3h0m-38.8 3.3h0m.7 .4h0m.1-.2h0m8.4-.2h0m1.6 1.2h0m.6-.9h0m11.2 1.2h0m1 .5h0m2.1 0h0m0-1.2h0m3 .9h0m.4-2.1h0m5.9-.3h0m2.6 2h0m1.3-.3h0m.8 .8h0m-38 1.3h0m3.7-.2h0m1.7 1.7h0m.6 .5h0m6.9-2.4h0m4.1 .9h0m.7-.6h0m1.5-.1h0m1.6 2.3h0m.6-1.6h0m.2 1.5h0m3.6 0h0m2.3-2.2h0m2.6-.3h0m2.9-.3h0m1.5 .1h0m3.1 2.2h0m.4-2.3h0m1.7 .2h0m2.8 2.5h0m-38.5 .7h0m1 .4h0m3.3 1.1h0m.3-.7h0m.3 1.2h0m2.8-1.9h0m11-.5h0m.7 .3h0m1.1 1.2h0m6.9 1.1h0m4.4-1.6h0m.6-1h0m1.5 .4h0m2 .4h0m.2-.2h0m2 .4h0m.7 1h0m.4 .3h0m-13.5 1.2h0m1.1 1.8h0m-6.5 1.1h0m.8-.2h0m3.1 2.6h0m1-1h0m1-.6h0m1.6-1.3h0m10.8 .4h0m-14.5 4.9h0m4.5-1.1h0m-8.8 4.2h0m.7-1.3h0m1.1-1h0m4.2 .4h0m.7 .9h0m-6.3 2h0m2.1 .1h0m3.4 1.8h0m-6.1 2.5h0m.6-.7h0m.2-.5h0m3.7 2.2h0m.1-1.8h0m1.1 1.2h0m.5 .3h0m1.1 .2h0m.1-1.8h0m2.4 .2h0m-8.6 4.9h0m3.7-2.6h0m2.3 .6h0m-7.5 2.3h0m1.9 1.1h0m3.2 1.5h0m1.9 2.7h0m1.9-2.6h0m-4.8 5.7h0m.2-2.3h0m5 2.5h0m.6-2h0m-8.1 2.3h0m1 2h0m.1 2.1h0m3.6-.1h0m.2-.6h0m3 .7h0m-8.1 2h0" stroke="#DCA096" stroke-width="1.25" stroke-linecap="round"/>
<path d="M201.2 777.6h0m0 .2h0m3.4-1h0m.3 .5h0m1 1.1h0m-5.8 2.2h0m2.5-1.5h0m.8 1.7h0m.7-1h0m.9 1.4h0m.2-2.2h0m.6 .1h0m2.1 1.6h0m1.6-.6h0m-9.4 1.5h0m.2 2.2h0m.9 0h0m1.8-1.8h0m.1 1.4h0m.1 1h0m0-2.5h0m1.4 .2h0m.4 1.6h0m.5 .8h0m.5-2.8h0m1.3 1.1h0m1.6 .9h0m.2-.5h0m5 .1h0m-15.2 2.9h0m.1 .3h0m1.2-1.3h0m2.1 .1h0m1.1-.5h0m1.6 .4h0m1.4 1.2h0m.8-.8h0m3.3-.9h0m1 1.5h0m.8-1.6h0m1.2 1.5h0m.6 .1h0m.8-.7h0m.4 1.8h0m2.9-1.7h0m.8 1.1h0m-18.5 1.4h0m.7 .9h0m4.2 1.5h0m.1-2h0m1.9 .3h0m.4-.4h0m3.1-.6h0m4.5 1.6h0m.6 1h0m.9-1.8h0m1.3-.2h0m1.4 1.3h0m.4-2.2h0m.5 2.6h0m.2 .1h0m.8-.7h0m0 .5h0m.6-1h0m11.3 1.3h0m-30.5 2.2h0m1 .8h0m.3-2.6h0m2.5 1.9h0m.1-.6h0m.2-.8h0m.4 2.2h0m1.5-1.8h0m2.5-.4h0m5.7 1h0m1.8 .3h0m1-.3h0m.4-.7h0m.4 1.9h0m.8-.8h0m3.3-1.1h0m.5-.4h0m0 .4h0m.5-.3h0m.9 1.2h0m.9-1.7h0m1.2 0h0m1.7 .7h0m1.4 1h0m.8-1.9h0m1.8 1.1h0m.5 .7h0m-34.4 3.2h0m.5-1h0m0-.9h0m.6 .4h0m.4 2.4h0m1.3-1.4h0m2.2 .1h0m1.1 .7h0m2.6-.4h0m3.3-1.7h0m.4 .2h0m2.3 2.4h0m1 .2h0m1.5-1.4h0m1.6-.3h0m1.3 .1h0m.3 1.2h0m2.1-1.1h0m.4 .9h0m.9-1.2h0m.2-.2h0m0 0h0m.9-.7h0m1.2 .4h0m.2 1.8h0m4.2-1.2h0m1.9 1h0m0-2.2h0m2.6 0h0m.5 1.4h0m.7-.5h0m.4 .5h0m-39.5 2.5h0m1.8 .6h0m.2 .5h0m.5 .9h0m3.4-2.2h0m.2 1.1h0m.1-.1h0m1.4-.5h0m1.6-.1h0m.3 .8h0m2.4 .3h0m.4-.4h0m1.7-.8h0m.2 .2h0m.8 .9h0m1.4-.9h0m1.6-.3h0m.2 .3h0m3.7-.8h0m1 .6h0m2.1 1h0m.4-1.1h0m1.3-.9h0m1.1 2.2h0m.4-.7h0m.5-1.1h0m.7 1.4h0m1.1-1h0m2.8 .5h0m1-.1h0m1 .5h0m1.9 .3h0m4.2-.2h0m.1 .1h0m.2-.9h0m.3-.2h0m-41.9 3.2h0m1-.3h0m.4 1.6h0m.1-.3h0m.8-1.9h0m.2 2.3h0m2-.7h0m1.1-.5h0m.1-.2h0m1 1.2h0m.2-.1h0m.7 .5h0m.7-.1h0m1.4-2.5h0m1.2 .8h0m.6 0h0m.7-.6h0m1.2 2h0m.1-1.9h0m.7 2.5h0m.5-1.8h0m.9 1.1h0m.9-.1h0m.9 0h0m.7 .8h0m.2-2.3h0m.4 .9h0m.6-1.1h0m1 2.4h0m.3-1.2h0m1-.6h0m.4-.1h0m.9 1h0m3.3-1.3h0m3.6 .4h0m.3 1.4h0m1.4-2.1h0m.4 1.9h0m0-1.3h0m.6 1.9h0m.2-.6h0m.9-1.7h0m3.6 1.9h0m.7 0h0m.6-.7h0m.3 .6h0m.6-1.8h0m.1 1.2h0m1.7-1.4h0m.8 1.7h0m-40.1 2.4h0m.6 .2h0m1.7-1.5h0m.5 2h0m1.5-.9h0m2 .3h0m.4 .5h0m1.7-1.2h0m.6-.6h0m.3 1.8h0m.2-1h0m1.4-.3h0m.2-.1h0m.1 .9h0m.7-1.3h0m.8 1h0m3.6 1.1h0m.1-.3h0m2.5 .5h0m4.3-2.4h0m3.4 2.4h0m.1-1.3h0m6.2-.7h0m.5 0h0m.1 .3h0m.8-.1h0m.6-.1h0m1.4 .7h0m1.5 1.1h0m.2 .1h0m1.5-2.4h0m.4 1.6h0m1.8 .7h0m.3-.3h0m0 .1h0m-41.9 3.7h0m2-1.8h0m1.3 .5h0m2.7-1.6h0m2.9 .3h0m14.2 .2h0m2.1 1.6h0m.1-.3h0m1.1-.4h0m.4-.4h0m.4 .6h0m.1-1.6h0m1.8 .1h0m1 1.6h0m.1 .9h0m1 .3h0m3-.2h0m.1-2.7h0m.4 .2h0m.4 0h0m.3 2.3h0m.5-.8h0m5.6 1.1h0m.2-1.3h0m1.8-.6h0m.3-.6h0m-41.3 3.7h0m1 .9h0m10.1 .1h0m.8-.2h0m5.8 .1h0m2.9 .1h0m1.7 .5h0m.2-1.4h0m.4 1.8h0m1.6-1.9h0m2.2 1.5h0m.9 0h0m.4 .1h0m1.2-2h0m1.6 1.2h0m.2-1.1h0m0-.7h0m5.6 .4h0m1.4 0h0m.9-.4h0m.9 .4h0m-44.4 4.8h0m2.5-2.2h0m2.4 1.3h0m5.3 .1h0m3.3-.7h0m1.4 1.8h0m2.4-.7h0m.7-.8h0m1-.4h0m4.5 .7h0m2.7 1.3h0m1-1.6h0m4 .8h0m.3-1.5h0m.7 .8h0m2.3 1.3h0m0-2.1h0m.9 .1h0m-41.7 4.9h0m0-1.2h0m6.7 .3h0m6.1-1.4h0m.6 2.4h0m15.5-1.9h0m.3 2.5h0m3.1-.4h0m2.7-2.1h0m2.3 1.7h0m.3-.3h0m2.5-1.8h0m.8 .9h0m.4 1.9h0m.1-2.7h0m-40.6 4h0m2.1 .3h0m14.1-.8h0m11.9 1.7h0m3.7 .5h0m.1-2.4h0m2.6-.3h0m.8 1.6h0m1-.8h0m.5 0h0m.9 0h0m.1 1h0m.9-1.5h0m.9-.2h0m1.3 1.7h0m-46.2 3.7h0m.8-.2h0m10.2 0h0m4-1.8h0m1.9 .6h0m5.1-.9h0m2.3 0h0m.3 .6h0m14.4 0h0m.5 .8h0m.3-1.4h0m.1 .3h0m1.7-.5h0m1.4 1.3h0m.2 .5h0m2.3-.5h0m-44.2 3.6h0m.4-.1h0m5.3 .1h0m20.7-.8h0m3.5 .3h0m4.7 0h0m.9 0h0m6-1.3h0m1.3 .3h0m.3-.5h0m1.3 0h0m-40.7 5.5h0m.3-.5h0m.6-.1h0m2.1-1.9h0m1.4 1h0m2.2-.3h0m1.8-.2h0m4 1.1h0m2.2 1h0m6-2.5h0m7.7 1.3h0m2.4-.5h0m.4 1.6h0m.2-2.2h0m.3 1.4h0m1 .9h0m.6-.1h0m.9-2.4h0m.3 1.8h0m.5 .6h0m4 .3h0m1.2-2.7h0m.4 2h0m-46.7 1h0m2.6 1.4h0m6-.9h0m10.5 .9h0m2.7 .3h0m3.4-.9h0m12.5 1.2h0m1.7-.9h0m3.2 .8h0m-44.8 3.5h0m14.4-.1h0m4.7 .1h0m13.4-1.8h0m5.4-.4h0m.9 1.9h0m.8-.4h0m6.5-1.8h0m.1 .1h0m.9 2.2h0m1.3-2.3h0m.9 1.9h0m-51.8 2.4h0m.7 0h0m4.5-1.3h0m1.4 2.7h0m6.7-1.8h0m1.7-.9h0m1.2 1.2h0m.8 .9h0m.1-.8h0m.7 1.6h0m1.6-.6h0m1.1-1.2h0m3.1-.7h0m1.3 0h0m5.8 2.2h0m1.5-2.1h0m2.3 1.7h0m1.4 .1h0m4.1-2.1h0m3.2 1.8h0m1.6 .9h0m1-1.8h0m0-1.1h0m3.5 2.1h0m1.8-.2h0m.5 .6h0m-54.5 2h0m3.9 .5h0m10.7 .7h0m7.1-.6h0m2-1.4h0m8.1-.4h0m.3 1.9h0m6.5-1.1h0m9 1.3h0m1 .1h0m1.1-.7h0m1.7-.6h0m2.9-.6h0m.3 .1h0m-55.7 3h0m.1 1.4h0m3-.5h0m9.5 .6h0m2.4-.7h0m2.9-1.5h0m10.9 1.5h0m1.4-.4h0m1 .3h0m3.9 1.5h0m4.1-2.1h0m.6 1.6h0m1.3-.9h0m5.5-.3h0m-39.9 4.1h0m6.4-1.7h0m.4-.1h0m5.1 .2h0m.2 .4h0m1-1.1h0m7.3 .9h0m.4 .2h0m2.9-.1h0m8.6 .7h0m5.6 .9h0m1.5-.3h0m1-.4h0m-48.1 2.7h0m1.7 .4h0m1.4 .3h0m3.2-1.1h0m.7 .6h0m5.3 1h0m3.5-.4h0m1.3-.5h0m5.2 .4h0m10-.6h0m6.9-.9h0m5.1-.7h0m-30.2 4h0m.2 1.3h0m1-.5h0m.4-.2h0m7.2-.6h0m2.2 .7h0m17.7-.8h0m-42.2 3.8h0m2.2-1.8h0m1.8 1h0m6.7 1.6h0m1.5-.8h0m1.4 .9h0m6.4-.9h0m7 .3h0m2.6-2.1h0m.6 1h0m4.9-1h0m-35.4 3.4h0m10.5 1.6h0m.5-.1h0m4.3 .9h0m1.3-2.1h0m1 1h0m3.2-.5h0m2.3 1.2h0m2.3-.5h0m1.3 .9h0m2.6-1.9h0m1.6-1h0m3.3 2.7h0m2.8-.9h0m-32.8 2.9h0m1.5 1.3h0m9-1.4h0m.2 .3h0m2.6-.1h0m5.1 .1h0m2.9-1.4h0m5.5 1.2h0m2.6 1.2h0m-28.9 .3h0m3.6 2.6h0m5.3-1.5h0m.9 1.4h0m7.5-.6h0m2.2-1.7h0m6.3 1.9h0m.5 .6h0m-21.9 1.7h0m.6-.7h0m6.3-.5h0m3.4 .8h0m0-.1h0m1.1 1h0m1.9-1.9h0m2.4 .7h0m6.8-.2h0m.3 .6h0m-19.2 4.3h0m12.1-.2h0m-8.7 .6h0" stroke="#DF8577" stroke-width="1.25" stroke-linecap="round"/>
<path d="M202.1 776.1h0m2.6 4.5h0m5.7-.2h0m-3.6 2.3h0m2.2 .4h0m3.9-1h0m-9.4 4h0m.7-.4h0m2.1 1.7h0m2.2-2.4h0m.2 .3h0m.1 0h0m.8 1.2h0m1.7-1.3h0m1.1 1.5h0m.9 .1h0m-12.9 1.6h0m2.5 1.8h0m2.6-2.6h0m4.1 1.1h0m11.8-.9h0m-18.2 3.6h0m2.7-.3h0m.8 .2h0m.1 2.2h0m.9-.6h0m1.8-2.4h0m2.7 1.5h0m.7 .5h0m1.7-1.5h0m.7 .5h0m.8 1.4h0m.8-.1h0m.4-1.4h0m1.6 .6h0m4.1 1h0m.2-.8h0m.9 1h0m1.1-1.5h0m3.8 1.1h0m1.3-.4h0m.3 .2h0m2.1-.4h0m1 .3h0m1-1.3h0m.6 1.8h0m-36.7 2.4h0m5.8-.2h0m4.9-.2h0m1.6-1.2h0m.7 1.5h0m1.7 0h0m.1 .5h0m.7-1.5h0m.8 1.8h0m2.4-2.4h0m.1 2.4h0m.5-1.7h0m.1 1.6h0m2.5-1.1h0m2.9 .2h0m1.2 1.2h0m1.3-1.8h0m.5 .9h0m2.2 .7h0m2-1.2h0m1.4-.7h0m2.4-.1h0m2.8-.3h0m-35.9 4.8h0m1.2-1.3h0m2.6 .2h0m2-.2h0m2.1 1.7h0m10.1-.7h0m1.1 .3h0m2.2-.7h0m4.2 1.2h0m.9 .1h0m1.1-2.6h0m5 1.1h0m5.1 1.2h0m.5 0h0m-40.8 2.2h0m1.4-.4h0m.4-.6h0m.9 1.2h0m4.2-.6h0m1.4 1.6h0m0-1.8h0m6.6 1.8h0m3.8-2.1h0m1.7-.2h0m.3 .4h0m2.1-.4h0m.2 1.4h0m4.7-.1h0m3 .4h0m5.9-1.6h0m.3 .2h0m0 1.9h0m.9 .1h0m.7-.8h0m2.8-.4h0m-41.2 3.9h0m4.2-2.2h0m.6 1.6h0m1.9 .9h0m.7-2.4h0m.6 .2h0m3.3 1.2h0m.4-1.3h0m1.9 2.2h0m1.8-1.3h0m4.5-1.1h0m1.8 .3h0m4.1 .7h0m1.3 .7h0m0 .2h0m8 .1h0m3.5-.9h0m.5-.1h0m1.5 1.5h0m0-1.3h0m.2 .8h0m.4-2.1h0m.6 .5h0m1.1 2.1h0m1.4-1.5h0m-46.3 3.5h0m.7 .1h0m1.6 .7h0m.9-2h0m1.1 .5h0m.9-.7h0m1.1 1.5h0m.3-1.9h0m1.4 2.5h0m.4-1h0m.8 .4h0m.2 .8h0m.7-1.7h0m0 1.3h0m.6-1.7h0m3.4 0h0m.9-.2h0m.8 .9h0m3.7 1.4h0m1.1 .1h0m5-.4h0m5.2-1.8h0m.5 2h0m1.6-1.5h0m3.6 .6h0m6.3-1.5h0m1.7 2.1h0m.5-1.4h0m-45.2 2.8h0m.1 1.2h0m.1 .1h0m1.7-1.5h0m1.3 1.6h0m2.2-.7h0m1.4 .6h0m.9-1.6h0m.4 2.3h0m1.1-.1h0m2.5-1.7h0m.4-.6h0m4.7 1.4h0m.8-.8h0m.6 1.7h0m.6 .2h0m1.2-1.8h0m2.7 1.2h0m.9-.7h0m.1-.8h0m.3-.4h0m8.2 .4h0m1 2.1h0m.4-1.6h0m7.2-1.1h0m-41.1 5.7h0m0-.8h0m1.5 0h0m.6 .7h0m.2-.9h0m.7-1.2h0m2.2-.6h0m1 1.2h0m.2 1.4h0m1.4 .4h0m.5-.6h0m.4-1.7h0m.2-.2h0m2.9 .6h0m.5 1.8h0m2.2-2.8h0m.7 .3h0m.7 1.1h0m.8 1.1h0m3.5-2.1h0m1.7-.2h0m0 2.4h0m.7-2.1h0m1.3 2.1h0m.4-1.1h0m0-.7h0m5.4 1.6h0m7.2-1.4h0m-42.3 2.7h0m1 1.9h0m.8-2.2h0m.1 .3h0m.7 .2h0m2.2 .8h0m1-.4h0m.1 0h0m1.2-.2h0m.6 1.3h0m.3 .4h0m1.7-2.8h0m.3 .5h0m1.3 .3h0m.3-.7h0m.4-.1h0m1.2 1h0m.4 .8h0m1.1-1.8h0m.1 .5h0m.4 .5h0m0 1.8h0m.8-1h0m1.5 .4h0m1.9-1.1h0m6.5 1.7h0m0-.8h0m1 .2h0m.1-.7h0m.1-.2h0m.4 .1h0m1.7-1.3h0m2.6 .1h0m1.6 2.6h0m2.9-1.2h0m1.8 1.1h0m3.1-1.2h0m.6-.5h0m-42.9 4.6h0m0-1.9h0m.5 .6h0m.3-.9h0m1.1 2.2h0m.2-1.5h0m.5 1.3h0m0-2.4h0m.1 .2h0m2.1 .3h0m.5 .7h0m.1 1h0m1.5 .1h0m.1-2.3h0m.3 2.9h0m.7-.1h0m.5 0h0m1.1-2.8h0m.4 .9h0m.6 2h0m.4-.2h0m.3-.3h0m.8-1.7h0m.3 .3h0m3.3 0h0m.6 1.1h0m1.6-1.9h0m1.9 2.3h0m1 0h0m.8-1.8h0m2.3 1h0m.2 0h0m.3-.6h0m.7-.6h0m.4 .7h0m1.6 .2h0m1.4 .8h0m.2 .4h0m3-1.6h0m2.5 .8h0m5 .2h0m1.1-2.1h0m3.5 1.6h0m-44.8 4.1h0m.4-1.4h0m.4-1.1h0m.9 2.2h0m2.2-.3h0m2.6-1.7h0m.2 .3h0m1.3 .1h0m1.9 0h0m1.4-.4h0m.2 1.1h0m1-.4h0m.5 1h0m.5-.5h0m.1 .2h0m1.8 0h0m.5 .2h0m.9-1.5h0m1.8 1.8h0m5.1-.1h0m.1-.3h0m.2 .2h0m2.5-.8h0m1.8 1h0m1.5-.7h0m.9-.2h0m.9 0h0m.7 1.5h0m0-1.8h0m1.1-.1h0m2.2 1.1h0m6.9 .5h0m.4-1.9h0m.4-.3h0m.1 .9h0m-46.5 4.1h0m.3-.4h0m.5 .8h0m2.1-1.2h0m.2 1.1h0m.5-1.1h0m.1 1.2h0m.5-2.1h0m.5-.5h0m.1 2.1h0m1.9 0h0m.1-1.2h0m.5-.8h0m.3 1.5h0m2 .7h0m.4-1h0m.3-1h0m.5-.4h0m.4 1.5h0m.3 .2h0m.1-1.7h0m1.3 1.4h0m1-.9h0m2.2 2.1h0m.5-.3h0m2-1.4h0m.2-.7h0m.8 1.4h0m.7 0h0m.2-1.2h0m6.1 2.1h0m2.9-.7h0m2.2 1h0m.7-.6h0m.7 .4h0m.3-1.2h0m2.6 .7h0m.1-1.7h0m1.9 2.2h0m4.3-2h0m1.8-.1h0m.7 1.3h0m1.5-1h0m.2 1.8h0m-46.1 3h0m1.3-1.2h0m.6 .9h0m.7-.6h0m.4-1.5h0m1.7 2h0m2.2-2.1h0m2.3 2.4h0m1.2-1.7h0m.2-.8h0m1.6 .9h0m1.3 .9h0m0-1.1h0m.3 .4h0m.9 .7h0m1 .7h0m0-1h0m.6 1.1h0m.8-1.7h0m.5-.9h0m.6 .9h0m0 1.9h0m.7-.8h0m.9-1.9h0m.3 2.3h0m.2-1.6h0m1.6 1.2h0m3.7-.7h0m1.4 .8h0m.6-.8h0m6.2-1.2h0m1.6 .9h0m5.1-.3h0m3.3 1.3h0m1.3-1.6h0m.2 .3h0m.4 1.6h0m0 .2h0m.8-.8h0m-50.2 2.9h0m1.9 .6h0m1.7-1.8h0m.7 1.2h0m0-.4h0m.5-.3h0m.5 .8h0m2.5 .9h0m1-2.7h0m.3 1.1h0m3.4 1.5h0m3-.4h0m.2 .2h0m0-1.9h0m.7 .3h0m.9 .6h0m0-.8h0m.2 2.3h0m2.6-2.7h0m1.8 .6h0m.1 1.5h0m.1-1.5h0m.2-.7h0m.9 2.4h0m0 .1h0m.6 .1h0m.5-1.4h0m3.2 .2h0m1 1.1h0m.7-.2h0m.9-2h0m3.1 1.4h0m2.4 .8h0m2.2-.5h0m1-1.4h0m2.4 2.2h0m1-.8h0m3.5-2h0m.4 .4h0m1.2 2.5h0m.6-1.1h0m1.3 .1h0m.8-1.7h0m-50.8 3.6h0m1.4 1.4h0m1.2 .3h0m.1-1h0m.1-1.3h0m.2 2h0m.4 0h0m.1-1.9h0m.7 1.9h0m1.4-2.1h0m1.5 1.4h0m.3-.6h0m0 0h0m1-.7h0m2.1 1.3h0m.1 .1h0m.1-1h0m.8 1.6h0m2.4-1.2h0m.3-.4h0m3.6 0h0m.3 2.1h0m.5-.5h0m.9-2.3h0m.1 2.8h0m.5-1.9h0m.9 1.8h0m.4-.2h0m1.7-.7h0m1.5 .9h0m4.4 0h0m1-2.2h0m3.7 2.4h0m.6-.6h0m.3-1.9h0m.9 .8h0m.8 1.5h0m.6-2.2h0m2.7 2.1h0m1.3-1.8h0m.9 .9h0m.2-.9h0m2.6 1.5h0m3.1-1.7h0m.7 .5h0m2.3-.7h0m.7 2.2h0m-53.8 1.9h0m2.6-.4h0m.5 1.9h0m.1-1.5h0m0-.3h0m1.2 .2h0m.1 1.5h0m.5-2.1h0m1.4 2h0m1-.4h0m0-2.3h0m.7 .4h0m.9 .9h0m.8-1.4h0m0 2.8h0m.8-1.5h0m.1 .9h0m1.1-1.4h0m.1-.1h0m4.9-.2h0m.9 1.9h0m.5-1.8h0m7.3 1.9h0m.1-1.3h0m.4-1.2h0m.8 2.2h0m.7-1.4h0m.4-.2h0m.8 2.1h0m2-1.7h0m1.8-.3h0m1.1 2h0m.6-2.7h0m.5 1.3h0m2.1 .1h0m.2 .4h0m1 .3h0m.7-1.8h0m1.5 .1h0m1.9 1.3h0m1.2 .6h0m.7-.3h0m5.2-.4h0m.9-.8h0m-53.8 4.4h0m5.1-1.1h0m.8 1h0m.2 .3h0m.3-.8h0m1.6 .8h0m1.3-1.8h0m.5 .3h0m.6-.2h0m2.2 0h0m2.7 1.6h0m.3-1.1h0m1 1.4h0m.7-.2h0m.4-1.2h0m.1 1.4h0m1.2-1.6h0m1.8 .7h0m3.1 .5h0m3.5-1.7h0m1.8 .9h0m1.1 .5h0m.2 .7h0m.8-1.7h0m1.2 2h0m.2-2.1h0m.9 1.3h0m.3 .9h0m.2-.2h0m.2-1.5h0m.4 .2h0m.9 .4h0m1.5-1.1h0m.2-.1h0m.4 .1h0m2.7 .3h0m1-.3h0m1.4 1.1h0m3.3 .5h0m.5-.8h0m.7-1.5h0m.9 .5h0m2.1 .5h0m.6 .4h0m.2-.9h0m.3 0h0m.1-.4h0m1.1 0h0m-53.4 3.9h0m.2 1.6h0m.7-.1h0m.7-1.2h0m.3 1.3h0m.9 .3h0m2.2-2h0m.3 1.7h0m.3-1.8h0m4.3-.2h0m1.1 2.3h0m4-.3h0m.6-.6h0m1.2-.8h0m.1-1.3h0m.5 .2h0m.9 2.6h0m1.4-1.7h0m2 .2h0m0 .4h0m.2-1.1h0m1.2-.5h0m0 2.2h0m0-.3h0m.5-.6h0m1.3-.8h0m.5 1.7h0m.9 .3h0m3-1.7h0m.7 1h0m1.6-.1h0m1.4-1.1h0m1.9-.1h0m.1-.4h0m.9 0h0m.3 1.2h0m1.6 .7h0m1.6-.6h0m.4 .8h0m.4-.8h0m1 .6h0m.1-.3h0m.5-.6h0m1.5 0h0m1.8 1.8h0m2.3-.1h0m1-.3h0m.3-.6h0m.2-1h0m.9 1.5h0m.3-2.4h0m-49.9 4.8h0m.9-.7h0m.1 1.6h0m3-2.2h0m.7 1.9h0m.8-.7h0m.6-.5h0m1.6 0h0m2 1.3h0m2.4 .3h0m.9-1.6h0m.4-1h0m3.6 .1h0m.1 2.3h0m.5-.4h0m2.3-.4h0m.1 .5h0m.3 .1h0m1.1-1.7h0m.3-.7h0m.8 2.6h0m2.4-1.2h0m1.9-.5h0m.4-.9h0m3.2 1.8h0m.7-.8h0m1.5 .4h0m.2 1.2h0m1.1-1.5h0m.8 1.5h0m1.1-1.5h0m.5 .2h0m2.9-1.3h0m.2 .5h0m.3 1.4h0m.6 .1h0m1-1h0m1.3 1.1h0m.2 .8h0m0-.4h0m.6-1.7h0m2.4 1.8h0m.9-1.5h0m2.9 .1h0m.1-.3h0m.2 0h0m-49.5 3h0m.8 1.9h0m.1-1.2h0m.6-1.3h0m.2 1.4h0m1.8-1.6h0m1 2.6h0m2.8-.1h0m.3-2.4h0m4.2 0h0m.4 1.2h0m.1-.1h0m3.7 .8h0m2.1-1.8h0m.6 1.2h0m.5-1.5h0m.7 .7h0m1.6 1.7h0m.4-1.4h0m.6 .3h0m0-1.3h0m1.6 2h0m1.7-1.7h0m.4 2.3h0m.3-1.3h0m.5 .1h0m.6-1.2h0m.2 2h0m2.6-1.7h0m.6 .3h0m.3-.4h0m.4 1.4h0m.2-1h0m.5 1.9h0m1.9-2h0m.3-.7h0m0 1.3h0m.8 .8h0m1.4-1.7h0m.3 .2h0m1.4 1.7h0m.1 .6h0m2.3-1.6h0m1.4 1.4h0m.1-1.4h0m0 .2h0m2.1-1.1h0m.7 1.8h0m.3 .7h0m1.9-1.9h0m-47.8 2.8h0m1.9-.9h0m.1 .9h0m.9 1.4h0m.7-.2h0m.2-1.9h0m.6-.1h0m.3 .2h0m1.3 1h0m0-.6h0m1.6-.7h0m1 1h0m.3 1.6h0m3.5-2.4h0m.9 2h0m4.6-2.2h0m.9 .8h0m3.4 .6h0m.6-.7h0m.8 1.2h0m.1-1.1h0m.3 .8h0m.7-.8h0m.5 1h0m.3-1.4h0m.5 1.8h0m.3-2.1h0m.9 .9h0m.2 .3h0m1.1-.7h0m.1 1.7h0m.7-1.3h0m.4 .4h0m1.5 .8h0m.1 .1h0m1.2 0h0m.2 .5h0m1-.1h0m.5-.3h0m1.6-.8h0m.5-1.5h0m.4 .6h0m.2 1.4h0m.3-1.7h0m.2-.4h0m3.3 1.4h0m.5 .5h0m.6-.9h0m-39.2 2.5h0m.3 .5h0m1.3 1.8h0m.6-1.8h0m1-.6h0m1.5 2.2h0m.6 .1h0m1.2-2.1h0m.9 .3h0m1.5 .8h0m2.4 1.2h0m.4-1.3h0m1.1 1.3h0m1.6-.5h0m.2 .1h0m.3-.8h0m1.4-.6h0m1-.9h0m1.5 1.6h0m.9-.5h0m.3-.9h0m1.1 1.6h0m1.9-.6h0m1.3-.2h0m1 .7h0m0-.8h0m1.2-1.1h0m.3 .4h0m.4 .9h0m0-.1h0m2.8 .2h0m0-.9h0m3.6 2.3h0m2.8-1.1h0m.2-.8h0m.1-.9h0m1.7 .8h0m2.7 1.8h0m.9-1.7h0m-43 2.3h0m1 0h0m1.4 2.8h0m3-2.8h0m0 0h0m1.8 1.4h0m.4 1.2h0m.5-1.5h0m.5-.5h0m0 .6h0m1.1-.2h0m.2 1.6h0m.6-2.6h0m.7 .7h0m2.7-.3h0m.8 1h0m.4 .7h0m.3-.7h0m.4 .7h0m.7 .3h0m.3-1.5h0m.9-1h0m.2 1.9h0m.3-1.8h0m.1 .3h0m1.2 .3h0m.7 .5h0m.6-.1h0m1.8 .3h0m.5 .6h0m1.7 .6h0m.7-1h0m0-.3h0m.6-.6h0m.3 .6h0m.4 1.1h0m.1 .4h0m.5-2.9h0m.7 2.3h0m.1-.4h0m.7-.6h0m1.1-1h0m1.2 2.3h0m.6-2.4h0m.8 1.4h0m2.7-1h0m.5 .1h0m1.5 .1h0m1.3 1.7h0m.2-2h0m1.2 1.3h0m.3-.6h0m1 0h0m0-.4h0m-40.2 2.4h0m1.1 1h0m0 1.6h0m1.6-.2h0m2.7-1.3h0m.5-1.2h0m.3 2.9h0m.1-.6h0m1.2-1.5h0m1.4 1.6h0m.2-.4h0m.8 .7h0m.8-.8h0m.3 .7h0m.2-.8h0m.4 1h0m.9-1.9h0m.7-.4h0m.7 2.1h0m.5-1.9h0m.1 0h0m.1 2.1h0m.4-1.9h0m1.6 1.3h0m.9-1h0m.9 .6h0m.8-1.2h0m2.4 .8h0m.6 1.1h0m1.5-1.1h0m.8-.9h0m.6 1.3h0m1.1 .1h0m1.9-1.3h0m1.5 .8h0m.1 1h0m.3-1.9h0m.2-.1h0m.6 .8h0m.6 1.2h0m.3 .1h0m1.1-.5h0m.5 .9h0m.3-1h0m.7-1.6h0m.3 2.5h0m2-2.8h0m-32.5 4.1h0m1.1-.8h0m1.8 .6h0m1.4 1.8h0m.1-.4h0m.8-.4h0m.9-1h0m1.3-.1h0m1.9-.7h0m.2 .2h0m1.2-.3h0m.3 1.8h0m3.2-.2h0m0-.7h0m.5 1.6h0m2 .2h0m1.1-2.6h0m1.8 2.5h0m1.1 .2h0m.2-.3h0m1.8-.9h0m1.1 .3h0m1.3-.6h0m.2-1.3h0m.9 2.8h0m.3-.8h0m0 .4h0m.5-.9h0m0 .3h0m1.1 0h0m.2 0h0m-27.7 1.5h0m.6 .7h0m.6-.5h0m.1-.5h0m1.5 1.4h0m3.6-1.5h0m.1 2.2h0m.6-.1h0m.3-.5h0m1.3-.8h0m0 0h0m.7 1h0m1.3 1.1h0m.8-2.1h0m1.4 1.4h0m.4-1h0m.2 1.3h0m2.4-2.3h0m1.3-.1h0m.7 .2h0m.3-.2h0m.7 .9h0m3.4 1h0m0 .1h0m.2 .2h0m1.1-.1h0m.3-.2h0m.6 .8h0m-19.9 .7h0m2.8 .4h0m.3 .3h0m.3 .8h0m1.1-.2h0m1.4-1h0m.2 .3h0m.9 0h0m2.1-.2h0m.4-.3h0m.9 1.6h0m.1-1.4h0m.6 1.4h0m1.6-1.1h0m0-.2h0m0 .4h0m.1 .2h0m.1-.3h0m.4 1.3h0m.7 0h0m.4-1.9h0m.3-.3h0m.4 1.1h0m1.1-.7h0m2.5 .4h0m-9.6 2.2h0m.6-.3h0" stroke="#E26A57" stroke-width="1.25" stroke-linecap="round"/>
<path d="M197.8 805.3h0m2.8 0h0m11.9-.3h0m6.4 .4h0m-22.1 1.5h0m1.5 .3h0m6.9-1.1h0m2.7 1.7h0m.5-2.3h0m1.4 2.1h0m1.5 .2h0m2.1-1.2h0m0 .2h0m2.9-.9h0m2.3 1.1h0m1.3-1.1h0m-23.8 5.5h0m1.2-.4h0m2.9-.7h0m1.5-1.2h0m2.5-.5h0m.1 1.5h0m.9-.4h0m2.2 0h0m4.2 .9h0m1.3-.3h0m.4-1h0m2.2-.7h0m1.1 2.6h0m.9-1.7h0m.2-.1h0m2.7-.2h0m-25.4 3.7h0m1.7 .3h0m0-1.1h0m.6 .1h0m.4 1.6h0m.8 .6h0m.3-1.5h0m.6 1.1h0m.6-2.4h0m.7 .1h0m1.3-.1h0m.2 2.6h0m.1-.2h0m.5-1.8h0m.1 .2h0m1.6 1.4h0m2.6 .5h0m.4-2.5h0m.9 2.4h0m.6 .1h0m8.2-2.6h0m2.1 1.4h0m1.6 .7h0m.9-2.2h0m-31.1 5.7h0m2.6-1.9h0m.9 1.7h0m2.1-.3h0m3.8-.4h0m.7 .5h0m.4 0h0m1-.8h0m1.1 .1h0m1.4 .5h0m1.1-1.4h0m.8 .9h0m.2-.9h0m4.4-.6h0m2.4 2h0m6.5-1.5h0m.2 1.7h0m-31.2 2.6h0m.5-1h0m1 .7h0m.8 .1h0m2.2 .1h0m2.6-1.1h0m1.6 1.5h0m1.1-.5h0m.7-1.2h0m2.2 1.2h0m2.5-1.3h0m.1-.3h0m.9 .2h0m.1 2h0m1.1-.2h0m2-1.2h0m.5 1.9h0m4.8 .1h0m.4-2.1h0m.7 .7h0m.6-1.2h0m1.7 1.3h0m.4-.2h0m3.3-.3h0m-33.8 4.4h0m1.2-2.1h0m.3 .3h0m1.9 .2h0m1.1 1.5h0m.2-.8h0m.1-.4h0m.3 1.3h0m3.8-1.2h0m1.7 1h0m.4-2.1h0m1.2 1.6h0m.3-1h0m2.1-.2h0m0 .6h0m.2 1.6h0m.3-2.5h0m1.1 2.4h0m.3-1h0m3.6-1.7h0m.3 1.2h0m4.9-.4h0m2.2 .9h0m3.8-1.8h0m.2 .4h0m-30 2.9h0m.4 1.7h0m.7 .2h0m.4-1h0m.5 .3h0m.2-1.5h0m.6 2.5h0m1.2 .5h0m.2-1h0m1-.6h0m2.1 .8h0m1.4-1.2h0m.8 .1h0m.5 1.7h0m2.2-2h0m.7 0h0m1.8 .8h0m2.2 .5h0m.9 .8h0m.4-2.9h0m1.2 .1h0m.1 1.7h0m.2-1.7h0m6.1 .3h0m.3 .8h0m3.6 .2h0m.5 1h0m3.4-1.7h0m-37.2 5.1h0m1-2.1h0m1-.1h0m1.8 .8h0m2.2 .2h0m.6-.9h0m.2 1.3h0m.6-1h0m.2 1.2h0m2-1.5h0m.1 0h0m1.3 .6h0m.7 1.1h0m1.5-.1h0m.7-.6h0m.2-.8h0m.2 .5h0m.9 .1h0m4.3-.1h0m2.2 1.4h0m1.3-.3h0m.9-.7h0m.5 .7h0m2 .5h0m8.2-1.4h0m2.1 .6h0m-36.6 2.6h0m1.1-.3h0m.3-.2h0m.6 .9h0m.7 .6h0m.1-1.3h0m1.5 1.2h0m.2-2.4h0m0 1.3h0m.3 .9h0m.1-1.2h0m.4 .7h0m.8 .7h0m.1-.2h0m.9-2.1h0m.6 1.1h0m1.6-1.2h0m2.8 2.7h0m.1-.5h0m.5-2h0m.7 .7h0m1 1.3h0m.5-1h0m.3 .7h0m.3-1.4h0m.2 .2h0m.4 1.4h0m2.7 .6h0m.4-2.1h0m1.6 2h0m2-2.6h0m.8 .1h0m4.4 .3h0m.5 .5h0m1.3-.5h0m2.2-.2h0m1.6 1.2h0m.7 .3h0m-36.6 2.5h0m.1 .5h0m.2-1.2h0m0 1.4h0m.4 .6h0m.1-.1h0m.8-1h0m.9-1.3h0m.4 .5h0m.5 .2h0m2.3 1.7h0m2.2-1.6h0m3.4-.4h0m0 1h0m.5 1h0m0-1.2h0m1.7-1h0m1.6 2h0m.4-1.1h0m3.9 1.4h0m.4-.7h0m1.7 0h0m1.1-.4h0m1-1.3h0m0-.1h0m1.1 1.4h0m3.1-.9h0m1 .9h0m.3-1.6h0m.7 1.1h0m3.4 .5h0m2.7 .9h0m.2-2.7h0m.4 2.1h0m.7-1h0m2.1 1.4h0m-42.2 2.6h0m4.2-.8h0m4.3-.2h0m1.7 1.3h0m.3-.9h0m.8-.3h0m.3 1h0m3.6 .4h0m1.5 .2h0m1.7-2.3h0m0 1.8h0m1.9 .2h0m1.1-1.1h0m1.1 .3h0m.7-.4h0m2.7 1.5h0m1.4-1.5h0m.5-1.1h0m1.5 1.9h0m.8 .2h0m.5-.4h0m2.8-.3h0m1.5-1h0m.4-.4h0m.6 2.3h0m1.4-1.5h0m.4-.5h0m.2 .4h0m.9 2.1h0m2.1-1.9h0m1 .2h0m-46.1 2.8h0m.7-.2h0m1.7 1.5h0m2.1-2.1h0m1 .3h0m.9 .2h0m1.1 2.1h0m1.1-.8h0m4.6-1.3h0m4.3 1.9h0m3.1-1.5h0m5-1.1h0m3.6 1.1h0m.3 1.1h0m.6-.9h0m.8 .3h0m.6 .7h0m.4 .4h0m.2 .1h0m2.5-1.2h0m1.6-.1h0m.8-.1h0m1.4-1.2h0m1.7 1.6h0m0-1.4h0m1.4 .6h0m1.4 1.8h0m.3-1.8h0m3.2 1.2h0m-47.4 2.2h0m.8-.3h0m1.3 1.5h0m1.3-.1h0m.2-1.7h0m.2 1.2h0m.2 .2h0m1.7-2.1h0m1.6 0h0m1.4 .9h0m1.1 1.9h0m.6-2.8h0m.8-.2h0m2 .2h0m2.7 .4h0m1 1.5h0m1.2-.9h0m.8-.1h0m3.3-.8h0m.9-.2h0m3.4 2.4h0m2.1-2.3h0m1.1 1.4h0m1.4 .1h0m3.7 1.3h0m.1-1.2h0m.6-1.2h0m1.4 2.2h0m1.8-1.3h0m.3-.4h0m5.2 1.4h0m.6-.2h0m1-1.5h0m1.5 .3h0m3.4 .3h0m-49.3 3.2h0m.4 .5h0m.6-.6h0m1.1-.9h0m.1 .1h0m.4 1.5h0m.2-.9h0m.3-.3h0m.3 1h0m.4-1.8h0m1.1 .4h0m0 1.5h0m.3-1.9h0m2.6 2.7h0m.3-1.9h0m.8-.8h0m1.3-.1h0m.9 2.4h0m1.5 .5h0m1.3-1.9h0m1.5-.7h0m.8 2.5h0m2.9-2.2h0m.5 1.8h0m1.6-1.7h0m2.4-.7h0m.1 .2h0m.6 .6h0m1.4 .6h0m.7-.2h0m.4-1.3h0m.7 1.7h0m.8-.5h0m.4 .5h0m.1-.5h0m2.6-.2h0m.9-.7h0m.6 2.5h0m.1 0h0m.7-1.8h0m1.1 1.5h0m.4 .4h0m.1-1.9h0m.5-.2h0m1.7 1.8h0m.6-.6h0m1.1 .7h0m5.6-2h0m4.3 .1h0m-47.6 2.8h0m.8 2.2h0m.1-.5h0m1.1-1.8h0m.1-.3h0m1.6 .5h0m1.7 0h0m2.4 1.7h0m.2-.7h0m0 .8h0m4.4-1.7h0m.9 1.5h0m2.2 .1h0m.2 .4h0m.3-.5h0m.6-.9h0m1.7 1.2h0m.4-.7h0m2.1 1.1h0m.4-2.7h0m1.4 .8h0m.7-.8h0m2.7 2h0m1.9 .3h0m.8-2.5h0m1.8 .3h0m2.1-.2h0m.1 1.6h0m.6-1.5h0m.9 0h0m.1 .9h0m.2 .3h0m.6-.1h0m1.1-1.2h0m.8 1.2h0m3.5 0h0m1.2-1h0m1.1 .8h0m.6-.7h0m1.5 .8h0m0 .6h0m-45.8 3.9h0m1.9-1.8h0m.8 1.7h0m3-.4h0m.7-1.2h0m.8 1.8h0m.7 .1h0m4.8-2.7h0m1.2 1.1h0m.6-.8h0m8.8-.1h0m.8 1.9h0m.9-.5h0m.4-1.3h0m.7 .1h0m1.1 0h0m1.1-.5h0m2.3 .3h0m1.1 .3h0m1.8 2.2h0m1.1-.5h0m7.1-.8h0m1.6 .6h0m1.6-2.1h0m-45.8 3.1h0m.7 .8h0m.4 1.3h0m2.8 .6h0m.3-1.2h0m.3 .2h0m1.2-1.3h0m2.3-.7h0m2.5 1.1h0m.2 1.3h0m2.7-.3h0m2.7-.8h0m.9 1h0m0-2.1h0m.3 2.5h0m.2 0h0m.1-2.1h0m.9 1.6h0m.4-.6h0m3.7 1h0m.2-1.3h0m.8 1.2h0m.2 .2h0m.5-2.7h0m.2 3h0m1-1.9h0m2.6-.6h0m1.7 1h0m2.3 .6h0m3.5-1.4h0m.3 .8h0m1 .7h0m1.5-1.3h0m1.2-.8h0m.9 1.7h0m.4 .2h0m.8-.5h0m.8-.1h0m-41.1 1.6h0m.2 2.8h0m.1-2.3h0m.4-.5h0m.1 3h0m1.1-1.3h0m1.6 .2h0m.1 .7h0m.6-1.3h0m.1 .5h0m2.6-.2h0m.4-1.5h0m.8 2.3h0m.8-.7h0m.3-.4h0m.8 .3h0m.1 .9h0m1.2-1h0m.5 .2h0m3.3 .6h0m2.8-.7h0m.5-.1h0m2.5 1.3h0m.6-1.1h0m1.3 1h0m1.7 .1h0m.1-.6h0m.8-.9h0m.7-1h0m.7 2.4h0m.5-.1h0m1.5-2h0m.2 .5h0m1.6 1.6h0m1.4-.8h0m.8 0h0m.7 .4h0m.1-1.1h0m1.6 1.7h0m3.7-1.2h0m0-.8h0m-35.1 4.4h0m.2 .7h0m.4-2.4h0m1.5 .5h0m1.4-.8h0m.9 .4h0m.1 .6h0m.6 .7h0m.3 .7h0m.1-.6h0m.7-1.1h0m1 2h0m1.8-1.7h0m.7 1.5h0m.6-.1h0m1.4-1.1h0m3-.8h0m1.6 .1h0m.3 2h0m.4-2.2h0m1.4 1.9h0m.2-1h0m1.9 .8h0m.5-2.3h0m1.7 2h0m.1-.4h0m1 .7h0m.4-2.4h0m.4 2h0m2.6-.9h0m.5 1h0m3.3-.6h0m.5-.2h0m-33.5 2.3h0m1.5 2.4h0m.9-1.4h0m1.3-.3h0m3.8 1.2h0m.1-1.6h0m2.3 .3h0m.3 1.7h0m1.4-2.6h0m.2 .6h0m.4 2h0m.6-.7h0m0-.6h0m1.1 .2h0m1-1.7h0m2.5 .9h0m.5 .6h0m.1-1.4h0m.2 2.2h0m.3 .1h0m3.6-1.8h0m.3 .7h0m1.8 .5h0m2.7-.5h0m.8 1.1h0m1.2-.6h0m3.7-1.5h0m.1-.3h0m.8 1.8h0m-31.4 1.6h0m1.8-.2h0m1.6 2.6h0m.8-1.8h0m1 .2h0m3.3 .8h0m3.1-.7h0m.8-.2h0m7.3 1h0m.3 .5h0m1-1.9h0m.5 1.7h0m4.7-1.4h0m1.6-.5h0m-23.8 2.9h0m0 0h0m3 1.6h0m1 .1h0m1.6-1.7h0m1.3 2.2h0m.6 .3h0m.2-.4h0m3.6 .1h0m1.1-2.5h0m2.3 2.3h0m.5 .3h0m1.4-.9h0m.1-.8h0m2.8-.7h0" stroke="#E65038" stroke-width="1.25" stroke-linecap="round"/>
<text x="151.0" y="733.0" font-size="12.5" font-weight="bold" fill="#111" transform="translate(151.0 733.0) scale(1 1.08) translate(-151.0 -733.0)">j</text>
<text x="180.7" y="745.3" font-size="10.3" font-weight="bold" fill="#111" transform="translate(180.7 745.3) scale(1 1.08) translate(-180.7 -745.3)">Inflammatory score</text>
<rect x="263.40" y="756.50" width="8.10" height="41.30" fill="url(#rg)"/>
<text x="276.0" y="761.1" font-size="7.0" transform="translate(276.0 761.1) scale(1 1.08) translate(-276.0 -761.1)" stroke="#222" stroke-width="0.1">0.5</text>
<text x="276.0" y="769.0" font-size="7.0" transform="translate(276.0 769.0) scale(1 1.08) translate(-276.0 -769.0)" stroke="#222" stroke-width="0.1">0.4</text>
<line x1="263.40" y1="766.62" x2="265.20" y2="766.62" stroke="#fff" stroke-width="0.5"/>
<line x1="269.70" y1="766.62" x2="271.50" y2="766.62" stroke="#fff" stroke-width="0.5"/>
<text x="276.0" y="776.9" font-size="7.0" transform="translate(276.0 776.9) scale(1 1.08) translate(-276.0 -776.9)" stroke="#222" stroke-width="0.1">0.3</text>
<line x1="263.40" y1="774.54" x2="265.20" y2="774.54" stroke="#fff" stroke-width="0.5"/>
<line x1="269.70" y1="774.54" x2="271.50" y2="774.54" stroke="#fff" stroke-width="0.5"/>
<text x="276.0" y="784.9" font-size="7.0" transform="translate(276.0 784.9) scale(1 1.08) translate(-276.0 -784.9)" stroke="#222" stroke-width="0.1">0.2</text>
<line x1="263.40" y1="782.46" x2="265.20" y2="782.46" stroke="#fff" stroke-width="0.5"/>
<line x1="269.70" y1="782.46" x2="271.50" y2="782.46" stroke="#fff" stroke-width="0.5"/>
<text x="276.0" y="792.8" font-size="7.0" transform="translate(276.0 792.8) scale(1 1.08) translate(-276.0 -792.8)" stroke="#222" stroke-width="0.1">0.1</text>
<line x1="263.40" y1="790.38" x2="265.20" y2="790.38" stroke="#fff" stroke-width="0.5"/>
<line x1="269.70" y1="790.38" x2="271.50" y2="790.38" stroke="#fff" stroke-width="0.5"/>
<text x="276.0" y="800.7" font-size="7.0" transform="translate(276.0 800.7) scale(1 1.08) translate(-276.0 -800.7)" stroke="#222" stroke-width="0.1">0.0</text>
<path d="M162.4 880.6V846.7M162.4 880.6H196.2" stroke="#222" stroke-width="0.6" fill="none"/>
<path d="M160.70000000000002 847.7L162.4 843.7L164.1 847.7Z M195.2 878.9L199.2 880.6L195.2 882.3000000000001Z" fill="#111"/>
<text x="163.1" y="891.2" font-size="8.2" transform="translate(163.1 891.2) scale(1 1.08) translate(-163.1 -891.2)" stroke="#222" stroke-width="0.1">UMAP 1</text>
<text x="158.4" y="863.5" font-size="8.2" text-anchor="middle" transform="rotate(-90 158.4 863.5) translate(158.4 863.5) scale(1 1.08) translate(-158.4 -863.5)" stroke="#222" stroke-width="0.1">UMAP 2</text>
<text x="310.0" y="588.2" font-size="12.5" font-weight="bold" fill="#111" transform="translate(310.0 588.2) scale(1 1.08) translate(-310.0 -588.2)">k</text>
<text x="378.6" y="592.7" font-size="9.9" font-weight="bold" font-style="italic" text-anchor="middle" fill="#111" transform="translate(378.6 592.7) scale(1 1.08) translate(-378.6 -592.7)">TREM1</text>
<path d="M355.00 637.30C354.83 637.11 354.67 636.62 354.00 636.14C353.33 635.66 352.00 634.98 351.00 634.40C350.00 633.82 348.65 633.24 348.00 632.66C347.35 632.08 347.15 631.69 347.10 630.92C347.05 630.15 347.40 629.28 347.70 628.02C348.00 626.76 348.67 624.93 348.90 623.38C349.13 621.83 349.13 620.29 349.10 618.74C349.07 617.19 348.93 615.65 348.70 614.10C348.47 612.55 347.98 611.01 347.70 609.46C347.42 607.91 347.20 606.17 347.00 604.82C346.80 603.47 346.58 601.92 346.50 601.34L346.50 601.34C346.42 601.92 346.20 603.47 346.00 604.82C345.80 606.17 345.58 607.91 345.30 609.46C345.02 611.01 344.53 612.55 344.30 614.10C344.07 615.65 343.93 617.19 343.90 618.74C343.87 620.29 343.87 621.83 344.10 623.38C344.33 624.93 345.00 626.76 345.30 628.02C345.60 629.28 345.95 630.15 345.90 630.92C345.85 631.69 345.65 632.08 345.00 632.66C344.35 633.24 343.00 633.82 342.00 634.40C341.00 634.98 339.67 635.66 339.00 636.14C338.33 636.62 338.17 637.11 338.00 637.30Z" fill="#A855B5" stroke="#222" stroke-width="0.55" stroke-linejoin="round"/>
<rect x="356.50" y="636.80" width="16.8" height="1.0" fill="#6a6a6a"/>
<line x1="364.90" y1="637.30" x2="364.90" y2="599.25" stroke="#3a3a3a" stroke-width="0.6"/>
<rect x="374.90" y="636.80" width="16.8" height="1.0" fill="#6a6a6a"/>
<line x1="383.30" y1="637.30" x2="383.30" y2="606.21" stroke="#3a3a3a" stroke-width="0.6"/>
<rect x="393.30" y="636.80" width="16.8" height="1.0" fill="#6a6a6a"/>
<rect x="412.00" y="636.80" width="16.8" height="1.0" fill="#6a6a6a"/>
<line x1="420.40" y1="637.30" x2="420.40" y2="609.23" stroke="#3a3a3a" stroke-width="0.6"/>
<path d="M334.6 596.9V638.9H431.20000000000005" stroke="#222" stroke-width="1.1" fill="none"/>
<line x1="346.50" y1="638.90" x2="346.50" y2="641.10" stroke="#222" stroke-width="0.6"/>
<line x1="364.90" y1="638.90" x2="364.90" y2="641.10" stroke="#222" stroke-width="0.6"/>
<line x1="383.30" y1="638.90" x2="383.30" y2="641.10" stroke="#222" stroke-width="0.6"/>
<line x1="401.70" y1="638.90" x2="401.70" y2="641.10" stroke="#222" stroke-width="0.6"/>
<line x1="420.40" y1="638.90" x2="420.40" y2="641.10" stroke="#222" stroke-width="0.6"/>
<line x1="332.30" y1="637.30" x2="334.60" y2="637.30" stroke="#222" stroke-width="0.6"/>
<text x="330.9" y="640.0" font-size="7.6" text-anchor="end" transform="translate(330.9 640.0) scale(1 1.08) translate(-330.9 -640.0)" stroke="#222" stroke-width="0.1">0</text>
<line x1="332.30" y1="625.70" x2="334.60" y2="625.70" stroke="#222" stroke-width="0.6"/>
<text x="330.9" y="628.4" font-size="7.6" text-anchor="end" transform="translate(330.9 628.4) scale(1 1.08) translate(-330.9 -628.4)" stroke="#222" stroke-width="0.1">1</text>
<line x1="332.30" y1="614.10" x2="334.60" y2="614.10" stroke="#222" stroke-width="0.6"/>
<text x="330.9" y="616.8" font-size="7.6" text-anchor="end" transform="translate(330.9 616.8) scale(1 1.08) translate(-330.9 -616.8)" stroke="#222" stroke-width="0.1">2</text>
<line x1="332.30" y1="602.50" x2="334.60" y2="602.50" stroke="#222" stroke-width="0.6"/>
<text x="330.9" y="605.2" font-size="7.6" text-anchor="end" transform="translate(330.9 605.2) scale(1 1.08) translate(-330.9 -605.2)" stroke="#222" stroke-width="0.1">3</text>
<text x="379.0" y="655.8" font-size="9.9" font-weight="bold" font-style="italic" text-anchor="middle" fill="#111" transform="translate(379.0 655.8) scale(1 1.08) translate(-379.0 -655.8)">IL1A</text>
<path d="M353.50 700.10C353.17 699.83 352.25 699.15 351.50 698.48C350.75 697.81 349.50 696.86 349.00 696.05C348.50 695.24 348.25 694.97 348.50 693.62C348.75 692.27 349.67 690.25 350.50 687.95C351.33 685.66 352.75 682.28 353.50 679.85C354.25 677.42 355.17 675.12 355.00 673.37C354.83 671.62 353.50 670.67 352.50 669.32C351.50 667.97 350.00 666.35 349.00 665.27C348.00 664.19 346.92 663.25 346.50 662.84L346.50 662.84C346.08 663.25 345.00 664.19 344.00 665.27C343.00 666.35 341.50 667.97 340.50 669.32C339.50 670.67 338.17 671.62 338.00 673.37C337.83 675.12 338.75 677.42 339.50 679.85C340.25 682.28 341.67 685.66 342.50 687.95C343.33 690.25 344.25 692.27 344.50 693.62C344.75 694.97 344.50 695.24 344.00 696.05C343.50 696.86 342.25 697.81 341.50 698.48C340.75 699.15 339.83 699.83 339.50 700.10Z" fill="#A855B5" stroke="#222" stroke-width="0.55" stroke-linejoin="round"/>
<path d="M372.90 700.10C372.48 699.90 371.32 699.36 370.40 698.88C369.48 698.41 368.12 698.01 367.40 697.26C366.68 696.52 366.37 695.98 366.10 694.43C365.83 692.88 365.87 690.38 365.80 687.95C365.73 685.52 365.77 682.55 365.70 679.85C365.63 677.15 365.53 674.18 365.40 671.75C365.27 669.32 364.98 666.35 364.90 665.27L364.90 665.27C364.82 666.35 364.53 669.32 364.40 671.75C364.27 674.18 364.17 677.15 364.10 679.85C364.03 682.55 364.07 685.52 364.00 687.95C363.93 690.38 363.97 692.88 363.70 694.43C363.43 695.98 363.12 696.52 362.40 697.26C361.68 698.01 360.32 698.41 359.40 698.88C358.48 699.36 357.32 699.90 356.90 700.10Z" fill="#8C5A2E" stroke="#222" stroke-width="0.55" stroke-linejoin="round"/>
<path d="M391.30 700.10C390.88 699.90 389.72 699.42 388.80 698.88C387.88 698.35 386.45 697.74 385.80 696.86C385.15 695.98 385.02 695.11 384.90 693.62C384.78 692.13 385.10 689.84 385.10 687.95C385.10 686.06 385.03 684.30 384.90 682.28C384.77 680.25 384.57 678.10 384.30 675.80C384.03 673.51 383.47 669.73 383.30 668.51L383.30 668.51C383.13 669.73 382.57 673.51 382.30 675.80C382.03 678.10 381.83 680.25 381.70 682.28C381.57 684.30 381.50 686.06 381.50 687.95C381.50 689.84 381.82 692.13 381.70 693.62C381.58 695.11 381.45 695.98 380.80 696.86C380.15 697.74 378.72 698.35 377.80 698.88C376.88 699.42 375.72 699.90 375.30 700.10Z" fill="#4EA24A" stroke="#222" stroke-width="0.55" stroke-linejoin="round"/>
<rect x="393.30" y="699.60" width="16.8" height="1.0" fill="#6a6a6a"/>
<line x1="401.70" y1="700.10" x2="401.70" y2="690.38" stroke="#3a3a3a" stroke-width="0.6"/>
<rect x="412.00" y="699.60" width="16.8" height="1.0" fill="#6a6a6a"/>
<line x1="420.40" y1="700.10" x2="420.40" y2="673.37" stroke="#3a3a3a" stroke-width="0.6"/>
<path d="M334.6 660.0V702.0H431.20000000000005" stroke="#222" stroke-width="1.1" fill="none"/>
<line x1="346.50" y1="702.00" x2="346.50" y2="704.20" stroke="#222" stroke-width="0.6"/>
<line x1="364.90" y1="702.00" x2="364.90" y2="704.20" stroke="#222" stroke-width="0.6"/>
<line x1="383.30" y1="702.00" x2="383.30" y2="704.20" stroke="#222" stroke-width="0.6"/>
<line x1="401.70" y1="702.00" x2="401.70" y2="704.20" stroke="#222" stroke-width="0.6"/>
<line x1="420.40" y1="702.00" x2="420.40" y2="704.20" stroke="#222" stroke-width="0.6"/>
<line x1="332.30" y1="700.10" x2="334.60" y2="700.10" stroke="#222" stroke-width="0.6"/>
<text x="330.9" y="702.8" font-size="7.6" text-anchor="end" transform="translate(330.9 702.8) scale(1 1.08) translate(-330.9 -702.8)" stroke="#222" stroke-width="0.1">0</text>
<line x1="332.30" y1="692.00" x2="334.60" y2="692.00" stroke="#222" stroke-width="0.6"/>
<text x="330.9" y="694.7" font-size="7.6" text-anchor="end" transform="translate(330.9 694.7) scale(1 1.08) translate(-330.9 -694.7)" stroke="#222" stroke-width="0.1">1</text>
<line x1="332.30" y1="683.90" x2="334.60" y2="683.90" stroke="#222" stroke-width="0.6"/>
<text x="330.9" y="686.6" font-size="7.6" text-anchor="end" transform="translate(330.9 686.6) scale(1 1.08) translate(-330.9 -686.6)" stroke="#222" stroke-width="0.1">2</text>
<line x1="332.30" y1="675.80" x2="334.60" y2="675.80" stroke="#222" stroke-width="0.6"/>
<text x="330.9" y="678.5" font-size="7.6" text-anchor="end" transform="translate(330.9 678.5) scale(1 1.08) translate(-330.9 -678.5)" stroke="#222" stroke-width="0.1">3</text>
<line x1="332.30" y1="667.70" x2="334.60" y2="667.70" stroke="#222" stroke-width="0.6"/>
<text x="330.9" y="670.4" font-size="7.6" text-anchor="end" transform="translate(330.9 670.4) scale(1 1.08) translate(-330.9 -670.4)" stroke="#222" stroke-width="0.1">4</text>
<text x="379.0" y="718.6" font-size="9.9" font-weight="bold" font-style="italic" text-anchor="middle" fill="#111" transform="translate(379.0 718.6) scale(1 1.08) translate(-379.0 -718.6)">OSM</text>
<path d="M355.10 763.20C354.68 762.95 353.52 762.19 352.60 761.69C351.68 761.18 350.43 760.68 349.60 760.17C348.77 759.67 347.90 759.50 347.60 758.66C347.30 757.81 347.70 756.55 347.80 755.12C347.90 753.69 348.20 751.75 348.20 750.07C348.20 748.39 347.97 747.04 347.80 745.02C347.63 743.00 347.40 741.15 347.20 737.95C347.00 734.75 346.70 727.85 346.60 725.83L346.60 725.83C346.50 727.85 346.20 734.75 346.00 737.95C345.80 741.15 345.57 743.00 345.40 745.02C345.23 747.04 345.00 748.39 345.00 750.07C345.00 751.75 345.30 753.69 345.40 755.12C345.50 756.55 345.90 757.81 345.60 758.66C345.30 759.50 344.43 759.67 343.60 760.17C342.77 760.68 341.52 761.18 340.60 761.69C339.68 762.19 338.52 762.95 338.10 763.20Z" fill="#A855B5" stroke="#222" stroke-width="0.55" stroke-linejoin="round"/>
<rect x="356.60" y="762.70" width="16.8" height="1.0" fill="#6a6a6a"/>
<line x1="365.00" y1="763.20" x2="365.00" y2="733.41" stroke="#3a3a3a" stroke-width="0.6"/>
<rect x="375.00" y="762.70" width="16.8" height="1.0" fill="#6a6a6a"/>
<line x1="383.40" y1="763.20" x2="383.40" y2="738.96" stroke="#3a3a3a" stroke-width="0.6"/>
<rect x="393.40" y="762.70" width="16.8" height="1.0" fill="#6a6a6a"/>
<rect x="412.10" y="762.70" width="16.8" height="1.0" fill="#6a6a6a"/>
<line x1="420.50" y1="763.20" x2="420.50" y2="732.90" stroke="#3a3a3a" stroke-width="0.6"/>
<path d="M334.7 722.8V764.8H431.29999999999995" stroke="#222" stroke-width="1.1" fill="none"/>
<line x1="346.60" y1="764.80" x2="346.60" y2="767.00" stroke="#222" stroke-width="0.6"/>
<line x1="365.00" y1="764.80" x2="365.00" y2="767.00" stroke="#222" stroke-width="0.6"/>
<line x1="383.40" y1="764.80" x2="383.40" y2="767.00" stroke="#222" stroke-width="0.6"/>
<line x1="401.80" y1="764.80" x2="401.80" y2="767.00" stroke="#222" stroke-width="0.6"/>
<line x1="420.50" y1="764.80" x2="420.50" y2="767.00" stroke="#222" stroke-width="0.6"/>
<line x1="332.40" y1="763.20" x2="334.70" y2="763.20" stroke="#222" stroke-width="0.6"/>
<text x="331.0" y="765.9" font-size="7.6" text-anchor="end" transform="translate(331.0 765.9) scale(1 1.08) translate(-331.0 -765.9)" stroke="#222" stroke-width="0.1">0</text>
<line x1="332.40" y1="753.10" x2="334.70" y2="753.10" stroke="#222" stroke-width="0.6"/>
<text x="331.0" y="755.8" font-size="7.6" text-anchor="end" transform="translate(331.0 755.8) scale(1 1.08) translate(-331.0 -755.8)" stroke="#222" stroke-width="0.1">1</text>
<line x1="332.40" y1="743.00" x2="334.70" y2="743.00" stroke="#222" stroke-width="0.6"/>
<text x="331.0" y="745.7" font-size="7.6" text-anchor="end" transform="translate(331.0 745.7) scale(1 1.08) translate(-331.0 -745.7)" stroke="#222" stroke-width="0.1">2</text>
<line x1="332.40" y1="732.90" x2="334.70" y2="732.90" stroke="#222" stroke-width="0.6"/>
<text x="331.0" y="735.6" font-size="7.6" text-anchor="end" transform="translate(331.0 735.6) scale(1 1.08) translate(-331.0 -735.6)" stroke="#222" stroke-width="0.1">3</text>
<text x="378.7" y="782.4" font-size="9.9" font-weight="bold" font-style="italic" text-anchor="middle" fill="#111" transform="translate(378.7 782.4) scale(1 1.08) translate(-378.7 -782.4)">IL6</text>
<path d="M355.10 826.30C354.85 826.09 354.27 825.53 353.60 825.03C352.93 824.54 351.90 823.91 351.10 823.34C350.30 822.78 349.38 822.22 348.80 821.65C348.22 821.09 347.83 820.60 347.60 819.96C347.37 819.33 347.38 818.91 347.40 817.85C347.42 816.79 347.58 815.32 347.70 813.62C347.82 811.93 348.02 809.54 348.10 807.71C348.18 805.88 348.23 804.33 348.20 802.64C348.17 800.95 348.05 799.26 347.90 797.57C347.75 795.88 347.52 794.12 347.30 792.50C347.08 790.88 346.72 788.63 346.60 787.85L346.60 787.85C346.48 788.63 346.12 790.88 345.90 792.50C345.68 794.12 345.45 795.88 345.30 797.57C345.15 799.26 345.03 800.95 345.00 802.64C344.97 804.33 345.02 805.88 345.10 807.71C345.18 809.54 345.38 811.93 345.50 813.62C345.62 815.32 345.78 816.79 345.80 817.85C345.82 818.91 345.83 819.33 345.60 819.96C345.37 820.60 344.98 821.09 344.40 821.65C343.82 822.22 342.90 822.78 342.10 823.34C341.30 823.91 340.27 824.54 339.60 825.03C338.93 825.53 338.35 826.09 338.10 826.30Z" fill="#A855B5" stroke="#222" stroke-width="0.55" stroke-linejoin="round"/>
<rect x="356.60" y="825.80" width="16.8" height="1.0" fill="#6a6a6a"/>
<line x1="365.00" y1="826.30" x2="365.00" y2="792.92" stroke="#3a3a3a" stroke-width="0.6"/>
<rect x="375.00" y="825.80" width="16.8" height="1.0" fill="#6a6a6a"/>
<line x1="383.40" y1="826.30" x2="383.40" y2="797.57" stroke="#3a3a3a" stroke-width="0.6"/>
<rect x="393.40" y="825.80" width="16.8" height="1.0" fill="#6a6a6a"/>
<line x1="401.80" y1="826.30" x2="401.80" y2="806.87" stroke="#3a3a3a" stroke-width="0.6"/>
<rect x="412.10" y="825.80" width="16.8" height="1.0" fill="#6a6a6a"/>
<line x1="420.50" y1="826.30" x2="420.50" y2="797.57" stroke="#3a3a3a" stroke-width="0.6"/>
<path d="M334.7 786.6V827.9H431.29999999999995" stroke="#222" stroke-width="1.1" fill="none"/>
<line x1="346.60" y1="827.90" x2="346.60" y2="830.10" stroke="#222" stroke-width="0.6"/>
<line x1="365.00" y1="827.90" x2="365.00" y2="830.10" stroke="#222" stroke-width="0.6"/>
<line x1="383.40" y1="827.90" x2="383.40" y2="830.10" stroke="#222" stroke-width="0.6"/>
<line x1="401.80" y1="827.90" x2="401.80" y2="830.10" stroke="#222" stroke-width="0.6"/>
<line x1="420.50" y1="827.90" x2="420.50" y2="830.10" stroke="#222" stroke-width="0.6"/>
<line x1="332.40" y1="826.30" x2="334.70" y2="826.30" stroke="#222" stroke-width="0.6"/>
<text x="331.0" y="829.0" font-size="7.6" text-anchor="end" transform="translate(331.0 829.0) scale(1 1.08) translate(-331.0 -829.0)" stroke="#222" stroke-width="0.1">0</text>
<line x1="332.40" y1="817.85" x2="334.70" y2="817.85" stroke="#222" stroke-width="0.6"/>
<text x="331.0" y="820.5" font-size="7.6" text-anchor="end" transform="translate(331.0 820.5) scale(1 1.08) translate(-331.0 -820.5)" stroke="#222" stroke-width="0.1">1</text>
<line x1="332.40" y1="809.40" x2="334.70" y2="809.40" stroke="#222" stroke-width="0.6"/>
<text x="331.0" y="812.1" font-size="7.6" text-anchor="end" transform="translate(331.0 812.1) scale(1 1.08) translate(-331.0 -812.1)" stroke="#222" stroke-width="0.1">2</text>
<line x1="332.40" y1="800.95" x2="334.70" y2="800.95" stroke="#222" stroke-width="0.6"/>
<text x="331.0" y="803.6" font-size="7.6" text-anchor="end" transform="translate(331.0 803.6) scale(1 1.08) translate(-331.0 -803.6)" stroke="#222" stroke-width="0.1">3</text>
<line x1="332.40" y1="792.50" x2="334.70" y2="792.50" stroke="#222" stroke-width="0.6"/>
<text x="331.0" y="795.2" font-size="7.6" text-anchor="end" transform="translate(331.0 795.2) scale(1 1.08) translate(-331.0 -795.2)" stroke="#222" stroke-width="0.1">4</text>
<text x="504.0" y="592.7" font-size="9.9" font-weight="bold" font-style="italic" text-anchor="middle" fill="#111" transform="translate(504.0 592.7) scale(1 1.08) translate(-504.0 -592.7)">C1QA</text>
<rect x="462.80" y="636.80" width="16.8" height="1.0" fill="#6a6a6a"/>
<line x1="471.20" y1="637.30" x2="471.20" y2="608.66" stroke="#3a3a3a" stroke-width="0.6"/>
<path d="M498.10 637.30C497.85 637.00 497.35 636.26 496.60 635.51C495.85 634.76 494.43 633.87 493.60 632.82C492.77 631.78 491.85 630.59 491.60 629.25C491.35 627.90 491.52 626.71 492.10 624.77C492.68 622.83 494.28 620.00 495.10 617.61C495.92 615.22 496.92 612.39 497.00 610.45C497.08 608.51 496.33 607.47 495.60 605.97C494.87 604.48 493.60 602.69 492.60 601.50C491.60 600.31 490.10 599.26 489.60 598.81L489.60 598.81C489.10 599.26 487.60 600.31 486.60 601.50C485.60 602.69 484.33 604.48 483.60 605.97C482.87 607.47 482.12 608.51 482.20 610.45C482.28 612.39 483.28 615.22 484.10 617.61C484.92 620.00 486.52 622.83 487.10 624.77C487.68 626.71 487.85 627.90 487.60 629.25C487.35 630.59 486.43 631.78 485.60 632.82C484.77 633.87 483.35 634.76 482.60 635.51C481.85 636.26 481.35 637.00 481.10 637.30Z" fill="#8C5A2E" stroke="#222" stroke-width="0.55" stroke-linejoin="round"/>
<path d="M516.00 637.30C515.67 637.08 514.83 636.48 514.00 635.96C513.17 635.44 511.83 634.99 511.00 634.17C510.17 633.35 509.37 632.75 509.00 631.03C508.63 629.32 508.88 627.31 508.80 623.88C508.72 620.44 508.63 614.18 508.50 610.45C508.37 606.72 508.08 602.99 508.00 601.50L508.00 601.50C507.92 602.99 507.63 606.72 507.50 610.45C507.37 614.18 507.28 620.44 507.20 623.88C507.12 627.31 507.37 629.32 507.00 631.03C506.63 632.75 505.83 633.35 505.00 634.17C504.17 634.99 502.83 635.44 502.00 635.96C501.17 636.48 500.33 637.08 500.00 637.30Z" fill="#4EA24A" stroke="#222" stroke-width="0.55" stroke-linejoin="round"/>
<rect x="518.00" y="636.80" width="16.8" height="1.0" fill="#6a6a6a"/>
<line x1="526.40" y1="637.30" x2="526.40" y2="618.50" stroke="#3a3a3a" stroke-width="0.6"/>
<rect x="536.70" y="636.80" width="16.8" height="1.0" fill="#6a6a6a"/>
<line x1="545.10" y1="637.30" x2="545.10" y2="599.71" stroke="#3a3a3a" stroke-width="0.6"/>
<path d="M459.3 596.9V638.9H555.9" stroke="#222" stroke-width="1.1" fill="none"/>
<line x1="471.20" y1="638.90" x2="471.20" y2="641.10" stroke="#222" stroke-width="0.6"/>
<line x1="489.60" y1="638.90" x2="489.60" y2="641.10" stroke="#222" stroke-width="0.6"/>
<line x1="508.00" y1="638.90" x2="508.00" y2="641.10" stroke="#222" stroke-width="0.6"/>
<line x1="526.40" y1="638.90" x2="526.40" y2="641.10" stroke="#222" stroke-width="0.6"/>
<line x1="545.10" y1="638.90" x2="545.10" y2="641.10" stroke="#222" stroke-width="0.6"/>
<line x1="457.00" y1="637.30" x2="459.30" y2="637.30" stroke="#222" stroke-width="0.6"/>
<text x="455.6" y="640.0" font-size="7.6" text-anchor="end" transform="translate(455.6 640.0) scale(1 1.08) translate(-455.6 -640.0)" stroke="#222" stroke-width="0.1">0</text>
<line x1="457.00" y1="628.35" x2="459.30" y2="628.35" stroke="#222" stroke-width="0.6"/>
<text x="455.6" y="631.0" font-size="7.6" text-anchor="end" transform="translate(455.6 631.0) scale(1 1.08) translate(-455.6 -631.0)" stroke="#222" stroke-width="0.1">1</text>
<line x1="457.00" y1="619.40" x2="459.30" y2="619.40" stroke="#222" stroke-width="0.6"/>
<text x="455.6" y="622.1" font-size="7.6" text-anchor="end" transform="translate(455.6 622.1) scale(1 1.08) translate(-455.6 -622.1)" stroke="#222" stroke-width="0.1">2</text>
<line x1="457.00" y1="610.45" x2="459.30" y2="610.45" stroke="#222" stroke-width="0.6"/>
<text x="455.6" y="613.1" font-size="7.6" text-anchor="end" transform="translate(455.6 613.1) scale(1 1.08) translate(-455.6 -613.1)" stroke="#222" stroke-width="0.1">3</text>
<line x1="457.00" y1="601.50" x2="459.30" y2="601.50" stroke="#222" stroke-width="0.6"/>
<text x="455.6" y="604.2" font-size="7.6" text-anchor="end" transform="translate(455.6 604.2) scale(1 1.08) translate(-455.6 -604.2)" stroke="#222" stroke-width="0.1">4</text>
<text x="504.3" y="655.8" font-size="9.9" font-weight="bold" font-style="italic" text-anchor="middle" fill="#111" transform="translate(504.3 655.8) scale(1 1.08) translate(-504.3 -655.8)">C1QB</text>
<rect x="463.10" y="699.80" width="16.8" height="1.0" fill="#6a6a6a"/>
<line x1="471.50" y1="700.30" x2="471.50" y2="672.70" stroke="#3a3a3a" stroke-width="0.6"/>
<path d="M498.40 700.30C498.15 700.01 497.65 699.29 496.90 698.57C496.15 697.86 494.73 696.99 493.90 695.99C493.07 694.98 492.15 693.83 491.90 692.54C491.65 691.24 491.82 689.95 492.40 688.22C492.98 686.50 494.65 684.20 495.40 682.19C496.15 680.17 496.90 678.02 496.90 676.15C496.90 674.28 496.15 672.70 495.40 670.97C494.65 669.25 493.32 667.24 492.40 665.80C491.48 664.36 490.32 662.92 489.90 662.35L489.90 662.35C489.48 662.92 488.32 664.36 487.40 665.80C486.48 667.24 485.15 669.25 484.40 670.97C483.65 672.70 482.90 674.28 482.90 676.15C482.90 678.02 483.65 680.17 484.40 682.19C485.15 684.20 486.82 686.50 487.40 688.22C487.98 689.95 488.15 691.24 487.90 692.54C487.65 693.83 486.73 694.98 485.90 695.99C485.07 696.99 483.65 697.86 482.90 698.57C482.15 699.29 481.65 700.01 481.40 700.30Z" fill="#8C5A2E" stroke="#222" stroke-width="0.55" stroke-linejoin="round"/>
<path d="M516.30 700.30C515.97 700.08 515.13 699.51 514.30 699.01C513.47 698.50 512.13 698.07 511.30 697.28C510.47 696.49 509.67 695.92 509.30 694.26C508.93 692.61 509.18 690.67 509.10 687.36C509.02 684.06 508.93 678.31 508.80 674.42C508.67 670.54 508.38 665.80 508.30 664.07L508.30 664.07C508.22 665.80 507.93 670.54 507.80 674.42C507.67 678.31 507.58 684.06 507.50 687.36C507.42 690.67 507.67 692.61 507.30 694.26C506.93 695.92 506.13 696.49 505.30 697.28C504.47 698.07 503.13 698.50 502.30 699.01C501.47 699.51 500.63 700.08 500.30 700.30Z" fill="#4EA24A" stroke="#222" stroke-width="0.55" stroke-linejoin="round"/>
<rect x="518.30" y="699.80" width="16.8" height="1.0" fill="#6a6a6a"/>
<line x1="526.70" y1="700.30" x2="526.70" y2="689.09" stroke="#3a3a3a" stroke-width="0.6"/>
<rect x="537.00" y="699.80" width="16.8" height="1.0" fill="#6a6a6a"/>
<line x1="545.40" y1="700.30" x2="545.40" y2="664.94" stroke="#3a3a3a" stroke-width="0.6"/>
<path d="M459.6 660.0V702.0H556.2" stroke="#222" stroke-width="1.1" fill="none"/>
<line x1="471.50" y1="702.00" x2="471.50" y2="704.20" stroke="#222" stroke-width="0.6"/>
<line x1="489.90" y1="702.00" x2="489.90" y2="704.20" stroke="#222" stroke-width="0.6"/>
<line x1="508.30" y1="702.00" x2="508.30" y2="704.20" stroke="#222" stroke-width="0.6"/>
<line x1="526.70" y1="702.00" x2="526.70" y2="704.20" stroke="#222" stroke-width="0.6"/>
<line x1="545.40" y1="702.00" x2="545.40" y2="704.20" stroke="#222" stroke-width="0.6"/>
<line x1="457.30" y1="700.30" x2="459.60" y2="700.30" stroke="#222" stroke-width="0.6"/>
<text x="455.9" y="703.0" font-size="7.6" text-anchor="end" transform="translate(455.9 703.0) scale(1 1.08) translate(-455.9 -703.0)" stroke="#222" stroke-width="0.1">0</text>
<line x1="457.30" y1="691.67" x2="459.60" y2="691.67" stroke="#222" stroke-width="0.6"/>
<text x="455.9" y="694.4" font-size="7.6" text-anchor="end" transform="translate(455.9 694.4) scale(1 1.08) translate(-455.9 -694.4)" stroke="#222" stroke-width="0.1">1</text>
<line x1="457.30" y1="683.05" x2="459.60" y2="683.05" stroke="#222" stroke-width="0.6"/>
<text x="455.9" y="685.8" font-size="7.6" text-anchor="end" transform="translate(455.9 685.8) scale(1 1.08) translate(-455.9 -685.8)" stroke="#222" stroke-width="0.1">2</text>
<line x1="457.30" y1="674.42" x2="459.60" y2="674.42" stroke="#222" stroke-width="0.6"/>
<text x="455.9" y="677.1" font-size="7.6" text-anchor="end" transform="translate(455.9 677.1) scale(1 1.08) translate(-455.9 -677.1)" stroke="#222" stroke-width="0.1">3</text>
<line x1="457.30" y1="665.80" x2="459.60" y2="665.80" stroke="#222" stroke-width="0.6"/>
<text x="455.9" y="668.5" font-size="7.6" text-anchor="end" transform="translate(455.9 668.5) scale(1 1.08) translate(-455.9 -668.5)" stroke="#222" stroke-width="0.1">4</text>
<text x="504.0" y="718.6" font-size="9.9" font-weight="bold" font-style="italic" text-anchor="middle" fill="#111" transform="translate(504.0 718.6) scale(1 1.08) translate(-504.0 -718.6)">CD163</text>
<rect x="463.10" y="762.70" width="16.8" height="1.0" fill="#6a6a6a"/>
<line x1="471.50" y1="763.20" x2="471.50" y2="731.70" stroke="#3a3a3a" stroke-width="0.6"/>
<path d="M497.90 763.20C497.57 762.94 496.82 762.24 495.90 761.62C494.98 761.01 493.15 760.31 492.40 759.53C491.65 758.74 491.45 758.04 491.40 756.90C491.35 755.76 491.85 754.80 492.10 752.70C492.35 750.60 492.90 746.93 492.90 744.30C492.90 741.68 492.40 739.05 492.10 736.95C491.80 734.85 491.47 733.62 491.10 731.70C490.73 729.78 490.10 726.45 489.90 725.40L489.90 725.40C489.70 726.45 489.07 729.78 488.70 731.70C488.33 733.62 488.00 734.85 487.70 736.95C487.40 739.05 486.90 741.68 486.90 744.30C486.90 746.93 487.45 750.60 487.70 752.70C487.95 754.80 488.45 755.76 488.40 756.90C488.35 758.04 488.15 758.74 487.40 759.53C486.65 760.31 484.82 761.01 483.90 761.62C482.98 762.24 482.23 762.94 481.90 763.20Z" fill="#8C5A2E" stroke="#222" stroke-width="0.55" stroke-linejoin="round"/>
<rect x="499.90" y="762.70" width="16.8" height="1.0" fill="#6a6a6a"/>
<line x1="508.30" y1="763.20" x2="508.30" y2="738.00" stroke="#3a3a3a" stroke-width="0.6"/>
<rect x="518.30" y="762.70" width="16.8" height="1.0" fill="#6a6a6a"/>
<rect x="537.00" y="762.70" width="16.8" height="1.0" fill="#6a6a6a"/>
<line x1="545.40" y1="763.20" x2="545.40" y2="725.40" stroke="#3a3a3a" stroke-width="0.6"/>
<path d="M459.6 722.8V764.8H556.2" stroke="#222" stroke-width="1.1" fill="none"/>
<line x1="471.50" y1="764.80" x2="471.50" y2="767.00" stroke="#222" stroke-width="0.6"/>
<line x1="489.90" y1="764.80" x2="489.90" y2="767.00" stroke="#222" stroke-width="0.6"/>
<line x1="508.30" y1="764.80" x2="508.30" y2="767.00" stroke="#222" stroke-width="0.6"/>
<line x1="526.70" y1="764.80" x2="526.70" y2="767.00" stroke="#222" stroke-width="0.6"/>
<line x1="545.40" y1="764.80" x2="545.40" y2="767.00" stroke="#222" stroke-width="0.6"/>
<line x1="457.30" y1="763.20" x2="459.60" y2="763.20" stroke="#222" stroke-width="0.6"/>
<text x="455.9" y="765.9" font-size="7.6" text-anchor="end" transform="translate(455.9 765.9) scale(1 1.08) translate(-455.9 -765.9)" stroke="#222" stroke-width="0.1">0</text>
<line x1="457.30" y1="752.70" x2="459.60" y2="752.70" stroke="#222" stroke-width="0.6"/>
<text x="455.9" y="755.4" font-size="7.6" text-anchor="end" transform="translate(455.9 755.4) scale(1 1.08) translate(-455.9 -755.4)" stroke="#222" stroke-width="0.1">1</text>
<line x1="457.30" y1="742.20" x2="459.60" y2="742.20" stroke="#222" stroke-width="0.6"/>
<text x="455.9" y="744.9" font-size="7.6" text-anchor="end" transform="translate(455.9 744.9) scale(1 1.08) translate(-455.9 -744.9)" stroke="#222" stroke-width="0.1">2</text>
<line x1="457.30" y1="731.70" x2="459.60" y2="731.70" stroke="#222" stroke-width="0.6"/>
<text x="455.9" y="734.4" font-size="7.6" text-anchor="end" transform="translate(455.9 734.4) scale(1 1.08) translate(-455.9 -734.4)" stroke="#222" stroke-width="0.1">3</text>
<text x="503.6" y="782.4" font-size="9.9" font-weight="bold" font-style="italic" text-anchor="middle" fill="#111" transform="translate(503.6 782.4) scale(1 1.08) translate(-503.6 -782.4)">MRC1</text>
<rect x="464.10" y="825.80" width="16.8" height="1.0" fill="#6a6a6a"/>
<line x1="472.50" y1="826.30" x2="472.50" y2="787.81" stroke="#3a3a3a" stroke-width="0.6"/>
<path d="M499.20 826.30C498.90 826.05 498.25 825.37 497.40 824.78C496.55 824.19 494.95 823.45 494.10 822.75C493.25 822.06 492.47 821.56 492.30 820.63C492.13 819.70 492.83 818.60 493.10 817.18C493.37 815.76 493.75 813.72 493.90 812.12C494.05 810.51 494.08 809.08 494.00 807.56C493.92 806.04 493.70 804.77 493.40 803.00C493.10 801.23 492.53 798.61 492.20 796.92C491.87 795.23 491.62 794.15 491.40 792.87C491.18 791.59 490.98 789.83 490.90 789.22L490.90 789.22C490.82 789.83 490.62 791.59 490.40 792.87C490.18 794.15 489.93 795.23 489.60 796.92C489.27 798.61 488.70 801.23 488.40 803.00C488.10 804.77 487.88 806.04 487.80 807.56C487.72 809.08 487.75 810.51 487.90 812.12C488.05 813.72 488.43 815.76 488.70 817.18C488.97 818.60 489.67 819.70 489.50 820.63C489.33 821.56 488.55 822.06 487.70 822.75C486.85 823.45 485.25 824.19 484.40 824.78C483.55 825.37 482.90 826.05 482.60 826.30Z" fill="#8C5A2E" stroke="#222" stroke-width="0.55" stroke-linejoin="round"/>
<path d="M517.30 826.30C516.97 826.05 516.13 825.37 515.30 824.78C514.47 824.19 513.10 823.43 512.30 822.75C511.50 822.08 510.70 821.49 510.50 820.73C510.30 819.97 510.90 819.21 511.10 818.20C511.30 817.18 511.65 815.83 511.70 814.65C511.75 813.47 511.58 812.54 511.40 811.10C511.22 809.67 510.85 807.90 510.60 806.04C510.35 804.18 510.12 802.26 509.90 799.96C509.68 797.67 509.40 793.55 509.30 792.26L509.30 792.26C509.20 793.55 508.92 797.67 508.70 799.96C508.48 802.26 508.25 804.18 508.00 806.04C507.75 807.90 507.38 809.67 507.20 811.10C507.02 812.54 506.85 813.47 506.90 814.65C506.95 815.83 507.30 817.18 507.50 818.20C507.70 819.21 508.30 819.97 508.10 820.73C507.90 821.49 507.10 822.08 506.30 822.75C505.50 823.43 504.13 824.19 503.30 824.78C502.47 825.37 501.63 826.05 501.30 826.30Z" fill="#4EA24A" stroke="#222" stroke-width="0.55" stroke-linejoin="round"/>
<rect x="519.30" y="825.80" width="16.8" height="1.0" fill="#6a6a6a"/>
<line x1="527.70" y1="826.30" x2="527.70" y2="806.04" stroke="#3a3a3a" stroke-width="0.6"/>
<rect x="538.00" y="825.80" width="16.8" height="1.0" fill="#6a6a6a"/>
<line x1="546.40" y1="826.30" x2="546.40" y2="792.87" stroke="#3a3a3a" stroke-width="0.6"/>
<path d="M460.6 786.6V827.9H557.2" stroke="#222" stroke-width="1.1" fill="none"/>
<line x1="472.50" y1="827.90" x2="472.50" y2="830.10" stroke="#222" stroke-width="0.6"/>
<line x1="490.90" y1="827.90" x2="490.90" y2="830.10" stroke="#222" stroke-width="0.6"/>
<line x1="509.30" y1="827.90" x2="509.30" y2="830.10" stroke="#222" stroke-width="0.6"/>
<line x1="527.70" y1="827.90" x2="527.70" y2="830.10" stroke="#222" stroke-width="0.6"/>
<line x1="546.40" y1="827.90" x2="546.40" y2="830.10" stroke="#222" stroke-width="0.6"/>
<line x1="458.30" y1="826.30" x2="460.60" y2="826.30" stroke="#222" stroke-width="0.6"/>
<text x="456.9" y="829.0" font-size="7.6" text-anchor="end" transform="translate(456.9 829.0) scale(1 1.08) translate(-456.9 -829.0)" stroke="#222" stroke-width="0.1">0</text>
<line x1="458.30" y1="816.17" x2="460.60" y2="816.17" stroke="#222" stroke-width="0.6"/>
<text x="456.9" y="818.9" font-size="7.6" text-anchor="end" transform="translate(456.9 818.9) scale(1 1.08) translate(-456.9 -818.9)" stroke="#222" stroke-width="0.1">1</text>
<line x1="458.30" y1="806.04" x2="460.60" y2="806.04" stroke="#222" stroke-width="0.6"/>
<text x="456.9" y="808.7" font-size="7.6" text-anchor="end" transform="translate(456.9 808.7) scale(1 1.08) translate(-456.9 -808.7)" stroke="#222" stroke-width="0.1">2</text>
<line x1="458.30" y1="795.91" x2="460.60" y2="795.91" stroke="#222" stroke-width="0.6"/>
<text x="456.9" y="798.6" font-size="7.6" text-anchor="end" transform="translate(456.9 798.6) scale(1 1.08) translate(-456.9 -798.6)" stroke="#222" stroke-width="0.1">3</text>
<text x="628.5" y="592.7" font-size="9.9" font-weight="bold" font-style="italic" text-anchor="middle" fill="#111" transform="translate(628.5 592.7) scale(1 1.08) translate(-628.5 -592.7)">CD68</text>
<path d="M604.30 637.00C603.88 636.71 602.72 635.94 601.80 635.26C600.88 634.59 599.55 633.82 598.80 632.95C598.05 632.08 597.30 631.31 597.30 630.06C597.30 628.80 598.37 627.17 598.80 625.43C599.23 623.69 599.82 621.57 599.90 619.64C599.98 617.72 599.63 615.79 599.30 613.86C598.97 611.93 598.40 609.81 597.90 608.08C597.40 606.34 596.57 604.22 596.30 603.45L596.30 603.45C596.03 604.22 595.20 606.34 594.70 608.08C594.20 609.81 593.63 611.93 593.30 613.86C592.97 615.79 592.62 617.72 592.70 619.64C592.78 621.57 593.37 623.69 593.80 625.43C594.23 627.17 595.30 628.80 595.30 630.06C595.30 631.31 594.55 632.08 593.80 632.95C593.05 633.82 591.72 634.59 590.80 635.26C589.88 635.94 588.72 636.71 588.30 637.00Z" fill="#A855B5" stroke="#222" stroke-width="0.55" stroke-linejoin="round"/>
<path d="M623.20 637.00C622.95 636.71 622.45 635.94 621.70 635.26C620.95 634.59 619.53 633.72 618.70 632.95C617.87 632.18 616.62 631.89 616.70 630.64C616.78 629.38 618.40 627.65 619.20 625.43C620.00 623.21 621.33 619.84 621.50 617.33C621.67 614.82 620.92 612.51 620.20 610.39C619.48 608.27 618.12 606.15 617.20 604.60C616.28 603.06 615.12 601.71 614.70 601.13L614.70 601.13C614.28 601.71 613.12 603.06 612.20 604.60C611.28 606.15 609.92 608.27 609.20 610.39C608.48 612.51 607.73 614.82 607.90 617.33C608.07 619.84 609.40 623.21 610.20 625.43C611.00 627.65 612.62 629.38 612.70 630.64C612.78 631.89 611.53 632.18 610.70 632.95C609.87 633.72 608.45 634.59 607.70 635.26C606.95 635.94 606.45 636.71 606.20 637.00Z" fill="#8C5A2E" stroke="#222" stroke-width="0.55" stroke-linejoin="round"/>
<path d="M641.60 637.00C641.35 636.71 640.85 635.94 640.10 635.26C639.35 634.59 638.02 633.72 637.10 632.95C636.18 632.18 634.77 631.89 634.60 630.64C634.43 629.38 635.63 627.26 636.10 625.43C636.57 623.60 637.32 621.57 637.40 619.64C637.48 617.72 637.07 616.17 636.60 613.86C636.13 611.55 635.18 608.27 634.60 605.76C634.02 603.25 633.35 599.98 633.10 598.82L633.10 598.82C632.85 599.98 632.18 603.25 631.60 605.76C631.02 608.27 630.07 611.55 629.60 613.86C629.13 616.17 628.72 617.72 628.80 619.64C628.88 621.57 629.63 623.60 630.10 625.43C630.57 627.26 631.77 629.38 631.60 630.64C631.43 631.89 630.02 632.18 629.10 632.95C628.18 633.72 626.85 634.59 626.10 635.26C625.35 635.94 624.85 636.71 624.60 637.00Z" fill="#4EA24A" stroke="#222" stroke-width="0.55" stroke-linejoin="round"/>
<rect x="643.10" y="636.50" width="16.8" height="1.0" fill="#6a6a6a"/>
<line x1="651.50" y1="637.00" x2="651.50" y2="616.75" stroke="#3a3a3a" stroke-width="0.6"/>
<rect x="661.80" y="636.50" width="16.8" height="1.0" fill="#6a6a6a"/>
<line x1="670.20" y1="637.00" x2="670.20" y2="602.29" stroke="#3a3a3a" stroke-width="0.6"/>
<path d="M584.4 596.9V638.9H681.0" stroke="#222" stroke-width="1.1" fill="none"/>
<line x1="596.30" y1="638.90" x2="596.30" y2="641.10" stroke="#222" stroke-width="0.6"/>
<line x1="614.70" y1="638.90" x2="614.70" y2="641.10" stroke="#222" stroke-width="0.6"/>
<line x1="633.10" y1="638.90" x2="633.10" y2="641.10" stroke="#222" stroke-width="0.6"/>
<line x1="651.50" y1="638.90" x2="651.50" y2="641.10" stroke="#222" stroke-width="0.6"/>
<line x1="670.20" y1="638.90" x2="670.20" y2="641.10" stroke="#222" stroke-width="0.6"/>
<line x1="582.10" y1="637.00" x2="584.40" y2="637.00" stroke="#222" stroke-width="0.6"/>
<text x="580.7" y="639.7" font-size="7.6" text-anchor="end" transform="translate(580.7 639.7) scale(1 1.08) translate(-580.7 -639.7)" stroke="#222" stroke-width="0.1">0</text>
<line x1="582.10" y1="625.43" x2="584.40" y2="625.43" stroke="#222" stroke-width="0.6"/>
<text x="580.7" y="628.1" font-size="7.6" text-anchor="end" transform="translate(580.7 628.1) scale(1 1.08) translate(-580.7 -628.1)" stroke="#222" stroke-width="0.1">1</text>
<line x1="582.10" y1="613.86" x2="584.40" y2="613.86" stroke="#222" stroke-width="0.6"/>
<text x="580.7" y="616.6" font-size="7.6" text-anchor="end" transform="translate(580.7 616.6) scale(1 1.08) translate(-580.7 -616.6)" stroke="#222" stroke-width="0.1">2</text>
<line x1="582.10" y1="602.29" x2="584.40" y2="602.29" stroke="#222" stroke-width="0.6"/>
<text x="580.7" y="605.0" font-size="7.6" text-anchor="end" transform="translate(580.7 605.0) scale(1 1.08) translate(-580.7 -605.0)" stroke="#222" stroke-width="0.1">3</text>
<text x="628.8" y="655.8" font-size="9.9" font-weight="bold" font-style="italic" text-anchor="middle" fill="#111" transform="translate(628.8 655.8) scale(1 1.08) translate(-628.8 -655.8)">IL1B</text>
<path d="M596.60 700.20C596.62 698.82 596.55 694.22 596.70 691.92C596.85 689.62 597.07 688.24 597.50 686.40C597.93 684.56 598.58 682.72 599.30 680.88C600.02 679.04 600.97 677.02 601.80 675.36C602.63 673.70 603.77 672.14 604.30 670.94C604.83 669.75 605.33 669.10 605.00 668.18C604.67 667.26 603.75 666.25 602.30 665.42C600.85 664.60 597.30 663.58 596.30 663.22L596.30 663.22C595.30 663.58 591.75 664.60 590.30 665.42C588.85 666.25 587.93 667.26 587.60 668.18C587.27 669.10 587.77 669.75 588.30 670.94C588.83 672.14 589.97 673.70 590.80 675.36C591.63 677.02 592.58 679.04 593.30 680.88C594.02 682.72 594.67 684.56 595.10 686.40C595.53 688.24 595.75 689.62 595.90 691.92C596.05 694.22 595.98 698.82 596.00 700.20Z" fill="#A855B5" stroke="#222" stroke-width="0.55" stroke-linejoin="round"/>
<path d="M622.70 700.20C622.37 699.92 621.62 699.28 620.70 698.54C619.78 697.81 617.95 696.61 617.20 695.78C616.45 694.96 616.03 694.68 616.20 693.58C616.37 692.47 617.37 690.82 618.20 689.16C619.03 687.50 620.42 685.48 621.20 683.64C621.98 681.80 622.58 679.78 622.90 678.12C623.22 676.46 623.38 675.08 623.10 673.70C622.82 672.32 622.10 670.94 621.20 669.84C620.30 668.74 618.78 667.72 617.70 667.08C616.62 666.44 615.20 666.16 614.70 665.98L614.70 665.98C614.20 666.16 612.78 666.44 611.70 667.08C610.62 667.72 609.10 668.74 608.20 669.84C607.30 670.94 606.58 672.32 606.30 673.70C606.02 675.08 606.18 676.46 606.50 678.12C606.82 679.78 607.42 681.80 608.20 683.64C608.98 685.48 610.37 687.50 611.20 689.16C612.03 690.82 613.03 692.47 613.20 693.58C613.37 694.68 612.95 694.96 612.20 695.78C611.45 696.61 609.62 697.81 608.70 698.54C607.78 699.28 607.03 699.92 606.70 700.20Z" fill="#8C5A2E" stroke="#222" stroke-width="0.55" stroke-linejoin="round"/>
<path d="M635.10 700.20C634.97 699.92 634.47 699.28 634.30 698.54C634.13 697.81 633.97 696.89 634.10 695.78C634.23 694.68 634.60 693.48 635.10 691.92C635.60 690.36 636.27 688.24 637.10 686.40C637.93 684.56 639.33 682.72 640.10 680.88C640.87 679.04 641.62 677.02 641.70 675.36C641.78 673.70 641.37 672.32 640.60 670.94C639.83 669.56 638.35 668.28 637.10 667.08C635.85 665.88 633.77 664.32 633.10 663.77L633.10 663.77C632.43 664.32 630.35 665.88 629.10 667.08C627.85 668.28 626.37 669.56 625.60 670.94C624.83 672.32 624.42 673.70 624.50 675.36C624.58 677.02 625.33 679.04 626.10 680.88C626.87 682.72 628.27 684.56 629.10 686.40C629.93 688.24 630.60 690.36 631.10 691.92C631.60 693.48 631.97 694.68 632.10 695.78C632.23 696.89 632.07 697.81 631.90 698.54C631.73 699.28 631.23 699.92 631.10 700.20Z" fill="#4EA24A" stroke="#222" stroke-width="0.55" stroke-linejoin="round"/>
<rect x="643.10" y="699.70" width="16.8" height="1.0" fill="#6a6a6a"/>
<line x1="651.50" y1="700.20" x2="651.50" y2="683.09" stroke="#3a3a3a" stroke-width="0.6"/>
<path d="M678.20 700.20C677.95 699.92 677.37 699.28 676.70 698.54C676.03 697.81 674.87 696.89 674.20 695.78C673.53 694.68 673.03 693.02 672.70 691.92C672.37 690.82 672.20 690.54 672.20 689.16C672.20 687.78 672.57 685.48 672.70 683.64C672.83 681.80 673.08 679.96 673.00 678.12C672.92 676.28 672.50 674.26 672.20 672.60C671.90 670.94 671.53 669.29 671.20 668.18C670.87 667.08 670.37 666.34 670.20 665.98L670.20 665.98C670.03 666.34 669.53 667.08 669.20 668.18C668.87 669.29 668.50 670.94 668.20 672.60C667.90 674.26 667.48 676.28 667.40 678.12C667.32 679.96 667.57 681.80 667.70 683.64C667.83 685.48 668.20 687.78 668.20 689.16C668.20 690.54 668.03 690.82 667.70 691.92C667.37 693.02 666.87 694.68 666.20 695.78C665.53 696.89 664.37 697.81 663.70 698.54C663.03 699.28 662.45 699.92 662.20 700.20Z" fill="#55B8EA" stroke="#222" stroke-width="0.55" stroke-linejoin="round"/>
<path d="M584.4 660.0V702.0H681.0" stroke="#222" stroke-width="1.1" fill="none"/>
<line x1="596.30" y1="702.00" x2="596.30" y2="704.20" stroke="#222" stroke-width="0.6"/>
<line x1="614.70" y1="702.00" x2="614.70" y2="704.20" stroke="#222" stroke-width="0.6"/>
<line x1="633.10" y1="702.00" x2="633.10" y2="704.20" stroke="#222" stroke-width="0.6"/>
<line x1="651.50" y1="702.00" x2="651.50" y2="704.20" stroke="#222" stroke-width="0.6"/>
<line x1="670.20" y1="702.00" x2="670.20" y2="704.20" stroke="#222" stroke-width="0.6"/>
<line x1="582.10" y1="700.20" x2="584.40" y2="700.20" stroke="#222" stroke-width="0.6"/>
<text x="580.7" y="702.9" font-size="7.6" text-anchor="end" transform="translate(580.7 702.9) scale(1 1.08) translate(-580.7 -702.9)" stroke="#222" stroke-width="0.1">0</text>
<line x1="582.10" y1="689.16" x2="584.40" y2="689.16" stroke="#222" stroke-width="0.6"/>
<text x="580.7" y="691.9" font-size="7.6" text-anchor="end" transform="translate(580.7 691.9) scale(1 1.08) translate(-580.7 -691.9)" stroke="#222" stroke-width="0.1">2</text>
<line x1="582.10" y1="678.12" x2="584.40" y2="678.12" stroke="#222" stroke-width="0.6"/>
<text x="580.7" y="680.8" font-size="7.6" text-anchor="end" transform="translate(580.7 680.8) scale(1 1.08) translate(-580.7 -680.8)" stroke="#222" stroke-width="0.1">4</text>
<line x1="582.10" y1="667.08" x2="584.40" y2="667.08" stroke="#222" stroke-width="0.6"/>
<text x="580.7" y="669.8" font-size="7.6" text-anchor="end" transform="translate(580.7 669.8) scale(1 1.08) translate(-580.7 -669.8)" stroke="#222" stroke-width="0.1">6</text>
<text x="628.2" y="718.6" font-size="9.9" font-weight="bold" font-style="italic" text-anchor="middle" fill="#111" transform="translate(628.2 718.6) scale(1 1.08) translate(-628.2 -718.6)">CD207</text>
<rect x="588.50" y="762.80" width="16.8" height="1.0" fill="#6a6a6a"/>
<line x1="596.90" y1="763.30" x2="596.90" y2="732.02" stroke="#3a3a3a" stroke-width="0.6"/>
<rect x="606.90" y="762.80" width="16.8" height="1.0" fill="#6a6a6a"/>
<line x1="615.30" y1="763.30" x2="615.30" y2="739.38" stroke="#3a3a3a" stroke-width="0.6"/>
<rect x="625.30" y="762.80" width="16.8" height="1.0" fill="#6a6a6a"/>
<line x1="633.70" y1="763.30" x2="633.70" y2="732.02" stroke="#3a3a3a" stroke-width="0.6"/>
<rect x="643.70" y="762.80" width="16.8" height="1.0" fill="#6a6a6a"/>
<line x1="652.10" y1="763.30" x2="652.10" y2="737.54" stroke="#3a3a3a" stroke-width="0.6"/>
<path d="M678.80 763.30C678.47 762.99 677.63 762.23 676.80 761.46C675.97 760.69 674.55 759.62 673.80 758.70C673.05 757.78 672.47 757.01 672.30 755.94C672.13 754.87 672.22 754.10 672.80 752.26C673.38 750.42 674.80 747.35 675.80 744.90C676.80 742.45 678.22 739.53 678.80 737.54C679.38 735.55 679.47 734.32 679.30 732.94C679.13 731.56 678.55 730.33 677.80 729.26C677.05 728.19 675.97 727.19 674.80 726.50C673.63 725.81 671.47 725.35 670.80 725.12L670.80 725.12C670.13 725.35 667.97 725.81 666.80 726.50C665.63 727.19 664.55 728.19 663.80 729.26C663.05 730.33 662.47 731.56 662.30 732.94C662.13 734.32 662.22 735.55 662.80 737.54C663.38 739.53 664.80 742.45 665.80 744.90C666.80 747.35 668.22 750.42 668.80 752.26C669.38 754.10 669.47 754.87 669.30 755.94C669.13 757.01 668.55 757.78 667.80 758.70C667.05 759.62 665.63 760.69 664.80 761.46C663.97 762.23 663.13 762.99 662.80 763.30Z" fill="#55B8EA" stroke="#222" stroke-width="0.55" stroke-linejoin="round"/>
<path d="M585.0 722.8V764.8H681.6" stroke="#222" stroke-width="1.1" fill="none"/>
<line x1="596.90" y1="764.80" x2="596.90" y2="767.00" stroke="#222" stroke-width="0.6"/>
<line x1="615.30" y1="764.80" x2="615.30" y2="767.00" stroke="#222" stroke-width="0.6"/>
<line x1="633.70" y1="764.80" x2="633.70" y2="767.00" stroke="#222" stroke-width="0.6"/>
<line x1="652.10" y1="764.80" x2="652.10" y2="767.00" stroke="#222" stroke-width="0.6"/>
<line x1="670.80" y1="764.80" x2="670.80" y2="767.00" stroke="#222" stroke-width="0.6"/>
<line x1="582.70" y1="754.10" x2="585.00" y2="754.10" stroke="#222" stroke-width="0.6"/>
<text x="581.3" y="756.8" font-size="7.6" text-anchor="end" transform="translate(581.3 756.8) scale(1 1.08) translate(-581.3 -756.8)" stroke="#222" stroke-width="0.1">1</text>
<line x1="582.70" y1="744.90" x2="585.00" y2="744.90" stroke="#222" stroke-width="0.6"/>
<text x="581.3" y="747.6" font-size="7.6" text-anchor="end" transform="translate(581.3 747.6) scale(1 1.08) translate(-581.3 -747.6)" stroke="#222" stroke-width="0.1">2</text>
<line x1="582.70" y1="735.70" x2="585.00" y2="735.70" stroke="#222" stroke-width="0.6"/>
<text x="581.3" y="738.4" font-size="7.6" text-anchor="end" transform="translate(581.3 738.4) scale(1 1.08) translate(-581.3 -738.4)" stroke="#222" stroke-width="0.1">3</text>
<line x1="582.70" y1="726.50" x2="585.00" y2="726.50" stroke="#222" stroke-width="0.6"/>
<text x="581.3" y="729.2" font-size="7.6" text-anchor="end" transform="translate(581.3 729.2) scale(1 1.08) translate(-581.3 -729.2)" stroke="#222" stroke-width="0.1">4</text>
<text x="576.8" y="762.0" font-size="7.6" text-anchor="end" transform="translate(576.8 762.0) scale(1 1.08) translate(-576.8 -762.0)" stroke="#222" stroke-width="0.1">0</text>
<text x="628.2" y="782.4" font-size="9.9" font-weight="bold" font-style="italic" text-anchor="middle" fill="#111" transform="translate(628.2 782.4) scale(1 1.08) translate(-628.2 -782.4)">CCR7</text>
<rect x="588.50" y="825.40" width="16.8" height="1.0" fill="#6a6a6a"/>
<line x1="596.90" y1="825.90" x2="596.90" y2="794.08" stroke="#3a3a3a" stroke-width="0.6"/>
<rect x="606.90" y="825.40" width="16.8" height="1.0" fill="#6a6a6a"/>
<line x1="615.30" y1="825.90" x2="615.30" y2="790.64" stroke="#3a3a3a" stroke-width="0.6"/>
<path d="M641.90 825.90C641.62 825.68 641.03 825.18 640.20 824.61C639.37 824.04 637.78 823.18 636.90 822.46C636.02 821.74 635.13 821.17 634.90 820.31C634.67 819.45 635.17 818.66 635.50 817.30C635.83 815.94 636.47 814.00 636.90 812.14C637.33 810.28 637.95 807.98 638.10 806.12C638.25 804.26 638.10 802.68 637.80 800.96C637.50 799.24 636.78 797.38 636.30 795.80C635.82 794.22 635.33 792.60 634.90 791.50C634.47 790.40 633.90 789.57 633.70 789.18L633.70 789.18C633.50 789.57 632.93 790.40 632.50 791.50C632.07 792.60 631.58 794.22 631.10 795.80C630.62 797.38 629.90 799.24 629.60 800.96C629.30 802.68 629.15 804.26 629.30 806.12C629.45 807.98 630.07 810.28 630.50 812.14C630.93 814.00 631.57 815.94 631.90 817.30C632.23 818.66 632.73 819.45 632.50 820.31C632.27 821.17 631.38 821.74 630.50 822.46C629.62 823.18 628.03 824.04 627.20 824.61C626.37 825.18 625.78 825.68 625.50 825.90Z" fill="#4EA24A" stroke="#222" stroke-width="0.55" stroke-linejoin="round"/>
<path d="M653.30 825.90C653.27 825.61 653.18 825.04 653.10 824.18C653.02 823.32 652.83 821.89 652.80 820.74C652.77 819.59 652.82 818.45 652.90 817.30C652.98 816.15 653.10 815.01 653.30 813.86C653.50 812.71 653.63 811.57 654.10 810.42C654.57 809.27 655.35 808.27 656.10 806.98C656.85 805.69 657.93 804.11 658.60 802.68C659.27 801.25 659.82 799.67 660.10 798.38C660.38 797.09 660.47 796.09 660.30 794.94C660.13 793.79 659.63 792.43 659.10 791.50C658.57 790.57 657.85 789.88 657.10 789.35C656.35 788.82 655.43 788.53 654.60 788.32C653.77 788.10 652.52 788.10 652.10 788.06L652.10 788.06C651.68 788.10 650.43 788.10 649.60 788.32C648.77 788.53 647.85 788.82 647.10 789.35C646.35 789.88 645.63 790.57 645.10 791.50C644.57 792.43 644.07 793.79 643.90 794.94C643.73 796.09 643.82 797.09 644.10 798.38C644.38 799.67 644.93 801.25 645.60 802.68C646.27 804.11 647.35 805.69 648.10 806.98C648.85 808.27 649.63 809.27 650.10 810.42C650.57 811.57 650.70 812.71 650.90 813.86C651.10 815.01 651.22 816.15 651.30 817.30C651.38 818.45 651.43 819.59 651.40 820.74C651.37 821.89 651.18 823.32 651.10 824.18C651.02 825.04 650.93 825.61 650.90 825.90Z" fill="#E8622A" stroke="#222" stroke-width="0.55" stroke-linejoin="round"/>
<path d="M678.80 825.90C678.47 825.68 677.63 825.11 676.80 824.61C675.97 824.11 674.63 823.53 673.80 822.89C672.97 822.25 672.18 822.39 671.80 820.74C671.42 819.09 671.57 815.72 671.50 813.00C671.43 810.28 671.52 807.41 671.40 804.40C671.28 801.39 670.90 796.52 670.80 794.94L670.80 794.94C670.70 796.52 670.32 801.39 670.20 804.40C670.08 807.41 670.17 810.28 670.10 813.00C670.03 815.72 670.18 819.09 669.80 820.74C669.42 822.39 668.63 822.25 667.80 822.89C666.97 823.53 665.63 824.11 664.80 824.61C663.97 825.11 663.13 825.68 662.80 825.90Z" fill="#55B8EA" stroke="#222" stroke-width="0.55" stroke-linejoin="round"/>
<path d="M585.0 786.6V827.9H681.6" stroke="#222" stroke-width="1.1" fill="none"/>
<line x1="596.90" y1="827.90" x2="596.90" y2="830.10" stroke="#222" stroke-width="0.6"/>
<line x1="615.30" y1="827.90" x2="615.30" y2="830.10" stroke="#222" stroke-width="0.6"/>
<line x1="633.70" y1="827.90" x2="633.70" y2="830.10" stroke="#222" stroke-width="0.6"/>
<line x1="652.10" y1="827.90" x2="652.10" y2="830.10" stroke="#222" stroke-width="0.6"/>
<line x1="670.80" y1="827.90" x2="670.80" y2="830.10" stroke="#222" stroke-width="0.6"/>
<line x1="582.70" y1="825.90" x2="585.00" y2="825.90" stroke="#222" stroke-width="0.6"/>
<text x="581.3" y="828.6" font-size="7.6" text-anchor="end" transform="translate(581.3 828.6) scale(1 1.08) translate(-581.3 -828.6)" stroke="#222" stroke-width="0.1">0</text>
<line x1="582.70" y1="817.30" x2="585.00" y2="817.30" stroke="#222" stroke-width="0.6"/>
<text x="581.3" y="820.0" font-size="7.6" text-anchor="end" transform="translate(581.3 820.0) scale(1 1.08) translate(-581.3 -820.0)" stroke="#222" stroke-width="0.1">1</text>
<line x1="582.70" y1="808.70" x2="585.00" y2="808.70" stroke="#222" stroke-width="0.6"/>
<text x="581.3" y="811.4" font-size="7.6" text-anchor="end" transform="translate(581.3 811.4) scale(1 1.08) translate(-581.3 -811.4)" stroke="#222" stroke-width="0.1">2</text>
<line x1="582.70" y1="800.10" x2="585.00" y2="800.10" stroke="#222" stroke-width="0.6"/>
<text x="581.3" y="802.8" font-size="7.6" text-anchor="end" transform="translate(581.3 802.8) scale(1 1.08) translate(-581.3 -802.8)" stroke="#222" stroke-width="0.1">3</text>
<line x1="582.70" y1="791.50" x2="585.00" y2="791.50" stroke="#222" stroke-width="0.6"/>
<text x="581.3" y="794.2" font-size="7.6" text-anchor="end" transform="translate(581.3 794.2) scale(1 1.08) translate(-581.3 -794.2)" stroke="#222" stroke-width="0.1">4</text>
<text x="321.2" y="714.7" font-size="8.9" text-anchor="middle" transform="rotate(-90 321.2 714.7) translate(321.2 714.7) scale(1 1.08) translate(-321.2 -714.7)" stroke="#222" stroke-width="0.2">Expression Level</text>
<text x="349.0" y="836.5" font-size="8.0" text-anchor="end" transform="rotate(-64 349.0 836.5) translate(349.0 836.5) scale(1 1.08) translate(-349.0 -836.5)" stroke="#222" stroke-width="0.1">TREM1 Myeloid</text>
<text x="367.4" y="836.5" font-size="8.0" text-anchor="end" transform="rotate(-64 367.4 836.5) translate(367.4 836.5) scale(1 1.08) translate(-367.4 -836.5)" stroke="#222" stroke-width="0.1">TREM2 Myeloid</text>
<text x="385.8" y="836.5" font-size="8.0" text-anchor="end" transform="rotate(-64 385.8 836.5) translate(385.8 836.5) scale(1 1.08) translate(-385.8 -836.5)" stroke="#222" stroke-width="0.1">Dendritic Cells 1</text>
<text x="404.2" y="836.5" font-size="8.0" text-anchor="end" transform="rotate(-64 404.2 836.5) translate(404.2 836.5) scale(1 1.08) translate(-404.2 -836.5)" stroke="#222" stroke-width="0.1">Dendritic Cells 2</text>
<text x="422.9" y="836.5" font-size="8.0" text-anchor="end" transform="rotate(-64 422.9 836.5) translate(422.9 836.5) scale(1 1.08) translate(-422.9 -836.5)" stroke="#222" stroke-width="0.1">Langerhans Cells</text>
<text x="443.7" y="714.7" font-size="8.9" text-anchor="middle" transform="rotate(-90 443.7 714.7) translate(443.7 714.7) scale(1 1.08) translate(-443.7 -714.7)" stroke="#222" stroke-width="0.2">Expression Level</text>
<text x="474.9" y="836.5" font-size="8.0" text-anchor="end" transform="rotate(-64 474.9 836.5) translate(474.9 836.5) scale(1 1.08) translate(-474.9 -836.5)" stroke="#222" stroke-width="0.1">TREM1 Myeloid</text>
<text x="493.3" y="836.5" font-size="8.0" text-anchor="end" transform="rotate(-64 493.3 836.5) translate(493.3 836.5) scale(1 1.08) translate(-493.3 -836.5)" stroke="#222" stroke-width="0.1">TREM2 Myeloid</text>
<text x="511.7" y="836.5" font-size="8.0" text-anchor="end" transform="rotate(-64 511.7 836.5) translate(511.7 836.5) scale(1 1.08) translate(-511.7 -836.5)" stroke="#222" stroke-width="0.1">Dendritic Cells 1</text>
<text x="530.1" y="836.5" font-size="8.0" text-anchor="end" transform="rotate(-64 530.1 836.5) translate(530.1 836.5) scale(1 1.08) translate(-530.1 -836.5)" stroke="#222" stroke-width="0.1">Dendritic Cells 2</text>
<text x="548.8" y="836.5" font-size="8.0" text-anchor="end" transform="rotate(-64 548.8 836.5) translate(548.8 836.5) scale(1 1.08) translate(-548.8 -836.5)" stroke="#222" stroke-width="0.1">Langerhans Cells</text>
<text x="568.6" y="714.7" font-size="8.9" text-anchor="middle" transform="rotate(-90 568.6 714.7) translate(568.6 714.7) scale(1 1.08) translate(-568.6 -714.7)" stroke="#222" stroke-width="0.2">Expression Level</text>
<text x="599.3" y="836.5" font-size="8.0" text-anchor="end" transform="rotate(-64 599.3 836.5) translate(599.3 836.5) scale(1 1.08) translate(-599.3 -836.5)" stroke="#222" stroke-width="0.1">TREM1 Myeloid</text>
<text x="617.7" y="836.5" font-size="8.0" text-anchor="end" transform="rotate(-64 617.7 836.5) translate(617.7 836.5) scale(1 1.08) translate(-617.7 -836.5)" stroke="#222" stroke-width="0.1">TREM2 Myeloid</text>
<text x="636.1" y="836.5" font-size="8.0" text-anchor="end" transform="rotate(-64 636.1 836.5) translate(636.1 836.5) scale(1 1.08) translate(-636.1 -836.5)" stroke="#222" stroke-width="0.1">Dendritic Cells 1</text>
<text x="654.5" y="836.5" font-size="8.0" text-anchor="end" transform="rotate(-64 654.5 836.5) translate(654.5 836.5) scale(1 1.08) translate(-654.5 -836.5)" stroke="#222" stroke-width="0.1">Dendritic Cells 2</text>
<text x="673.2" y="836.5" font-size="8.0" text-anchor="end" transform="rotate(-64 673.2 836.5) translate(673.2 836.5) scale(1 1.08) translate(-673.2 -836.5)" stroke="#222" stroke-width="0.1">Langerhans Cells</text>
</svg></body></html>
